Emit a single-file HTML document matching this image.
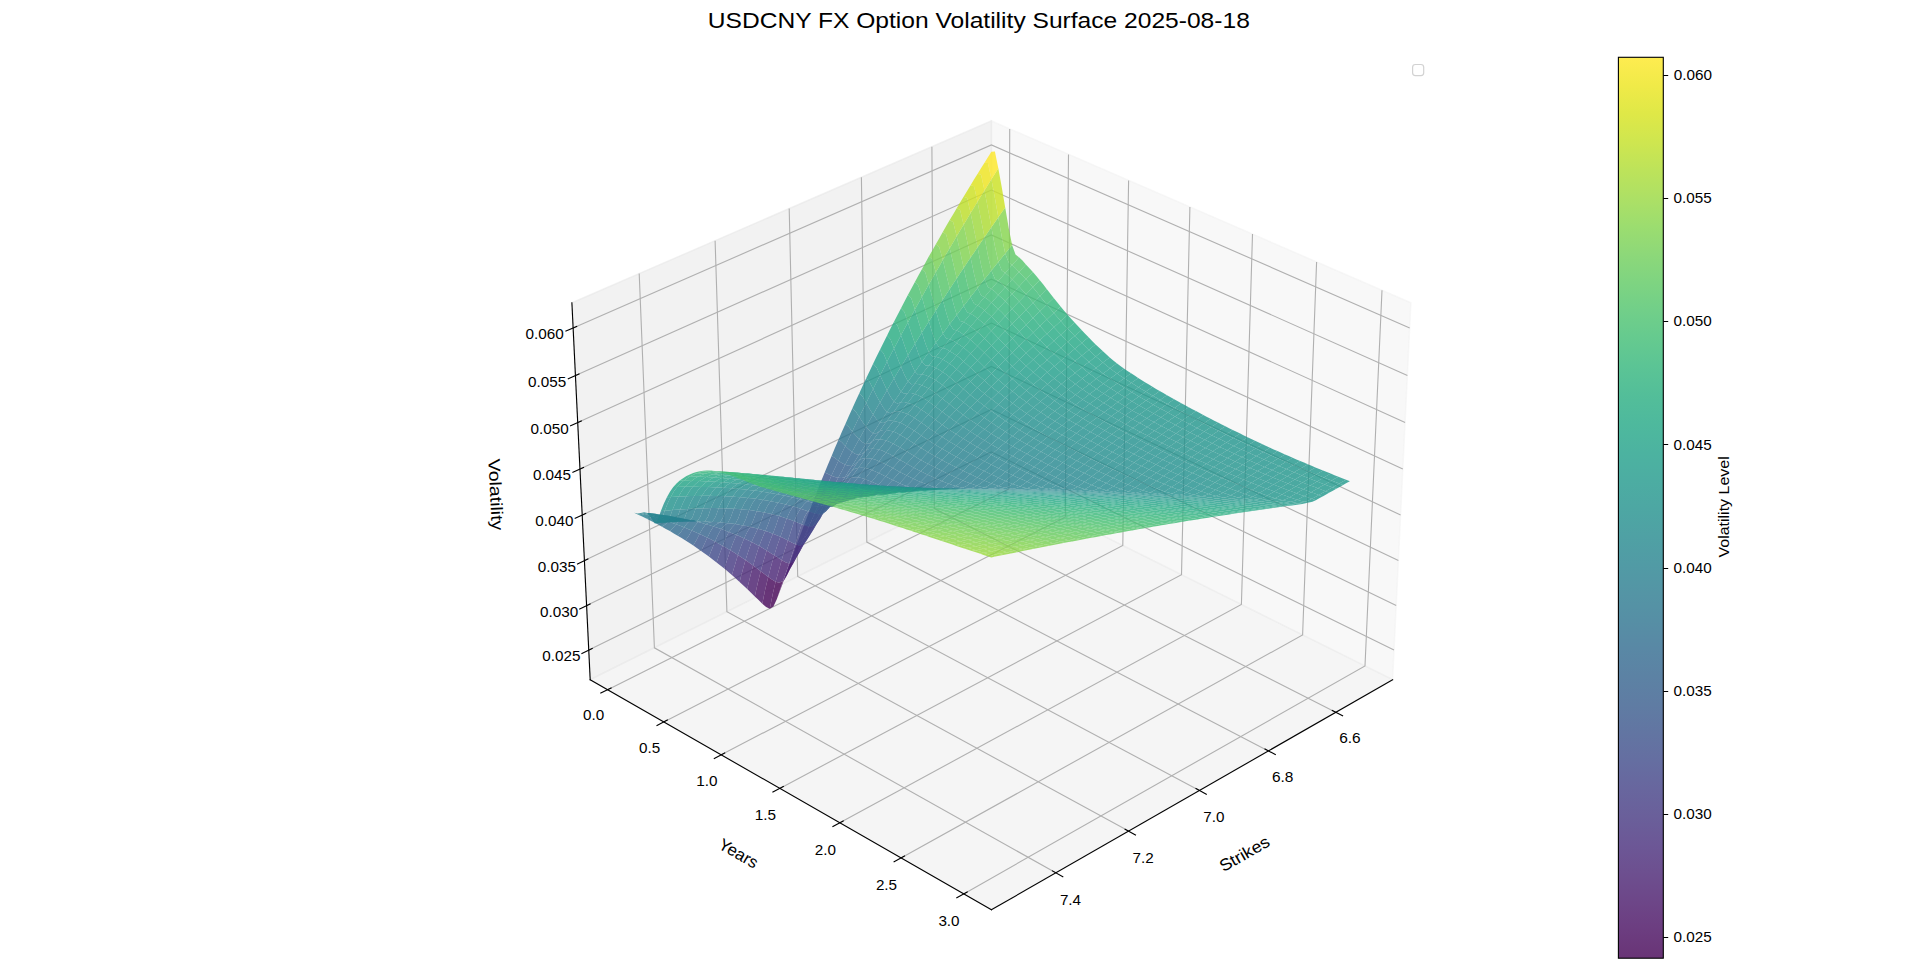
<!DOCTYPE html><html><head><meta charset="utf-8"><title>USDCNY FX Option Volatility Surface</title><style>html,body{margin:0;padding:0;background:#fff;overflow:hidden}svg{display:block}</style></head><body><svg width="1920" height="973" viewBox="0 0 1920 973" shape-rendering="auto"><polygon points="991.4,480.2 1392.6,679.7 1410.9,302.8 991.4,120.9" fill="#f2f2f2" fill-opacity="0.50" stroke="#f2f2f2" stroke-opacity="0.50" stroke-width="1.39"/><polygon points="991.4,480.2 590.2,679.7 571.9,302.8 991.4,120.9" fill="#e6e6e6" fill-opacity="0.50" stroke="#e6e6e6" stroke-opacity="0.50" stroke-width="1.39"/><polygon points="991.4,480.2 590.2,679.7 991.4,909.8 1392.6,679.7" fill="#ececec" fill-opacity="0.50" stroke="#ececec" stroke-opacity="0.50" stroke-width="1.39"/><path d="M1335.7,712.3 L934.3,508.6 L931.9,146.7 M1268.4,750.9 L866.8,542.1 L861.4,177.3 M1199.4,790.5 L797.7,576.5 L789.2,208.6 M1128.6,831.1 L726.9,611.7 L715.1,240.7 M1055.8,872.8 L654.4,647.8 L639.2,273.6" fill="none" stroke="#b0b0b0" stroke-width="1.11"/><path d="M1009.7,128.9 L1008.9,488.9 L607.7,689.7 M1068.5,154.4 L1065.3,516.9 L663.8,721.9 M1128.6,180.4 L1122.8,545.5 L721.2,754.8 M1189.9,207 L1181.5,574.7 L779.8,788.4 M1252.5,234.1 L1241.4,604.5 L839.8,822.8 M1316.6,261.9 L1302.6,634.9 L901,858 M1382,290.2 L1365,666 L963.7,893.9" fill="none" stroke="#b0b0b0" stroke-width="1.11"/><path d="M588.8,650.1 L991.4,451.9 L1394,650.1 M586.6,605.6 L991.4,409.4 L1396.2,605.6 M584.4,560.6 L991.4,366.4 L1398.4,560.6 M582.2,515 L991.4,323 L1400.6,515 M580,469 L991.4,279.2 L1402.8,469 M577.7,422.5 L991.4,234.9 L1405.1,422.5 M575.5,375.5 L991.4,190.1 L1407.4,375.5 M573.1,328 L991.4,144.9 L1409.7,328" fill="none" stroke="#b0b0b0" stroke-width="1.11"/><path d="M1392.6,679.7 L991.4,909.8" fill="none" stroke="#000" stroke-width="1.11" stroke-linecap="square"/><path d="M1332.3,710.5 L1342.6,715.8 M1265,749.1 L1275.3,754.5 M1196,788.6 L1206.3,794.2 M1125.1,829.2 L1135.5,834.9 M1052.4,870.9 L1062.8,876.7" fill="none" stroke="#000" stroke-width="1.11" stroke-linecap="square"/><path d="M590.2,679.7 L991.4,909.8" fill="none" stroke="#000" stroke-width="1.11" stroke-linecap="square"/><path d="M611.1,688 L600.8,693.1 M667.3,720.1 L657,725.4 M724.7,753 L714.3,758.4 M783.3,786.6 L772.9,792.1 M843.2,820.9 L832.9,826.6 M904.5,856.1 L894.1,861.8 M967.2,891.9 L956.8,897.8" fill="none" stroke="#000" stroke-width="1.11" stroke-linecap="square"/><path d="M590.2,679.7 L571.9,302.8" fill="none" stroke="#000" stroke-width="1.11" stroke-linecap="square"/><path d="M592.2,648.4 L581.9,653.5 M590.1,603.9 L579.7,608.9 M587.9,558.9 L577.5,563.9 M585.7,513.4 L575.2,518.3 M583.5,467.4 L572.9,472.3 M581.3,420.9 L570.6,425.8 M579,373.9 L568.3,378.7 M576.7,326.4 L565.9,331.1" fill="none" stroke="#000" stroke-width="1.11" stroke-linecap="square"/><g fill-opacity="0.80"><path d="M1012.1 245.1 1008.7 249.3 1005.2 253.5 1008.7 262.5 1012.1 265.1 1015.6 261.2 1019 257.3 1015.5 254.5 1012.1 245.1Z" fill="#5cc863"/><path d="M1019 257.3 1015.6 261.2 1012.1 265.1 1015.6 268.2 1019 272 1022.5 268.3 1025.9 264.5 1022.5 260.5 1019 257.3Z" fill="#54c568"/><path d="M1005.2 253.5 1001.8 257.8 998.3 262 1001.8 270.6 1005.2 273 1008.7 269 1012.1 265.1 1008.7 262.5 1005.2 253.5Z" fill="#54c568"/><path d="M1005.2 207.4 1001.8 212.3 998.3 217.3 1001.8 237 1005.2 253.5 1008.7 249.3 1012.1 245.1 1008.7 228 1005.2 207.4Z" fill="#84d44b"/><path d="M998.3 262 994.9 266.3 991.4 270.6 994.9 278.7 998.3 281 1001.8 277 1005.2 273 1001.8 270.6 998.3 262Z" fill="#4cc26c"/><path d="M1012.1 265.1 1008.7 269 1005.2 273 1008.7 275.9 1012.1 279.6 1015.6 275.8 1019 272 1015.6 268.2 1012.1 265.1Z" fill="#4cc26c"/><path d="M1025.9 264.5 1022.5 268.3 1019 272 1022.5 275.6 1026 279.2 1029.4 275.5 1032.9 271.9 1029.4 268.2 1025.9 264.5Z" fill="#4ec36b"/><path d="M998.3 217.3 994.9 222.2 991.4 227.2 994.9 246.2 998.3 262 1001.8 257.8 1005.2 253.5 1001.8 237 998.3 217.3Z" fill="#77d153"/><path d="M991.4 270.6 988 274.9 984.5 279.3 987.9 287 991.4 289 994.9 285 998.3 281 994.9 278.7 991.4 270.6Z" fill="#44bf70"/><path d="M1005.2 273 1001.8 277 998.3 281 1001.8 283.7 1005.2 287.2 1008.7 283.4 1012.1 279.6 1008.7 275.9 1005.2 273Z" fill="#46c06f"/><path d="M1032.9 271.9 1029.4 275.5 1026 279.2 1029.4 283 1032.9 287.2 1036.4 283.7 1039.8 280.2 1036.3 275.9 1032.9 271.9Z" fill="#46c06f"/><path d="M1019 272 1015.6 275.8 1012.1 279.6 1015.6 283 1019.1 286.5 1022.5 282.8 1026 279.2 1022.5 275.6 1019 272Z" fill="#46c06f"/><path d="M991.4 227.2 987.9 232.2 984.5 237.2 987.9 255.4 991.4 270.6 994.9 266.3 998.3 262 994.9 246.2 991.4 227.2Z" fill="#6ece58"/><path d="M984.5 279.3 981 283.6 977.6 288 981 295.3 984.5 297.2 987.9 293.1 991.4 289 987.9 287 984.5 279.3Z" fill="#3dbc74"/><path d="M1039.8 280.2 1036.4 283.7 1032.9 287.2 1036.4 291.5 1039.9 295.9 1043.3 292.5 1046.7 289.1 1043.3 284.6 1039.8 280.2Z" fill="#3fbc73"/><path d="M998.3 281 994.9 285 991.4 289 994.9 291.6 998.3 295 1001.8 291.1 1005.2 287.2 1001.8 283.7 998.3 281Z" fill="#3fbc73"/><path d="M1012.1 279.6 1008.7 283.4 1005.2 287.2 1008.7 290.5 1012.2 293.9 1015.6 290.2 1019.1 286.5 1015.6 283 1012.1 279.6Z" fill="#40bd72"/><path d="M1026 279.2 1022.5 282.8 1019.1 286.5 1022.5 290.2 1026 294.3 1029.5 290.8 1032.9 287.2 1029.4 283 1026 279.2Z" fill="#40bd72"/><path d="M984.5 237.2 981 242.2 977.6 247.3 981 264.8 984.5 279.3 988 274.9 991.4 270.6 987.9 255.4 984.5 237.2Z" fill="#63cb5f"/><path d="M977.6 288 974.1 292.5 970.6 296.9 974.1 303.8 977.6 305.4 981 301.3 984.5 297.2 981 295.3 977.6 288Z" fill="#37b878"/><path d="M1046.7 289.1 1043.3 292.5 1039.9 295.9 1043.3 300.2 1046.8 304.5 1050.2 301.2 1053.7 297.9 1050.2 293.5 1046.7 289.1Z" fill="#38b977"/><path d="M977.6 247.3 974.1 252.4 970.6 257.5 974.1 274.2 977.6 288 981 283.6 984.5 279.3 981 264.8 977.6 247.3Z" fill="#58c765"/><path d="M991.4 289 987.9 293.1 984.5 297.2 987.9 299.6 991.4 302.8 994.9 298.9 998.3 295 994.9 291.6 991.4 289Z" fill="#3aba76"/><path d="M1032.9 287.2 1029.5 290.8 1026 294.3 1029.5 298.5 1033 302.8 1036.4 299.3 1039.9 295.9 1036.4 291.5 1032.9 287.2Z" fill="#3aba76"/><path d="M1005.2 287.2 1001.8 291.1 998.3 295 1001.8 298.1 1005.3 301.3 1008.7 297.6 1012.2 293.9 1008.7 290.5 1005.2 287.2Z" fill="#3bbb75"/><path d="M1019.1 286.5 1015.6 290.2 1012.2 293.9 1015.6 297.5 1019.1 301.5 1022.6 297.9 1026 294.3 1022.5 290.2 1019.1 286.5Z" fill="#3bbb75"/><path d="M970.6 296.9 967.2 301.4 963.7 305.9 967.2 312.3 970.6 313.7 974.1 309.6 977.6 305.4 974.1 303.8 970.6 296.9Z" fill="#31b57b"/><path d="M970.6 257.5 967.1 262.7 963.7 267.9 967.2 283.8 970.6 296.9 974.1 292.5 977.6 288 974.1 274.2 970.6 257.5Z" fill="#4ec36b"/><path d="M1053.7 297.9 1050.2 301.2 1046.8 304.5 1050.3 308.8 1053.8 313 1057.2 309.8 1060.6 306.6 1057.2 302.3 1053.7 297.9Z" fill="#32b67a"/><path d="M984.5 297.2 981 301.3 977.6 305.4 981 307.6 984.5 310.6 987.9 306.7 991.4 302.8 987.9 299.6 984.5 297.2Z" fill="#34b679"/><path d="M998.3 168.3 994.9 173.8 991.4 179.3 994.9 197.9 998.3 217.3 1001.8 212.3 1005.2 207.4 1001.8 187.5 998.3 168.3Z" fill="#cae11f"/><path d="M1039.9 295.9 1036.4 299.3 1033 302.8 1036.4 307 1039.9 311.2 1043.4 307.9 1046.8 304.5 1043.3 300.2 1039.9 295.9Z" fill="#34b679"/><path d="M1026 294.3 1022.6 297.9 1019.1 301.5 1022.6 305.6 1026.1 309.7 1029.5 306.2 1033 302.8 1029.5 298.5 1026 294.3Z" fill="#35b779"/><path d="M998.3 295 994.9 298.9 991.4 302.8 994.9 305.8 998.3 308.9 1001.8 305.1 1005.3 301.3 1001.8 298.1 998.3 295Z" fill="#35b779"/><path d="M963.7 267.9 960.2 273.1 956.7 278.4 960.2 293.5 963.7 305.9 967.2 301.4 970.6 296.9 967.2 283.8 963.7 267.9Z" fill="#44bf70"/><path d="M1012.2 293.9 1008.7 297.6 1005.3 301.3 1008.7 304.9 1012.2 308.8 1015.7 305.1 1019.1 301.5 1015.6 297.5 1012.2 293.9Z" fill="#37b878"/><path d="M963.7 305.9 960.2 310.4 956.8 314.9 960.2 320.9 963.7 322.1 967.1 317.9 970.6 313.7 967.2 312.3 963.7 305.9Z" fill="#2cb17e"/><path d="M991.4 179.3 987.9 184.9 984.5 190.4 987.9 208.5 991.4 227.2 994.9 222.2 998.3 217.3 994.9 197.9 991.4 179.3Z" fill="#bade28"/><path d="M1060.6 306.6 1057.2 309.8 1053.8 313 1057.3 317.1 1060.8 321.1 1064.2 317.9 1067.6 314.8 1064.1 310.8 1060.6 306.6Z" fill="#2db27d"/><path d="M1046.8 304.5 1043.4 307.9 1039.9 311.2 1043.4 315.4 1046.9 319.5 1050.3 316.2 1053.8 313 1050.3 308.8 1046.8 304.5Z" fill="#2eb37c"/><path d="M977.6 305.4 974.1 309.6 970.6 313.7 974.1 315.7 977.5 318.6 981 314.6 984.5 310.6 981 307.6 977.6 305.4Z" fill="#2eb37c"/><path d="M956.7 278.4 953.3 283.6 949.8 289 953.3 303.2 956.8 314.9 960.2 310.4 963.7 305.9 960.2 293.5 956.7 278.4Z" fill="#3bbb75"/><path d="M984.5 190.4 981 196.1 977.5 201.7 981 219.2 984.5 237.2 987.9 232.2 991.4 227.2 987.9 208.5 984.5 190.4Z" fill="#addc30"/><path d="M1033 302.8 1029.5 306.2 1026.1 309.7 1029.5 313.8 1033 317.9 1036.5 314.6 1039.9 311.2 1036.4 307 1033 302.8Z" fill="#2fb47c"/><path d="M991.4 302.8 987.9 306.7 984.5 310.6 987.9 313.5 991.4 316.5 994.9 312.7 998.3 308.9 994.9 305.8 991.4 302.8Z" fill="#31b57b"/><path d="M956.8 314.9 953.3 319.5 949.8 324.1 953.3 329.6 956.7 330.6 960.2 326.4 963.7 322.1 960.2 320.9 956.8 314.9Z" fill="#27ad81"/><path d="M1019.1 301.5 1015.7 305.1 1012.2 308.8 1015.7 312.7 1019.2 316.7 1022.6 313.2 1026.1 309.7 1022.6 305.6 1019.1 301.5Z" fill="#31b57b"/><path d="M1005.3 301.3 1001.8 305.1 998.3 308.9 1001.8 312.3 1005.3 316.1 1008.7 312.4 1012.2 308.8 1008.7 304.9 1005.3 301.3Z" fill="#32b67a"/><path d="M977.5 201.7 974 207.4 970.6 213.1 974.1 230.1 977.6 247.3 981 242.2 984.5 237.2 981 219.2 977.5 201.7Z" fill="#9dd93b"/><path d="M1067.6 314.8 1064.2 317.9 1060.8 321.1 1064.2 324.9 1067.7 328.6 1071.2 325.5 1074.6 322.5 1071.1 318.8 1067.6 314.8Z" fill="#28ae80"/><path d="M949.8 289 946.3 294.3 942.8 299.7 946.3 313.1 949.8 324.1 953.3 319.5 956.8 314.9 953.3 303.2 949.8 289Z" fill="#34b679"/><path d="M1053.8 313 1050.3 316.2 1046.9 319.5 1050.4 323.5 1053.9 327.3 1057.3 324.2 1060.8 321.1 1057.3 317.1 1053.8 313Z" fill="#29af7f"/><path d="M970.6 313.7 967.1 317.9 963.7 322.1 967.1 323.9 970.6 326.6 974.1 322.6 977.5 318.6 974.1 315.7 970.6 313.7Z" fill="#29af7f"/><path d="M783.6 580.9 780.2 590.3 776.8 599.2 779.9 590.2 782.9 581.1 786.5 576.1 789.9 569.3 786.8 575.4 783.6 580.9Z" fill="#46085c"/><path d="M970.6 213.1 967.1 218.9 963.6 224.7 967.1 241 970.6 257.5 974.1 252.4 977.6 247.3 974.1 230.1 970.6 213.1Z" fill="#8ed645"/><path d="M1039.9 311.2 1036.5 314.6 1033 317.9 1036.5 322 1040 326 1043.4 322.7 1046.9 319.5 1043.4 315.4 1039.9 311.2Z" fill="#2ab07f"/><path d="M949.8 324.1 946.3 328.7 942.9 333.4 946.3 338.5 949.8 339.2 953.2 334.9 956.7 330.6 953.3 329.6 949.8 324.1Z" fill="#23a983"/><path d="M984.5 310.6 981 314.6 977.5 318.6 981 321.3 984.5 324.1 987.9 320.3 991.4 316.5 987.9 313.5 984.5 310.6Z" fill="#2cb17e"/><path d="M1026.1 309.7 1022.6 313.2 1019.2 316.7 1022.6 320.7 1026.1 324.7 1029.6 321.3 1033 317.9 1029.5 313.8 1026.1 309.7Z" fill="#2cb17e"/><path d="M942.8 299.7 939.3 305.1 935.9 310.5 939.4 323.1 942.9 333.4 946.3 328.7 949.8 324.1 946.3 313.1 942.8 299.7Z" fill="#2db27d"/><path d="M790.4 561.9 787 571.4 783.6 580.9 786.8 575.4 789.9 569.3 793.4 561.8 796.8 554 793.6 558.4 790.4 561.9Z" fill="#481769"/><path d="M1012.2 308.8 1008.7 312.4 1005.3 316.1 1008.8 319.9 1012.2 323.8 1015.7 320.3 1019.2 316.7 1015.7 312.7 1012.2 308.8Z" fill="#2db27d"/><path d="M998.3 308.9 994.9 312.7 991.4 316.5 994.9 319.8 998.3 323.4 1001.8 319.7 1005.3 316.1 1001.8 312.3 998.3 308.9Z" fill="#2db27d"/><path d="M991.4 151.8 987.9 157.3 984.5 162.8 987.9 163 991.4 179.3 994.9 173.8 998.3 168.3 994.9 151.6 991.4 151.8Z" fill="#fde725"/><path d="M963.6 224.7 960.1 230.5 956.7 236.3 960.2 252.1 963.7 267.9 967.1 262.7 970.6 257.5 967.1 241 963.6 224.7Z" fill="#7fd34e"/><path d="M776.8 599.2 773.4 606.4 769.8 608.8 772.7 594.3 775.6 581.8 779.3 582.8 782.9 581.1 779.9 590.2 776.8 599.2Z" fill="#440154"/><path d="M1074.6 322.5 1071.2 325.5 1067.7 328.6 1071.2 332.2 1074.7 335.9 1078.2 332.9 1081.6 330 1078.1 326.3 1074.6 322.5Z" fill="#25ac82"/><path d="M963.7 322.1 960.2 326.4 956.7 330.6 960.2 332.2 963.6 334.7 967.1 330.7 970.6 326.6 967.1 323.9 963.7 322.1Z" fill="#25ac82"/><path d="M1060.8 321.1 1057.3 324.2 1053.9 327.3 1057.4 331.1 1060.9 334.7 1064.3 331.6 1067.7 328.6 1064.2 324.9 1060.8 321.1Z" fill="#26ad81"/><path d="M942.9 333.4 939.4 338.1 935.9 342.8 939.3 347.4 942.8 347.9 946.3 343.5 949.8 339.2 946.3 338.5 942.9 333.4Z" fill="#21a585"/><path d="M984.5 162.8 981 168.3 977.5 173.9 981 174.6 984.5 190.4 987.9 184.9 991.4 179.3 987.9 163 984.5 162.8Z" fill="#efe51c"/><path d="M935.9 310.5 932.4 316 928.9 321.5 932.4 333.3 935.9 342.8 939.4 338.1 942.9 333.4 939.4 323.1 935.9 310.5Z" fill="#26ad81"/><path d="M797.2 543.2 793.8 552.5 790.4 561.9 793.6 558.4 796.8 554 800.3 546 803.8 538.1 800.5 541.1 797.2 543.2Z" fill="#482576"/><path d="M956.7 236.3 953.2 242.2 949.7 248.2 953.2 263.3 956.7 278.4 960.2 273.1 963.7 267.9 960.2 252.1 956.7 236.3Z" fill="#70cf57"/><path d="M1046.9 319.5 1043.4 322.7 1040 326 1043.5 329.9 1047 333.7 1050.4 330.5 1053.9 327.3 1050.4 323.5 1046.9 319.5Z" fill="#27ad81"/><path d="M1033 317.9 1029.6 321.3 1026.1 324.7 1029.6 328.7 1033.1 332.6 1036.5 329.3 1040 326 1036.5 322 1033 317.9Z" fill="#28ae80"/><path d="M977.5 318.6 974.1 322.6 970.6 326.6 974 329.2 977.5 331.9 981 328 984.5 324.1 981 321.3 977.5 318.6Z" fill="#28ae80"/><path d="M977.5 173.9 974 179.6 970.6 185.2 974 186.2 977.5 201.7 981 196.1 984.5 190.4 981 174.6 977.5 173.9Z" fill="#dfe318"/><path d="M949.7 248.2 946.2 254.1 942.8 260.1 946.3 274.6 949.8 289 953.3 283.6 956.7 278.4 953.2 263.3 949.7 248.2Z" fill="#60ca60"/><path d="M1019.2 316.7 1015.7 320.3 1012.2 323.8 1015.7 327.7 1019.2 331.6 1022.7 328.2 1026.1 324.7 1022.6 320.7 1019.2 316.7Z" fill="#29af7f"/><path d="M804.1 524.9 800.7 534 797.2 543.2 800.5 541.1 803.8 538.1 807.2 530.1 810.7 522.2 807.4 524 804.1 524.9Z" fill="#46337f"/><path d="M928.9 321.5 925.4 327 921.9 332.6 925.4 343.5 928.9 352.3 932.4 347.6 935.9 342.8 932.4 333.3 928.9 321.5Z" fill="#22a884"/><path d="M991.4 316.5 987.9 320.3 984.5 324.1 987.9 327.3 991.4 330.9 994.9 327.1 998.3 323.4 994.9 319.8 991.4 316.5Z" fill="#29af7f"/><path d="M1005.3 316.1 1001.8 319.7 998.3 323.4 1001.8 327.2 1005.3 330.9 1008.8 327.4 1012.2 323.8 1008.8 319.9 1005.3 316.1Z" fill="#29af7f"/><path d="M956.7 330.6 953.2 334.9 949.8 339.2 953.2 340.6 956.7 342.9 960.1 338.8 963.6 334.7 960.2 332.2 956.7 330.6Z" fill="#22a884"/><path d="M1081.6 330 1078.2 332.9 1074.7 335.9 1078.3 339.5 1081.8 343 1085.2 340.1 1088.6 337.3 1085.1 333.7 1081.6 330Z" fill="#23a983"/><path d="M935.9 342.8 932.4 347.6 928.9 352.3 932.4 356.5 935.8 356.7 939.3 352.3 942.8 347.9 939.3 347.4 935.9 342.8Z" fill="#1fa188"/><path d="M970.6 185.2 967.1 190.9 963.6 196.7 967.1 198.1 970.6 213.1 974 207.4 977.5 201.7 974 186.2 970.6 185.2Z" fill="#cde11d"/><path d="M942.8 260.1 939.3 266.2 935.8 272.3 939.3 286 942.8 299.7 946.3 294.3 949.8 289 946.3 274.6 942.8 260.1Z" fill="#54c568"/><path d="M1067.7 328.6 1064.3 331.6 1060.9 334.7 1064.4 338.2 1067.9 341.8 1071.3 338.8 1074.7 335.9 1071.2 332.2 1067.7 328.6Z" fill="#24aa83"/><path d="M810.9 507 807.5 515.9 804.1 524.9 807.4 524 810.7 522.2 814.1 514.3 817.6 506.5 814.3 507.1 810.9 507Z" fill="#424086"/><path d="M1053.9 327.3 1050.4 330.5 1047 333.7 1050.5 337.3 1054 340.8 1057.4 337.7 1060.9 334.7 1057.4 331.1 1053.9 327.3Z" fill="#24aa83"/><path d="M963.6 196.7 960.1 202.5 956.7 208.3 960.1 210 963.6 224.7 967.1 218.9 970.6 213.1 967.1 198.1 963.6 196.7Z" fill="#bddf26"/><path d="M921.9 332.6 918.4 338.2 915 343.8 918.5 353.9 921.9 362 925.4 357.1 928.9 352.3 925.4 343.5 921.9 332.6Z" fill="#1fa287"/><path d="M935.8 272.3 932.3 278.4 928.8 284.5 932.3 297.6 935.9 310.5 939.3 305.1 942.8 299.7 939.3 286 935.8 272.3Z" fill="#48c16e"/><path d="M970.6 326.6 967.1 330.7 963.6 334.7 967.1 337.2 970.5 339.7 974 335.8 977.5 331.9 974 329.2 970.6 326.6Z" fill="#25ab82"/><path d="M1040 326 1036.5 329.3 1033.1 332.6 1036.6 336.4 1040.1 340.1 1043.5 336.8 1047 333.7 1043.5 329.9 1040 326Z" fill="#25ab82"/><path d="M1026.1 324.7 1022.7 328.2 1019.2 331.6 1022.7 335.4 1026.2 339.2 1029.6 335.9 1033.1 332.6 1029.6 328.7 1026.1 324.7Z" fill="#25ac82"/><path d="M956.7 208.3 953.2 214.2 949.7 220.1 953.2 222.2 956.7 236.3 960.1 230.5 963.6 224.7 960.1 210 956.7 208.3Z" fill="#aadc32"/><path d="M928.9 352.3 925.4 357.1 921.9 362 925.4 365.6 928.8 365.6 932.3 361.1 935.8 356.7 932.4 356.5 928.9 352.3Z" fill="#1e9d89"/><path d="M817.8 489.6 814.4 498.2 810.9 507 814.3 507.1 817.6 506.5 821 498.7 824.5 491 821.1 490.5 817.8 489.6Z" fill="#3e4c8a"/><path d="M949.8 339.2 946.3 343.5 942.8 347.9 946.2 349.1 949.7 351.2 953.2 347.1 956.7 342.9 953.2 340.6 949.8 339.2Z" fill="#20a486"/><path d="M984.5 324.1 981 328 977.5 331.9 981 335 984.5 338.4 987.9 334.6 991.4 330.9 987.9 327.3 984.5 324.1Z" fill="#26ad81"/><path d="M1012.2 323.8 1008.8 327.4 1005.3 330.9 1008.8 334.7 1012.3 338.5 1015.7 335 1019.2 331.6 1015.7 327.7 1012.2 323.8Z" fill="#26ad81"/><path d="M928.8 284.5 925.3 290.7 921.9 297 925.4 309.4 928.9 321.5 932.4 316 935.9 310.5 932.3 297.6 928.8 284.5Z" fill="#3bbb75"/><path d="M998.3 323.4 994.9 327.1 991.4 330.9 994.9 334.5 998.4 338.2 1001.8 334.5 1005.3 330.9 1001.8 327.2 998.3 323.4Z" fill="#26ad81"/><path d="M915 343.8 911.5 349.5 908 355.2 911.5 364.5 915 371.7 918.5 366.8 921.9 362 918.5 353.9 915 343.8Z" fill="#1f9e89"/><path d="M949.7 220.1 946.2 226.1 942.8 232.1 946.2 234.5 949.7 248.2 953.2 242.2 956.7 236.3 953.2 222.2 949.7 220.1Z" fill="#98d83e"/><path d="M1088.6 337.3 1085.2 340.1 1081.8 343 1085.3 346.5 1088.8 349.9 1092.2 347.1 1095.6 344.4 1092.1 340.9 1088.6 337.3Z" fill="#21a685"/><path d="M824.7 472.6 821.2 481 817.8 489.6 821.1 490.5 824.5 491 828 483.3 831.4 475.7 828.1 474.1 824.7 472.6Z" fill="#39568c"/><path d="M921.9 297 918.4 303.3 914.9 309.6 918.4 321.3 921.9 332.6 925.4 327 928.9 321.5 925.4 309.4 921.9 297Z" fill="#32b67a"/><path d="M769.8 608.8 766.1 607 762.3 603.7 765.2 589.5 768.2 576.9 771.9 579.6 775.6 581.8 772.7 594.3 769.8 608.8Z" fill="#450559"/><path d="M1074.7 335.9 1071.3 338.8 1067.9 341.8 1071.4 345.3 1074.9 348.7 1078.3 345.9 1081.8 343 1078.3 339.5 1074.7 335.9Z" fill="#22a785"/><path d="M942.8 232.1 939.3 238.2 935.8 244.3 939.2 246.9 942.8 260.1 946.2 254.1 949.7 248.2 946.2 234.5 942.8 232.1Z" fill="#89d548"/><path d="M908 355.2 904.5 360.9 901 366.7 904.5 375.1 908 381.6 911.5 376.7 915 371.7 911.5 364.5 908 355.2Z" fill="#1f988b"/><path d="M1060.9 334.7 1057.4 337.7 1054 340.8 1057.5 344.3 1061 347.8 1064.4 344.8 1067.9 341.8 1064.4 338.2 1060.9 334.7Z" fill="#22a785"/><path d="M963.6 334.7 960.1 338.8 956.7 342.9 960.1 345.2 963.6 347.6 967.1 343.7 970.5 339.7 967.1 337.2 963.6 334.7Z" fill="#22a785"/><path d="M921.9 362 918.5 366.8 915 371.7 918.4 374.9 921.8 374.6 925.3 370.1 928.8 365.6 925.4 365.6 921.9 362Z" fill="#1f988b"/><path d="M831.6 455.9 828.1 464.2 824.7 472.6 828.1 474.1 831.4 475.7 834.9 468.2 838.4 460.7 835 458.1 831.6 455.9Z" fill="#34618d"/><path d="M914.9 309.6 911.4 315.9 907.9 322.4 911.4 333.3 915 343.8 918.4 338.2 921.9 332.6 918.4 321.3 914.9 309.6Z" fill="#29af7f"/><path d="M935.8 244.3 932.3 250.4 928.8 256.6 932.3 259.6 935.8 272.3 939.3 266.2 942.8 260.1 939.2 246.9 935.8 244.3Z" fill="#77d153"/><path d="M1047 333.7 1043.5 336.8 1040.1 340.1 1043.6 343.6 1047.1 347 1050.5 343.9 1054 340.8 1050.5 337.3 1047 333.7Z" fill="#22a884"/><path d="M942.8 347.9 939.3 352.3 935.8 356.7 939.2 357.7 942.7 359.6 946.2 355.4 949.7 351.2 946.2 349.1 942.8 347.9Z" fill="#1fa188"/><path d="M1033.1 332.6 1029.6 335.9 1026.2 339.2 1029.7 342.9 1033.2 346.5 1036.6 343.3 1040.1 340.1 1036.6 336.4 1033.1 332.6Z" fill="#23a983"/><path d="M907.9 322.4 904.5 328.8 901 335.3 904.5 345.5 908 355.2 911.5 349.5 915 343.8 911.4 333.3 907.9 322.4Z" fill="#23a983"/><path d="M838.5 439.7 835 447.8 831.6 455.9 835 458.1 838.4 460.7 841.8 453.3 845.3 445.9 841.9 442.3 838.5 439.7Z" fill="#2f6b8e"/><path d="M928.8 256.6 925.3 262.9 921.9 269.2 925.3 272.4 928.8 284.5 932.3 278.4 935.8 272.3 932.3 259.6 928.8 256.6Z" fill="#65cb5e"/><path d="M977.5 331.9 974 335.8 970.5 339.7 974 342.7 977.5 346 981 342.2 984.5 338.4 981 335 977.5 331.9Z" fill="#23a983"/><path d="M1019.2 331.6 1015.7 335 1012.3 338.5 1015.8 342.3 1019.2 345.9 1022.7 342.6 1026.2 339.2 1022.7 335.4 1019.2 331.6Z" fill="#23a983"/><path d="M1005.3 330.9 1001.8 334.5 998.4 338.2 1001.8 341.8 1005.3 345.5 1008.8 342 1012.3 338.5 1008.8 334.7 1005.3 330.9Z" fill="#24aa83"/><path d="M991.4 330.9 987.9 334.6 984.5 338.4 987.9 341.9 991.4 345.5 994.9 341.8 998.4 338.2 994.9 334.5 991.4 330.9Z" fill="#24aa83"/><path d="M901 366.7 897.5 372.6 894 378.4 897.5 385.9 901 391.7 904.5 386.6 908 381.6 904.5 375.1 901 366.7Z" fill="#20928c"/><path d="M921.9 269.2 918.4 275.6 914.9 282 918.3 285.4 921.9 297 925.3 290.7 928.8 284.5 925.3 272.4 921.9 269.2Z" fill="#56c667"/><path d="M845.4 423.9 841.9 431.7 838.5 439.7 841.9 442.3 845.3 445.9 848.8 438.6 852.2 431.4 848.8 426.9 845.4 423.9Z" fill="#2c738e"/><path d="M901 335.3 897.5 341.9 894 348.4 897.5 357.9 901 366.7 904.5 360.9 908 355.2 904.5 345.5 901 335.3Z" fill="#1fa287"/><path d="M914.9 282 911.4 288.5 907.9 295 911.4 298.5 914.9 309.6 918.4 303.3 921.9 297 918.3 285.4 914.9 282Z" fill="#48c16e"/><path d="M915 371.7 911.5 376.7 908 381.6 911.4 384.3 914.8 383.7 918.3 379.1 921.8 374.6 918.4 374.9 915 371.7Z" fill="#20938c"/><path d="M1095.6 344.4 1092.2 347.1 1088.8 349.9 1092.3 353.2 1095.8 356.5 1099.3 353.8 1102.7 351.1 1099.2 347.8 1095.6 344.4Z" fill="#20a386"/><path d="M852.3 408.4 848.9 416.1 845.4 423.9 848.8 426.9 852.2 431.4 855.7 424.2 859.2 417 855.7 411.6 852.3 408.4Z" fill="#287d8e"/><path d="M894 348.4 890.5 355.1 887 361.8 890.5 370.4 894 378.4 897.5 372.6 901 366.7 897.5 357.9 894 348.4Z" fill="#1e9c89"/><path d="M907.9 295 904.5 301.6 901 308.3 904.4 311.9 907.9 322.4 911.4 315.9 914.9 309.6 911.4 298.5 907.9 295Z" fill="#3aba76"/><path d="M859.3 393.2 855.8 400.7 852.3 408.4 855.7 411.6 859.2 417 862.7 409.9 866.2 402.9 862.7 396.7 859.3 393.2Z" fill="#25858e"/><path d="M956.7 342.9 953.2 347.1 949.7 351.2 953.1 353.3 956.6 355.6 960.1 351.6 963.6 347.6 960.1 345.2 956.7 342.9Z" fill="#20a486"/><path d="M1081.8 343 1078.3 345.9 1074.9 348.7 1078.4 352.1 1081.9 355.5 1085.4 352.7 1088.8 349.9 1085.3 346.5 1081.8 343Z" fill="#20a486"/><path d="M894 378.4 890.5 384.3 887 390.2 890.5 396.8 894 401.8 897.5 396.7 901 391.7 897.5 385.9 894 378.4Z" fill="#228d8d"/><path d="M901 308.3 897.5 315 894 321.8 897.5 325.5 901 335.3 904.5 328.8 907.9 322.4 904.4 311.9 901 308.3Z" fill="#2fb47c"/><path d="M866.2 378.3 862.7 385.7 859.3 393.2 862.7 396.7 866.2 402.9 869.6 395.9 873.1 389 869.6 382 866.2 378.3Z" fill="#228d8d"/><path d="M887 361.8 883.6 368.5 880.1 375.3 883.6 383.1 887 390.2 890.5 384.3 894 378.4 890.5 370.4 887 361.8Z" fill="#1f958b"/><path d="M894 321.8 890.5 328.6 887.1 335.5 890.5 339.3 894 348.4 897.5 341.9 901 335.3 897.5 325.5 894 321.8Z" fill="#26ad81"/><path d="M935.8 356.7 932.3 361.1 928.8 365.6 932.2 366.3 935.7 368 939.2 363.8 942.7 359.6 939.2 357.7 935.8 356.7Z" fill="#1e9d89"/><path d="M873.1 363.8 869.7 371 866.2 378.3 869.6 382 873.1 389 876.6 382.1 880.1 375.3 876.6 367.5 873.1 363.8Z" fill="#1f958b"/><path d="M1067.9 341.8 1064.4 344.8 1061 347.8 1064.5 351.2 1068 354.5 1071.5 351.6 1074.9 348.7 1071.4 345.3 1067.9 341.8Z" fill="#21a585"/><path d="M887.1 335.5 883.6 342.5 880.1 349.5 883.5 353.3 887 361.8 890.5 355.1 894 348.4 890.5 339.3 887.1 335.5Z" fill="#21a585"/><path d="M880.1 349.5 876.6 356.6 873.1 363.8 876.6 367.5 880.1 375.3 883.6 368.5 887 361.8 883.5 353.3 880.1 349.5Z" fill="#1e9d89"/><path d="M796.8 554 793.4 561.8 789.9 569.3 793.1 563.7 796.3 557.8 799.8 551.8 803.3 545.2 800.1 549.7 796.8 554Z" fill="#482576"/><path d="M880.1 375.3 876.6 382.1 873.1 389 876.6 396 880.1 402.2 883.6 396.2 887 390.2 883.6 383.1 880.1 375.3Z" fill="#218e8d"/><path d="M803.8 538.1 800.3 546 796.8 554 800.1 549.7 803.3 545.2 806.8 538.5 810.3 531.6 807 535 803.8 538.1Z" fill="#46307e"/><path d="M1054 340.8 1050.5 343.9 1047.1 347 1050.6 350.4 1054.1 353.8 1057.5 350.8 1061 347.8 1057.5 344.3 1054 340.8Z" fill="#21a585"/><path d="M1040.1 340.1 1036.6 343.3 1033.2 346.5 1036.7 350 1040.2 353.3 1043.6 350.1 1047.1 347 1043.6 343.6 1040.1 340.1Z" fill="#21a685"/><path d="M970.5 339.7 967.1 343.7 963.6 347.6 967 350.5 970.5 353.7 974 349.8 977.5 346 974 342.7 970.5 339.7Z" fill="#21a685"/><path d="M810.7 522.2 807.2 530.1 803.8 538.1 807 535 810.3 531.6 813.7 524.8 817.2 518 813.9 520.3 810.7 522.2Z" fill="#443b84"/><path d="M873.1 389 869.6 395.9 866.2 402.9 869.6 409 873.1 414.4 876.6 408.3 880.1 402.2 876.6 396 873.1 389Z" fill="#24878e"/><path d="M1026.2 339.2 1022.7 342.6 1019.2 345.9 1022.7 349.5 1026.2 353 1029.7 349.8 1033.2 346.5 1029.7 342.9 1026.2 339.2Z" fill="#21a685"/><path d="M887 390.2 883.6 396.2 880.1 402.2 883.5 407.9 887 412.1 890.5 407 894 401.8 890.5 396.8 887 390.2Z" fill="#24878e"/><path d="M908 381.6 904.5 386.6 901 391.7 904.4 393.8 907.8 392.9 911.3 388.3 914.8 383.7 911.4 384.3 908 381.6Z" fill="#218f8d"/><path d="M817.6 506.5 814.1 514.3 810.7 522.2 813.9 520.3 817.2 518 820.7 511.2 824.2 504.4 820.9 505.7 817.6 506.5Z" fill="#404588"/><path d="M866.2 402.9 862.7 409.9 859.2 417 862.7 422.2 866.1 426.7 869.6 420.5 873.1 414.4 869.6 409 866.2 402.9Z" fill="#27808e"/><path d="M1012.3 338.5 1008.8 342 1005.3 345.5 1008.8 349.1 1012.3 352.7 1015.8 349.3 1019.2 345.9 1015.8 342.3 1012.3 338.5Z" fill="#22a785"/><path d="M984.5 338.4 981 342.2 977.5 346 981 349.4 984.4 352.8 987.9 349.1 991.4 345.5 987.9 341.9 984.5 338.4Z" fill="#22a785"/><path d="M789.9 569.3 786.5 576.1 782.9 581.1 786 572.6 789.1 563.5 792.7 562.2 796.3 557.8 793.1 563.7 789.9 569.3Z" fill="#481d6f"/><path d="M998.4 338.2 994.9 341.8 991.4 345.5 994.9 349 998.4 352.6 1001.8 349 1005.3 345.5 1001.8 341.8 998.4 338.2Z" fill="#22a785"/><path d="M824.5 491 821 498.7 817.6 506.5 820.9 505.7 824.2 504.4 827.7 497.7 831.2 491 827.8 491.3 824.5 491Z" fill="#3c4f8a"/><path d="M859.2 417 855.7 424.2 852.2 431.4 855.7 435.6 859.1 439.2 862.6 432.9 866.1 426.7 862.7 422.2 859.2 417Z" fill="#2a788e"/><path d="M831.4 475.7 828 483.3 824.5 491 827.8 491.3 831.2 491 834.7 484.4 838.2 477.8 834.8 477.1 831.4 475.7Z" fill="#38598c"/><path d="M852.2 431.4 848.8 438.6 845.3 445.9 848.7 449.3 852.1 451.9 855.6 445.5 859.1 439.2 855.7 435.6 852.2 431.4Z" fill="#2c718e"/><path d="M838.4 460.7 834.9 468.2 831.4 475.7 834.8 477.1 838.2 477.8 841.7 471.2 845.1 464.7 841.8 463.1 838.4 460.7Z" fill="#34618d"/><path d="M845.3 445.9 841.8 453.3 838.4 460.7 841.8 463.1 845.1 464.7 848.6 458.3 852.1 451.9 848.7 449.3 845.3 445.9Z" fill="#30698e"/><path d="M949.7 351.2 946.2 355.4 942.7 359.6 946.1 361.5 949.6 363.7 953.1 359.7 956.6 355.6 953.1 353.3 949.7 351.2Z" fill="#1fa188"/><path d="M880.1 402.2 876.6 408.3 873.1 414.4 876.5 419.2 880 422.6 883.5 417.3 887 412.1 883.5 407.9 880.1 402.2Z" fill="#26828e"/><path d="M928.8 365.6 925.3 370.1 921.8 374.6 925.2 375.1 928.7 376.6 932.2 372.3 935.7 368 932.2 366.3 928.8 365.6Z" fill="#1f998a"/><path d="M1102.7 351.1 1099.3 353.8 1095.8 356.5 1099.4 359.6 1102.9 362.6 1106.3 360 1109.7 357.4 1106.2 354.3 1102.7 351.1Z" fill="#1fa188"/><path d="M1088.8 349.9 1085.4 352.7 1081.9 355.5 1085.4 358.7 1089 361.9 1092.4 359.2 1095.8 356.5 1092.3 353.2 1088.8 349.9Z" fill="#1fa187"/><path d="M901 391.7 897.5 396.7 894 401.8 897.4 403.4 900.8 402.2 904.3 397.5 907.8 392.9 904.4 393.8 901 391.7Z" fill="#228b8d"/><path d="M1074.9 348.7 1071.5 351.6 1068 354.5 1071.5 357.9 1075 361.1 1078.5 358.3 1081.9 355.5 1078.4 352.1 1074.9 348.7Z" fill="#1fa287"/><path d="M873.1 414.4 869.6 420.5 866.1 426.7 869.5 430.6 873 433.2 876.5 427.9 880 422.6 876.5 419.2 873.1 414.4Z" fill="#287c8e"/><path d="M963.6 347.6 960.1 351.6 956.6 355.6 960.1 358.3 963.5 361.4 967 357.5 970.5 353.7 967 350.5 963.6 347.6Z" fill="#1fa287"/><path d="M1061 347.8 1057.5 350.8 1054.1 353.8 1057.6 357.1 1061.1 360.4 1064.6 357.5 1068 354.5 1064.5 351.2 1061 347.8Z" fill="#20a386"/><path d="M1047.1 347 1043.6 350.1 1040.2 353.3 1043.7 356.6 1047.2 359.9 1050.6 356.8 1054.1 353.8 1050.6 350.4 1047.1 347Z" fill="#20a386"/><path d="M977.5 346 974 349.8 970.5 353.7 974 356.9 977.5 360.2 981 356.5 984.4 352.8 981 349.4 977.5 346Z" fill="#20a386"/><path d="M1033.2 346.5 1029.7 349.8 1026.2 353 1029.7 356.4 1033.2 359.6 1036.7 356.5 1040.2 353.3 1036.7 350 1033.2 346.5Z" fill="#20a386"/><path d="M1019.2 345.9 1015.8 349.3 1012.3 352.7 1015.8 356.2 1019.3 359.6 1022.8 356.3 1026.2 353 1022.7 349.5 1019.2 345.9Z" fill="#20a486"/><path d="M991.4 345.5 987.9 349.1 984.4 352.8 987.9 356.3 991.4 359.7 994.9 356.1 998.4 352.6 994.9 349 991.4 345.5Z" fill="#20a486"/><path d="M1005.3 345.5 1001.8 349 998.4 352.6 1001.9 356.1 1005.3 359.6 1008.8 356.1 1012.3 352.7 1008.8 349.1 1005.3 345.5Z" fill="#20a486"/><path d="M866.1 426.7 862.6 432.9 859.1 439.2 862.5 442.2 865.9 443.9 869.4 438.5 873 433.2 869.5 430.6 866.1 426.7Z" fill="#2b758e"/><path d="M921.8 374.6 918.3 379.1 914.8 383.7 918.2 383.9 921.7 385.3 925.2 380.9 928.7 376.6 925.2 375.1 921.8 374.6Z" fill="#1f958b"/><path d="M942.7 359.6 939.2 363.8 935.7 368 939.1 369.8 942.6 371.9 946.1 367.8 949.6 363.7 946.1 361.5 942.7 359.6Z" fill="#1e9d89"/><path d="M894 401.8 890.5 407 887 412.1 890.4 413.2 893.8 411.7 897.3 406.9 900.8 402.2 897.4 403.4 894 401.8Z" fill="#24868e"/><path d="M859.1 439.2 855.6 445.5 852.1 451.9 855.5 453.9 858.9 454.8 862.4 449.4 865.9 443.9 862.5 442.2 859.1 439.2Z" fill="#2d708e"/><path d="M762.3 603.7 758.6 600.1 754.8 596.4 757.7 583.2 760.7 571.2 764.4 574 768.2 576.9 765.2 589.5 762.3 603.7Z" fill="#471063"/><path d="M1109.7 357.4 1106.3 360 1102.9 362.6 1106.4 365.5 1110 368.3 1113.4 365.8 1116.8 363.2 1113.3 360.4 1109.7 357.4Z" fill="#1f9f88"/><path d="M782.9 581.1 779.3 582.8 775.6 581.8 778.7 570.7 781.7 560.1 785.4 562.2 789.1 563.5 786 572.6 782.9 581.1Z" fill="#481d6f"/><path d="M956.6 355.6 953.1 359.7 949.6 363.7 953.1 366.3 956.5 369.2 960 365.3 963.5 361.4 960.1 358.3 956.6 355.6Z" fill="#1fa088"/><path d="M1095.8 356.5 1092.4 359.2 1089 361.9 1092.5 365 1096 367.9 1099.5 365.3 1102.9 362.6 1099.4 359.6 1095.8 356.5Z" fill="#1fa088"/><path d="M852.1 451.9 848.6 458.3 845.1 464.7 848.5 465.8 851.9 465.9 855.4 460.4 858.9 454.8 855.5 453.9 852.1 451.9Z" fill="#30698e"/><path d="M1081.9 355.5 1078.5 358.3 1075 361.1 1078.6 364.3 1082.1 367.4 1085.5 364.6 1089 361.9 1085.4 358.7 1081.9 355.5Z" fill="#1fa088"/><path d="M887 412.1 883.5 417.3 880 422.6 883.4 423.1 886.7 421.2 890.3 416.4 893.8 411.7 890.4 413.2 887 412.1Z" fill="#26818e"/><path d="M914.8 383.7 911.3 388.3 907.8 392.9 911.2 392.9 914.7 394 918.2 389.6 921.7 385.3 918.2 383.9 914.8 383.7Z" fill="#21918c"/><path d="M970.5 353.7 967 357.5 963.5 361.4 967 364.6 970.5 367.8 974 364 977.5 360.2 974 356.9 970.5 353.7Z" fill="#1fa188"/><path d="M1068 354.5 1064.6 357.5 1061.1 360.4 1064.6 363.6 1068.1 366.8 1071.6 363.9 1075 361.1 1071.5 357.9 1068 354.5Z" fill="#1fa188"/><path d="M935.7 368 932.2 372.3 928.7 376.6 932.1 378.2 935.6 380.1 939.1 376 942.6 371.9 939.1 369.8 935.7 368Z" fill="#1f998a"/><path d="M1054.1 353.8 1050.6 356.8 1047.2 359.9 1050.7 363.1 1054.2 366.3 1057.7 363.4 1061.1 360.4 1057.6 357.1 1054.1 353.8Z" fill="#1fa188"/><path d="M845.1 464.7 841.7 471.2 838.2 477.8 841.5 477.9 844.9 477.2 848.4 471.5 851.9 465.9 848.5 465.8 845.1 464.7Z" fill="#33638d"/><path d="M984.4 352.8 981 356.5 977.5 360.2 980.9 363.6 984.4 366.9 987.9 363.3 991.4 359.7 987.9 356.3 984.4 352.8Z" fill="#1fa187"/><path d="M1040.2 353.3 1036.7 356.5 1033.2 359.6 1036.7 362.9 1040.2 366 1043.7 363 1047.2 359.9 1043.7 356.6 1040.2 353.3Z" fill="#1fa187"/><path d="M1026.2 353 1022.8 356.3 1019.3 359.6 1022.8 362.9 1026.3 366 1029.8 362.8 1033.2 359.6 1029.7 356.4 1026.2 353Z" fill="#1fa187"/><path d="M998.4 352.6 994.9 356.1 991.4 359.7 994.9 363.1 998.4 366.5 1001.9 363 1005.3 359.6 1001.9 356.1 998.4 352.6Z" fill="#1fa187"/><path d="M1012.3 352.7 1008.8 356.1 1005.3 359.6 1008.8 363 1012.3 366.3 1015.8 362.9 1019.3 359.6 1015.8 356.2 1012.3 352.7Z" fill="#1fa187"/><path d="M838.2 477.8 834.7 484.4 831.2 491 834.5 490.2 837.9 488.6 841.4 482.9 844.9 477.2 841.5 477.9 838.2 477.8Z" fill="#365c8d"/><path d="M880 422.6 876.5 427.9 873 433.2 876.3 433.2 879.7 430.9 883.2 426.1 886.7 421.2 883.4 423.1 880 422.6Z" fill="#287c8e"/><path d="M831.2 491 827.7 497.7 824.2 504.4 827.5 502.6 830.8 500.2 834.3 494.4 837.9 488.6 834.5 490.2 831.2 491Z" fill="#3a548c"/><path d="M949.6 363.7 946.1 367.8 942.6 371.9 946.1 374.3 949.5 377.1 953 373.2 956.5 369.2 953.1 366.3 949.6 363.7Z" fill="#1e9c89"/><path d="M907.8 392.9 904.3 397.5 900.8 402.2 904.2 402 907.6 402.9 911.1 398.4 914.7 394 911.2 392.9 907.8 392.9Z" fill="#228d8d"/><path d="M824.2 504.4 820.7 511.2 817.2 518 820.5 515.2 823.8 512 827.3 506.1 830.8 500.2 827.5 502.6 824.2 504.4Z" fill="#3e4c8a"/><path d="M928.7 376.6 925.2 380.9 921.7 385.3 925.1 386.7 928.6 388.5 932.1 384.3 935.6 380.1 932.1 378.2 928.7 376.6Z" fill="#1f958b"/><path d="M963.5 361.4 960 365.3 956.5 369.2 960 372.3 963.5 375.3 967 371.5 970.5 367.8 967 364.6 963.5 361.4Z" fill="#1f9e89"/><path d="M1116.8 363.2 1113.4 365.8 1110 368.3 1113.5 371 1117.1 373.5 1120.5 371 1123.9 368.5 1120.4 365.9 1116.8 363.2Z" fill="#1f9e89"/><path d="M1102.9 362.6 1099.5 365.3 1096 367.9 1099.6 370.8 1103.1 373.5 1106.6 370.9 1110 368.3 1106.4 365.5 1102.9 362.6Z" fill="#1f9e89"/><path d="M817.2 518 813.7 524.8 810.3 531.6 813.5 527.9 816.8 523.8 820.3 517.9 823.8 512 820.5 515.2 817.2 518Z" fill="#414487"/><path d="M873 433.2 869.4 438.5 865.9 443.9 869.3 443.4 872.7 440.7 876.2 435.8 879.7 430.9 876.3 433.2 873 433.2Z" fill="#2a778e"/><path d="M1089 361.9 1085.5 364.6 1082.1 367.4 1085.6 370.4 1089.2 373.3 1092.6 370.6 1096 367.9 1092.5 365 1089 361.9Z" fill="#1f9e89"/><path d="M977.5 360.2 974 364 970.5 367.8 974 371 977.4 374.2 980.9 370.5 984.4 366.9 980.9 363.6 977.5 360.2Z" fill="#1f9f88"/><path d="M1075 361.1 1071.6 363.9 1068.1 366.8 1071.7 369.9 1075.2 372.9 1078.6 370.1 1082.1 367.4 1078.6 364.3 1075 361.1Z" fill="#1f9f88"/><path d="M810.3 531.6 806.8 538.5 803.3 545.2 806.5 540.5 809.7 535.5 813.3 529.7 816.8 523.8 813.5 527.9 810.3 531.6Z" fill="#443b84"/><path d="M991.4 359.7 987.9 363.3 984.4 366.9 987.9 370.2 991.4 373.5 994.9 370 998.4 366.5 994.9 363.1 991.4 359.7Z" fill="#1f9f88"/><path d="M1061.1 360.4 1057.7 363.4 1054.2 366.3 1057.7 369.5 1061.2 372.5 1064.7 369.7 1068.1 366.8 1064.6 363.6 1061.1 360.4Z" fill="#1f9f88"/><path d="M1005.3 359.6 1001.9 363 998.4 366.5 1001.9 369.8 1005.4 373 1008.9 369.6 1012.3 366.3 1008.8 363 1005.3 359.6Z" fill="#1f9f88"/><path d="M1047.2 359.9 1043.7 363 1040.2 366 1043.8 369.2 1047.3 372.3 1050.7 369.3 1054.2 366.3 1050.7 363.1 1047.2 359.9Z" fill="#1f9f88"/><path d="M1019.3 359.6 1015.8 362.9 1012.3 366.3 1015.8 369.4 1019.3 372.5 1022.8 369.3 1026.3 366 1022.8 362.9 1019.3 359.6Z" fill="#1f9f88"/><path d="M1033.2 359.6 1029.8 362.8 1026.3 366 1029.8 369.2 1033.3 372.3 1036.8 369.1 1040.2 366 1036.7 362.9 1033.2 359.6Z" fill="#1fa088"/><path d="M900.8 402.2 897.3 406.9 893.8 411.7 897.2 411.2 900.6 411.8 904.1 407.3 907.6 402.9 904.2 402 900.8 402.2Z" fill="#23888e"/><path d="M803.3 545.2 799.8 551.8 796.3 557.8 799.5 551.7 802.7 544.9 806.2 540.9 809.7 535.5 806.5 540.5 803.3 545.2Z" fill="#46337f"/><path d="M942.6 371.9 939.1 376 935.6 380.1 939 382.4 942.5 385.1 946 381.1 949.5 377.1 946.1 374.3 942.6 371.9Z" fill="#1f988b"/><path d="M865.9 443.9 862.4 449.4 858.9 454.8 862.3 453.7 865.6 450.7 869.1 445.7 872.7 440.7 869.3 443.4 865.9 443.9Z" fill="#2c718e"/><path d="M921.7 385.3 918.2 389.6 914.7 394 918.1 395.3 921.5 396.9 925.1 392.7 928.6 388.5 925.1 386.7 921.7 385.3Z" fill="#20928c"/><path d="M956.5 369.2 953 373.2 949.5 377.1 953 380 956.5 383 960 379.2 963.5 375.3 960 372.3 956.5 369.2Z" fill="#1f9a8a"/><path d="M970.5 367.8 967 371.5 963.5 375.3 967 378.4 970.4 381.6 973.9 377.9 977.4 374.2 974 371 970.5 367.8Z" fill="#1e9b8a"/><path d="M858.9 454.8 855.4 460.4 851.9 465.9 855.2 464.2 858.6 460.8 862.1 455.7 865.6 450.7 862.3 453.7 858.9 454.8Z" fill="#2e6d8e"/><path d="M893.8 411.7 890.3 416.4 886.7 421.2 890.1 420.5 893.6 420.9 897.1 416.4 900.6 411.8 897.2 411.2 893.8 411.7Z" fill="#25848e"/><path d="M984.4 366.9 980.9 370.5 977.4 374.2 980.9 377.4 984.4 380.6 987.9 377 991.4 373.5 987.9 370.2 984.4 366.9Z" fill="#1e9c89"/><path d="M1110 368.3 1106.6 370.9 1103.1 373.5 1106.7 376.1 1110.2 378.6 1113.7 376 1117.1 373.5 1113.5 371 1110 368.3Z" fill="#1e9c89"/><path d="M1123.9 368.5 1120.5 371 1117.1 373.5 1120.6 375.9 1124.2 378.3 1127.6 375.8 1131.1 373.3 1127.5 370.9 1123.9 368.5Z" fill="#1e9c89"/><path d="M1096 367.9 1092.6 370.6 1089.2 373.3 1092.7 376 1096.2 378.7 1099.7 376.1 1103.1 373.5 1099.6 370.8 1096 367.9Z" fill="#1e9c89"/><path d="M998.4 366.5 994.9 370 991.4 373.5 994.9 376.7 998.4 379.8 1001.9 376.4 1005.4 373 1001.9 369.8 998.4 366.5Z" fill="#1e9c89"/><path d="M1082.1 367.4 1078.6 370.1 1075.2 372.9 1078.7 375.8 1082.3 378.6 1085.7 375.9 1089.2 373.3 1085.6 370.4 1082.1 367.4Z" fill="#1e9d89"/><path d="M775.6 581.8 771.9 579.6 768.2 576.9 771.2 565.7 774.2 555.3 778 557.7 781.7 560.1 778.7 570.7 775.6 581.8Z" fill="#482475"/><path d="M935.6 380.1 932.1 384.3 928.6 388.5 932 390.6 935.5 393.2 939 389.2 942.5 385.1 939 382.4 935.6 380.1Z" fill="#1f958b"/><path d="M1012.3 366.3 1008.9 369.6 1005.4 373 1008.9 376.1 1012.4 379 1015.9 375.8 1019.3 372.5 1015.8 369.4 1012.3 366.3Z" fill="#1e9d89"/><path d="M1068.1 366.8 1064.7 369.7 1061.2 372.5 1064.8 375.6 1068.3 378.5 1071.7 375.7 1075.2 372.9 1071.7 369.9 1068.1 366.8Z" fill="#1e9d89"/><path d="M1054.2 366.3 1050.7 369.3 1047.3 372.3 1050.8 375.4 1054.3 378.4 1057.8 375.4 1061.2 372.5 1057.7 369.5 1054.2 366.3Z" fill="#1e9d89"/><path d="M1026.3 366 1022.8 369.3 1019.3 372.5 1022.8 375.5 1026.4 378.6 1029.8 375.4 1033.3 372.3 1029.8 369.2 1026.3 366Z" fill="#1e9d89"/><path d="M1040.2 366 1036.8 369.1 1033.3 372.3 1036.8 375.3 1040.3 378.4 1043.8 375.3 1047.3 372.3 1043.8 369.2 1040.2 366Z" fill="#1e9d89"/><path d="M914.7 394 911.1 398.4 907.6 402.9 911.1 404 914.5 405.4 918 401.2 921.5 396.9 918.1 395.3 914.7 394Z" fill="#218e8d"/><path d="M796.3 557.8 792.7 562.2 789.1 563.5 792.2 553.9 795.3 544.3 799 545.7 802.7 544.9 799.5 551.7 796.3 557.8Z" fill="#46307e"/><path d="M851.9 465.9 848.4 471.5 844.9 477.2 848.2 474.9 851.5 471 855.1 465.9 858.6 460.8 855.2 464.2 851.9 465.9Z" fill="#31678e"/><path d="M754.8 596.4 751 592.7 747.2 589 750.1 576.9 753.1 565.5 756.9 568.3 760.7 571.2 757.7 583.2 754.8 596.4Z" fill="#481b6d"/><path d="M949.5 377.1 946 381.1 942.5 385.1 946 387.9 949.5 390.8 953 386.9 956.5 383 953 380 949.5 377.1Z" fill="#1f978b"/><path d="M886.7 421.2 883.2 426.1 879.7 430.9 883.1 429.9 886.5 430.1 890 425.5 893.6 420.9 890.1 420.5 886.7 421.2Z" fill="#27808e"/><path d="M963.5 375.3 960 379.2 956.5 383 960 386 963.4 389 966.9 385.3 970.4 381.6 967 378.4 963.5 375.3Z" fill="#1f988b"/><path d="M844.9 477.2 841.4 482.9 837.9 488.6 841.2 485.7 844.5 481.4 848 476.2 851.5 471 848.2 474.9 844.9 477.2Z" fill="#33628d"/><path d="M977.4 374.2 973.9 377.9 970.4 381.6 973.9 384.7 977.4 387.7 980.9 384.1 984.4 380.6 980.9 377.4 977.4 374.2Z" fill="#1f998a"/><path d="M928.6 388.5 925.1 392.7 921.5 396.9 925 398.9 928.5 401.4 932 397.3 935.5 393.2 932 390.6 928.6 388.5Z" fill="#20928c"/><path d="M907.6 402.9 904.1 407.3 900.6 411.8 904 412.8 907.5 414.1 911 409.7 914.5 405.4 911.1 404 907.6 402.9Z" fill="#238a8d"/><path d="M991.4 373.5 987.9 377 984.4 380.6 987.9 383.7 991.4 386.7 994.9 383.2 998.4 379.8 994.9 376.7 991.4 373.5Z" fill="#1f9a8a"/><path d="M1005.4 373 1001.9 376.4 998.4 379.8 1001.9 382.8 1005.4 385.7 1008.9 382.3 1012.4 379 1008.9 376.1 1005.4 373Z" fill="#1f9a8a"/><path d="M879.7 430.9 876.2 435.8 872.7 440.7 876 439.4 879.5 439.4 883 434.7 886.5 430.1 883.1 429.9 879.7 430.9Z" fill="#297b8e"/><path d="M837.9 488.6 834.3 494.4 830.8 500.2 834.1 496.6 837.4 491.8 840.9 486.6 844.5 481.4 841.2 485.7 837.9 488.6Z" fill="#365c8d"/><path d="M1019.3 372.5 1015.9 375.8 1012.4 379 1015.9 382 1019.4 384.9 1022.9 381.7 1026.4 378.6 1022.8 375.5 1019.3 372.5Z" fill="#1e9b8a"/><path d="M1089.2 373.3 1085.7 375.9 1082.3 378.6 1085.8 381.4 1089.4 384 1092.8 381.4 1096.2 378.7 1092.7 376 1089.2 373.3Z" fill="#1e9b8a"/><path d="M1103.1 373.5 1099.7 376.1 1096.2 378.7 1099.8 381.3 1103.4 383.7 1106.8 381.1 1110.2 378.6 1106.7 376.1 1103.1 373.5Z" fill="#1e9b8a"/><path d="M1075.2 372.9 1071.7 375.7 1068.3 378.5 1071.8 381.3 1075.4 384.1 1078.8 381.4 1082.3 378.6 1078.7 375.8 1075.2 372.9Z" fill="#1e9b8a"/><path d="M1033.3 372.3 1029.8 375.4 1026.4 378.6 1029.9 381.5 1033.4 384.5 1036.9 381.4 1040.3 378.4 1036.8 375.3 1033.3 372.3Z" fill="#1e9b8a"/><path d="M1117.1 373.5 1113.7 376 1110.2 378.6 1113.8 381 1117.4 383.3 1120.8 380.8 1124.2 378.3 1120.6 375.9 1117.1 373.5Z" fill="#1e9b8a"/><path d="M1061.2 372.5 1057.8 375.4 1054.3 378.4 1057.8 381.3 1061.4 384.1 1064.8 381.3 1068.3 378.5 1064.8 375.6 1061.2 372.5Z" fill="#1e9b8a"/><path d="M1047.3 372.3 1043.8 375.3 1040.3 378.4 1043.9 381.3 1047.4 384.2 1050.8 381.3 1054.3 378.4 1050.8 375.4 1047.3 372.3Z" fill="#1e9b8a"/><path d="M1131.1 373.3 1127.6 375.8 1124.2 378.3 1127.8 380.6 1131.4 382.8 1134.8 380.4 1138.2 377.9 1134.6 375.6 1131.1 373.3Z" fill="#1e9b8a"/><path d="M942.5 385.1 939 389.2 935.5 393.2 939 395.9 942.4 398.6 945.9 394.7 949.5 390.8 946 387.9 942.5 385.1Z" fill="#20938c"/><path d="M830.8 500.2 827.3 506.1 823.8 512 827.1 507.7 830.3 502.4 833.9 497.1 837.4 491.8 834.1 496.6 830.8 500.2Z" fill="#39558c"/><path d="M956.5 383 953 386.9 949.5 390.8 952.9 393.6 956.4 396.5 959.9 392.8 963.4 389 960 386 956.5 383Z" fill="#1f958b"/><path d="M900.6 411.8 897.1 416.4 893.6 420.9 897 421.7 900.4 422.8 903.9 418.4 907.5 414.1 904 412.8 900.6 411.8Z" fill="#24868e"/><path d="M921.5 396.9 918 401.2 914.5 405.4 918 407.3 921.4 409.7 924.9 405.5 928.5 401.4 925 398.9 921.5 396.9Z" fill="#218e8d"/><path d="M872.7 440.7 869.1 445.7 865.6 450.7 869 449 872.4 448.8 875.9 444.1 879.5 439.4 876 439.4 872.7 440.7Z" fill="#2a778e"/><path d="M970.4 381.6 966.9 385.3 963.4 389 966.9 392 970.4 394.9 973.9 391.3 977.4 387.7 973.9 384.7 970.4 381.6Z" fill="#1f968b"/><path d="M984.4 380.6 980.9 384.1 977.4 387.7 980.9 390.7 984.4 393.6 987.9 390.1 991.4 386.7 987.9 383.7 984.4 380.6Z" fill="#1f978b"/><path d="M823.8 512 820.3 517.9 816.8 523.8 820 518.9 823.3 513 826.8 507.7 830.3 502.4 827.1 507.7 823.8 512Z" fill="#3c4f8a"/><path d="M998.4 379.8 994.9 383.2 991.4 386.7 994.9 389.6 998.4 392.3 1001.9 389 1005.4 385.7 1001.9 382.8 998.4 379.8Z" fill="#1f988b"/><path d="M935.5 393.2 932 397.3 928.5 401.4 931.9 403.9 935.4 406.5 938.9 402.6 942.4 398.6 939 395.9 935.5 393.2Z" fill="#21918c"/><path d="M1012.4 379 1008.9 382.3 1005.4 385.7 1008.9 388.5 1012.4 391.3 1015.9 388.1 1019.4 384.9 1015.9 382 1012.4 379Z" fill="#1f988b"/><path d="M1026.4 378.6 1022.9 381.7 1019.4 384.9 1022.9 387.8 1026.4 390.6 1029.9 387.5 1033.4 384.5 1029.9 381.5 1026.4 378.6Z" fill="#1f998a"/><path d="M865.6 450.7 862.1 455.7 858.6 460.8 861.9 458.8 865.3 458.3 868.9 453.5 872.4 448.8 869 449 865.6 450.7Z" fill="#2c728e"/><path d="M893.6 420.9 890 425.5 886.5 430.1 889.9 430.7 893.4 431.6 896.9 427.2 900.4 422.8 897 421.7 893.6 420.9Z" fill="#26828e"/><path d="M1040.3 378.4 1036.9 381.4 1033.4 384.5 1036.9 387.3 1040.4 390.2 1043.9 387.2 1047.4 384.2 1043.9 381.3 1040.3 378.4Z" fill="#1f998a"/><path d="M789.1 563.5 785.4 562.2 781.7 560.1 784.8 550 787.9 540.4 791.6 542.4 795.3 544.3 792.2 553.9 789.1 563.5Z" fill="#463480"/><path d="M1054.3 378.4 1050.8 381.3 1047.4 384.2 1050.9 387.1 1054.4 389.9 1057.9 387 1061.4 384.1 1057.8 381.3 1054.3 378.4Z" fill="#1f998a"/><path d="M1068.3 378.5 1064.8 381.3 1061.4 384.1 1064.9 386.9 1068.4 389.6 1071.9 386.8 1075.4 384.1 1071.8 381.3 1068.3 378.5Z" fill="#1f998a"/><path d="M816.8 523.8 813.3 529.7 809.7 535.5 813 529.8 816.2 522.9 819.7 518.1 823.3 513 820 518.9 816.8 523.8Z" fill="#3f4889"/><path d="M1082.3 378.6 1078.8 381.4 1075.4 384.1 1078.9 386.8 1082.5 389.3 1085.9 386.7 1089.4 384 1085.8 381.4 1082.3 378.6Z" fill="#1f998a"/><path d="M1096.2 378.7 1092.8 381.4 1089.4 384 1092.9 386.5 1096.5 388.9 1099.9 386.3 1103.4 383.7 1099.8 381.3 1096.2 378.7Z" fill="#1f998a"/><path d="M914.5 405.4 911 409.7 907.5 414.1 910.9 415.8 914.4 418 917.9 413.8 921.4 409.7 918 407.3 914.5 405.4Z" fill="#238a8d"/><path d="M949.5 390.8 945.9 394.7 942.4 398.6 945.9 401.4 949.4 404.1 952.9 400.3 956.4 396.5 952.9 393.6 949.5 390.8Z" fill="#20928c"/><path d="M1110.2 378.6 1106.8 381.1 1103.4 383.7 1106.9 386.1 1110.5 388.3 1113.9 385.8 1117.4 383.3 1113.8 381 1110.2 378.6Z" fill="#1f9a8a"/><path d="M1124.2 378.3 1120.8 380.8 1117.4 383.3 1120.9 385.5 1124.5 387.8 1127.9 385.3 1131.4 382.8 1127.8 380.6 1124.2 378.3Z" fill="#1f9a8a"/><path d="M1138.2 377.9 1134.8 380.4 1131.4 382.8 1134.9 385.1 1138.5 387.3 1141.9 384.8 1145.4 382.4 1141.8 380.2 1138.2 377.9Z" fill="#1f9a8a"/><path d="M963.4 389 959.9 392.8 956.4 396.5 959.9 399.4 963.4 402.2 966.9 398.6 970.4 394.9 966.9 392 963.4 389Z" fill="#20938c"/><path d="M768.2 576.9 764.4 574 760.7 571.2 763.7 560.4 766.7 550.6 770.5 552.9 774.2 555.3 771.2 565.7 768.2 576.9Z" fill="#472d7b"/><path d="M858.6 460.8 855.1 465.9 851.5 471 854.9 468.7 858.3 468 861.8 463.1 865.3 458.3 861.9 458.8 858.6 460.8Z" fill="#2e6e8e"/><path d="M977.4 387.7 973.9 391.3 970.4 394.9 973.9 397.8 977.4 400.6 980.9 397.1 984.4 393.6 980.9 390.7 977.4 387.7Z" fill="#1f948c"/><path d="M928.5 401.4 924.9 405.5 921.4 409.7 924.9 412.1 928.4 414.5 931.9 410.5 935.4 406.5 931.9 403.9 928.5 401.4Z" fill="#228d8d"/><path d="M886.5 430.1 883 434.7 879.5 439.4 882.9 439.8 886.3 440.6 889.8 436.1 893.4 431.6 889.9 430.7 886.5 430.1Z" fill="#277e8e"/><path d="M991.4 386.7 987.9 390.1 984.4 393.6 987.9 396.4 991.4 399.1 994.9 395.7 998.4 392.3 994.9 389.6 991.4 386.7Z" fill="#1f958b"/><path d="M809.7 535.5 806.2 540.9 802.7 544.9 805.8 536.6 808.9 526.8 812.6 526.2 816.2 522.9 813 529.8 809.7 535.5Z" fill="#414287"/><path d="M907.5 414.1 903.9 418.4 900.4 422.8 903.9 424.4 907.3 426.5 910.8 422.2 914.4 418 910.9 415.8 907.5 414.1Z" fill="#24868e"/><path d="M747.2 589 743.4 585.4 739.6 581.9 742.5 570.8 745.5 560.1 749.3 562.8 753.1 565.5 750.1 576.9 747.2 589Z" fill="#482576"/><path d="M1005.4 385.7 1001.9 389 998.4 392.3 1001.9 395.1 1005.4 397.8 1008.9 394.6 1012.4 391.3 1008.9 388.5 1005.4 385.7Z" fill="#1f968b"/><path d="M942.4 398.6 938.9 402.6 935.4 406.5 938.9 409.2 942.3 411.8 945.9 408 949.4 404.1 945.9 401.4 942.4 398.6Z" fill="#218f8d"/><path d="M1019.4 384.9 1015.9 388.1 1012.4 391.3 1015.9 394.1 1019.4 396.9 1022.9 393.8 1026.4 390.6 1022.9 387.8 1019.4 384.9Z" fill="#1f978b"/><path d="M1033.4 384.5 1029.9 387.5 1026.4 390.6 1029.9 393.4 1033.5 396.2 1036.9 393.2 1040.4 390.2 1036.9 387.3 1033.4 384.5Z" fill="#1f978b"/><path d="M851.5 471 848 476.2 844.5 481.4 847.8 478.7 851.2 477.7 854.7 472.8 858.3 468 854.9 468.7 851.5 471Z" fill="#30698e"/><path d="M1047.4 384.2 1043.9 387.2 1040.4 390.2 1044 392.9 1047.5 395.6 1051 392.7 1054.4 389.9 1050.9 387.1 1047.4 384.2Z" fill="#1f978b"/><path d="M1061.4 384.1 1057.9 387 1054.4 389.9 1058 392.6 1061.5 395.2 1065 392.4 1068.4 389.6 1064.9 386.9 1061.4 384.1Z" fill="#1f978b"/><path d="M1075.4 384.1 1071.9 386.8 1068.4 389.6 1072 392.2 1075.5 394.7 1079 392 1082.5 389.3 1078.9 386.8 1075.4 384.1Z" fill="#1f988b"/><path d="M956.4 396.5 952.9 400.3 949.4 404.1 952.9 406.9 956.4 409.6 959.9 405.9 963.4 402.2 959.9 399.4 956.4 396.5Z" fill="#21918c"/><path d="M1089.4 384 1085.9 386.7 1082.5 389.3 1086 391.8 1089.6 394.1 1093 391.5 1096.5 388.9 1092.9 386.5 1089.4 384Z" fill="#1f988b"/><path d="M1103.4 383.7 1099.9 386.3 1096.5 388.9 1100 391.2 1103.6 393.5 1107 390.9 1110.5 388.3 1106.9 386.1 1103.4 383.7Z" fill="#1f988b"/><path d="M879.5 439.4 875.9 444.1 872.4 448.8 875.8 449 879.2 449.6 882.8 445.1 886.3 440.6 882.9 439.8 879.5 439.4Z" fill="#29798e"/><path d="M921.4 409.7 917.9 413.8 914.4 418 917.8 420.3 921.3 422.6 924.8 418.6 928.4 414.5 924.9 412.1 921.4 409.7Z" fill="#23898e"/><path d="M1117.4 383.3 1113.9 385.8 1110.5 388.3 1114.1 390.6 1117.6 392.8 1121.1 390.3 1124.5 387.8 1120.9 385.5 1117.4 383.3Z" fill="#1f998a"/><path d="M1131.4 382.8 1127.9 385.3 1124.5 387.8 1128.1 390 1131.7 392.2 1135.1 389.7 1138.5 387.3 1134.9 385.1 1131.4 382.8Z" fill="#1f998a"/><path d="M970.4 394.9 966.9 398.6 963.4 402.2 966.9 405 970.4 407.7 973.9 404.2 977.4 400.6 973.9 397.8 970.4 394.9Z" fill="#20928c"/><path d="M1145.4 382.4 1141.9 384.8 1138.5 387.3 1142.1 389.4 1145.7 391.6 1149.1 389.2 1152.5 386.8 1148.9 384.6 1145.4 382.4Z" fill="#1f9a8a"/><path d="M900.4 422.8 896.9 427.2 893.4 431.6 896.8 433.1 900.2 435 903.8 430.7 907.3 426.5 903.9 424.4 900.4 422.8Z" fill="#26828e"/><path d="M844.5 481.4 840.9 486.6 837.4 491.8 840.7 488.8 844.1 487.5 847.6 482.6 851.2 477.7 847.8 478.7 844.5 481.4Z" fill="#33638d"/><path d="M984.4 393.6 980.9 397.1 977.4 400.6 980.9 403.3 984.4 405.9 987.9 402.5 991.4 399.1 987.9 396.4 984.4 393.6Z" fill="#20928c"/><path d="M935.4 406.5 931.9 410.5 928.4 414.5 931.8 417.1 935.3 419.6 938.8 415.7 942.3 411.8 938.9 409.2 935.4 406.5Z" fill="#228c8d"/><path d="M998.4 392.3 994.9 395.7 991.4 399.1 994.9 401.8 998.4 404.4 1001.9 401.1 1005.4 397.8 1001.9 395.1 998.4 392.3Z" fill="#20938c"/><path d="M872.4 448.8 868.9 453.5 865.3 458.3 868.7 458.3 872.1 458.7 875.7 454.2 879.2 449.6 875.8 449 872.4 448.8Z" fill="#2b758e"/><path d="M1012.4 391.3 1008.9 394.6 1005.4 397.8 1008.9 400.5 1012.5 403.2 1015.9 400 1019.4 396.9 1015.9 394.1 1012.4 391.3Z" fill="#1f948c"/><path d="M949.4 404.1 945.9 408 942.3 411.8 945.8 414.5 949.3 417.1 952.8 413.4 956.4 409.6 952.9 406.9 949.4 404.1Z" fill="#228d8d"/><path d="M1026.4 390.6 1022.9 393.8 1019.4 396.9 1023 399.6 1026.5 402.2 1030 399.2 1033.5 396.2 1029.9 393.4 1026.4 390.6Z" fill="#1f958b"/><path d="M837.4 491.8 833.9 497.1 830.3 502.4 833.6 499 837 497.4 840.5 492.5 844.1 487.5 840.7 488.8 837.4 491.8Z" fill="#355e8d"/><path d="M914.4 418 910.8 422.2 907.3 426.5 910.8 428.6 914.2 430.8 917.8 426.7 921.3 422.6 917.8 420.3 914.4 418Z" fill="#25858e"/><path d="M1040.4 390.2 1036.9 393.2 1033.5 396.2 1037 398.9 1040.5 401.5 1044 398.5 1047.5 395.6 1044 392.9 1040.4 390.2Z" fill="#1f958b"/><path d="M893.4 431.6 889.8 436.1 886.3 440.6 889.7 441.9 893.2 443.7 896.7 439.3 900.2 435 896.8 433.1 893.4 431.6Z" fill="#277f8e"/><path d="M1054.4 389.9 1051 392.7 1047.5 395.6 1051 398.3 1054.6 400.8 1058 398 1061.5 395.2 1058 392.6 1054.4 389.9Z" fill="#1f968b"/><path d="M802.7 544.9 799 545.7 795.3 544.3 798.4 534.4 801.6 524.2 805.3 525.7 808.9 526.8 805.8 536.6 802.7 544.9Z" fill="#414487"/><path d="M1068.4 389.6 1065 392.4 1061.5 395.2 1065.1 397.7 1068.6 400.2 1072.1 397.4 1075.5 394.7 1072 392.2 1068.4 389.6Z" fill="#1f968b"/><path d="M963.4 402.2 959.9 405.9 956.4 409.6 959.8 412.3 963.3 414.9 966.9 411.3 970.4 407.7 966.9 405 963.4 402.2Z" fill="#218f8d"/><path d="M1082.5 389.3 1079 392 1075.5 394.7 1079.1 397.1 1082.6 399.4 1086.1 396.8 1089.6 394.1 1086 391.8 1082.5 389.3Z" fill="#1f968b"/><path d="M781.7 560.1 778 557.7 774.2 555.3 777.3 545.6 780.4 536.8 784.2 538.6 787.9 540.4 784.8 550 781.7 560.1Z" fill="#443b84"/><path d="M1096.5 388.9 1093 391.5 1089.6 394.1 1093.1 396.4 1096.7 398.6 1100.1 396 1103.6 393.5 1100 391.2 1096.5 388.9Z" fill="#1f978b"/><path d="M1110.5 388.3 1107 390.9 1103.6 393.5 1107.2 395.7 1110.7 397.8 1114.2 395.3 1117.6 392.8 1114.1 390.6 1110.5 388.3Z" fill="#1f978b"/><path d="M865.3 458.3 861.8 463.1 858.3 468 861.6 467.7 865 468 868.6 463.4 872.1 458.7 868.7 458.3 865.3 458.3Z" fill="#2d718e"/><path d="M928.4 414.5 924.8 418.6 921.3 422.6 924.8 425 928.2 427.5 931.8 423.5 935.3 419.6 931.8 417.1 928.4 414.5Z" fill="#23888e"/><path d="M977.4 400.6 973.9 404.2 970.4 407.7 973.9 410.4 977.4 412.9 980.9 409.4 984.4 405.9 980.9 403.3 977.4 400.6Z" fill="#21908d"/><path d="M830.3 502.4 826.8 507.7 823.3 513 826.6 509.1 829.9 506.9 833.4 502.2 837 497.4 833.6 499 830.3 502.4Z" fill="#38598c"/><path d="M1124.5 387.8 1121.1 390.3 1117.6 392.8 1121.2 395 1124.8 397.1 1128.2 394.6 1131.7 392.2 1128.1 390 1124.5 387.8Z" fill="#1f988b"/><path d="M1138.5 387.3 1135.1 389.7 1131.7 392.2 1135.3 394.3 1138.8 396.4 1142.3 394 1145.7 391.6 1142.1 389.4 1138.5 387.3Z" fill="#1f988b"/><path d="M1152.5 386.8 1149.1 389.2 1145.7 391.6 1149.3 393.7 1152.9 395.8 1156.3 393.4 1159.7 391 1156.1 388.9 1152.5 386.8Z" fill="#1f998a"/><path d="M991.4 399.1 987.9 402.5 984.4 405.9 987.9 408.5 991.4 411.1 994.9 407.7 998.4 404.4 994.9 401.8 991.4 399.1Z" fill="#20928c"/><path d="M907.3 426.5 903.8 430.7 900.2 435 903.7 437 907.2 439.1 910.7 435 914.2 430.8 910.8 428.6 907.3 426.5Z" fill="#26828e"/><path d="M886.3 440.6 882.8 445.1 879.2 449.6 882.6 450.8 886.1 452.4 889.6 448 893.2 443.7 889.7 441.9 886.3 440.6Z" fill="#297b8e"/><path d="M942.3 411.8 938.8 415.7 935.3 419.6 938.8 422.2 942.3 424.7 945.8 420.9 949.3 417.1 945.8 414.5 942.3 411.8Z" fill="#238a8d"/><path d="M760.7 571.2 756.9 568.3 753.1 565.5 756.1 555.4 759.2 546.1 763 548.3 766.7 550.6 763.7 560.4 760.7 571.2Z" fill="#453581"/><path d="M1005.4 397.8 1001.9 401.1 998.4 404.4 1001.9 407 1005.4 409.6 1009 406.4 1012.5 403.2 1008.9 400.5 1005.4 397.8Z" fill="#20928c"/><path d="M1019.4 396.9 1015.9 400 1012.5 403.2 1016 405.8 1019.5 408.4 1023 405.3 1026.5 402.2 1023 399.6 1019.4 396.9Z" fill="#20938c"/><path d="M858.3 468 854.7 472.8 851.2 477.7 854.6 477.2 858 477.3 861.5 472.6 865 468 861.6 467.7 858.3 468Z" fill="#2e6d8e"/><path d="M956.4 409.6 952.8 413.4 949.3 417.1 952.8 419.7 956.3 422.2 959.8 418.6 963.3 414.9 959.8 412.3 956.4 409.6Z" fill="#228c8d"/><path d="M823.3 513 819.7 518.1 816.2 522.9 819.4 517.7 822.7 514 826.3 511.1 829.9 506.9 826.6 509.1 823.3 513Z" fill="#3a538b"/><path d="M1033.5 396.2 1030 399.2 1026.5 402.2 1030 404.8 1033.5 407.4 1037 404.4 1040.5 401.5 1037 398.9 1033.5 396.2Z" fill="#20938c"/><path d="M1047.5 395.6 1044 398.5 1040.5 401.5 1044.1 404 1047.6 406.5 1051.1 403.7 1054.6 400.8 1051 398.3 1047.5 395.6Z" fill="#1f948c"/><path d="M921.3 422.6 917.8 426.7 914.2 430.8 917.7 433.1 921.2 435.4 924.7 431.4 928.2 427.5 924.8 425 921.3 422.6Z" fill="#25848e"/><path d="M1061.5 395.2 1058 398 1054.6 400.8 1058.1 403.3 1061.7 405.7 1065.1 402.9 1068.6 400.2 1065.1 397.7 1061.5 395.2Z" fill="#1f948c"/><path d="M970.4 407.7 966.9 411.3 963.3 414.9 966.8 417.5 970.3 419.9 973.9 416.4 977.4 412.9 973.9 410.4 970.4 407.7Z" fill="#218e8d"/><path d="M1075.5 394.7 1072.1 397.4 1068.6 400.2 1072.2 402.5 1075.7 404.8 1079.2 402.1 1082.6 399.4 1079.1 397.1 1075.5 394.7Z" fill="#1f958b"/><path d="M739.6 581.9 735.8 578.4 731.9 575.1 734.9 564.9 737.9 555.1 741.7 557.6 745.5 560.1 742.5 570.8 739.6 581.9Z" fill="#472f7d"/><path d="M879.2 449.6 875.7 454.2 872.1 458.7 875.6 459.8 879 461.2 882.5 456.8 886.1 452.4 882.6 450.8 879.2 449.6Z" fill="#2a768e"/><path d="M900.2 435 896.7 439.3 893.2 443.7 896.6 445.5 900.1 447.5 903.6 443.3 907.2 439.1 903.7 437 900.2 435Z" fill="#277f8e"/><path d="M1089.6 394.1 1086.1 396.8 1082.6 399.4 1086.2 401.7 1089.8 403.8 1093.2 401.2 1096.7 398.6 1093.1 396.4 1089.6 394.1Z" fill="#1f968b"/><path d="M1103.6 393.5 1100.1 396 1096.7 398.6 1100.3 400.8 1103.8 403 1107.3 400.4 1110.7 397.8 1107.2 395.7 1103.6 393.5Z" fill="#1f968b"/><path d="M851.2 477.7 847.6 482.6 844.1 487.5 847.5 486.8 850.9 486.6 854.4 482 858 477.3 854.6 477.2 851.2 477.7Z" fill="#31688e"/><path d="M935.3 419.6 931.8 423.5 928.2 427.5 931.7 429.9 935.2 432.3 938.7 428.5 942.3 424.7 938.8 422.2 935.3 419.6Z" fill="#24878e"/><path d="M984.4 405.9 980.9 409.4 977.4 412.9 980.9 415.4 984.4 417.8 987.9 414.4 991.4 411.1 987.9 408.5 984.4 405.9Z" fill="#218f8d"/><path d="M1117.6 392.8 1114.2 395.3 1110.7 397.8 1114.3 400 1117.9 402.1 1121.4 399.6 1124.8 397.1 1121.2 395 1117.6 392.8Z" fill="#1f978b"/><path d="M1131.7 392.2 1128.2 394.6 1124.8 397.1 1128.4 399.2 1132 401.3 1135.4 398.9 1138.8 396.4 1135.3 394.3 1131.7 392.2Z" fill="#1f978b"/><path d="M998.4 404.4 994.9 407.7 991.4 411.1 994.9 413.6 998.4 416.1 1001.9 412.8 1005.4 409.6 1001.9 407 998.4 404.4Z" fill="#21908d"/><path d="M1145.7 391.6 1142.3 394 1138.8 396.4 1142.4 398.5 1146 400.6 1149.5 398.2 1152.9 395.8 1149.3 393.7 1145.7 391.6Z" fill="#1f988b"/><path d="M1159.7 391 1156.3 393.4 1152.9 395.8 1156.5 397.8 1160.1 399.9 1163.5 397.5 1167 395.2 1163.3 393.1 1159.7 391Z" fill="#1f988b"/><path d="M949.3 417.1 945.8 420.9 942.3 424.7 945.7 427.2 949.2 429.6 952.8 425.9 956.3 422.2 952.8 419.7 949.3 417.1Z" fill="#23898e"/><path d="M914.2 430.8 910.7 435 907.2 439.1 910.6 441.3 914.1 443.5 917.6 439.5 921.2 435.4 917.7 433.1 914.2 430.8Z" fill="#26828e"/><path d="M1012.5 403.2 1009 406.4 1005.4 409.6 1009 412.1 1012.5 414.6 1016 411.5 1019.5 408.4 1016 405.8 1012.5 403.2Z" fill="#21918c"/><path d="M872.1 458.7 868.6 463.4 865 468 868.5 468.8 871.9 470.1 875.5 465.7 879 461.2 875.6 459.8 872.1 458.7Z" fill="#2c728e"/><path d="M1026.5 402.2 1023 405.3 1019.5 408.4 1023 410.9 1026.6 413.4 1030.1 410.4 1033.5 407.4 1030 404.8 1026.5 402.2Z" fill="#20928c"/><path d="M893.2 443.7 889.6 448 886.1 452.4 889.5 454.1 893 456 896.5 451.7 900.1 447.5 896.6 445.5 893.2 443.7Z" fill="#297b8e"/><path d="M844.1 487.5 840.5 492.5 837 497.4 840.4 496.3 843.7 495.8 847.3 491.3 850.9 486.6 847.5 486.8 844.1 487.5Z" fill="#33638d"/><path d="M816.2 522.9 812.6 526.2 808.9 526.8 812.1 519.2 815.4 513.8 819.1 514.5 822.7 514 819.4 517.7 816.2 522.9Z" fill="#3b528b"/><path d="M963.3 414.9 959.8 418.6 956.3 422.2 959.8 424.6 963.3 427 966.8 423.4 970.3 419.9 966.8 417.5 963.3 414.9Z" fill="#228b8d"/><path d="M1040.5 401.5 1037 404.4 1033.5 407.4 1037.1 409.9 1040.6 412.3 1044.1 409.4 1047.6 406.5 1044.1 404 1040.5 401.5Z" fill="#20928c"/><path d="M795.3 544.3 791.6 542.4 787.9 540.4 791 531 794.1 521.2 797.8 522.7 801.6 524.2 798.4 534.4 795.3 544.3Z" fill="#3e4989"/><path d="M1054.6 400.8 1051.1 403.7 1047.6 406.5 1051.1 408.9 1054.7 411.3 1058.2 408.5 1061.7 405.7 1058.1 403.3 1054.6 400.8Z" fill="#20938c"/><path d="M928.2 427.5 924.7 431.4 921.2 435.4 924.6 437.8 928.1 440.1 931.7 436.2 935.2 432.3 931.7 429.9 928.2 427.5Z" fill="#25838e"/><path d="M1068.6 400.2 1065.1 402.9 1061.7 405.7 1065.2 408 1068.8 410.2 1072.2 407.5 1075.7 404.8 1072.2 402.5 1068.6 400.2Z" fill="#20938c"/><path d="M977.4 412.9 973.9 416.4 970.3 419.9 973.8 422.3 977.3 424.6 980.9 421.2 984.4 417.8 980.9 415.4 977.4 412.9Z" fill="#228c8d"/><path d="M1082.6 399.4 1079.2 402.1 1075.7 404.8 1079.3 407 1082.8 409.1 1086.3 406.5 1089.8 403.8 1086.2 401.7 1082.6 399.4Z" fill="#1f948c"/><path d="M774.2 555.3 770.5 552.9 766.7 550.6 769.8 541.6 772.9 533.7 776.7 535.2 780.4 536.8 777.3 545.6 774.2 555.3Z" fill="#414287"/><path d="M1096.7 398.6 1093.2 401.2 1089.8 403.8 1093.3 406 1096.9 408.1 1100.4 405.5 1103.8 403 1100.3 400.8 1096.7 398.6Z" fill="#1f958b"/><path d="M865 468 861.5 472.6 858 477.3 861.4 478 864.8 479.1 868.3 474.6 871.9 470.1 868.5 468.8 865 468Z" fill="#2e6f8e"/><path d="M907.2 439.1 903.6 443.3 900.1 447.5 903.5 449.5 907 451.6 910.6 447.5 914.1 443.5 910.6 441.3 907.2 439.1Z" fill="#277e8e"/><path d="M991.4 411.1 987.9 414.4 984.4 417.8 987.9 420.2 991.4 422.6 994.9 419.3 998.4 416.1 994.9 413.6 991.4 411.1Z" fill="#218e8d"/><path d="M942.3 424.7 938.7 428.5 935.2 432.3 938.7 434.7 942.2 437 945.7 433.3 949.2 429.6 945.7 427.2 942.3 424.7Z" fill="#24868e"/><path d="M837 497.4 833.4 502.2 829.9 506.9 833.2 505.3 836.6 504 840.2 500.2 843.7 495.8 840.4 496.3 837 497.4Z" fill="#355f8d"/><path d="M1110.7 397.8 1107.3 400.4 1103.8 403 1107.4 405.1 1111 407.2 1114.5 404.6 1117.9 402.1 1114.3 400 1110.7 397.8Z" fill="#1f958b"/><path d="M886.1 452.4 882.5 456.8 879 461.2 882.4 462.8 885.9 464.5 889.4 460.3 893 456 889.5 454.1 886.1 452.4Z" fill="#2a778e"/><path d="M1124.8 397.1 1121.4 399.6 1117.9 402.1 1121.5 404.2 1125.1 406.3 1128.5 403.8 1132 401.3 1128.4 399.2 1124.8 397.1Z" fill="#1f968b"/><path d="M1005.4 409.6 1001.9 412.8 998.4 416.1 1002 418.5 1005.5 420.9 1009 417.8 1012.5 414.6 1009 412.1 1005.4 409.6Z" fill="#218f8d"/><path d="M1138.8 396.4 1135.4 398.9 1132 401.3 1135.6 403.4 1139.2 405.4 1142.6 403 1146 400.6 1142.4 398.5 1138.8 396.4Z" fill="#1f978b"/><path d="M1152.9 395.8 1149.5 398.2 1146 400.6 1149.7 402.6 1153.3 404.7 1156.7 402.3 1160.1 399.9 1156.5 397.8 1152.9 395.8Z" fill="#1f978b"/><path d="M956.3 422.2 952.8 425.9 949.2 429.6 952.7 431.9 956.2 434.1 959.8 430.5 963.3 427 959.8 424.6 956.3 422.2Z" fill="#23888e"/><path d="M1019.5 408.4 1016 411.5 1012.5 414.6 1016 417 1019.6 419.4 1023.1 416.4 1026.6 413.4 1023 410.9 1019.5 408.4Z" fill="#21908d"/><path d="M1167 395.2 1163.5 397.5 1160.1 399.9 1163.7 401.9 1167.4 403.9 1170.8 401.6 1174.2 399.2 1170.6 397.2 1167 395.2Z" fill="#1f988b"/><path d="M921.2 435.4 917.6 439.5 914.1 443.5 917.6 445.7 921 447.9 924.6 444 928.1 440.1 924.6 437.8 921.2 435.4Z" fill="#26818e"/><path d="M1033.5 407.4 1030.1 410.4 1026.6 413.4 1030.1 415.8 1033.6 418.1 1037.1 415.2 1040.6 412.3 1037.1 409.9 1033.5 407.4Z" fill="#21918c"/><path d="M753.1 565.5 749.3 562.8 745.5 560.1 748.6 550.6 751.6 542.1 755.4 544.1 759.2 546.1 756.1 555.4 753.1 565.5Z" fill="#433e85"/><path d="M858 477.3 854.4 482 850.9 486.6 854.3 487.1 857.7 488 861.2 483.6 864.8 479.1 861.4 478 858 477.3Z" fill="#306a8e"/><path d="M1047.6 406.5 1044.1 409.4 1040.6 412.3 1044.2 414.6 1047.7 416.9 1051.2 414.1 1054.7 411.3 1051.1 408.9 1047.6 406.5Z" fill="#20928c"/><path d="M970.3 419.9 966.8 423.4 963.3 427 966.8 429.3 970.3 431.5 973.8 428.1 977.3 424.6 973.8 422.3 970.3 419.9Z" fill="#238a8d"/><path d="M900.1 447.5 896.5 451.7 893 456 896.4 457.9 899.9 459.9 903.5 455.7 907 451.6 903.5 449.5 900.1 447.5Z" fill="#297a8e"/><path d="M879 461.2 875.5 465.7 871.9 470.1 875.3 471.6 878.8 473.1 882.3 468.8 885.9 464.5 882.4 462.8 879 461.2Z" fill="#2c728e"/><path d="M1061.7 405.7 1058.2 408.5 1054.7 411.3 1058.2 413.5 1061.8 415.7 1065.3 412.9 1068.8 410.2 1065.2 408 1061.7 405.7Z" fill="#20928c"/><path d="M935.2 432.3 931.7 436.2 928.1 440.1 931.6 442.4 935.1 444.6 938.6 440.8 942.2 437 938.7 434.7 935.2 432.3Z" fill="#26828e"/><path d="M1075.7 404.8 1072.2 407.5 1068.8 410.2 1072.3 412.4 1075.9 414.5 1079.4 411.8 1082.8 409.1 1079.3 407 1075.7 404.8Z" fill="#20938c"/><path d="M829.9 506.9 826.3 511.1 822.7 514 826 510.3 829.4 507 833 506.4 836.6 504 833.2 505.3 829.9 506.9Z" fill="#365c8d"/><path d="M984.4 417.8 980.9 421.2 977.3 424.6 980.9 427 984.4 429.3 987.9 425.9 991.4 422.6 987.9 420.2 984.4 417.8Z" fill="#228b8d"/><path d="M1089.8 403.8 1086.3 406.5 1082.8 409.1 1086.4 411.2 1090 413.3 1093.5 410.7 1096.9 408.1 1093.3 406 1089.8 403.8Z" fill="#20938c"/><path d="M998.4 416.1 994.9 419.3 991.4 422.6 994.9 425 998.4 427.3 1002 424.1 1005.5 420.9 1002 418.5 998.4 416.1Z" fill="#228d8d"/><path d="M1103.8 403 1100.4 405.5 1096.9 408.1 1100.5 410.2 1104.1 412.3 1107.5 409.7 1111 407.2 1107.4 405.1 1103.8 403Z" fill="#1f948c"/><path d="M914.1 443.5 910.6 447.5 907 451.6 910.5 453.7 913.9 455.8 917.5 451.9 921 447.9 917.6 445.7 914.1 443.5Z" fill="#287d8e"/><path d="M731.9 575.1 728.1 571.8 724.3 568.6 727.3 559.4 730.3 550.3 734.1 552.6 737.9 555.1 734.9 564.9 731.9 575.1Z" fill="#453882"/><path d="M949.2 429.6 945.7 433.3 942.2 437 945.7 439.3 949.2 441.4 952.7 437.8 956.2 434.1 952.7 431.9 949.2 429.6Z" fill="#25858e"/><path d="M850.9 486.6 847.3 491.3 843.7 495.8 847.1 495.9 850.5 496.4 854.1 492.3 857.7 488 854.3 487.1 850.9 486.6Z" fill="#31668e"/><path d="M1117.9 402.1 1114.5 404.6 1111 407.2 1114.6 409.2 1118.2 411.3 1121.6 408.8 1125.1 406.3 1121.5 404.2 1117.9 402.1Z" fill="#1f958b"/><path d="M808.9 526.8 805.3 525.7 801.6 524.2 804.7 516.6 808 511.3 811.7 512.6 815.4 513.8 812.1 519.2 808.9 526.8Z" fill="#39558c"/><path d="M1012.5 414.6 1009 417.8 1005.5 420.9 1009 423.3 1012.5 425.6 1016 422.5 1019.6 419.4 1016 417 1012.5 414.6Z" fill="#218e8d"/><path d="M1132 401.3 1128.5 403.8 1125.1 406.3 1128.7 408.3 1132.3 410.4 1135.7 407.9 1139.2 405.4 1135.6 403.4 1132 401.3Z" fill="#1f958b"/><path d="M893 456 889.4 460.3 885.9 464.5 889.3 466.3 892.8 468.1 896.4 464 899.9 459.9 896.4 457.9 893 456Z" fill="#2a768e"/><path d="M871.9 470.1 868.3 474.6 864.8 479.1 868.2 480.4 871.7 481.7 875.2 477.5 878.8 473.1 875.3 471.6 871.9 470.1Z" fill="#2e6f8e"/><path d="M1146 400.6 1142.6 403 1139.2 405.4 1142.8 407.5 1146.4 409.5 1149.8 407.1 1153.3 404.7 1149.7 402.6 1146 400.6Z" fill="#1f968b"/><path d="M1026.6 413.4 1023.1 416.4 1019.6 419.4 1023.1 421.8 1026.6 424 1030.1 421.1 1033.6 418.1 1030.1 415.8 1026.6 413.4Z" fill="#218f8d"/><path d="M963.3 427 959.8 430.5 956.2 434.1 959.7 436.4 963.2 438.5 966.8 435 970.3 431.5 966.8 429.3 963.3 427Z" fill="#24878e"/><path d="M1160.1 399.9 1156.7 402.3 1153.3 404.7 1156.9 406.7 1160.5 408.7 1163.9 406.3 1167.4 403.9 1163.7 401.9 1160.1 399.9Z" fill="#1f978b"/><path d="M928.1 440.1 924.6 444 921 447.9 924.5 450.1 928 452.2 931.5 448.4 935.1 444.6 931.6 442.4 928.1 440.1Z" fill="#27808e"/><path d="M1174.2 399.2 1170.8 401.6 1167.4 403.9 1171 405.9 1174.6 407.9 1178 405.6 1181.4 403.3 1177.8 401.3 1174.2 399.2Z" fill="#1f978b"/><path d="M1040.6 412.3 1037.1 415.2 1033.6 418.1 1037.2 420.4 1040.7 422.6 1044.2 419.7 1047.7 416.9 1044.2 414.6 1040.6 412.3Z" fill="#21908d"/><path d="M787.9 540.4 784.2 538.6 780.4 536.8 783.5 527.9 786.7 518.4 790.4 519.7 794.1 521.2 791 531 787.9 540.4Z" fill="#3c508b"/><path d="M977.3 424.6 973.8 428.1 970.3 431.5 973.8 433.8 977.3 436 980.8 432.6 984.4 429.3 980.9 427 977.3 424.6Z" fill="#23898e"/><path d="M1054.7 411.3 1051.2 414.1 1047.7 416.9 1051.3 419.1 1054.8 421.2 1058.3 418.5 1061.8 415.7 1058.2 413.5 1054.7 411.3Z" fill="#21918c"/><path d="M907 451.6 903.5 455.7 899.9 459.9 903.4 461.8 906.8 463.8 910.4 459.8 913.9 455.8 910.5 453.7 907 451.6Z" fill="#297a8e"/><path d="M843.7 495.8 840.2 500.2 836.6 504 840 503 843.4 502.1 847 499.9 850.5 496.4 847.1 495.9 843.7 495.8Z" fill="#33628d"/><path d="M1068.8 410.2 1065.3 412.9 1061.8 415.7 1065.4 417.8 1068.9 419.9 1072.4 417.2 1075.9 414.5 1072.3 412.4 1068.8 410.2Z" fill="#20928c"/><path d="M942.2 437 938.6 440.8 935.1 444.6 938.6 446.7 942.1 448.8 945.6 445.1 949.2 441.4 945.7 439.3 942.2 437Z" fill="#26828e"/><path d="M864.8 479.1 861.2 483.6 857.7 488 861.1 489 864.5 490.1 868.1 486 871.7 481.7 868.2 480.4 864.8 479.1Z" fill="#2f6b8e"/><path d="M885.9 464.5 882.3 468.8 878.8 473.1 882.2 474.8 885.7 476.5 889.2 472.3 892.8 468.1 889.3 466.3 885.9 464.5Z" fill="#2c738e"/><path d="M991.4 422.6 987.9 425.9 984.4 429.3 987.9 431.5 991.4 433.8 994.9 430.5 998.4 427.3 994.9 425 991.4 422.6Z" fill="#238a8d"/><path d="M1082.8 409.1 1079.4 411.8 1075.9 414.5 1079.5 416.6 1083 418.6 1086.5 416 1090 413.3 1086.4 411.2 1082.8 409.1Z" fill="#20928c"/><path d="M766.7 550.6 763 548.3 759.2 546.1 762.3 538.1 765.4 531 769.2 532.3 772.9 533.7 769.8 541.6 766.7 550.6Z" fill="#3e4989"/><path d="M1096.9 408.1 1093.5 410.7 1090 413.3 1093.6 415.4 1097.2 417.4 1100.6 414.9 1104.1 412.3 1100.5 410.2 1096.9 408.1Z" fill="#20938c"/><path d="M1005.5 420.9 1002 424.1 998.4 427.3 1002 429.6 1005.5 431.8 1009 428.7 1012.5 425.6 1009 423.3 1005.5 420.9Z" fill="#228c8d"/><path d="M1111 407.2 1107.5 409.7 1104.1 412.3 1107.7 414.3 1111.3 416.3 1114.7 413.8 1118.2 411.3 1114.6 409.2 1111 407.2Z" fill="#1f948c"/><path d="M956.2 434.1 952.7 437.8 949.2 441.4 952.7 443.5 956.2 445.6 959.7 442.1 963.2 438.5 959.7 436.4 956.2 434.1Z" fill="#25848e"/><path d="M921 447.9 917.5 451.9 913.9 455.8 917.4 457.9 920.9 459.9 924.5 456.1 928 452.2 924.5 450.1 921 447.9Z" fill="#287d8e"/><path d="M822.7 514 819.1 514.5 815.4 513.8 818.7 509.2 822 505.6 825.7 506.5 829.4 507 826 510.3 822.7 514Z" fill="#365d8d"/><path d="M1125.1 406.3 1121.6 408.8 1118.2 411.3 1121.8 413.3 1125.4 415.3 1128.8 412.8 1132.3 410.4 1128.7 408.3 1125.1 406.3Z" fill="#1f948c"/><path d="M1019.6 419.4 1016 422.5 1012.5 425.6 1016.1 427.8 1019.6 430 1023.1 427 1026.6 424 1023.1 421.8 1019.6 419.4Z" fill="#228d8d"/><path d="M1139.2 405.4 1135.7 407.9 1132.3 410.4 1135.9 412.4 1139.5 414.3 1143 411.9 1146.4 409.5 1142.8 407.5 1139.2 405.4Z" fill="#1f958b"/><path d="M899.9 459.9 896.4 464 892.8 468.1 896.3 470 899.7 471.9 903.3 467.8 906.8 463.8 903.4 461.8 899.9 459.9Z" fill="#2a768e"/><path d="M1033.6 418.1 1030.1 421.1 1026.6 424 1030.2 426.2 1033.7 428.4 1037.2 425.5 1040.7 422.6 1037.2 420.4 1033.6 418.1Z" fill="#218e8d"/><path d="M1153.3 404.7 1149.8 407.1 1146.4 409.5 1150 411.5 1153.6 413.4 1157.1 411.1 1160.5 408.7 1156.9 406.7 1153.3 404.7Z" fill="#1f968b"/><path d="M970.3 431.5 966.8 435 963.2 438.5 966.7 440.7 970.2 442.8 973.8 439.4 977.3 436 973.8 433.8 970.3 431.5Z" fill="#24868e"/><path d="M878.8 473.1 875.2 477.5 871.7 481.7 875.1 483.2 878.6 484.7 882.1 480.6 885.7 476.5 882.2 474.8 878.8 473.1Z" fill="#2d708e"/><path d="M857.7 488 854.1 492.3 850.5 496.4 854 496.9 857.4 497.2 861 494 864.5 490.1 861.1 489 857.7 488Z" fill="#31688e"/><path d="M1167.4 403.9 1163.9 406.3 1160.5 408.7 1164.1 410.6 1167.8 412.6 1171.2 410.3 1174.6 407.9 1171 405.9 1167.4 403.9Z" fill="#1f968b"/><path d="M935.1 444.6 931.5 448.4 928 452.2 931.5 454.2 935 456.2 938.5 452.5 942.1 448.8 938.6 446.7 935.1 444.6Z" fill="#27808e"/><path d="M745.5 560.1 741.7 557.6 737.9 555.1 741 546.2 744.1 538.4 747.9 540.2 751.6 542.1 748.6 550.6 745.5 560.1Z" fill="#404588"/><path d="M1047.7 416.9 1044.2 419.7 1040.7 422.6 1044.3 424.8 1047.8 426.9 1051.3 424 1054.8 421.2 1051.3 419.1 1047.7 416.9Z" fill="#218f8d"/><path d="M1181.4 403.3 1178 405.6 1174.6 407.9 1178.2 409.9 1181.9 411.8 1185.3 409.5 1188.7 407.2 1185.1 405.2 1181.4 403.3Z" fill="#1f978b"/><path d="M984.4 429.3 980.8 432.6 977.3 436 980.8 438.2 984.4 440.3 987.9 437 991.4 433.8 987.9 431.5 984.4 429.3Z" fill="#23888e"/><path d="M1061.8 415.7 1058.3 418.5 1054.8 421.2 1058.4 423.3 1062 425.4 1065.4 422.6 1068.9 419.9 1065.4 417.8 1061.8 415.7Z" fill="#21908d"/><path d="M913.9 455.8 910.4 459.8 906.8 463.8 910.3 465.8 913.8 467.7 917.4 463.8 920.9 459.9 917.4 457.9 913.9 455.8Z" fill="#29798e"/><path d="M836.6 504 833 506.4 829.4 507 832.7 504.4 836 502.3 839.7 502.6 843.4 502.1 840 503 836.6 504Z" fill="#33628d"/><path d="M1075.9 414.5 1072.4 417.2 1068.9 419.9 1072.5 421.9 1076.1 424 1079.6 421.3 1083 418.6 1079.5 416.6 1075.9 414.5Z" fill="#21918c"/><path d="M949.2 441.4 945.6 445.1 942.1 448.8 945.6 450.8 949.1 452.8 952.6 449.2 956.2 445.6 952.7 443.5 949.2 441.4Z" fill="#26828e"/><path d="M998.4 427.3 994.9 430.5 991.4 433.8 994.9 435.9 998.5 438.1 1002 434.9 1005.5 431.8 1002 429.6 998.4 427.3Z" fill="#238a8d"/><path d="M1090 413.3 1086.5 416 1083 418.6 1086.6 420.7 1090.2 422.7 1093.7 420 1097.2 417.4 1093.6 415.4 1090 413.3Z" fill="#20928c"/><path d="M892.8 468.1 889.2 472.3 885.7 476.5 889.1 478.2 892.6 479.9 896.2 475.9 899.7 471.9 896.3 470 892.8 468.1Z" fill="#2c738e"/><path d="M801.6 524.2 797.8 522.7 794.1 521.2 797.3 513.9 800.6 508.8 804.3 510 808 511.3 804.7 516.6 801.6 524.2Z" fill="#375b8d"/><path d="M1104.1 412.3 1100.6 414.9 1097.2 417.4 1100.7 419.5 1104.3 421.5 1107.8 418.9 1111.3 416.3 1107.7 414.3 1104.1 412.3Z" fill="#20928c"/><path d="M1012.5 425.6 1009 428.7 1005.5 431.8 1009 434 1012.6 436.1 1016.1 433 1019.6 430 1016.1 427.8 1012.5 425.6Z" fill="#228b8d"/><path d="M871.7 481.7 868.1 486 864.5 490.1 868 491.2 871.4 492.3 875 488.6 878.6 484.7 875.1 483.2 871.7 481.7Z" fill="#2f6c8e"/><path d="M963.2 438.5 959.7 442.1 956.2 445.6 959.7 447.7 963.2 449.7 966.7 446.2 970.2 442.8 966.7 440.7 963.2 438.5Z" fill="#25838e"/><path d="M1118.2 411.3 1114.7 413.8 1111.3 416.3 1114.9 418.3 1118.5 420.3 1121.9 417.8 1125.4 415.3 1121.8 413.3 1118.2 411.3Z" fill="#20938c"/><path d="M724.3 568.6 720.4 565.5 716.6 562.4 719.6 554.1 722.6 545.8 726.5 548 730.3 550.3 727.3 559.4 724.3 568.6Z" fill="#424186"/><path d="M928 452.2 924.5 456.1 920.9 459.9 924.4 461.9 927.9 463.7 931.4 459.9 935 456.2 931.5 454.2 928 452.2Z" fill="#287c8e"/><path d="M1026.6 424 1023.1 427 1019.6 430 1023.2 432.2 1026.7 434.3 1030.2 431.3 1033.7 428.4 1030.2 426.2 1026.6 424Z" fill="#228c8d"/><path d="M1132.3 410.4 1128.8 412.8 1125.4 415.3 1129 417.3 1132.6 419.3 1136.1 416.8 1139.5 414.3 1135.9 412.4 1132.3 410.4Z" fill="#1f948c"/><path d="M850.5 496.4 847 499.9 843.4 502.1 846.7 500.9 850.1 499.7 853.8 499.2 857.4 497.2 854 496.9 850.5 496.4Z" fill="#31668e"/><path d="M1146.4 409.5 1143 411.9 1139.5 414.3 1143.1 416.3 1146.7 418.3 1150.2 415.9 1153.6 413.4 1150 411.5 1146.4 409.5Z" fill="#1f958b"/><path d="M1040.7 422.6 1037.2 425.5 1033.7 428.4 1037.3 430.5 1040.8 432.5 1044.3 429.7 1047.8 426.9 1044.3 424.8 1040.7 422.6Z" fill="#218e8d"/><path d="M780.4 536.8 776.7 535.2 772.9 533.7 776.1 525.2 779.2 516.1 782.9 517.2 786.7 518.4 783.5 527.9 780.4 536.8Z" fill="#39558c"/><path d="M906.8 463.8 903.3 467.8 899.7 471.9 903.2 473.7 906.7 475.5 910.2 471.6 913.8 467.7 910.3 465.8 906.8 463.8Z" fill="#2a768e"/><path d="M977.3 436 973.8 439.4 970.2 442.8 973.8 444.9 977.3 446.9 980.8 443.6 984.4 440.3 980.8 438.2 977.3 436Z" fill="#25858e"/><path d="M1160.5 408.7 1157.1 411.1 1153.6 413.4 1157.3 415.4 1160.9 417.3 1164.3 415 1167.8 412.6 1164.1 410.6 1160.5 408.7Z" fill="#1f958b"/><path d="M1174.6 407.9 1171.2 410.3 1167.8 412.6 1171.4 414.6 1175 416.5 1178.5 414.2 1181.9 411.8 1178.2 409.9 1174.6 407.9Z" fill="#1f968b"/><path d="M942.1 448.8 938.5 452.5 935 456.2 938.5 458.1 942 460 945.5 456.4 949.1 452.8 945.6 450.8 942.1 448.8Z" fill="#277f8e"/><path d="M1054.8 421.2 1051.3 424 1047.8 426.9 1051.4 428.9 1055 430.9 1058.5 428.1 1062 425.4 1058.4 423.3 1054.8 421.2Z" fill="#218f8d"/><path d="M885.7 476.5 882.1 480.6 878.6 484.7 882 486.2 885.5 487.6 889 483.8 892.6 479.9 889.1 478.2 885.7 476.5Z" fill="#2d708e"/><path d="M1188.7 407.2 1185.3 409.5 1181.9 411.8 1185.5 413.8 1189.2 415.7 1192.6 413.4 1196 411.1 1192.4 409.2 1188.7 407.2Z" fill="#1f968b"/><path d="M991.4 433.8 987.9 437 984.4 440.3 987.9 442.4 991.4 444.5 994.9 441.3 998.5 438.1 994.9 435.9 991.4 433.8Z" fill="#24878e"/><path d="M1068.9 419.9 1065.4 422.6 1062 425.4 1065.5 427.4 1069.1 429.4 1072.6 426.7 1076.1 424 1072.5 421.9 1068.9 419.9Z" fill="#21908d"/><path d="M759.2 546.1 755.4 544.1 751.6 542.1 754.8 534.9 757.9 528.8 761.7 529.8 765.4 531 762.3 538.1 759.2 546.1Z" fill="#3c4f8a"/><path d="M864.5 490.1 861 494 857.4 497.2 860.8 497.3 864.2 497.1 867.8 495.3 871.4 492.3 868 491.2 864.5 490.1Z" fill="#30698e"/><path d="M815.4 513.8 811.7 512.6 808 511.3 811.3 506.9 814.6 503.4 818.3 504.5 822 505.6 818.7 509.2 815.4 513.8Z" fill="#34618d"/><path d="M920.9 459.9 917.4 463.8 913.8 467.7 917.3 469.5 920.8 471.3 924.3 467.5 927.9 463.7 924.4 461.9 920.9 459.9Z" fill="#29798e"/><path d="M1083 418.6 1079.6 421.3 1076.1 424 1079.7 426 1083.2 428 1086.7 425.3 1090.2 422.7 1086.6 420.7 1083 418.6Z" fill="#21918c"/><path d="M956.2 445.6 952.6 449.2 949.1 452.8 952.6 454.7 956.1 456.7 959.6 453.2 963.2 449.7 959.7 447.7 956.2 445.6Z" fill="#26828e"/><path d="M1005.5 431.8 1002 434.9 998.5 438.1 1002 440.2 1005.5 442.2 1009.1 439.1 1012.6 436.1 1009 434 1005.5 431.8Z" fill="#23898e"/><path d="M1097.2 417.4 1093.7 420 1090.2 422.7 1093.8 424.7 1097.4 426.6 1100.9 424 1104.3 421.5 1100.7 419.5 1097.2 417.4Z" fill="#20928c"/><path d="M899.7 471.9 896.2 475.9 892.6 479.9 896.1 481.6 899.6 483.2 903.1 479.4 906.7 475.5 903.2 473.7 899.7 471.9Z" fill="#2c738e"/><path d="M1019.6 430 1016.1 433 1012.6 436.1 1016.1 438.2 1019.7 440.2 1023.2 437.2 1026.7 434.3 1023.2 432.2 1019.6 430Z" fill="#238a8d"/><path d="M1111.3 416.3 1107.8 418.9 1104.3 421.5 1107.9 423.4 1111.5 425.4 1115 422.8 1118.5 420.3 1114.9 418.3 1111.3 416.3Z" fill="#20928c"/><path d="M970.2 442.8 966.7 446.2 963.2 449.7 966.7 451.7 970.2 453.6 973.7 450.3 977.3 446.9 973.8 444.9 970.2 442.8Z" fill="#25838e"/><path d="M1125.4 415.3 1121.9 417.8 1118.5 420.3 1122.1 422.3 1125.7 424.2 1129.2 421.7 1132.6 419.3 1129 417.3 1125.4 415.3Z" fill="#20938c"/><path d="M935 456.2 931.4 459.9 927.9 463.7 931.4 465.5 934.9 467.3 938.4 463.7 942 460 938.5 458.1 935 456.2Z" fill="#287c8e"/><path d="M1033.7 428.4 1030.2 431.3 1026.7 434.3 1030.3 436.3 1033.8 438.3 1037.3 435.4 1040.8 432.5 1037.3 430.5 1033.7 428.4Z" fill="#228c8d"/><path d="M878.6 484.7 875 488.6 871.4 492.3 874.9 493.2 878.3 493.9 881.9 491.1 885.5 487.6 882 486.2 878.6 484.7Z" fill="#2e6d8e"/><path d="M829.4 507 825.7 506.5 822 505.6 825.3 502.8 828.7 500.6 832.4 501.5 836 502.3 832.7 504.4 829.4 507Z" fill="#32658e"/><path d="M1139.5 414.3 1136.1 416.8 1132.6 419.3 1136.2 421.2 1139.8 423.1 1143.3 420.7 1146.7 418.3 1143.1 416.3 1139.5 414.3Z" fill="#20938c"/><path d="M1153.6 413.4 1150.2 415.9 1146.7 418.3 1150.4 420.2 1154 422.1 1157.4 419.7 1160.9 417.3 1157.3 415.4 1153.6 413.4Z" fill="#1f948c"/><path d="M1047.8 426.9 1044.3 429.7 1040.8 432.5 1044.4 434.5 1048 436.5 1051.5 433.7 1055 430.9 1051.4 428.9 1047.8 426.9Z" fill="#228d8d"/><path d="M737.9 555.1 734.1 552.6 730.3 550.3 733.4 542.1 736.5 535 740.3 536.6 744.1 538.4 741 546.2 737.9 555.1Z" fill="#3e4c8a"/><path d="M984.4 440.3 980.8 443.6 977.3 446.9 980.8 448.9 984.3 450.9 987.9 447.7 991.4 444.5 987.9 442.4 984.4 440.3Z" fill="#25858e"/><path d="M1167.8 412.6 1164.3 415 1160.9 417.3 1164.5 419.3 1168.2 421.2 1171.6 418.8 1175 416.5 1171.4 414.6 1167.8 412.6Z" fill="#1f958b"/><path d="M913.8 467.7 910.2 471.6 906.7 475.5 910.2 477.2 913.6 478.8 917.2 475 920.8 471.3 917.3 469.5 913.8 467.7Z" fill="#2a768e"/><path d="M1181.9 411.8 1178.5 414.2 1175 416.5 1178.7 418.4 1182.3 420.3 1185.8 418 1189.2 415.7 1185.5 413.8 1181.9 411.8Z" fill="#1f958b"/><path d="M843.4 502.1 839.7 502.6 836 502.3 839.4 500.4 842.8 498.7 846.5 499.4 850.1 499.7 846.7 500.9 843.4 502.1Z" fill="#31678e"/><path d="M1062 425.4 1058.5 428.1 1055 430.9 1058.5 432.9 1062.1 434.9 1065.6 432.1 1069.1 429.4 1065.5 427.4 1062 425.4Z" fill="#218e8d"/><path d="M949.1 452.8 945.5 456.4 942 460 945.5 461.9 949 463.7 952.5 460.2 956.1 456.7 952.6 454.7 949.1 452.8Z" fill="#277f8e"/><path d="M1196 411.1 1192.6 413.4 1189.2 415.7 1192.8 417.6 1196.5 419.5 1199.9 417.2 1203.3 415 1199.7 413 1196 411.1Z" fill="#1f968b"/><path d="M998.5 438.1 994.9 441.3 991.4 444.5 994.9 446.5 998.5 448.5 1002 445.3 1005.5 442.2 1002 440.2 998.5 438.1Z" fill="#24878e"/><path d="M892.6 479.9 889 483.8 885.5 487.6 888.9 489 892.4 490.2 896 486.8 899.6 483.2 896.1 481.6 892.6 479.9Z" fill="#2d708e"/><path d="M794.1 521.2 790.4 519.7 786.7 518.4 789.9 511.4 793.1 506.5 796.8 507.6 800.6 508.8 797.3 513.9 794.1 521.2Z" fill="#34608d"/><path d="M1076.1 424 1072.6 426.7 1069.1 429.4 1072.7 431.3 1076.3 433.3 1079.8 430.6 1083.2 428 1079.7 426 1076.1 424Z" fill="#218f8d"/><path d="M857.4 497.2 853.8 499.2 850.1 499.7 853.5 498.5 856.9 497.4 860.6 497.6 864.2 497.1 860.8 497.3 857.4 497.2Z" fill="#30698e"/><path d="M1090.2 422.7 1086.7 425.3 1083.2 428 1086.8 429.9 1090.4 431.9 1093.9 429.2 1097.4 426.6 1093.8 424.7 1090.2 422.7Z" fill="#21918c"/><path d="M1012.6 436.1 1009.1 439.1 1005.5 442.2 1009.1 444.2 1012.6 446.2 1016.1 443.2 1019.7 440.2 1016.1 438.2 1012.6 436.1Z" fill="#23888e"/><path d="M927.9 463.7 924.3 467.5 920.8 471.3 924.3 473 927.7 474.7 931.3 471 934.9 467.3 931.4 465.5 927.9 463.7Z" fill="#29798e"/><path d="M963.2 449.7 959.6 453.2 956.1 456.7 959.6 458.6 963.1 460.4 966.7 457 970.2 453.6 966.7 451.7 963.2 449.7Z" fill="#26818e"/><path d="M1104.3 421.5 1100.9 424 1097.4 426.6 1101 428.6 1104.6 430.5 1108.1 427.9 1111.5 425.4 1107.9 423.4 1104.3 421.5Z" fill="#20928c"/><path d="M1026.7 434.3 1023.2 437.2 1019.7 440.2 1023.2 442.2 1026.8 444.2 1030.3 441.2 1033.8 438.3 1030.3 436.3 1026.7 434.3Z" fill="#238a8d"/><path d="M772.9 533.7 769.2 532.3 765.4 531 768.6 523.1 771.7 514.1 775.4 515.1 779.2 516.1 776.1 525.2 772.9 533.7Z" fill="#375b8d"/><path d="M1118.5 420.3 1115 422.8 1111.5 425.4 1115.1 427.3 1118.8 429.3 1122.2 426.7 1125.7 424.2 1122.1 422.3 1118.5 420.3Z" fill="#20928c"/><path d="M716.6 562.4 712.7 559.5 708.9 556.6 711.9 549.2 715 541.6 718.8 543.7 722.6 545.8 719.6 554.1 716.6 562.4Z" fill="#3f4889"/><path d="M906.7 475.5 903.1 479.4 899.6 483.2 903 484.7 906.5 486 910.1 482.5 913.6 478.8 910.2 477.2 906.7 475.5Z" fill="#2c738e"/><path d="M871.4 492.3 867.8 495.3 864.2 497.1 867.6 496.7 871.1 496.1 874.7 495.6 878.3 493.9 874.9 493.2 871.4 492.3Z" fill="#2f6b8e"/><path d="M977.3 446.9 973.7 450.3 970.2 453.6 973.7 455.6 977.3 457.5 980.8 454.2 984.3 450.9 980.8 448.9 977.3 446.9Z" fill="#25838e"/><path d="M1132.6 419.3 1129.2 421.7 1125.7 424.2 1129.3 426.2 1132.9 428.1 1136.4 425.6 1139.8 423.1 1136.2 421.2 1132.6 419.3Z" fill="#20928c"/><path d="M1040.8 432.5 1037.3 435.4 1033.8 438.3 1037.4 440.3 1040.9 442.2 1044.5 439.4 1048 436.5 1044.4 434.5 1040.8 432.5Z" fill="#228b8d"/><path d="M942 460 938.4 463.7 934.9 467.3 938.4 469.1 941.9 470.8 945.4 467.3 949 463.7 945.5 461.9 942 460Z" fill="#287c8e"/><path d="M1146.7 418.3 1143.3 420.7 1139.8 423.1 1143.5 425.1 1147.1 427 1150.6 424.6 1154 422.1 1150.4 420.2 1146.7 418.3Z" fill="#20938c"/><path d="M1160.9 417.3 1157.4 419.7 1154 422.1 1157.6 424.1 1161.3 426 1164.7 423.6 1168.2 421.2 1164.5 419.3 1160.9 417.3Z" fill="#1f948c"/><path d="M1055 430.9 1051.5 433.7 1048 436.5 1051.5 438.5 1055.1 440.4 1058.6 437.6 1062.1 434.9 1058.5 432.9 1055 430.9Z" fill="#228d8d"/><path d="M991.4 444.5 987.9 447.7 984.3 450.9 987.9 452.9 991.4 454.8 994.9 451.6 998.5 448.5 994.9 446.5 991.4 444.5Z" fill="#25858e"/><path d="M808 511.3 804.3 510 800.6 508.8 803.9 504.6 807.2 501.3 810.9 502.3 814.6 503.4 811.3 506.9 808 511.3Z" fill="#31668e"/><path d="M885.5 487.6 881.9 491.1 878.3 493.9 881.8 494.3 885.2 494.4 888.8 492.8 892.4 490.2 888.9 489 885.5 487.6Z" fill="#2e6e8e"/><path d="M1175 416.5 1171.6 418.8 1168.2 421.2 1171.8 423.1 1175.5 425 1178.9 422.7 1182.3 420.3 1178.7 418.4 1175 416.5Z" fill="#1f958b"/><path d="M751.6 542.1 747.9 540.2 744.1 538.4 747.2 532.1 750.4 526.9 754.2 527.8 757.9 528.8 754.8 534.9 751.6 542.1Z" fill="#3a548c"/><path d="M920.8 471.3 917.2 475 913.6 478.8 917.1 480.4 920.6 481.9 924.2 478.3 927.7 474.7 924.3 473 920.8 471.3Z" fill="#2a768e"/><path d="M1069.1 429.4 1065.6 432.1 1062.1 434.9 1065.7 436.8 1069.3 438.7 1072.8 436 1076.3 433.3 1072.7 431.3 1069.1 429.4Z" fill="#218e8d"/><path d="M1189.2 415.7 1185.8 418 1182.3 420.3 1186 422.2 1189.6 424.1 1193.1 421.8 1196.5 419.5 1192.8 417.6 1189.2 415.7Z" fill="#1f958b"/><path d="M956.1 456.7 952.5 460.2 949 463.7 952.5 465.5 956 467.3 959.6 463.9 963.1 460.4 959.6 458.6 956.1 456.7Z" fill="#277f8e"/><path d="M1203.3 415 1199.9 417.2 1196.5 419.5 1200.1 421.4 1203.8 423.3 1207.2 421 1210.6 418.8 1207 416.9 1203.3 415Z" fill="#1f968b"/><path d="M1005.5 442.2 1002 445.3 998.5 448.5 1002 450.4 1005.6 452.3 1009.1 449.3 1012.6 446.2 1009.1 444.2 1005.5 442.2Z" fill="#24868e"/><path d="M1083.2 428 1079.8 430.6 1076.3 433.3 1079.9 435.2 1083.5 437.2 1086.9 434.5 1090.4 431.9 1086.8 429.9 1083.2 428Z" fill="#218f8d"/><path d="M899.6 483.2 896 486.8 892.4 490.2 895.9 491.1 899.3 491.7 902.9 489.2 906.5 486 903 484.7 899.6 483.2Z" fill="#2d718e"/><path d="M822 505.6 818.3 504.5 814.6 503.4 817.9 500.7 821.3 498.6 825 499.6 828.7 500.6 825.3 502.8 822 505.6Z" fill="#30698e"/><path d="M1097.4 426.6 1093.9 429.2 1090.4 431.9 1094 433.8 1097.6 435.7 1101.1 433.1 1104.6 430.5 1101 428.6 1097.4 426.6Z" fill="#21908d"/><path d="M1019.7 440.2 1016.1 443.2 1012.6 446.2 1016.2 448.2 1019.7 450.1 1023.3 447.1 1026.8 444.2 1023.2 442.2 1019.7 440.2Z" fill="#23888e"/><path d="M970.2 453.6 966.7 457 963.1 460.4 966.6 462.3 970.2 464.1 973.7 460.8 977.3 457.5 973.7 455.6 970.2 453.6Z" fill="#26818e"/><path d="M934.9 467.3 931.3 471 927.7 474.7 931.2 476.3 934.7 477.9 938.3 474.4 941.9 470.8 938.4 469.1 934.9 467.3Z" fill="#29798e"/><path d="M1111.5 425.4 1108.1 427.9 1104.6 430.5 1108.2 432.4 1111.8 434.3 1115.3 431.8 1118.8 429.3 1115.1 427.3 1111.5 425.4Z" fill="#21918c"/><path d="M1033.8 438.3 1030.3 441.2 1026.8 444.2 1030.3 446.1 1033.9 448 1037.4 445.1 1040.9 442.2 1037.4 440.3 1033.8 438.3Z" fill="#238a8d"/><path d="M836 502.3 832.4 501.5 828.7 500.6 832.1 498.7 835.4 497 839.1 497.9 842.8 498.7 839.4 500.4 836 502.3Z" fill="#2f6b8e"/><path d="M1125.7 424.2 1122.2 426.7 1118.8 429.3 1122.4 431.2 1126 433.1 1129.5 430.6 1132.9 428.1 1129.3 426.2 1125.7 424.2Z" fill="#20928c"/><path d="M984.3 450.9 980.8 454.2 977.3 457.5 980.8 459.3 984.3 461.2 987.9 458 991.4 454.8 987.9 452.9 984.3 450.9Z" fill="#26828e"/><path d="M1139.8 423.1 1136.4 425.6 1132.9 428.1 1136.6 430 1140.2 431.9 1143.6 429.4 1147.1 427 1143.5 425.1 1139.8 423.1Z" fill="#20928c"/><path d="M730.3 550.3 726.5 548 722.6 545.8 725.7 538.3 728.8 531.9 732.7 533.4 736.5 535 733.4 542.1 730.3 550.3Z" fill="#3b528b"/><path d="M850.1 499.7 846.5 499.4 842.8 498.7 846.2 497.3 849.6 496 853.3 496.8 856.9 497.4 853.5 498.5 850.1 499.7Z" fill="#2f6c8e"/><path d="M913.6 478.8 910.1 482.5 906.5 486 910 487.3 913.5 488.3 917 485.3 920.6 481.9 917.1 480.4 913.6 478.8Z" fill="#2c738e"/><path d="M1048 436.5 1044.5 439.4 1040.9 442.2 1044.5 444.1 1048.1 446 1051.6 443.2 1055.1 440.4 1051.5 438.5 1048 436.5Z" fill="#228b8d"/><path d="M949 463.7 945.4 467.3 941.9 470.8 945.4 472.5 948.9 474.2 952.5 470.7 956 467.3 952.5 465.5 949 463.7Z" fill="#287c8e"/><path d="M1154 422.1 1150.6 424.6 1147.1 427 1150.7 428.9 1154.4 430.8 1157.8 428.4 1161.3 426 1157.6 424.1 1154 422.1Z" fill="#20938c"/><path d="M786.7 518.4 782.9 517.2 779.2 516.1 782.4 509.3 785.6 504.5 789.4 505.4 793.1 506.5 789.9 511.4 786.7 518.4Z" fill="#32648e"/><path d="M864.2 497.1 860.6 497.6 856.9 497.4 860.3 496.3 863.8 495.3 867.4 495.9 871.1 496.1 867.6 496.7 864.2 497.1Z" fill="#2e6d8e"/><path d="M1168.2 421.2 1164.7 423.6 1161.3 426 1164.9 427.8 1168.6 429.7 1172 427.4 1175.5 425 1171.8 423.1 1168.2 421.2Z" fill="#1f948c"/><path d="M1062.1 434.9 1058.6 437.6 1055.1 440.4 1058.7 442.3 1062.3 444.2 1065.8 441.5 1069.3 438.7 1065.7 436.8 1062.1 434.9Z" fill="#228c8d"/><path d="M998.5 448.5 994.9 451.6 991.4 454.8 994.9 456.7 998.5 458.5 1002 455.4 1005.6 452.3 1002 450.4 998.5 448.5Z" fill="#25848e"/><path d="M1182.3 420.3 1178.9 422.7 1175.5 425 1179.1 426.9 1182.8 428.8 1186.2 426.4 1189.6 424.1 1186 422.2 1182.3 420.3Z" fill="#1f948c"/><path d="M878.3 493.9 874.7 495.6 871.1 496.1 874.5 495.4 877.9 494.6 881.6 494.8 885.2 494.4 881.8 494.3 878.3 493.9Z" fill="#2e6e8e"/><path d="M1076.3 433.3 1072.8 436 1069.3 438.7 1072.9 440.6 1076.5 442.5 1080 439.8 1083.5 437.2 1079.9 435.2 1076.3 433.3Z" fill="#218e8d"/><path d="M1196.5 419.5 1193.1 421.8 1189.6 424.1 1193.3 426 1197 427.9 1200.4 425.6 1203.8 423.3 1200.1 421.4 1196.5 419.5Z" fill="#1f958b"/><path d="M963.1 460.4 959.6 463.9 956 467.3 959.5 469 963.1 470.8 966.6 467.4 970.2 464.1 966.6 462.3 963.1 460.4Z" fill="#277f8e"/><path d="M927.7 474.7 924.2 478.3 920.6 481.9 924.1 483.3 927.6 484.6 931.2 481.3 934.7 477.9 931.2 476.3 927.7 474.7Z" fill="#2a768e"/><path d="M1210.6 418.8 1207.2 421 1203.8 423.3 1207.5 425.2 1211.2 427 1214.6 424.8 1218 422.6 1214.3 420.7 1210.6 418.8Z" fill="#1f968b"/><path d="M1012.6 446.2 1009.1 449.3 1005.6 452.3 1009.1 454.2 1012.7 456.1 1016.2 453.1 1019.7 450.1 1016.2 448.2 1012.6 446.2Z" fill="#24868e"/><path d="M765.4 531 761.7 529.8 757.9 528.8 761.1 521.3 764.2 512.5 767.9 513.3 771.7 514.1 768.6 523.1 765.4 531Z" fill="#355f8d"/><path d="M1090.4 431.9 1086.9 434.5 1083.5 437.2 1087.1 439.1 1090.7 440.9 1094.1 438.3 1097.6 435.7 1094 433.8 1090.4 431.9Z" fill="#218f8d"/><path d="M892.4 490.2 888.8 492.8 885.2 494.4 888.7 494.1 892.1 493.6 895.7 493.2 899.3 491.7 895.9 491.1 892.4 490.2Z" fill="#2d708e"/><path d="M1104.6 430.5 1101.1 433.1 1097.6 435.7 1101.2 437.6 1104.9 439.5 1108.3 436.9 1111.8 434.3 1108.2 432.4 1104.6 430.5Z" fill="#21908d"/><path d="M1026.8 444.2 1023.3 447.1 1019.7 450.1 1023.3 452 1026.9 453.8 1030.4 450.9 1033.9 448 1030.3 446.1 1026.8 444.2Z" fill="#23888e"/><path d="M977.3 457.5 973.7 460.8 970.2 464.1 973.7 465.9 977.2 467.6 980.8 464.4 984.3 461.2 980.8 459.3 977.3 457.5Z" fill="#26818e"/><path d="M1118.8 429.3 1115.3 431.8 1111.8 434.3 1115.4 436.2 1119.1 438.1 1122.5 435.6 1126 433.1 1122.4 431.2 1118.8 429.3Z" fill="#21918c"/><path d="M941.9 470.8 938.3 474.4 934.7 477.9 938.3 479.4 941.8 480.9 945.3 477.6 948.9 474.2 945.4 472.5 941.9 470.8Z" fill="#29798e"/><path d="M708.9 556.6 705 553.7 701.1 551 704.2 544.5 707.3 537.7 711.1 539.6 715 541.6 711.9 549.2 708.9 556.6Z" fill="#3c508b"/><path d="M906.5 486 902.9 489.2 899.3 491.7 902.8 492 906.3 492.1 909.9 490.7 913.5 488.3 910 487.3 906.5 486Z" fill="#2c718e"/><path d="M800.6 508.8 796.8 507.6 793.1 506.5 796.4 502.4 799.7 499.2 803.4 500.2 807.2 501.3 803.9 504.6 800.6 508.8Z" fill="#306a8e"/><path d="M1040.9 442.2 1037.4 445.1 1033.9 448 1037.5 449.9 1041 451.7 1044.6 448.9 1048.1 446 1044.5 444.1 1040.9 442.2Z" fill="#23898e"/><path d="M1132.9 428.1 1129.5 430.6 1126 433.1 1129.6 434.9 1133.3 436.8 1136.7 434.3 1140.2 431.9 1136.6 430 1132.9 428.1Z" fill="#20928c"/><path d="M744.1 538.4 740.3 536.6 736.5 535 739.6 529.6 742.8 525.4 746.6 526.1 750.4 526.9 747.2 532.1 744.1 538.4Z" fill="#375a8c"/><path d="M991.4 454.8 987.9 458 984.3 461.2 987.9 463 991.4 464.8 995 461.6 998.5 458.5 994.9 456.7 991.4 454.8Z" fill="#26828e"/><path d="M1147.1 427 1143.6 429.4 1140.2 431.9 1143.8 433.7 1147.5 435.6 1150.9 433.2 1154.4 430.8 1150.7 428.9 1147.1 427Z" fill="#20928c"/><path d="M1055.1 440.4 1051.6 443.2 1048.1 446 1051.7 447.9 1055.2 449.8 1058.8 447 1062.3 444.2 1058.7 442.3 1055.1 440.4Z" fill="#228b8d"/><path d="M1161.3 426 1157.8 428.4 1154.4 430.8 1158 432.6 1161.7 434.5 1165.1 432.1 1168.6 429.7 1164.9 427.8 1161.3 426Z" fill="#20938c"/><path d="M956 467.3 952.5 470.7 948.9 474.2 952.4 475.8 955.9 477.4 959.5 474.1 963.1 470.8 959.5 469 956 467.3Z" fill="#287c8e"/><path d="M920.6 481.9 917 485.3 913.5 488.3 917 489.2 920.4 489.9 924 487.6 927.6 484.6 924.1 483.3 920.6 481.9Z" fill="#2b748e"/><path d="M1175.5 425 1172 427.4 1168.6 429.7 1172.2 431.6 1175.9 433.4 1179.3 431.1 1182.8 428.8 1179.1 426.9 1175.5 425Z" fill="#20938c"/><path d="M1069.3 438.7 1065.8 441.5 1062.3 444.2 1065.9 446.1 1069.5 448 1073 445.2 1076.5 442.5 1072.9 440.6 1069.3 438.7Z" fill="#228c8d"/><path d="M814.6 503.4 810.9 502.3 807.2 501.3 810.5 498.7 813.9 496.6 817.6 497.6 821.3 498.6 817.9 500.7 814.6 503.4Z" fill="#2e6d8e"/><path d="M1005.6 452.3 1002 455.4 998.5 458.5 1002 460.4 1005.6 462.2 1009.1 459.1 1012.7 456.1 1009.1 454.2 1005.6 452.3Z" fill="#25848e"/><path d="M1189.6 424.1 1186.2 426.4 1182.8 428.8 1186.4 430.6 1190.1 432.5 1193.5 430.2 1197 427.9 1193.3 426 1189.6 424.1Z" fill="#1f948c"/><path d="M1083.5 437.2 1080 439.8 1076.5 442.5 1080.1 444.4 1083.7 446.3 1087.2 443.6 1090.7 440.9 1087.1 439.1 1083.5 437.2Z" fill="#228d8d"/><path d="M1203.8 423.3 1200.4 425.6 1197 427.9 1200.6 429.7 1204.3 431.6 1207.7 429.3 1211.2 427 1207.5 425.2 1203.8 423.3Z" fill="#1f958b"/><path d="M828.7 500.6 825 499.6 821.3 498.6 824.7 496.8 828 495.2 831.7 496.1 835.4 497 832.1 498.7 828.7 500.6Z" fill="#2e6f8e"/><path d="M1218 422.6 1214.6 424.8 1211.2 427 1214.8 428.9 1218.5 430.8 1221.9 428.5 1225.4 426.3 1221.7 424.4 1218 422.6Z" fill="#1f958b"/><path d="M970.2 464.1 966.6 467.4 963.1 470.8 966.6 472.5 970.1 474.1 973.7 470.9 977.2 467.6 973.7 465.9 970.2 464.1Z" fill="#277f8e"/><path d="M1019.7 450.1 1016.2 453.1 1012.7 456.1 1016.2 457.9 1019.8 459.7 1023.3 456.8 1026.9 453.8 1023.3 452 1019.7 450.1Z" fill="#24868e"/><path d="M1097.6 435.7 1094.1 438.3 1090.7 440.9 1094.3 442.8 1097.9 444.7 1101.4 442.1 1104.9 439.5 1101.2 437.6 1097.6 435.7Z" fill="#218f8d"/><path d="M934.7 477.9 931.2 481.3 927.6 484.6 931.1 485.9 934.6 487 938.2 484.1 941.8 480.9 938.3 479.4 934.7 477.9Z" fill="#2a778e"/><path d="M842.8 498.7 839.1 497.9 835.4 497 838.8 495.6 842.2 494.3 845.9 495.2 849.6 496 846.2 497.3 842.8 498.7Z" fill="#2d708e"/><path d="M856.9 497.4 853.3 496.8 849.6 496 853 494.9 856.4 493.9 860.1 494.6 863.8 495.3 860.3 496.3 856.9 497.4Z" fill="#2d718e"/><path d="M1111.8 434.3 1108.3 436.9 1104.9 439.5 1108.5 441.3 1112.1 443.2 1115.6 440.6 1119.1 438.1 1115.4 436.2 1111.8 434.3Z" fill="#21908d"/><path d="M1033.9 448 1030.4 450.9 1026.9 453.8 1030.4 455.7 1034 457.5 1037.5 454.6 1041 451.7 1037.5 449.9 1033.9 448Z" fill="#23888e"/><path d="M871.1 496.1 867.4 495.9 863.8 495.3 867.2 494.4 870.6 493.5 874.3 494.1 877.9 494.6 874.5 495.4 871.1 496.1Z" fill="#2d718e"/><path d="M779.2 516.1 775.4 515.1 771.7 514.1 774.9 507.5 778.1 502.7 781.9 503.5 785.6 504.5 782.4 509.3 779.2 516.1Z" fill="#30698e"/><path d="M984.3 461.2 980.8 464.4 977.2 467.6 980.8 469.4 984.3 471.1 987.9 467.9 991.4 464.8 987.9 463 984.3 461.2Z" fill="#26818e"/><path d="M722.6 545.8 718.8 543.7 715 541.6 718.1 534.8 721.2 529.1 725 530.5 728.8 531.9 725.7 538.3 722.6 545.8Z" fill="#38598c"/><path d="M1126 433.1 1122.5 435.6 1119.1 438.1 1122.7 440 1126.3 441.8 1129.8 439.3 1133.3 436.8 1129.6 434.9 1126 433.1Z" fill="#21918c"/><path d="M885.2 494.4 881.6 494.8 877.9 494.6 881.4 493.8 884.8 493 888.5 493.4 892.1 493.6 888.7 494.1 885.2 494.4Z" fill="#2c718e"/><path d="M1048.1 446 1044.6 448.9 1041 451.7 1044.6 453.6 1048.2 455.4 1051.7 452.6 1055.2 449.8 1051.7 447.9 1048.1 446Z" fill="#23898e"/><path d="M948.9 474.2 945.3 477.6 941.8 480.9 945.3 482.4 948.8 483.7 952.4 480.7 955.9 477.4 952.4 475.8 948.9 474.2Z" fill="#297a8e"/><path d="M1140.2 431.9 1136.7 434.3 1133.3 436.8 1136.9 438.7 1140.5 440.5 1144 438.1 1147.5 435.6 1143.8 433.7 1140.2 431.9Z" fill="#20928c"/><path d="M899.3 491.7 895.7 493.2 892.1 493.6 895.6 493 899 492.3 902.7 492.4 906.3 492.1 902.8 492 899.3 491.7Z" fill="#2c728e"/><path d="M998.5 458.5 995 461.6 991.4 464.8 995 466.6 998.5 468.3 1002.1 465.2 1005.6 462.2 1002 460.4 998.5 458.5Z" fill="#26828e"/><path d="M1154.4 430.8 1150.9 433.2 1147.5 435.6 1151.1 437.5 1154.8 439.3 1158.2 436.9 1161.7 434.5 1158 432.6 1154.4 430.8Z" fill="#20928c"/><path d="M757.9 528.8 754.2 527.8 750.4 526.9 753.5 519.8 756.7 511.2 760.4 511.8 764.2 512.5 761.1 521.3 757.9 528.8Z" fill="#33638d"/><path d="M1062.3 444.2 1058.8 447 1055.2 449.8 1058.8 451.6 1062.4 453.5 1065.9 450.7 1069.5 448 1065.9 446.1 1062.3 444.2Z" fill="#228b8d"/><path d="M1168.6 429.7 1165.1 432.1 1161.7 434.5 1165.3 436.3 1169 438.2 1172.4 435.8 1175.9 433.4 1172.2 431.6 1168.6 429.7Z" fill="#20928c"/><path d="M913.5 488.3 909.9 490.7 906.3 492.1 909.8 491.8 913.2 491.5 916.8 491.1 920.4 489.9 917 489.2 913.5 488.3Z" fill="#2c738e"/><path d="M963.1 470.8 959.5 474.1 955.9 477.4 959.5 479 963 480.5 966.6 477.3 970.1 474.1 966.6 472.5 963.1 470.8Z" fill="#287c8e"/><path d="M1182.8 428.8 1179.3 431.1 1175.9 433.4 1179.6 435.3 1183.2 437.1 1186.7 434.8 1190.1 432.5 1186.4 430.6 1182.8 428.8Z" fill="#20938c"/><path d="M1076.5 442.5 1073 445.2 1069.5 448 1073.1 449.8 1076.7 451.6 1080.2 448.9 1083.7 446.3 1080.1 444.4 1076.5 442.5Z" fill="#228c8d"/><path d="M1012.7 456.1 1009.1 459.1 1005.6 462.2 1009.2 464 1012.7 465.7 1016.3 462.7 1019.8 459.7 1016.2 457.9 1012.7 456.1Z" fill="#25848e"/><path d="M1197 427.9 1193.5 430.2 1190.1 432.5 1193.8 434.3 1197.5 436.1 1200.9 433.9 1204.3 431.6 1200.6 429.7 1197 427.9Z" fill="#1f948c"/><path d="M927.6 484.6 924 487.6 920.4 489.9 923.9 490.2 927.4 490.3 931 489.1 934.6 487 931.1 485.9 927.6 484.6Z" fill="#2b758e"/><path d="M1090.7 440.9 1087.2 443.6 1083.7 446.3 1087.3 448.1 1090.9 450 1094.4 447.3 1097.9 444.7 1094.3 442.8 1090.7 440.9Z" fill="#228d8d"/><path d="M1211.2 427 1207.7 429.3 1204.3 431.6 1208 433.4 1211.7 435.2 1215.1 433 1218.5 430.8 1214.8 428.9 1211.2 427Z" fill="#1f958b"/><path d="M793.1 506.5 789.4 505.4 785.6 504.5 788.9 500.5 792.2 497.4 796 498.3 799.7 499.2 796.4 502.4 793.1 506.5Z" fill="#2e6f8e"/><path d="M1225.4 426.3 1221.9 428.5 1218.5 430.8 1222.2 432.6 1225.9 434.4 1229.3 432.2 1232.7 430 1229.1 428.2 1225.4 426.3Z" fill="#1f958b"/><path d="M1026.9 453.8 1023.3 456.8 1019.8 459.7 1023.4 461.5 1026.9 463.3 1030.5 460.4 1034 457.5 1030.4 455.7 1026.9 453.8Z" fill="#24868e"/><path d="M977.2 467.6 973.7 470.9 970.1 474.1 973.7 475.8 977.2 477.4 980.8 474.2 984.3 471.1 980.8 469.4 977.2 467.6Z" fill="#277f8e"/><path d="M1104.9 439.5 1101.4 442.1 1097.9 444.7 1101.5 446.5 1105.1 448.4 1108.6 445.8 1112.1 443.2 1108.5 441.3 1104.9 439.5Z" fill="#218e8d"/><path d="M736.5 535 732.7 533.4 728.8 531.9 732 527.4 735.3 524.1 739.1 524.7 742.8 525.4 739.6 529.6 736.5 535Z" fill="#355f8d"/><path d="M701.1 551 697.2 548.3 693.3 545.6 696.5 540.1 699.5 534 703.4 535.8 707.3 537.7 704.2 544.5 701.1 551Z" fill="#39568c"/><path d="M941.8 480.9 938.2 484.1 934.6 487 938.1 487.9 941.6 488.5 945.2 486.5 948.8 483.7 945.3 482.4 941.8 480.9Z" fill="#2a788e"/><path d="M1119.1 438.1 1115.6 440.6 1112.1 443.2 1115.7 445 1119.3 446.9 1122.8 444.3 1126.3 441.8 1122.7 440 1119.1 438.1Z" fill="#218f8d"/><path d="M1041 451.7 1037.5 454.6 1034 457.5 1037.6 459.3 1041.2 461.1 1044.7 458.3 1048.2 455.4 1044.6 453.6 1041 451.7Z" fill="#24878e"/><path d="M991.4 464.8 987.9 467.9 984.3 471.1 987.9 472.8 991.4 474.5 995 471.4 998.5 468.3 995 466.6 991.4 464.8Z" fill="#26818e"/><path d="M1133.3 436.8 1129.8 439.3 1126.3 441.8 1129.9 443.7 1133.6 445.5 1137.1 443 1140.5 440.5 1136.9 438.7 1133.3 436.8Z" fill="#21908d"/><path d="M807.2 501.3 803.4 500.2 799.7 499.2 803 496.8 806.4 494.8 810.1 495.7 813.9 496.6 810.5 498.7 807.2 501.3Z" fill="#2d718e"/><path d="M1055.2 449.8 1051.7 452.6 1048.2 455.4 1051.8 457.2 1055.4 459 1058.9 456.2 1062.4 453.5 1058.8 451.6 1055.2 449.8Z" fill="#23898e"/><path d="M1147.5 435.6 1144 438.1 1140.5 440.5 1144.2 442.4 1147.8 444.2 1151.3 441.7 1154.8 439.3 1151.1 437.5 1147.5 435.6Z" fill="#21918c"/><path d="M955.9 477.4 952.4 480.7 948.8 483.7 952.3 485 955.9 486.1 959.4 483.5 963 480.5 959.5 479 955.9 477.4Z" fill="#297a8e"/><path d="M821.3 498.6 817.6 497.6 813.9 496.6 817.2 494.9 820.6 493.4 824.3 494.3 828 495.2 824.7 496.8 821.3 498.6Z" fill="#2c728e"/><path d="M1161.7 434.5 1158.2 436.9 1154.8 439.3 1158.4 441.1 1162.1 443 1165.5 440.6 1169 438.2 1165.3 436.3 1161.7 434.5Z" fill="#20928c"/><path d="M1005.6 462.2 1002.1 465.2 998.5 468.3 1002.1 470.1 1005.6 471.8 1009.2 468.8 1012.7 465.7 1009.2 464 1005.6 462.2Z" fill="#26828e"/><path d="M1069.5 448 1065.9 450.7 1062.4 453.5 1066 455.3 1069.6 457.1 1073.1 454.4 1076.7 451.6 1073.1 449.8 1069.5 448Z" fill="#238a8d"/><path d="M835.4 497 831.7 496.1 828 495.2 831.4 493.8 834.8 492.6 838.5 493.5 842.2 494.3 838.8 495.6 835.4 497Z" fill="#2c738e"/><path d="M1175.9 433.4 1172.4 435.8 1169 438.2 1172.7 440 1176.3 441.8 1179.8 439.5 1183.2 437.1 1179.6 435.3 1175.9 433.4Z" fill="#20928c"/><path d="M849.6 496 845.9 495.2 842.2 494.3 845.6 493.3 849.1 492.3 852.7 493.1 856.4 493.9 853 494.9 849.6 496Z" fill="#2c738e"/><path d="M863.8 495.3 860.1 494.6 856.4 493.9 859.9 493 863.3 492.1 867 492.8 870.6 493.5 867.2 494.4 863.8 495.3Z" fill="#2b748e"/><path d="M1190.1 432.5 1186.7 434.8 1183.2 437.1 1186.9 438.9 1190.6 440.8 1194 438.4 1197.5 436.1 1193.8 434.3 1190.1 432.5Z" fill="#20938c"/><path d="M1083.7 446.3 1080.2 448.9 1076.7 451.6 1080.3 453.5 1083.9 455.3 1087.4 452.6 1090.9 450 1087.3 448.1 1083.7 446.3Z" fill="#228c8d"/><path d="M877.9 494.6 874.3 494.1 870.6 493.5 874.1 492.7 877.5 491.8 881.2 492.4 884.8 493 881.4 493.8 877.9 494.6Z" fill="#2b748e"/><path d="M771.7 514.1 767.9 513.3 764.2 512.5 767.4 505.9 770.6 501.2 774.4 501.9 778.1 502.7 774.9 507.5 771.7 514.1Z" fill="#2e6d8e"/><path d="M970.1 474.1 966.6 477.3 963 480.5 966.5 482 970.1 483.3 973.6 480.4 977.2 477.4 973.7 475.8 970.1 474.1Z" fill="#287d8e"/><path d="M1019.8 459.7 1016.3 462.7 1012.7 465.7 1016.3 467.5 1019.9 469.3 1023.4 466.3 1026.9 463.3 1023.4 461.5 1019.8 459.7Z" fill="#25848e"/><path d="M892.1 493.6 888.5 493.4 884.8 493 888.3 492.2 891.7 491.5 895.4 492 899 492.3 895.6 493 892.1 493.6Z" fill="#2b758e"/><path d="M1204.3 431.6 1200.9 433.9 1197.5 436.1 1201.1 438 1204.8 439.8 1208.3 437.5 1211.7 435.2 1208 433.4 1204.3 431.6Z" fill="#1f948c"/><path d="M906.3 492.1 902.7 492.4 899 492.3 902.5 491.7 906 491.1 909.6 491.4 913.2 491.5 909.8 491.8 906.3 492.1Z" fill="#2b758e"/><path d="M1097.9 444.7 1094.4 447.3 1090.9 450 1094.5 451.8 1098.1 453.6 1101.6 451 1105.1 448.4 1101.5 446.5 1097.9 444.7Z" fill="#228d8d"/><path d="M1218.5 430.8 1215.1 433 1211.7 435.2 1215.4 437 1219.1 438.8 1222.5 436.6 1225.9 434.4 1222.2 432.6 1218.5 430.8Z" fill="#1f948c"/><path d="M715 541.6 711.1 539.6 707.3 537.7 710.4 531.6 713.5 526.5 717.4 527.8 721.2 529.1 718.1 534.8 715 541.6Z" fill="#355e8d"/><path d="M1232.7 430 1229.3 432.2 1225.9 434.4 1229.6 436.2 1233.3 438 1236.7 435.8 1240.2 433.6 1236.5 431.8 1232.7 430Z" fill="#1f958b"/><path d="M920.4 489.9 916.8 491.1 913.2 491.5 916.7 491.1 920.2 490.6 923.8 490.7 927.4 490.3 923.9 490.2 920.4 489.9Z" fill="#2a768e"/><path d="M1034 457.5 1030.5 460.4 1026.9 463.3 1030.5 465.1 1034.1 466.9 1037.6 464 1041.2 461.1 1037.6 459.3 1034 457.5Z" fill="#24868e"/><path d="M1112.1 443.2 1108.6 445.8 1105.1 448.4 1108.7 450.2 1112.4 452 1115.9 449.4 1119.3 446.9 1115.7 445 1112.1 443.2Z" fill="#218e8d"/><path d="M750.4 526.9 746.6 526.1 742.8 525.4 746 518.7 749.1 510.1 752.9 510.6 756.7 511.2 753.5 519.8 750.4 526.9Z" fill="#31678e"/><path d="M984.3 471.1 980.8 474.2 977.2 477.4 980.7 479 984.3 480.5 987.8 477.5 991.4 474.5 987.9 472.8 984.3 471.1Z" fill="#277f8e"/><path d="M934.6 487 931 489.1 927.4 490.3 930.9 490.2 934.4 490 938.1 489.6 941.6 488.5 938.1 487.9 934.6 487Z" fill="#2a778e"/><path d="M1126.3 441.8 1122.8 444.3 1119.3 446.9 1123 448.7 1126.6 450.5 1130.1 448 1133.6 445.5 1129.9 443.7 1126.3 441.8Z" fill="#218f8d"/><path d="M1048.2 455.4 1044.7 458.3 1041.2 461.1 1044.7 462.9 1048.3 464.7 1051.9 461.9 1055.4 459 1051.8 457.2 1048.2 455.4Z" fill="#24878e"/><path d="M1140.5 440.5 1137.1 443 1133.6 445.5 1137.2 447.3 1140.9 449.1 1144.4 446.6 1147.8 444.2 1144.2 442.4 1140.5 440.5Z" fill="#21908d"/><path d="M998.5 468.3 995 471.4 991.4 474.5 995 476.1 998.5 477.8 1002.1 474.8 1005.6 471.8 1002.1 470.1 998.5 468.3Z" fill="#26818e"/><path d="M948.8 483.7 945.2 486.5 941.6 488.5 945.2 488.9 948.7 489.1 952.3 488.1 955.9 486.1 952.3 485 948.8 483.7Z" fill="#29798e"/><path d="M1062.4 453.5 1058.9 456.2 1055.4 459 1059 460.8 1062.6 462.6 1066.1 459.9 1069.6 457.1 1066 455.3 1062.4 453.5Z" fill="#23898e"/><path d="M1154.8 439.3 1151.3 441.7 1147.8 444.2 1151.5 446 1155.1 447.8 1158.6 445.4 1162.1 443 1158.4 441.1 1154.8 439.3Z" fill="#21918c"/><path d="M785.6 504.5 781.9 503.5 778.1 502.7 781.4 498.8 784.7 495.7 788.5 496.5 792.2 497.4 788.9 500.5 785.6 504.5Z" fill="#2c728e"/><path d="M1169 438.2 1165.5 440.6 1162.1 443 1165.7 444.8 1169.4 446.6 1172.9 444.2 1176.3 441.8 1172.7 440 1169 438.2Z" fill="#20928c"/><path d="M1012.7 465.7 1009.2 468.8 1005.6 471.8 1009.2 473.5 1012.8 475.2 1016.3 472.2 1019.9 469.3 1016.3 467.5 1012.7 465.7Z" fill="#26828e"/><path d="M1076.7 451.6 1073.1 454.4 1069.6 457.1 1073.2 458.9 1076.8 460.7 1080.4 458 1083.9 455.3 1080.3 453.5 1076.7 451.6Z" fill="#238a8d"/><path d="M963 480.5 959.4 483.5 955.9 486.1 959.4 487 962.9 487.8 966.5 485.9 970.1 483.3 966.5 482 963 480.5Z" fill="#297b8e"/><path d="M728.8 531.9 725 530.5 721.2 529.1 724.4 525.5 727.7 523.2 731.5 523.6 735.3 524.1 732 527.4 728.8 531.9Z" fill="#33638d"/><path d="M1183.2 437.1 1179.8 439.5 1176.3 441.8 1180 443.6 1183.7 445.4 1187.1 443.1 1190.6 440.8 1186.9 438.9 1183.2 437.1Z" fill="#20928c"/><path d="M1197.5 436.1 1194 438.4 1190.6 440.8 1194.3 442.5 1197.9 444.3 1201.4 442 1204.8 439.8 1201.1 438 1197.5 436.1Z" fill="#20938c"/><path d="M1090.9 450 1087.4 452.6 1083.9 455.3 1087.5 457.1 1091.1 458.9 1094.6 456.2 1098.1 453.6 1094.5 451.8 1090.9 450Z" fill="#228c8d"/><path d="M1026.9 463.3 1023.4 466.3 1019.9 469.3 1023.4 471 1027 472.7 1030.6 469.8 1034.1 466.9 1030.5 465.1 1026.9 463.3Z" fill="#25848e"/><path d="M1211.7 435.2 1208.3 437.5 1204.8 439.8 1208.5 441.6 1212.2 443.3 1215.6 441.1 1219.1 438.8 1215.4 437 1211.7 435.2Z" fill="#1f948c"/><path d="M799.7 499.2 796 498.3 792.2 497.4 795.6 495 798.9 493.1 802.7 493.9 806.4 494.8 803 496.8 799.7 499.2Z" fill="#2b758e"/><path d="M977.2 477.4 973.6 480.4 970.1 483.3 973.6 484.6 977.2 485.8 980.7 483.3 984.3 480.5 980.7 479 977.2 477.4Z" fill="#287d8e"/><path d="M1105.1 448.4 1101.6 451 1098.1 453.6 1101.7 455.4 1105.4 457.2 1108.9 454.6 1112.4 452 1108.7 450.2 1105.1 448.4Z" fill="#228d8d"/><path d="M1225.9 434.4 1222.5 436.6 1219.1 438.8 1222.8 440.6 1226.5 442.4 1229.9 440.2 1233.3 438 1229.6 436.2 1225.9 434.4Z" fill="#1f948c"/><path d="M693.3 545.6 689.5 543.1 685.5 540.6 688.7 535.9 691.8 530.6 695.7 532.3 699.5 534 696.5 540.1 693.3 545.6Z" fill="#355e8d"/><path d="M1240.2 433.6 1236.7 435.8 1233.3 438 1237 439.8 1240.8 441.6 1244.2 439.4 1247.6 437.2 1243.9 435.4 1240.2 433.6Z" fill="#1f958b"/><path d="M1041.2 461.1 1037.6 464 1034.1 466.9 1037.7 468.6 1041.3 470.4 1044.8 467.5 1048.3 464.7 1044.7 462.9 1041.2 461.1Z" fill="#24868e"/><path d="M813.9 496.6 810.1 495.7 806.4 494.8 809.8 493.1 813.1 491.6 816.9 492.5 820.6 493.4 817.2 494.9 813.9 496.6Z" fill="#2a768e"/><path d="M1119.3 446.9 1115.9 449.4 1112.4 452 1116 453.8 1119.6 455.6 1123.1 453 1126.6 450.5 1123 448.7 1119.3 446.9Z" fill="#218e8d"/><path d="M991.4 474.5 987.8 477.5 984.3 480.5 987.8 482 991.4 483.5 995 480.7 998.5 477.8 995 476.1 991.4 474.5Z" fill="#277f8e"/><path d="M828 495.2 824.3 494.3 820.6 493.4 824 492.1 827.4 490.9 831.1 491.8 834.8 492.6 831.4 493.8 828 495.2Z" fill="#2a778e"/><path d="M1133.6 445.5 1130.1 448 1126.6 450.5 1130.3 452.3 1133.9 454.1 1137.4 451.6 1140.9 449.1 1137.2 447.3 1133.6 445.5Z" fill="#218f8d"/><path d="M842.2 494.3 838.5 493.5 834.8 492.6 838.2 491.6 841.7 490.7 845.4 491.5 849.1 492.3 845.6 493.3 842.2 494.3Z" fill="#2a778e"/><path d="M856.4 493.9 852.7 493.1 849.1 492.3 852.5 491.4 855.9 490.6 859.6 491.4 863.3 492.1 859.9 493 856.4 493.9Z" fill="#2a788e"/><path d="M1055.4 459 1051.9 461.9 1048.3 464.7 1051.9 466.5 1055.5 468.2 1059.1 465.4 1062.6 462.6 1059 460.8 1055.4 459Z" fill="#24878e"/><path d="M870.6 493.5 867 492.8 863.3 492.1 866.7 491.3 870.2 490.5 873.8 491.2 877.5 491.8 874.1 492.7 870.6 493.5Z" fill="#2a788e"/><path d="M764.2 512.5 760.4 511.8 756.7 511.2 759.8 504.6 763.1 499.9 766.8 500.5 770.6 501.2 767.4 505.9 764.2 512.5Z" fill="#2d718e"/><path d="M884.8 493 881.2 492.4 877.5 491.8 881 491 884.4 490.4 888.1 490.9 891.7 491.5 888.3 492.2 884.8 493Z" fill="#2a788e"/><path d="M899 492.3 895.4 492 891.7 491.5 895.2 490.8 898.7 490.2 902.3 490.7 906 491.1 902.5 491.7 899 492.3Z" fill="#2a788e"/><path d="M1147.8 444.2 1144.4 446.6 1140.9 449.1 1144.5 450.9 1148.2 452.7 1151.7 450.2 1155.1 447.8 1151.5 446 1147.8 444.2Z" fill="#21908d"/><path d="M913.2 491.5 909.6 491.4 906 491.1 909.5 490.6 913 490.1 916.6 490.4 920.2 490.6 916.7 491.1 913.2 491.5Z" fill="#29798e"/><path d="M1005.6 471.8 1002.1 474.8 998.5 477.8 1002.1 479.4 1005.7 481 1009.2 478.1 1012.8 475.2 1009.2 473.5 1005.6 471.8Z" fill="#26818e"/><path d="M927.4 490.3 923.8 490.7 920.2 490.6 923.7 490.2 927.2 489.9 930.8 490 934.4 490 930.9 490.2 927.4 490.3Z" fill="#29798e"/><path d="M1069.6 457.1 1066.1 459.9 1062.6 462.6 1066.2 464.4 1069.8 466.2 1073.3 463.4 1076.8 460.7 1073.2 458.9 1069.6 457.1Z" fill="#23898e"/><path d="M1162.1 443 1158.6 445.4 1155.1 447.8 1158.8 449.6 1162.5 451.4 1165.9 449 1169.4 446.6 1165.7 444.8 1162.1 443Z" fill="#21918c"/><path d="M941.6 488.5 938.1 489.6 934.4 490 938 489.8 941.5 489.6 945.1 489.5 948.7 489.1 945.2 488.9 941.6 488.5Z" fill="#297a8e"/><path d="M742.8 525.4 739.1 524.7 735.3 524.1 738.4 517.9 741.5 509.3 745.3 509.7 749.1 510.1 746 518.7 742.8 525.4Z" fill="#2f6b8e"/><path d="M1176.3 441.8 1172.9 444.2 1169.4 446.6 1173.1 448.3 1176.8 450.1 1180.2 447.8 1183.7 445.4 1180 443.6 1176.3 441.8Z" fill="#20928c"/><path d="M1083.9 455.3 1080.4 458 1076.8 460.7 1080.5 462.5 1084.1 464.3 1087.6 461.6 1091.1 458.9 1087.5 457.1 1083.9 455.3Z" fill="#238a8d"/><path d="M1019.9 469.3 1016.3 472.2 1012.8 475.2 1016.3 476.9 1019.9 478.5 1023.5 475.6 1027 472.7 1023.4 471 1019.9 469.3Z" fill="#26828e"/><path d="M955.9 486.1 952.3 488.1 948.7 489.1 952.2 489.2 955.7 489.2 959.3 488.8 962.9 487.8 959.4 487 955.9 486.1Z" fill="#297b8e"/><path d="M707.3 537.7 703.4 535.8 699.5 534 702.7 528.5 705.8 524.2 709.7 525.3 713.5 526.5 710.4 531.6 707.3 537.7Z" fill="#33638d"/><path d="M1190.6 440.8 1187.1 443.1 1183.7 445.4 1187.4 447.2 1191 448.9 1194.5 446.6 1197.9 444.3 1194.3 442.5 1190.6 440.8Z" fill="#20928c"/><path d="M1204.8 439.8 1201.4 442 1197.9 444.3 1201.6 446.1 1205.3 447.9 1208.8 445.6 1212.2 443.3 1208.5 441.6 1204.8 439.8Z" fill="#20938c"/><path d="M1098.1 453.6 1094.6 456.2 1091.1 458.9 1094.7 460.7 1098.4 462.4 1101.9 459.8 1105.4 457.2 1101.7 455.4 1098.1 453.6Z" fill="#228c8d"/><path d="M970.1 483.3 966.5 485.9 962.9 487.8 966.5 488.3 970 488.6 973.6 487.6 977.2 485.8 973.6 484.6 970.1 483.3Z" fill="#287c8e"/><path d="M1034.1 466.9 1030.6 469.8 1027 472.7 1030.6 474.4 1034.2 476.1 1037.7 473.3 1041.3 470.4 1037.7 468.6 1034.1 466.9Z" fill="#25848e"/><path d="M1219.1 438.8 1215.6 441.1 1212.2 443.3 1215.9 445.1 1219.6 446.9 1223.1 444.6 1226.5 442.4 1222.8 440.6 1219.1 438.8Z" fill="#1f948c"/><path d="M1112.4 452 1108.9 454.6 1105.4 457.2 1109 459 1112.7 460.7 1116.2 458.2 1119.6 455.6 1116 453.8 1112.4 452Z" fill="#228d8d"/><path d="M1233.3 438 1229.9 440.2 1226.5 442.4 1230.2 444.2 1233.9 445.9 1237.3 443.7 1240.8 441.6 1237 439.8 1233.3 438Z" fill="#1f948c"/><path d="M984.3 480.5 980.7 483.3 977.2 485.8 980.7 486.8 984.3 487.6 987.8 485.9 991.4 483.5 987.8 482 984.3 480.5Z" fill="#277e8e"/><path d="M778.1 502.7 774.4 501.9 770.6 501.2 773.9 497.3 777.2 494.2 781 494.9 784.7 495.7 781.4 498.8 778.1 502.7Z" fill="#2a768e"/><path d="M1247.6 437.2 1244.2 439.4 1240.8 441.6 1244.5 443.3 1248.2 445 1251.6 442.9 1255 440.8 1251.3 439 1247.6 437.2Z" fill="#1f958b"/><path d="M1048.3 464.7 1044.8 467.5 1041.3 470.4 1044.9 472.1 1048.5 473.8 1052 471 1055.5 468.2 1051.9 466.5 1048.3 464.7Z" fill="#24868e"/><path d="M1126.6 450.5 1123.1 453 1119.6 455.6 1123.3 457.4 1126.9 459.1 1130.4 456.6 1133.9 454.1 1130.3 452.3 1126.6 450.5Z" fill="#218e8d"/><path d="M721.2 529.1 717.4 527.8 713.5 526.5 716.8 523.9 720.1 522.4 723.9 522.8 727.7 523.2 724.4 525.5 721.2 529.1Z" fill="#31678e"/><path d="M998.5 477.8 995 480.7 991.4 483.5 995 484.8 998.5 486 1002.1 483.7 1005.7 481 1002.1 479.4 998.5 477.8Z" fill="#277f8e"/><path d="M1140.9 449.1 1137.4 451.6 1133.9 454.1 1137.6 455.9 1141.2 457.6 1144.7 455.2 1148.2 452.7 1144.5 450.9 1140.9 449.1Z" fill="#218f8d"/><path d="M1062.6 462.6 1059.1 465.4 1055.5 468.2 1059.1 470 1062.8 471.7 1066.3 468.9 1069.8 466.2 1066.2 464.4 1062.6 462.6Z" fill="#24878e"/><path d="M1155.1 447.8 1151.7 450.2 1148.2 452.7 1151.9 454.5 1155.5 456.2 1159 453.8 1162.5 451.4 1158.8 449.6 1155.1 447.8Z" fill="#21908d"/><path d="M792.2 497.4 788.5 496.5 784.7 495.7 788.1 493.3 791.4 491.5 795.2 492.3 798.9 493.1 795.6 495 792.2 497.4Z" fill="#29798e"/><path d="M1012.8 475.2 1009.2 478.1 1005.7 481 1009.2 482.5 1012.8 483.9 1016.4 481.3 1019.9 478.5 1016.3 476.9 1012.8 475.2Z" fill="#26818e"/><path d="M1076.8 460.7 1073.3 463.4 1069.8 466.2 1073.4 467.9 1077 469.7 1080.6 467 1084.1 464.3 1080.5 462.5 1076.8 460.7Z" fill="#23898e"/><path d="M1169.4 446.6 1165.9 449 1162.5 451.4 1166.2 453.1 1169.8 454.9 1173.3 452.5 1176.8 450.1 1173.1 448.3 1169.4 446.6Z" fill="#21918c"/><path d="M806.4 494.8 802.7 493.9 798.9 493.1 802.3 491.4 805.7 490 809.4 490.8 813.1 491.6 809.8 493.1 806.4 494.8Z" fill="#297a8e"/><path d="M1183.7 445.4 1180.2 447.8 1176.8 450.1 1180.4 451.9 1184.1 453.6 1187.6 451.3 1191 448.9 1187.4 447.2 1183.7 445.4Z" fill="#20928c"/><path d="M1091.1 458.9 1087.6 461.6 1084.1 464.3 1087.7 466 1091.3 467.8 1094.9 465.1 1098.4 462.4 1094.7 460.7 1091.1 458.9Z" fill="#238a8d"/><path d="M1027 472.7 1023.5 475.6 1019.9 478.5 1023.5 480.1 1027.1 481.7 1030.6 479 1034.2 476.1 1030.6 474.4 1027 472.7Z" fill="#26828e"/><path d="M820.6 493.4 816.9 492.5 813.1 491.6 816.5 490.4 819.9 489.3 823.7 490.1 827.4 490.9 824 492.1 820.6 493.4Z" fill="#297b8e"/><path d="M1197.9 444.3 1194.5 446.6 1191 448.9 1194.7 450.7 1198.4 452.4 1201.9 450.1 1205.3 447.9 1201.6 446.1 1197.9 444.3Z" fill="#20928c"/><path d="M685.5 540.6 681.6 538.1 677.7 535.7 680.9 531.9 684 527.3 687.9 528.9 691.8 530.6 688.7 535.9 685.5 540.6Z" fill="#32648e"/><path d="M834.8 492.6 831.1 491.8 827.4 490.9 830.8 490 834.2 489.1 837.9 489.9 841.7 490.7 838.2 491.6 834.8 492.6Z" fill="#297b8e"/><path d="M849.1 492.3 845.4 491.5 841.7 490.7 845.1 489.9 848.5 489.1 852.2 489.9 855.9 490.6 852.5 491.4 849.1 492.3Z" fill="#287c8e"/><path d="M863.3 492.1 859.6 491.4 855.9 490.6 859.4 489.8 862.8 489.1 866.5 489.8 870.2 490.5 866.7 491.3 863.3 492.1Z" fill="#287c8e"/><path d="M756.7 511.2 752.9 510.6 749.1 510.1 752.3 503.6 755.5 498.8 759.3 499.3 763.1 499.9 759.8 504.6 756.7 511.2Z" fill="#2c738e"/><path d="M877.5 491.8 873.8 491.2 870.2 490.5 873.6 489.8 877.1 489.2 880.8 489.8 884.4 490.4 881 491 877.5 491.8Z" fill="#287c8e"/><path d="M891.7 491.5 888.1 490.9 884.4 490.4 887.9 489.8 891.4 489.2 895 489.7 898.7 490.2 895.2 490.8 891.7 491.5Z" fill="#287c8e"/><path d="M906 491.1 902.3 490.7 898.7 490.2 902.2 489.7 905.7 489.3 909.3 489.7 913 490.1 909.5 490.6 906 491.1Z" fill="#287c8e"/><path d="M1212.2 443.3 1208.8 445.6 1205.3 447.9 1209 449.6 1212.7 451.3 1216.2 449.1 1219.6 446.9 1215.9 445.1 1212.2 443.3Z" fill="#20938c"/><path d="M1105.4 457.2 1101.9 459.8 1098.4 462.4 1102 464.2 1105.6 466 1109.2 463.3 1112.7 460.7 1109 459 1105.4 457.2Z" fill="#228c8d"/><path d="M920.2 490.6 916.6 490.4 913 490.1 916.5 489.7 920 489.3 923.6 489.6 927.2 489.9 923.7 490.2 920.2 490.6Z" fill="#287c8e"/><path d="M934.4 490 930.8 490 927.2 489.9 930.7 489.6 934.3 489.3 937.9 489.5 941.5 489.6 938 489.8 934.4 490Z" fill="#287c8e"/><path d="M948.7 489.1 945.1 489.5 941.5 489.6 945 489.4 948.5 489.2 952.1 489.3 955.7 489.2 952.2 489.2 948.7 489.1Z" fill="#287d8e"/><path d="M1041.3 470.4 1037.7 473.3 1034.2 476.1 1037.8 477.8 1041.4 479.4 1044.9 476.7 1048.5 473.8 1044.9 472.1 1041.3 470.4Z" fill="#25848e"/><path d="M1226.5 442.4 1223.1 444.6 1219.6 446.9 1223.3 448.6 1227.1 450.3 1230.5 448.1 1233.9 445.9 1230.2 444.2 1226.5 442.4Z" fill="#1f948c"/><path d="M962.9 487.8 959.3 488.8 955.7 489.2 959.3 489.1 962.8 489.1 966.4 489 970 488.6 966.5 488.3 962.9 487.8Z" fill="#287d8e"/><path d="M1119.6 455.6 1116.2 458.2 1112.7 460.7 1116.3 462.5 1119.9 464.3 1123.4 461.7 1126.9 459.1 1123.3 457.4 1119.6 455.6Z" fill="#228d8d"/><path d="M1240.8 441.6 1237.3 443.7 1233.9 445.9 1237.6 447.7 1241.4 449.4 1244.8 447.2 1248.2 445 1244.5 443.3 1240.8 441.6Z" fill="#1f948c"/><path d="M735.3 524.1 731.5 523.6 727.7 523.2 730.8 517.3 733.9 508.7 737.7 509 741.5 509.3 738.4 517.9 735.3 524.1Z" fill="#2e6e8e"/><path d="M977.2 485.8 973.6 487.6 970 488.6 973.6 488.8 977.1 488.9 980.7 488.5 984.3 487.6 980.7 486.8 977.2 485.8Z" fill="#277e8e"/><path d="M1255 440.8 1251.6 442.9 1248.2 445 1251.9 446.8 1255.7 448.5 1259.1 446.4 1262.5 444.3 1258.8 442.5 1255 440.8Z" fill="#1f958b"/><path d="M1055.5 468.2 1052 471 1048.5 473.8 1052.1 475.6 1055.7 477.2 1059.2 474.5 1062.8 471.7 1059.1 470 1055.5 468.2Z" fill="#24868e"/><path d="M1133.9 454.1 1130.4 456.6 1126.9 459.1 1130.6 460.9 1134.3 462.6 1137.7 460.1 1141.2 457.6 1137.6 455.9 1133.9 454.1Z" fill="#218e8d"/><path d="M991.4 483.5 987.8 485.9 984.3 487.6 987.8 488.1 991.4 488.5 995 487.7 998.5 486 995 484.8 991.4 483.5Z" fill="#277f8e"/><path d="M1148.2 452.7 1144.7 455.2 1141.2 457.6 1144.9 459.4 1148.6 461.1 1152.1 458.7 1155.5 456.2 1151.9 454.5 1148.2 452.7Z" fill="#218f8d"/><path d="M1069.8 466.2 1066.3 468.9 1062.8 471.7 1066.4 473.4 1070 475.1 1073.5 472.4 1077 469.7 1073.4 467.9 1069.8 466.2Z" fill="#24878e"/><path d="M1005.7 481 1002.1 483.7 998.5 486 1002.1 487 1005.7 487.8 1009.3 486.2 1012.8 483.9 1009.2 482.5 1005.7 481Z" fill="#27808e"/><path d="M699.5 534 695.7 532.3 691.8 530.6 694.9 525.7 698.1 522.1 702 523.1 705.8 524.2 702.7 528.5 699.5 534Z" fill="#31688e"/><path d="M1162.5 451.4 1159 453.8 1155.5 456.2 1159.2 458 1162.9 459.7 1166.4 457.3 1169.8 454.9 1166.2 453.1 1162.5 451.4Z" fill="#21908d"/><path d="M1084.1 464.3 1080.6 467 1077 469.7 1080.7 471.4 1084.3 473.1 1087.8 470.4 1091.3 467.8 1087.7 466 1084.1 464.3Z" fill="#23898e"/><path d="M1176.8 450.1 1173.3 452.5 1169.8 454.9 1173.5 456.6 1177.2 458.3 1180.7 456 1184.1 453.6 1180.4 451.9 1176.8 450.1Z" fill="#21918c"/><path d="M1019.9 478.5 1016.4 481.3 1012.8 483.9 1016.4 485.3 1020 486.5 1023.5 484.3 1027.1 481.7 1023.5 480.1 1019.9 478.5Z" fill="#26828e"/><path d="M770.6 501.2 766.8 500.5 763.1 499.9 766.3 495.9 769.7 492.9 773.4 493.5 777.2 494.2 773.9 497.3 770.6 501.2Z" fill="#297a8e"/><path d="M1191 448.9 1187.6 451.3 1184.1 453.6 1187.8 455.3 1191.5 457.1 1195 454.7 1198.4 452.4 1194.7 450.7 1191 448.9Z" fill="#20928c"/><path d="M1098.4 462.4 1094.9 465.1 1091.3 467.8 1095 469.5 1098.6 471.2 1102.1 468.6 1105.6 466 1102 464.2 1098.4 462.4Z" fill="#238a8d"/><path d="M713.5 526.5 709.7 525.3 705.8 524.2 709.1 522.5 712.4 521.9 716.3 522.1 720.1 522.4 716.8 523.9 713.5 526.5Z" fill="#2f6b8e"/><path d="M1034.2 476.1 1030.6 479 1027.1 481.7 1030.7 483.2 1034.3 484.7 1037.8 482.2 1041.4 479.4 1037.8 477.8 1034.2 476.1Z" fill="#26828e"/><path d="M1205.3 447.9 1201.9 450.1 1198.4 452.4 1202.1 454.2 1205.9 455.9 1209.3 453.6 1212.7 451.3 1209 449.6 1205.3 447.9Z" fill="#20928c"/><path d="M1219.6 446.9 1216.2 449.1 1212.7 451.3 1216.5 453.1 1220.2 454.8 1223.6 452.5 1227.1 450.3 1223.3 448.6 1219.6 446.9Z" fill="#20938c"/><path d="M1112.7 460.7 1109.2 463.3 1105.6 466 1109.3 467.7 1112.9 469.4 1116.4 466.8 1119.9 464.3 1116.3 462.5 1112.7 460.7Z" fill="#228c8d"/><path d="M784.7 495.7 781 494.9 777.2 494.2 780.5 491.9 783.9 490 787.7 490.7 791.4 491.5 788.1 493.3 784.7 495.7Z" fill="#287d8e"/><path d="M1233.9 445.9 1230.5 448.1 1227.1 450.3 1230.8 452 1234.5 453.7 1237.9 451.5 1241.4 449.4 1237.6 447.7 1233.9 445.9Z" fill="#1f948c"/><path d="M1048.5 473.8 1044.9 476.7 1041.4 479.4 1045 481.1 1048.6 482.7 1052.1 480 1055.7 477.2 1052.1 475.6 1048.5 473.8Z" fill="#25848e"/><path d="M1126.9 459.1 1123.4 461.7 1119.9 464.3 1123.6 466 1127.3 467.7 1130.8 465.2 1134.3 462.6 1130.6 460.9 1126.9 459.1Z" fill="#228d8d"/><path d="M1248.2 445 1244.8 447.2 1241.4 449.4 1245.1 451.1 1248.8 452.8 1252.3 450.6 1255.7 448.5 1251.9 446.8 1248.2 445Z" fill="#1f948c"/><path d="M1262.5 444.3 1259.1 446.4 1255.7 448.5 1259.4 450.2 1263.2 451.9 1266.6 449.8 1270 447.7 1266.2 446 1262.5 444.3Z" fill="#1f958b"/><path d="M798.9 493.1 795.2 492.3 791.4 491.5 794.8 489.9 798.2 488.5 801.9 489.2 805.7 490 802.3 491.4 798.9 493.1Z" fill="#277e8e"/><path d="M1062.8 471.7 1059.2 474.5 1055.7 477.2 1059.3 478.9 1062.9 480.6 1066.5 477.9 1070 475.1 1066.4 473.4 1062.8 471.7Z" fill="#24868e"/><path d="M1141.2 457.6 1137.7 460.1 1134.3 462.6 1137.9 464.4 1141.6 466.1 1145.1 463.6 1148.6 461.1 1144.9 459.4 1141.2 457.6Z" fill="#218e8d"/><path d="M813.1 491.6 809.4 490.8 805.7 490 809.1 488.8 812.5 487.8 816.2 488.5 819.9 489.3 816.5 490.4 813.1 491.6Z" fill="#277f8e"/><path d="M749.1 510.1 745.3 509.7 741.5 509.3 744.7 502.8 747.9 497.9 751.7 498.3 755.5 498.8 752.3 503.6 749.1 510.1Z" fill="#2a778e"/><path d="M913 490.1 909.3 489.7 905.7 489.3 909.2 488.9 912.7 488.7 916.3 489 920 489.3 916.5 489.7 913 490.1Z" fill="#277f8e"/><path d="M927.2 489.9 923.6 489.6 920 489.3 923.5 489 927 488.8 930.6 489.1 934.3 489.3 930.7 489.6 927.2 489.9Z" fill="#277f8e"/><path d="M898.7 490.2 895 489.7 891.4 489.2 894.9 488.8 898.4 488.4 902 488.9 905.7 489.3 902.2 489.7 898.7 490.2Z" fill="#277f8e"/><path d="M941.5 489.6 937.9 489.5 934.3 489.3 937.8 489.1 941.3 488.9 944.9 489.1 948.5 489.2 945 489.4 941.5 489.6Z" fill="#277f8e"/><path d="M884.4 490.4 880.8 489.8 877.1 489.2 880.6 488.6 884 488.2 887.7 488.7 891.4 489.2 887.9 489.8 884.4 490.4Z" fill="#277f8e"/><path d="M827.4 490.9 823.7 490.1 819.9 489.3 823.4 488.4 826.8 487.6 830.5 488.3 834.2 489.1 830.8 490 827.4 490.9Z" fill="#277f8e"/><path d="M870.2 490.5 866.5 489.8 862.8 489.1 866.3 488.5 869.7 488 873.4 488.6 877.1 489.2 873.6 489.8 870.2 490.5Z" fill="#27808e"/><path d="M855.9 490.6 852.2 489.9 848.5 489.1 852 488.4 855.4 487.8 859.1 488.4 862.8 489.1 859.4 489.8 855.9 490.6Z" fill="#27808e"/><path d="M955.7 489.2 952.1 489.3 948.5 489.2 952.1 489.1 955.6 489 959.2 489.1 962.8 489.1 959.3 489.1 955.7 489.2Z" fill="#27808e"/><path d="M841.7 490.7 837.9 489.9 834.2 489.1 837.7 488.3 841.1 487.6 844.8 488.4 848.5 489.1 845.1 489.9 841.7 490.7Z" fill="#27808e"/><path d="M1155.5 456.2 1152.1 458.7 1148.6 461.1 1152.2 462.8 1155.9 464.6 1159.4 462.1 1162.9 459.7 1159.2 458 1155.5 456.2Z" fill="#218f8d"/><path d="M970 488.6 966.4 489 962.8 489.1 966.4 489.1 969.9 489.1 973.5 489.1 977.1 488.9 973.6 488.8 970 488.6Z" fill="#27808e"/><path d="M984.3 487.6 980.7 488.5 977.1 488.9 980.7 489 984.2 489.1 987.8 488.9 991.4 488.5 987.8 488.1 984.3 487.6Z" fill="#27808e"/><path d="M1077 469.7 1073.5 472.4 1070 475.1 1073.6 476.8 1077.2 478.5 1080.8 475.8 1084.3 473.1 1080.7 471.4 1077 469.7Z" fill="#24878e"/><path d="M998.5 486 995 487.7 991.4 488.5 995 488.8 998.6 489 1002.1 488.6 1005.7 487.8 1002.1 487 998.5 486Z" fill="#27808e"/><path d="M1169.8 454.9 1166.4 457.3 1162.9 459.7 1166.6 461.4 1170.3 463.1 1173.7 460.7 1177.2 458.3 1173.5 456.6 1169.8 454.9Z" fill="#21908d"/><path d="M727.7 523.2 723.9 522.8 720.1 522.4 723.2 516.9 726.3 508.4 730.1 508.5 733.9 508.7 730.8 517.3 727.7 523.2Z" fill="#2d718e"/><path d="M1012.8 483.9 1009.3 486.2 1005.7 487.8 1009.3 488.4 1012.9 488.8 1016.4 488 1020 486.5 1016.4 485.3 1012.8 483.9Z" fill="#26818e"/><path d="M677.7 535.7 673.8 533.4 669.9 531.1 673.1 528.1 676.2 524.3 680.1 525.8 684 527.3 680.9 531.9 677.7 535.7Z" fill="#306a8e"/><path d="M1091.3 467.8 1087.8 470.4 1084.3 473.1 1087.9 474.8 1091.6 476.5 1095.1 473.9 1098.6 471.2 1095 469.5 1091.3 467.8Z" fill="#23898e"/><path d="M1184.1 453.6 1180.7 456 1177.2 458.3 1180.9 460 1184.6 461.7 1188.1 459.4 1191.5 457.1 1187.8 455.3 1184.1 453.6Z" fill="#21918c"/><path d="M1027.1 481.7 1023.5 484.3 1020 486.5 1023.6 487.5 1027.2 488.3 1030.7 486.8 1034.3 484.7 1030.7 483.2 1027.1 481.7Z" fill="#26828e"/><path d="M1198.4 452.4 1195 454.7 1191.5 457.1 1195.2 458.8 1198.9 460.5 1202.4 458.2 1205.9 455.9 1202.1 454.2 1198.4 452.4Z" fill="#20928c"/><path d="M1105.6 466 1102.1 468.6 1098.6 471.2 1102.3 472.9 1105.9 474.6 1109.4 472 1112.9 469.4 1109.3 467.7 1105.6 466Z" fill="#238a8d"/><path d="M1212.7 451.3 1209.3 453.6 1205.9 455.9 1209.6 457.6 1213.3 459.3 1216.7 457 1220.2 454.8 1216.5 453.1 1212.7 451.3Z" fill="#20928c"/><path d="M1041.4 479.4 1037.8 482.2 1034.3 484.7 1037.9 486 1041.5 487.2 1045.1 485.1 1048.6 482.7 1045 481.1 1041.4 479.4Z" fill="#25838e"/><path d="M1119.9 464.3 1116.4 466.8 1112.9 469.4 1116.6 471.1 1120.3 472.8 1123.8 470.3 1127.3 467.7 1123.6 466 1119.9 464.3Z" fill="#228c8d"/><path d="M1227.1 450.3 1223.6 452.5 1220.2 454.8 1223.9 456.5 1227.6 458.1 1231.1 455.9 1234.5 453.7 1230.8 452 1227.1 450.3Z" fill="#20938c"/><path d="M691.8 530.6 687.9 528.9 684 527.3 687.2 523.2 690.4 520.2 694.3 521.1 698.1 522.1 694.9 525.7 691.8 530.6Z" fill="#2e6d8e"/><path d="M1241.4 449.4 1237.9 451.5 1234.5 453.7 1238.2 455.4 1242 457.1 1245.4 454.9 1248.8 452.8 1245.1 451.1 1241.4 449.4Z" fill="#1f948c"/><path d="M1055.7 477.2 1052.1 480 1048.6 482.7 1052.2 484.2 1055.8 485.6 1059.4 483.2 1062.9 480.6 1059.3 478.9 1055.7 477.2Z" fill="#25848e"/><path d="M763.1 499.9 759.3 499.3 755.5 498.8 758.8 494.8 762.1 491.7 765.9 492.2 769.7 492.9 766.3 495.9 763.1 499.9Z" fill="#287d8e"/><path d="M1134.3 462.6 1130.8 465.2 1127.3 467.7 1130.9 469.4 1134.6 471.1 1138.1 468.6 1141.6 466.1 1137.9 464.4 1134.3 462.6Z" fill="#228d8d"/><path d="M1255.7 448.5 1252.3 450.6 1248.8 452.8 1252.6 454.5 1256.3 456.1 1259.8 454 1263.2 451.9 1259.4 450.2 1255.7 448.5Z" fill="#1f948c"/><path d="M1270 447.7 1266.6 449.8 1263.2 451.9 1266.9 453.6 1270.7 455.3 1274.1 453.2 1277.5 451.1 1273.7 449.4 1270 447.7Z" fill="#1f958b"/><path d="M1148.6 461.1 1145.1 463.6 1141.6 466.1 1145.3 467.8 1148.9 469.5 1152.4 467 1155.9 464.6 1152.2 462.8 1148.6 461.1Z" fill="#218e8d"/><path d="M1070 475.1 1066.5 477.9 1062.9 480.6 1066.5 482.2 1070.2 483.8 1073.7 481.2 1077.2 478.5 1073.6 476.8 1070 475.1Z" fill="#24868e"/><path d="M705.8 524.2 702 523.1 698.1 522.1 701.4 521.3 704.8 521.6 708.6 521.7 712.4 521.9 709.1 522.5 705.8 524.2Z" fill="#2e6f8e"/><path d="M1162.9 459.7 1159.4 462.1 1155.9 464.6 1159.6 466.2 1163.3 467.9 1166.8 465.5 1170.3 463.1 1166.6 461.4 1162.9 459.7Z" fill="#218f8d"/><path d="M1084.3 473.1 1080.8 475.8 1077.2 478.5 1080.9 480.2 1084.5 481.8 1088.1 479.2 1091.6 476.5 1087.9 474.8 1084.3 473.1Z" fill="#24878e"/><path d="M777.2 494.2 773.4 493.5 769.7 492.9 773 490.5 776.3 488.7 780.1 489.3 783.9 490 780.5 491.9 777.2 494.2Z" fill="#26818e"/><path d="M1177.2 458.3 1173.7 460.7 1170.3 463.1 1174 464.8 1177.7 466.5 1181.1 464.1 1184.6 461.7 1180.9 460 1177.2 458.3Z" fill="#21908d"/><path d="M1098.6 471.2 1095.1 473.9 1091.6 476.5 1095.2 478.2 1098.9 479.9 1102.4 477.3 1105.9 474.6 1102.3 472.9 1098.6 471.2Z" fill="#23898e"/><path d="M1191.5 457.1 1188.1 459.4 1184.6 461.7 1188.3 463.4 1192 465.1 1195.5 462.8 1198.9 460.5 1195.2 458.8 1191.5 457.1Z" fill="#21918c"/><path d="M791.4 491.5 787.7 490.7 783.9 490 787.3 488.4 790.6 487 794.4 487.7 798.2 488.5 794.8 489.9 791.4 491.5Z" fill="#26828e"/><path d="M977.1 488.9 973.5 489.1 969.9 489.1 973.5 489.1 977.1 489.1 980.7 489.1 984.2 489.1 980.7 489 977.1 488.9Z" fill="#26828e"/><path d="M962.8 489.1 959.2 489.1 955.6 489 959.2 489 962.7 488.9 966.3 489 969.9 489.1 966.4 489.1 962.8 489.1Z" fill="#26828e"/><path d="M991.4 488.5 987.8 488.9 984.2 489.1 987.8 489.2 991.4 489.3 995 489.2 998.6 489 995 488.8 991.4 488.5Z" fill="#26828e"/><path d="M948.5 489.2 944.9 489.1 941.3 488.9 944.8 488.8 948.4 488.8 952 488.9 955.6 489 952.1 489.1 948.5 489.2Z" fill="#26828e"/><path d="M934.3 489.3 930.6 489.1 927 488.8 930.5 488.7 934.1 488.5 937.7 488.7 941.3 488.9 937.8 489.1 934.3 489.3Z" fill="#26828e"/><path d="M1005.7 487.8 1002.1 488.6 998.6 489 1002.1 489.2 1005.7 489.4 1009.3 489.2 1012.9 488.8 1009.3 488.4 1005.7 487.8Z" fill="#26828e"/><path d="M920 489.3 916.3 489 912.7 488.7 916.2 488.4 919.7 488.3 923.4 488.6 927 488.8 923.5 489 920 489.3Z" fill="#26828e"/><path d="M741.5 509.3 737.7 509 733.9 508.7 737.1 502.1 740.3 497.2 744.1 497.5 747.9 497.9 744.7 502.8 741.5 509.3Z" fill="#297a8e"/><path d="M905.7 489.3 902 488.9 898.4 488.4 901.9 488.2 905.4 488 909 488.3 912.7 488.7 909.2 488.9 905.7 489.3Z" fill="#26828e"/><path d="M1205.9 455.9 1202.4 458.2 1198.9 460.5 1202.7 462.1 1206.4 463.8 1209.8 461.5 1213.3 459.3 1209.6 457.6 1205.9 455.9Z" fill="#20928c"/><path d="M891.4 489.2 887.7 488.7 884 488.2 887.5 487.9 891 487.6 894.7 488 898.4 488.4 894.9 488.8 891.4 489.2Z" fill="#26828e"/><path d="M1020 486.5 1016.4 488 1012.9 488.8 1016.5 489.2 1020.1 489.5 1023.6 489.1 1027.2 488.3 1023.6 487.5 1020 486.5Z" fill="#26828e"/><path d="M877.1 489.2 873.4 488.6 869.7 488 873.2 487.5 876.7 487.2 880.4 487.7 884 488.2 880.6 488.6 877.1 489.2Z" fill="#26828e"/><path d="M805.7 490 801.9 489.2 798.2 488.5 801.6 487.3 805 486.3 808.7 487 812.5 487.8 809.1 488.8 805.7 490Z" fill="#26828e"/><path d="M1112.9 469.4 1109.4 472 1105.9 474.6 1109.6 476.3 1113.2 478 1116.7 475.4 1120.3 472.8 1116.6 471.1 1112.9 469.4Z" fill="#238a8d"/><path d="M862.8 489.1 859.1 488.4 855.4 487.8 858.9 487.2 862.3 486.8 866 487.4 869.7 488 866.3 488.5 862.8 489.1Z" fill="#26828e"/><path d="M848.5 489.1 844.8 488.4 841.1 487.6 844.5 487 848 486.5 851.7 487.1 855.4 487.8 852 488.4 848.5 489.1Z" fill="#26828e"/><path d="M819.9 489.3 816.2 488.5 812.5 487.8 815.9 486.9 819.3 486.1 823 486.8 826.8 487.6 823.4 488.4 819.9 489.3Z" fill="#26828e"/><path d="M834.2 489.1 830.5 488.3 826.8 487.6 830.2 486.9 833.6 486.2 837.4 486.9 841.1 487.6 837.7 488.3 834.2 489.1Z" fill="#26828e"/><path d="M1034.3 484.7 1030.7 486.8 1027.2 488.3 1030.8 488.9 1034.4 489.4 1038 488.6 1041.5 487.2 1037.9 486 1034.3 484.7Z" fill="#25838e"/><path d="M1220.2 454.8 1216.7 457 1213.3 459.3 1217 460.9 1220.7 462.6 1224.2 460.4 1227.6 458.1 1223.9 456.5 1220.2 454.8Z" fill="#20928c"/><path d="M720.1 522.4 716.3 522.1 712.4 521.9 715.6 516.7 718.7 508.2 722.5 508.2 726.3 508.4 723.2 516.9 720.1 522.4Z" fill="#2c738e"/><path d="M1127.3 467.7 1123.8 470.3 1120.3 472.8 1123.9 474.5 1127.6 476.2 1131.1 473.6 1134.6 471.1 1130.9 469.4 1127.3 467.7Z" fill="#228c8d"/><path d="M1234.5 453.7 1231.1 455.9 1227.6 458.1 1231.4 459.8 1235.1 461.5 1238.6 459.3 1242 457.1 1238.2 455.4 1234.5 453.7Z" fill="#20938c"/><path d="M1048.6 482.7 1045.1 485.1 1041.5 487.2 1045.1 488.2 1048.8 489 1052.3 487.7 1055.8 485.6 1052.2 484.2 1048.6 482.7Z" fill="#25848e"/><path d="M1248.8 452.8 1245.4 454.9 1242 457.1 1245.7 458.8 1249.5 460.4 1252.9 458.3 1256.3 456.1 1252.6 454.5 1248.8 452.8Z" fill="#1f948c"/><path d="M1141.6 466.1 1138.1 468.6 1134.6 471.1 1138.3 472.8 1142 474.5 1145.5 472 1148.9 469.5 1145.3 467.8 1141.6 466.1Z" fill="#228d8d"/><path d="M1062.9 480.6 1059.4 483.2 1055.8 485.6 1059.5 487 1063.1 488.2 1066.6 486.2 1070.2 483.8 1066.5 482.2 1062.9 480.6Z" fill="#25858e"/><path d="M1263.2 451.9 1259.8 454 1256.3 456.1 1260.1 457.8 1263.8 459.5 1267.3 457.4 1270.7 455.3 1266.9 453.6 1263.2 451.9Z" fill="#1f948c"/><path d="M1277.5 451.1 1274.1 453.2 1270.7 455.3 1274.4 456.9 1278.2 458.6 1281.6 456.5 1285 454.4 1281.3 452.8 1277.5 451.1Z" fill="#1f958b"/><path d="M669.9 531.1 665.9 528.9 662 526.7 665.2 524.6 668.4 521.5 672.3 522.9 676.2 524.3 673.1 528.1 669.9 531.1Z" fill="#2e6f8e"/><path d="M1155.9 464.6 1152.4 467 1148.9 469.5 1152.6 471.1 1156.3 472.8 1159.8 470.4 1163.3 467.9 1159.6 466.2 1155.9 464.6Z" fill="#218e8d"/><path d="M1077.2 478.5 1073.7 481.2 1070.2 483.8 1073.8 485.3 1077.5 486.7 1081 484.4 1084.5 481.8 1080.9 480.2 1077.2 478.5Z" fill="#24868e"/><path d="M1170.3 463.1 1166.8 465.5 1163.3 467.9 1167 469.6 1170.7 471.2 1174.2 468.8 1177.7 466.5 1174 464.8 1170.3 463.1Z" fill="#218f8d"/><path d="M1091.6 476.5 1088.1 479.2 1084.5 481.8 1088.2 483.4 1091.8 485 1095.3 482.5 1098.9 479.9 1095.2 478.2 1091.6 476.5Z" fill="#23888e"/><path d="M755.5 498.8 751.7 498.3 747.9 497.9 751.2 493.8 754.5 490.6 758.3 491.1 762.1 491.7 758.8 494.8 755.5 498.8Z" fill="#26818e"/><path d="M1184.6 461.7 1181.1 464.1 1177.7 466.5 1181.4 468.1 1185.1 469.8 1188.5 467.4 1192 465.1 1188.3 463.4 1184.6 461.7Z" fill="#21908d"/><path d="M684 527.3 680.1 525.8 676.2 524.3 679.4 520.8 682.7 518.5 686.5 519.3 690.4 520.2 687.2 523.2 684 527.3Z" fill="#2c718e"/><path d="M1105.9 474.6 1102.4 477.3 1098.9 479.9 1102.5 481.5 1106.2 483.1 1109.7 480.6 1113.2 478 1109.6 476.3 1105.9 474.6Z" fill="#23898e"/><path d="M1198.9 460.5 1195.5 462.8 1192 465.1 1195.7 466.7 1199.5 468.4 1202.9 466.1 1206.4 463.8 1202.7 462.1 1198.9 460.5Z" fill="#20928c"/><path d="M698.1 522.1 694.3 521.1 690.4 520.2 693.7 520.3 697.1 521.5 701 521.5 704.8 521.6 701.4 521.3 698.1 522.1Z" fill="#2c728e"/><path d="M1213.3 459.3 1209.8 461.5 1206.4 463.8 1210.1 465.4 1213.8 467.1 1217.3 464.8 1220.7 462.6 1217 460.9 1213.3 459.3Z" fill="#20928c"/><path d="M1120.3 472.8 1116.7 475.4 1113.2 478 1116.9 479.6 1120.6 481.3 1124.1 478.7 1127.6 476.2 1123.9 474.5 1120.3 472.8Z" fill="#228b8d"/><path d="M1227.6 458.1 1224.2 460.4 1220.7 462.6 1224.5 464.2 1228.2 465.9 1231.7 463.7 1235.1 461.5 1231.4 459.8 1227.6 458.1Z" fill="#20928c"/><path d="M769.7 492.9 765.9 492.2 762.1 491.7 765.4 489.3 768.8 487.4 772.5 488 776.3 488.7 773 490.5 769.7 492.9Z" fill="#25838e"/><path d="M1134.6 471.1 1131.1 473.6 1127.6 476.2 1131.3 477.8 1134.9 479.5 1138.5 477 1142 474.5 1138.3 472.8 1134.6 471.1Z" fill="#228c8d"/><path d="M1242 457.1 1238.6 459.3 1235.1 461.5 1238.9 463.1 1242.6 464.7 1246 462.6 1249.5 460.4 1245.7 458.8 1242 457.1Z" fill="#20938c"/><path d="M1012.9 488.8 1009.3 489.2 1005.7 489.4 1009.3 489.6 1012.9 489.8 1016.5 489.7 1020.1 489.5 1016.5 489.2 1012.9 488.8Z" fill="#25848e"/><path d="M1027.2 488.3 1023.6 489.1 1020.1 489.5 1023.7 489.7 1027.3 490 1030.9 489.8 1034.4 489.4 1030.8 488.9 1027.2 488.3Z" fill="#25848e"/><path d="M998.6 489 995 489.2 991.4 489.3 995 489.4 998.6 489.5 1002.2 489.5 1005.7 489.4 1002.1 489.2 998.6 489Z" fill="#25848e"/><path d="M984.2 489.1 980.7 489.1 977.1 489.1 980.6 489.2 984.2 489.3 987.8 489.3 991.4 489.3 987.8 489.2 984.2 489.1Z" fill="#25848e"/><path d="M969.9 489.1 966.3 489 962.7 488.9 966.3 489 969.9 489 973.5 489.1 977.1 489.1 973.5 489.1 969.9 489.1Z" fill="#25848e"/><path d="M1041.5 487.2 1038 488.6 1034.4 489.4 1038 489.8 1041.7 490.1 1045.2 489.7 1048.8 489 1045.1 488.2 1041.5 487.2Z" fill="#25848e"/><path d="M955.6 489 952 488.9 948.4 488.8 951.9 488.7 955.5 488.7 959.1 488.9 962.7 488.9 959.2 489 955.6 489Z" fill="#25848e"/><path d="M941.3 488.9 937.7 488.7 934.1 488.5 937.6 488.5 941.1 488.5 944.8 488.6 948.4 488.8 944.8 488.8 941.3 488.9Z" fill="#25848e"/><path d="M1256.3 456.1 1252.9 458.3 1249.5 460.4 1253.2 462.1 1257 463.7 1260.4 461.6 1263.8 459.5 1260.1 457.8 1256.3 456.1Z" fill="#1f948c"/><path d="M927 488.8 923.4 488.6 919.7 488.3 923.2 488.2 926.8 488.1 930.4 488.3 934.1 488.5 930.5 488.7 927 488.8Z" fill="#25858e"/><path d="M1055.8 485.6 1052.3 487.7 1048.8 489 1052.4 489.6 1056 490.1 1059.6 489.5 1063.1 488.2 1059.5 487 1055.8 485.6Z" fill="#25858e"/><path d="M733.9 508.7 730.1 508.5 726.3 508.4 729.5 501.7 732.7 496.6 736.5 496.9 740.3 497.2 737.1 502.1 733.9 508.7Z" fill="#277e8e"/><path d="M912.7 488.7 909 488.3 905.4 488 908.9 487.8 912.4 487.7 916.1 488 919.7 488.3 916.2 488.4 912.7 488.7Z" fill="#25858e"/><path d="M1148.9 469.5 1145.5 472 1142 474.5 1145.6 476.1 1149.3 477.7 1152.8 475.3 1156.3 472.8 1152.6 471.1 1148.9 469.5Z" fill="#228d8d"/><path d="M783.9 490 780.1 489.3 776.3 488.7 779.7 487 783.1 485.7 786.9 486.3 790.6 487 787.3 488.4 783.9 490Z" fill="#25858e"/><path d="M898.4 488.4 894.7 488 891 487.6 894.5 487.4 898 487.3 901.7 487.6 905.4 488 901.9 488.2 898.4 488.4Z" fill="#25858e"/><path d="M1270.7 455.3 1267.3 457.4 1263.8 459.5 1267.6 461.1 1271.4 462.7 1274.8 460.6 1278.2 458.6 1274.4 456.9 1270.7 455.3Z" fill="#1f958b"/><path d="M884 488.2 880.4 487.7 876.7 487.2 880.2 486.9 883.7 486.7 887.3 487.2 891 487.6 887.5 487.9 884 488.2Z" fill="#25858e"/><path d="M1070.2 483.8 1066.6 486.2 1063.1 488.2 1066.7 489.1 1070.4 489.9 1073.9 488.7 1077.5 486.7 1073.8 485.3 1070.2 483.8Z" fill="#25858e"/><path d="M869.7 488 866 487.4 862.3 486.8 865.8 486.4 869.3 486.2 873 486.7 876.7 487.2 873.2 487.5 869.7 488Z" fill="#24868e"/><path d="M1285 454.4 1281.6 456.5 1278.2 458.6 1282 460.2 1285.8 461.8 1289.2 459.8 1292.6 457.7 1288.8 456.1 1285 454.4Z" fill="#1f958b"/><path d="M712.4 521.9 708.6 521.7 704.8 521.6 708 516.7 711 508.1 714.9 508.1 718.7 508.2 715.6 516.7 712.4 521.9Z" fill="#2a768e"/><path d="M855.4 487.8 851.7 487.1 848 486.5 851.4 486 854.9 485.6 858.6 486.2 862.3 486.8 858.9 487.2 855.4 487.8Z" fill="#24868e"/><path d="M798.2 488.5 794.4 487.7 790.6 487 794 485.9 797.4 484.9 801.2 485.6 805 486.3 801.6 487.3 798.2 488.5Z" fill="#24868e"/><path d="M841.1 487.6 837.4 486.9 833.6 486.2 837.1 485.7 840.5 485.2 844.3 485.8 848 486.5 844.5 487 841.1 487.6Z" fill="#24868e"/><path d="M1163.3 467.9 1159.8 470.4 1156.3 472.8 1160 474.4 1163.7 476.1 1167.2 473.6 1170.7 471.2 1167 469.6 1163.3 467.9Z" fill="#218e8d"/><path d="M812.5 487.8 808.7 487 805 486.3 808.4 485.4 811.8 484.7 815.5 485.4 819.3 486.1 815.9 486.9 812.5 487.8Z" fill="#24868e"/><path d="M826.8 487.6 823 486.8 819.3 486.1 822.7 485.4 826.2 484.9 829.9 485.5 833.6 486.2 830.2 486.9 826.8 487.6Z" fill="#24868e"/><path d="M1084.5 481.8 1081 484.4 1077.5 486.7 1081.1 488 1084.8 489.2 1088.3 487.3 1091.8 485 1088.2 483.4 1084.5 481.8Z" fill="#24878e"/><path d="M1177.7 466.5 1174.2 468.8 1170.7 471.2 1174.4 472.9 1178.1 474.5 1181.6 472.1 1185.1 469.8 1181.4 468.1 1177.7 466.5Z" fill="#21908d"/><path d="M1098.9 479.9 1095.3 482.5 1091.8 485 1095.5 486.5 1099.1 487.9 1102.7 485.6 1106.2 483.1 1102.5 481.5 1098.9 479.9Z" fill="#23888e"/><path d="M1192 465.1 1188.5 467.4 1185.1 469.8 1188.8 471.4 1192.5 473 1196 470.7 1199.5 468.4 1195.7 466.7 1192 465.1Z" fill="#21918c"/><path d="M1113.2 478 1109.7 480.6 1106.2 483.1 1109.9 484.7 1113.5 486.2 1117 483.8 1120.6 481.3 1116.9 479.6 1113.2 478Z" fill="#23898e"/><path d="M1206.4 463.8 1202.9 466.1 1199.5 468.4 1203.2 470 1206.9 471.6 1210.4 469.3 1213.8 467.1 1210.1 465.4 1206.4 463.8Z" fill="#20928c"/><path d="M1220.7 462.6 1217.3 464.8 1213.8 467.1 1217.6 468.7 1221.3 470.3 1224.8 468.1 1228.2 465.9 1224.5 464.2 1220.7 462.6Z" fill="#20928c"/><path d="M1127.6 476.2 1124.1 478.7 1120.6 481.3 1124.2 482.9 1127.9 484.4 1131.4 482 1134.9 479.5 1131.3 477.8 1127.6 476.2Z" fill="#228b8d"/><path d="M1235.1 461.5 1231.7 463.7 1228.2 465.9 1232 467.5 1235.7 469.1 1239.2 466.9 1242.6 464.7 1238.9 463.1 1235.1 461.5Z" fill="#20938c"/><path d="M662 526.7 658 524.6 654.1 522.5 657.3 521.2 660.6 518.8 664.5 520.1 668.4 521.5 665.2 524.6 662 526.7Z" fill="#2b748e"/><path d="M747.9 497.9 744.1 497.5 740.3 497.2 743.6 493 746.9 489.7 750.7 490.2 754.5 490.6 751.2 493.8 747.9 497.9Z" fill="#25838e"/><path d="M1142 474.5 1138.5 477 1134.9 479.5 1138.6 481.1 1142.3 482.6 1145.8 480.2 1149.3 477.7 1145.6 476.1 1142 474.5Z" fill="#228c8d"/><path d="M1249.5 460.4 1246 462.6 1242.6 464.7 1246.4 466.4 1250.1 468 1253.6 465.8 1257 463.7 1253.2 462.1 1249.5 460.4Z" fill="#20938c"/><path d="M1263.8 459.5 1260.4 461.6 1257 463.7 1260.8 465.3 1264.5 466.9 1268 464.8 1271.4 462.7 1267.6 461.1 1263.8 459.5Z" fill="#1f948c"/><path d="M690.4 520.2 686.5 519.3 682.7 518.5 686 519.4 689.4 521.5 693.3 521.5 697.1 521.5 693.7 520.3 690.4 520.2Z" fill="#2b758e"/><path d="M676.2 524.3 672.3 522.9 668.4 521.5 671.6 518.6 674.9 517 678.8 517.7 682.7 518.5 679.4 520.8 676.2 524.3Z" fill="#2b758e"/><path d="M1156.3 472.8 1152.8 475.3 1149.3 477.7 1153 479.3 1156.7 480.9 1160.2 478.5 1163.7 476.1 1160 474.4 1156.3 472.8Z" fill="#228d8d"/><path d="M1278.2 458.6 1274.8 460.6 1271.4 462.7 1275.2 464.3 1278.9 465.9 1282.4 463.9 1285.8 461.8 1282 460.2 1278.2 458.6Z" fill="#1f958b"/><path d="M1292.6 457.7 1289.2 459.8 1285.8 461.8 1289.6 463.4 1293.3 465 1296.8 463 1300.2 461 1296.4 459.4 1292.6 457.7Z" fill="#1f968b"/><path d="M1048.8 489 1045.2 489.7 1041.7 490.1 1045.3 490.4 1048.9 490.7 1052.5 490.5 1056 490.1 1052.4 489.6 1048.8 489Z" fill="#24868e"/><path d="M1034.4 489.4 1030.9 489.8 1027.3 490 1030.9 490.2 1034.6 490.5 1038.1 490.3 1041.7 490.1 1038 489.8 1034.4 489.4Z" fill="#24868e"/><path d="M1063.1 488.2 1059.6 489.5 1056 490.1 1059.7 490.6 1063.3 490.9 1066.9 490.6 1070.4 489.9 1066.7 489.1 1063.1 488.2Z" fill="#24868e"/><path d="M1020.1 489.5 1016.5 489.7 1012.9 489.8 1016.6 490 1020.2 490.2 1023.7 490.1 1027.3 490 1023.7 489.7 1020.1 489.5Z" fill="#24868e"/><path d="M1005.7 489.4 1002.2 489.5 998.6 489.5 1002.2 489.7 1005.8 489.9 1009.4 489.8 1012.9 489.8 1009.3 489.6 1005.7 489.4Z" fill="#24868e"/><path d="M1170.7 471.2 1167.2 473.6 1163.7 476.1 1167.4 477.7 1171.1 479.2 1174.6 476.9 1178.1 474.5 1174.4 472.9 1170.7 471.2Z" fill="#218f8d"/><path d="M991.4 489.3 987.8 489.3 984.2 489.3 987.8 489.4 991.4 489.5 995 489.5 998.6 489.5 995 489.4 991.4 489.3Z" fill="#24878e"/><path d="M1077.5 486.7 1073.9 488.7 1070.4 489.9 1074 490.5 1077.7 491 1081.2 490.4 1084.8 489.2 1081.1 488 1077.5 486.7Z" fill="#24878e"/><path d="M977.1 489.1 973.5 489.1 969.9 489 973.4 489.1 977 489.2 980.6 489.2 984.2 489.3 980.6 489.2 977.1 489.1Z" fill="#24878e"/><path d="M762.1 491.7 758.3 491.1 754.5 490.6 757.8 488.2 761.1 486.3 765 486.9 768.8 487.4 765.4 489.3 762.1 491.7Z" fill="#24878e"/><path d="M962.7 488.9 959.1 488.9 955.5 488.7 959.1 488.8 962.6 488.9 966.3 488.9 969.9 489 966.3 489 962.7 488.9Z" fill="#24878e"/><path d="M948.4 488.8 944.8 488.6 941.1 488.5 944.7 488.5 948.2 488.5 951.9 488.6 955.5 488.7 951.9 488.7 948.4 488.8Z" fill="#24878e"/><path d="M1091.8 485 1088.3 487.3 1084.8 489.2 1088.4 490.1 1092.1 490.9 1095.6 489.7 1099.1 487.9 1095.5 486.5 1091.8 485Z" fill="#24878e"/><path d="M934.1 488.5 930.4 488.3 926.8 488.1 930.3 488.1 933.9 488.2 937.5 488.3 941.1 488.5 937.6 488.5 934.1 488.5Z" fill="#24878e"/><path d="M1185.1 469.8 1181.6 472.1 1178.1 474.5 1181.8 476.1 1185.6 477.7 1189 475.3 1192.5 473 1188.8 471.4 1185.1 469.8Z" fill="#21908d"/><path d="M919.7 488.3 916.1 488 912.4 487.7 915.9 487.7 919.5 487.7 923.1 487.9 926.8 488.1 923.2 488.2 919.7 488.3Z" fill="#23888e"/><path d="M726.3 508.4 722.5 508.2 718.7 508.2 721.8 501.4 725 496.2 728.9 496.4 732.7 496.6 729.5 501.7 726.3 508.4Z" fill="#26818e"/><path d="M905.4 488 901.7 487.6 898 487.3 901.5 487.2 905.1 487.2 908.7 487.5 912.4 487.7 908.9 487.8 905.4 488Z" fill="#23888e"/><path d="M891 487.6 887.3 487.2 883.7 486.7 887.2 486.6 890.7 486.6 894.4 486.9 898 487.3 894.5 487.4 891 487.6Z" fill="#23888e"/><path d="M1106.2 483.1 1102.7 485.6 1099.1 487.9 1102.8 489.2 1106.5 490.3 1110 488.5 1113.5 486.2 1109.9 484.7 1106.2 483.1Z" fill="#23888e"/><path d="M1199.5 468.4 1196 470.7 1192.5 473 1196.2 474.6 1200 476.2 1203.4 473.9 1206.9 471.6 1203.2 470 1199.5 468.4Z" fill="#21918c"/><path d="M704.8 521.6 701 521.5 697.1 521.5 700.3 516.8 703.4 508.2 707.2 508.2 711 508.1 708 516.7 704.8 521.6Z" fill="#29798e"/><path d="M776.3 488.7 772.5 488 768.8 487.4 772.1 485.8 775.5 484.4 779.3 485 783.1 485.7 779.7 487 776.3 488.7Z" fill="#23898e"/><path d="M876.7 487.2 873 486.7 869.3 486.2 872.8 486 876.3 485.9 880 486.3 883.7 486.7 880.2 486.9 876.7 487.2Z" fill="#23898e"/><path d="M862.3 486.8 858.6 486.2 854.9 485.6 858.4 485.4 861.9 485.2 865.6 485.7 869.3 486.2 865.8 486.4 862.3 486.8Z" fill="#23898e"/><path d="M848 486.5 844.3 485.8 840.5 485.2 844 484.8 847.5 484.5 851.2 485.1 854.9 485.6 851.4 486 848 486.5Z" fill="#238a8d"/><path d="M1213.8 467.1 1210.4 469.3 1206.9 471.6 1210.6 473.2 1214.4 474.8 1217.9 472.5 1221.3 470.3 1217.6 468.7 1213.8 467.1Z" fill="#20928c"/><path d="M1120.6 481.3 1117 483.8 1113.5 486.2 1117.2 487.7 1120.9 489 1124.4 486.8 1127.9 484.4 1124.2 482.9 1120.6 481.3Z" fill="#238a8d"/><path d="M790.6 487 786.9 486.3 783.1 485.7 786.5 484.5 789.9 483.5 793.6 484.2 797.4 484.9 794 485.9 790.6 487Z" fill="#238a8d"/><path d="M833.6 486.2 829.9 485.5 826.2 484.9 829.6 484.4 833.1 484 836.8 484.6 840.5 485.2 837.1 485.7 833.6 486.2Z" fill="#238a8d"/><path d="M819.3 486.1 815.5 485.4 811.8 484.7 815.2 484.1 818.7 483.5 822.4 484.2 826.2 484.9 822.7 485.4 819.3 486.1Z" fill="#238a8d"/><path d="M805 486.3 801.2 485.6 797.4 484.9 800.8 484 804.3 483.3 808 484 811.8 484.7 808.4 485.4 805 486.3Z" fill="#238a8d"/><path d="M1228.2 465.9 1224.8 468.1 1221.3 470.3 1225.1 471.9 1228.8 473.5 1232.3 471.3 1235.7 469.1 1232 467.5 1228.2 465.9Z" fill="#20928c"/><path d="M1134.9 479.5 1131.4 482 1127.9 484.4 1131.6 486 1135.3 487.4 1138.8 485.1 1142.3 482.6 1138.6 481.1 1134.9 479.5Z" fill="#228b8d"/><path d="M1242.6 464.7 1239.2 466.9 1235.7 469.1 1239.5 470.7 1243.2 472.3 1246.7 470.1 1250.1 468 1246.4 466.4 1242.6 464.7Z" fill="#20938c"/><path d="M1257 463.7 1253.6 465.8 1250.1 468 1253.9 469.6 1257.7 471.1 1261.1 469 1264.5 466.9 1260.8 465.3 1257 463.7Z" fill="#1f948c"/><path d="M1149.3 477.7 1145.8 480.2 1142.3 482.6 1146 484.2 1149.7 485.7 1153.2 483.3 1156.7 480.9 1153 479.3 1149.3 477.7Z" fill="#228c8d"/><path d="M1271.4 462.7 1268 464.8 1264.5 466.9 1268.3 468.5 1272.1 470.1 1275.5 468 1278.9 465.9 1275.2 464.3 1271.4 462.7Z" fill="#1f948c"/><path d="M1163.7 476.1 1160.2 478.5 1156.7 480.9 1160.4 482.5 1164.1 484 1167.6 481.6 1171.1 479.2 1167.4 477.7 1163.7 476.1Z" fill="#218e8d"/><path d="M1285.8 461.8 1282.4 463.9 1278.9 465.9 1282.7 467.5 1286.5 469.1 1289.9 467.1 1293.3 465 1289.6 463.4 1285.8 461.8Z" fill="#1f958b"/><path d="M1300.2 461 1296.8 463 1293.3 465 1297.1 466.6 1300.9 468.2 1304.4 466.2 1307.8 464.2 1304 462.6 1300.2 461Z" fill="#1f968b"/><path d="M740.3 497.2 736.5 496.9 732.7 496.6 735.9 492.3 739.2 489 743 489.3 746.9 489.7 743.6 493 740.3 497.2Z" fill="#24878e"/><path d="M1178.1 474.5 1174.6 476.9 1171.1 479.2 1174.9 480.8 1178.6 482.4 1182.1 480 1185.6 477.7 1181.8 476.1 1178.1 474.5Z" fill="#218f8d"/><path d="M1192.5 473 1189 475.3 1185.6 477.7 1189.3 479.3 1193 480.8 1196.5 478.5 1200 476.2 1196.2 474.6 1192.5 473Z" fill="#21908d"/><path d="M1070.4 489.9 1066.9 490.6 1063.3 490.9 1067 491.3 1070.6 491.6 1074.2 491.4 1077.7 491 1074 490.5 1070.4 489.9Z" fill="#23888e"/><path d="M1084.8 489.2 1081.2 490.4 1077.7 491 1081.4 491.5 1085 491.9 1088.6 491.5 1092.1 490.9 1088.4 490.1 1084.8 489.2Z" fill="#23888e"/><path d="M1056 490.1 1052.5 490.5 1048.9 490.7 1052.6 491 1056.2 491.3 1059.8 491.2 1063.3 490.9 1059.7 490.6 1056 490.1Z" fill="#23888e"/><path d="M682.7 518.5 678.8 517.7 674.9 517 678.3 518.8 681.7 521.7 685.6 521.6 689.4 521.5 686 519.4 682.7 518.5Z" fill="#29798e"/><path d="M1041.7 490.1 1038.1 490.3 1034.6 490.5 1038.2 490.7 1041.8 491 1045.4 490.9 1048.9 490.7 1045.3 490.4 1041.7 490.1Z" fill="#23888e"/><path d="M654.1 522.5 650.1 520.5 646.2 518.5 649.4 518 652.7 516.3 656.6 517.5 660.6 518.8 657.3 521.2 654.1 522.5Z" fill="#29798e"/><path d="M1099.1 487.9 1095.6 489.7 1092.1 490.9 1095.8 491.5 1099.4 492 1103 491.4 1106.5 490.3 1102.8 489.2 1099.1 487.9Z" fill="#23898e"/><path d="M1027.3 490 1023.7 490.1 1020.2 490.2 1023.8 490.4 1027.4 490.7 1031 490.6 1034.6 490.5 1030.9 490.2 1027.3 490Z" fill="#23898e"/><path d="M1012.9 489.8 1009.4 489.8 1005.8 489.9 1009.4 490.1 1013 490.3 1016.6 490.2 1020.2 490.2 1016.6 490 1012.9 489.8Z" fill="#23898e"/><path d="M1206.9 471.6 1203.4 473.9 1200 476.2 1203.7 477.8 1207.4 479.3 1210.9 477.1 1214.4 474.8 1210.6 473.2 1206.9 471.6Z" fill="#21918c"/><path d="M998.6 489.5 995 489.5 991.4 489.5 995 489.7 998.6 489.9 1002.2 489.9 1005.8 489.9 1002.2 489.7 998.6 489.5Z" fill="#23898e"/><path d="M1113.5 486.2 1110 488.5 1106.5 490.3 1110.2 491.2 1113.9 491.9 1117.4 490.8 1120.9 489 1117.2 487.7 1113.5 486.2Z" fill="#23898e"/><path d="M984.2 489.3 980.6 489.2 977 489.2 980.6 489.3 984.2 489.5 987.8 489.5 991.4 489.5 987.8 489.4 984.2 489.3Z" fill="#23898e"/><path d="M668.4 521.5 664.5 520.1 660.6 518.8 663.8 516.6 667.1 515.6 671 516.3 674.9 517 671.6 518.6 668.4 521.5Z" fill="#297a8e"/><path d="M969.9 489 966.3 488.9 962.6 488.9 966.2 489 969.8 489.1 973.4 489.2 977 489.2 973.4 489.1 969.9 489Z" fill="#238a8d"/><path d="M955.5 488.7 951.9 488.6 948.2 488.5 951.8 488.6 955.4 488.7 959 488.8 962.6 488.9 959.1 488.8 955.5 488.7Z" fill="#238a8d"/><path d="M1221.3 470.3 1217.9 472.5 1214.4 474.8 1218.1 476.4 1221.9 477.9 1225.4 475.7 1228.8 473.5 1225.1 471.9 1221.3 470.3Z" fill="#20928c"/><path d="M941.1 488.5 937.5 488.3 933.9 488.2 937.4 488.2 941 488.3 944.6 488.4 948.2 488.5 944.7 488.5 941.1 488.5Z" fill="#238a8d"/><path d="M1127.9 484.4 1124.4 486.8 1120.9 489 1124.6 490.3 1128.3 491.4 1131.8 489.6 1135.3 487.4 1131.6 486 1127.9 484.4Z" fill="#238a8d"/><path d="M926.8 488.1 923.1 487.9 919.5 487.7 923 487.8 926.5 487.9 930.2 488 933.9 488.2 930.3 488.1 926.8 488.1Z" fill="#238a8d"/><path d="M754.5 490.6 750.7 490.2 746.9 489.7 750.2 487.3 753.5 485.3 757.3 485.8 761.1 486.3 757.8 488.2 754.5 490.6Z" fill="#238a8d"/><path d="M718.7 508.2 714.9 508.1 711 508.1 714.2 501.3 717.4 495.9 721.2 496.1 725 496.2 721.8 501.4 718.7 508.2Z" fill="#26828e"/><path d="M912.4 487.7 908.7 487.5 905.1 487.2 908.6 487.2 912.1 487.3 915.8 487.5 919.5 487.7 915.9 487.7 912.4 487.7Z" fill="#228b8d"/><path d="M1235.7 469.1 1232.3 471.3 1228.8 473.5 1232.6 475.1 1236.3 476.6 1239.8 474.5 1243.2 472.3 1239.5 470.7 1235.7 469.1Z" fill="#20928c"/><path d="M898 487.3 894.4 486.9 890.7 486.6 894.2 486.6 897.7 486.7 901.4 486.9 905.1 487.2 901.5 487.2 898 487.3Z" fill="#228b8d"/><path d="M697.1 521.5 693.3 521.5 689.4 521.5 692.6 517.1 695.7 508.5 699.5 508.4 703.4 508.2 700.3 516.8 697.1 521.5Z" fill="#287c8e"/><path d="M1142.3 482.6 1138.8 485.1 1135.3 487.4 1139 488.9 1142.7 490.2 1146.2 488.1 1149.7 485.7 1146 484.2 1142.3 482.6Z" fill="#228c8d"/><path d="M883.7 486.7 880 486.3 876.3 485.9 879.8 485.9 883.3 485.9 887 486.3 890.7 486.6 887.2 486.6 883.7 486.7Z" fill="#228c8d"/><path d="M1250.1 468 1246.7 470.1 1243.2 472.3 1247 473.9 1250.8 475.4 1254.2 473.3 1257.7 471.1 1253.9 469.6 1250.1 468Z" fill="#20938c"/><path d="M869.3 486.2 865.6 485.7 861.9 485.2 865.4 485.1 868.9 485.1 872.6 485.5 876.3 485.9 872.8 486 869.3 486.2Z" fill="#228c8d"/><path d="M768.8 487.4 765 486.9 761.1 486.3 764.5 484.7 767.9 483.3 771.7 483.8 775.5 484.4 772.1 485.8 768.8 487.4Z" fill="#228c8d"/><path d="M1264.5 466.9 1261.1 469 1257.7 471.1 1261.4 472.7 1265.2 474.3 1268.7 472.2 1272.1 470.1 1268.3 468.5 1264.5 466.9Z" fill="#1f948c"/><path d="M854.9 485.6 851.2 485.1 847.5 484.5 850.9 484.4 854.4 484.3 858.2 484.7 861.9 485.2 858.4 485.4 854.9 485.6Z" fill="#228d8d"/><path d="M1156.7 480.9 1153.2 483.3 1149.7 485.7 1153.4 487.2 1157.1 488.7 1160.6 486.4 1164.1 484 1160.4 482.5 1156.7 480.9Z" fill="#228d8d"/><path d="M840.5 485.2 836.8 484.6 833.1 484 836.5 483.7 840 483.5 843.7 484 847.5 484.5 844 484.8 840.5 485.2Z" fill="#228d8d"/><path d="M1278.9 465.9 1275.5 468 1272.1 470.1 1275.9 471.7 1279.7 473.2 1283.1 471.2 1286.5 469.1 1282.7 467.5 1278.9 465.9Z" fill="#1f958b"/><path d="M783.1 485.7 779.3 485 775.5 484.4 778.9 483.3 782.3 482.3 786.1 482.9 789.9 483.5 786.5 484.5 783.1 485.7Z" fill="#228d8d"/><path d="M826.2 484.9 822.4 484.2 818.7 483.5 822.1 483.1 825.6 482.8 829.3 483.4 833.1 484 829.6 484.4 826.2 484.9Z" fill="#218e8d"/><path d="M811.8 484.7 808 484 804.3 483.3 807.7 482.8 811.1 482.3 814.9 482.9 818.7 483.5 815.2 484.1 811.8 484.7Z" fill="#218e8d"/><path d="M797.4 484.9 793.6 484.2 789.9 483.5 793.3 482.7 796.7 482.1 800.5 482.7 804.3 483.3 800.8 484 797.4 484.9Z" fill="#218e8d"/><path d="M1171.1 479.2 1167.6 481.6 1164.1 484 1167.9 485.6 1171.6 487.1 1175.1 484.7 1178.6 482.4 1174.9 480.8 1171.1 479.2Z" fill="#218e8d"/><path d="M1293.3 465 1289.9 467.1 1286.5 469.1 1290.3 470.7 1294.1 472.3 1297.5 470.2 1300.9 468.2 1297.1 466.6 1293.3 465Z" fill="#1f958b"/><path d="M1307.8 464.2 1304.4 466.2 1300.9 468.2 1304.8 469.8 1308.6 471.4 1312 469.4 1315.4 467.4 1311.6 465.8 1307.8 464.2Z" fill="#1f968b"/><path d="M1185.6 477.7 1182.1 480 1178.6 482.4 1182.3 483.9 1186 485.4 1189.5 483.1 1193 480.8 1189.3 479.3 1185.6 477.7Z" fill="#218f8d"/><path d="M1200 476.2 1196.5 478.5 1193 480.8 1196.7 482.4 1200.5 483.9 1204 481.6 1207.4 479.3 1203.7 477.8 1200 476.2Z" fill="#21908d"/><path d="M1214.4 474.8 1210.9 477.1 1207.4 479.3 1211.2 480.9 1214.9 482.4 1218.4 480.2 1221.9 477.9 1218.1 476.4 1214.4 474.8Z" fill="#20928c"/><path d="M732.7 496.6 728.9 496.4 725 496.2 728.3 491.8 731.5 488.3 735.4 488.6 739.2 489 735.9 492.3 732.7 496.6Z" fill="#238a8d"/><path d="M1092.1 490.9 1088.6 491.5 1085 491.9 1088.7 492.2 1092.4 492.6 1095.9 492.4 1099.4 492 1095.8 491.5 1092.1 490.9Z" fill="#238a8d"/><path d="M1106.5 490.3 1103 491.4 1099.4 492 1103.1 492.4 1106.8 492.8 1110.3 492.5 1113.9 491.9 1110.2 491.2 1106.5 490.3Z" fill="#238a8d"/><path d="M1077.7 491 1074.2 491.4 1070.6 491.6 1074.3 492 1078 492.3 1081.5 492.1 1085 491.9 1081.4 491.5 1077.7 491Z" fill="#238a8d"/><path d="M1228.8 473.5 1225.4 475.7 1221.9 477.9 1225.6 479.5 1229.4 481 1232.9 478.8 1236.3 476.6 1232.6 475.1 1228.8 473.5Z" fill="#20928c"/><path d="M1063.3 490.9 1059.8 491.2 1056.2 491.3 1059.9 491.7 1063.6 492 1067.1 491.8 1070.6 491.6 1067 491.3 1063.3 490.9Z" fill="#238a8d"/><path d="M1120.9 489 1117.4 490.8 1113.9 491.9 1117.6 492.5 1121.3 493 1124.8 492.4 1128.3 491.4 1124.6 490.3 1120.9 489Z" fill="#228b8d"/><path d="M1048.9 490.7 1045.4 490.9 1041.8 491 1045.5 491.3 1049.1 491.6 1052.7 491.5 1056.2 491.3 1052.6 491 1048.9 490.7Z" fill="#228b8d"/><path d="M1034.6 490.5 1031 490.6 1027.4 490.7 1031.1 490.9 1034.7 491.2 1038.3 491.1 1041.8 491 1038.2 490.7 1034.6 490.5Z" fill="#228b8d"/><path d="M1135.3 487.4 1131.8 489.6 1128.3 491.4 1132 492.2 1135.7 492.9 1139.2 491.9 1142.7 490.2 1139 488.9 1135.3 487.4Z" fill="#228b8d"/><path d="M1020.2 490.2 1016.6 490.2 1013 490.3 1016.6 490.5 1020.3 490.8 1023.9 490.7 1027.4 490.7 1023.8 490.4 1020.2 490.2Z" fill="#228b8d"/><path d="M1243.2 472.3 1239.8 474.5 1236.3 476.6 1240.1 478.2 1243.9 479.7 1247.3 477.6 1250.8 475.4 1247 473.9 1243.2 472.3Z" fill="#20938c"/><path d="M674.9 517 671 516.3 667.1 515.6 670.5 518.3 674 522 677.8 521.8 681.7 521.7 678.3 518.8 674.9 517Z" fill="#287c8e"/><path d="M1005.8 489.9 1002.2 489.9 998.6 489.9 1002.2 490.1 1005.8 490.4 1009.4 490.3 1013 490.3 1009.4 490.1 1005.8 489.9Z" fill="#228c8d"/><path d="M991.4 489.5 987.8 489.5 984.2 489.5 987.8 489.7 991.4 489.9 995 489.9 998.6 489.9 995 489.7 991.4 489.5Z" fill="#228c8d"/><path d="M1149.7 485.7 1146.2 488.1 1142.7 490.2 1146.4 491.4 1150.1 492.4 1153.6 490.8 1157.1 488.7 1153.4 487.2 1149.7 485.7Z" fill="#228c8d"/><path d="M977 489.2 973.4 489.2 969.8 489.1 973.4 489.3 977 489.5 980.6 489.5 984.2 489.5 980.6 489.3 977 489.2Z" fill="#228c8d"/><path d="M1257.7 471.1 1254.2 473.3 1250.8 475.4 1254.6 477 1258.3 478.5 1261.8 476.4 1265.2 474.3 1261.4 472.7 1257.7 471.1Z" fill="#20938c"/><path d="M962.6 488.9 959 488.8 955.4 488.7 959 488.8 962.5 489 966.2 489.1 969.8 489.1 966.2 489 962.6 488.9Z" fill="#228c8d"/><path d="M948.2 488.5 944.6 488.4 941 488.3 944.5 488.4 948.1 488.6 951.7 488.6 955.4 488.7 951.8 488.6 948.2 488.5Z" fill="#228d8d"/><path d="M1272.1 470.1 1268.7 472.2 1265.2 474.3 1269 475.8 1272.8 477.4 1276.2 475.3 1279.7 473.2 1275.9 471.7 1272.1 470.1Z" fill="#1f948c"/><path d="M933.9 488.2 930.2 488 926.5 487.9 930.1 487.9 933.7 488.1 937.3 488.2 941 488.3 937.4 488.2 933.9 488.2Z" fill="#228d8d"/><path d="M1164.1 484 1160.6 486.4 1157.1 488.7 1160.9 490.1 1164.6 491.4 1168.1 489.3 1171.6 487.1 1167.9 485.6 1164.1 484Z" fill="#228d8d"/><path d="M919.5 487.7 915.8 487.5 912.1 487.3 915.7 487.4 919.2 487.6 922.9 487.7 926.5 487.9 923 487.8 919.5 487.7Z" fill="#228d8d"/><path d="M711 508.1 707.2 508.2 703.4 508.2 706.5 501.3 709.7 495.8 713.5 495.9 717.4 495.9 714.2 501.3 711 508.1Z" fill="#25858e"/><path d="M660.6 518.8 656.6 517.5 652.7 516.3 655.9 514.7 659.2 514.4 663.2 515 667.1 515.6 663.8 516.6 660.6 518.8Z" fill="#277e8e"/><path d="M646.2 518.5 642.2 516.5 638.2 514.7 641.5 515 644.8 514 648.7 515.2 652.7 516.3 649.4 518 646.2 518.5Z" fill="#277e8e"/><path d="M1286.5 469.1 1283.1 471.2 1279.7 473.2 1283.5 474.8 1287.3 476.3 1290.7 474.3 1294.1 472.3 1290.3 470.7 1286.5 469.1Z" fill="#1f958b"/><path d="M905.1 487.2 901.4 486.9 897.7 486.7 901.2 486.8 904.8 487 908.5 487.1 912.1 487.3 908.6 487.2 905.1 487.2Z" fill="#218e8d"/><path d="M746.9 489.7 743 489.3 739.2 489 742.5 486.4 745.9 484.4 749.7 484.9 753.5 485.3 750.2 487.3 746.9 489.7Z" fill="#218e8d"/><path d="M689.4 521.5 685.6 521.6 681.7 521.7 684.9 517.6 687.9 508.9 691.8 508.7 695.7 508.5 692.6 517.1 689.4 521.5Z" fill="#277e8e"/><path d="M890.7 486.6 887 486.3 883.3 485.9 886.8 486 890.3 486.2 894 486.4 897.7 486.7 894.2 486.6 890.7 486.6Z" fill="#218e8d"/><path d="M1178.6 482.4 1175.1 484.7 1171.6 487.1 1175.3 488.5 1179 490 1182.5 487.7 1186 485.4 1182.3 483.9 1178.6 482.4Z" fill="#218e8d"/><path d="M1300.9 468.2 1297.5 470.2 1294.1 472.3 1297.9 473.8 1301.7 475.4 1305.2 473.4 1308.6 471.4 1304.8 469.8 1300.9 468.2Z" fill="#1f968b"/><path d="M876.3 485.9 872.6 485.5 868.9 485.1 872.4 485.2 875.9 485.3 879.6 485.6 883.3 485.9 879.8 485.9 876.3 485.9Z" fill="#218f8d"/><path d="M1315.4 467.4 1312 469.4 1308.6 471.4 1312.4 472.9 1316.2 474.5 1319.6 472.5 1323 470.5 1319.2 469 1315.4 467.4Z" fill="#1f968b"/><path d="M861.9 485.2 858.2 484.7 854.4 484.3 857.9 484.3 861.4 484.4 865.1 484.7 868.9 485.1 865.4 485.1 861.9 485.2Z" fill="#21908d"/><path d="M1193 480.8 1189.5 483.1 1186 485.4 1189.8 486.9 1193.5 488.4 1197 486.2 1200.5 483.9 1196.7 482.4 1193 480.8Z" fill="#21908d"/><path d="M761.1 486.3 757.3 485.8 753.5 485.3 756.9 483.6 760.3 482.2 764.1 482.7 767.9 483.3 764.5 484.7 761.1 486.3Z" fill="#21908d"/><path d="M847.5 484.5 843.7 484 840 483.5 843.5 483.4 847 483.4 850.7 483.8 854.4 484.3 850.9 484.4 847.5 484.5Z" fill="#21908d"/><path d="M833.1 484 829.3 483.4 825.6 482.8 829 482.6 832.5 482.4 836.2 483 840 483.5 836.5 483.7 833.1 484Z" fill="#21918c"/><path d="M1207.4 479.3 1204 481.6 1200.5 483.9 1204.2 485.4 1208 486.9 1211.5 484.7 1214.9 482.4 1211.2 480.9 1207.4 479.3Z" fill="#21918c"/><path d="M775.5 484.4 771.7 483.8 767.9 483.3 771.3 482.1 774.7 481.1 778.5 481.7 782.3 482.3 778.9 483.3 775.5 484.4Z" fill="#21918c"/><path d="M818.7 483.5 814.9 482.9 811.1 482.3 814.6 481.9 818 481.7 821.8 482.2 825.6 482.8 822.1 483.1 818.7 483.5Z" fill="#21918c"/><path d="M804.3 483.3 800.5 482.7 796.7 482.1 800.1 481.5 803.6 481.1 807.3 481.7 811.1 482.3 807.7 482.8 804.3 483.3Z" fill="#20928c"/><path d="M789.9 483.5 786.1 482.9 782.3 482.3 785.7 481.5 789.1 480.8 792.9 481.4 796.7 482.1 793.3 482.7 789.9 483.5Z" fill="#20928c"/><path d="M1221.9 477.9 1218.4 480.2 1214.9 482.4 1218.7 483.9 1222.5 485.4 1225.9 483.2 1229.4 481 1225.6 479.5 1221.9 477.9Z" fill="#20928c"/><path d="M1236.3 476.6 1232.9 478.8 1229.4 481 1233.2 482.5 1237 484.1 1240.4 481.9 1243.9 479.7 1240.1 478.2 1236.3 476.6Z" fill="#20928c"/><path d="M1250.8 475.4 1247.3 477.6 1243.9 479.7 1247.7 481.2 1251.4 482.8 1254.9 480.6 1258.3 478.5 1254.6 477 1250.8 475.4Z" fill="#20938c"/><path d="M1113.9 491.9 1110.3 492.5 1106.8 492.8 1110.5 493.2 1114.3 493.6 1117.8 493.3 1121.3 493 1117.6 492.5 1113.9 491.9Z" fill="#228c8d"/><path d="M1128.3 491.4 1124.8 492.4 1121.3 493 1125 493.4 1128.7 493.8 1132.2 493.4 1135.7 492.9 1132 492.2 1128.3 491.4Z" fill="#228c8d"/><path d="M1099.4 492 1095.9 492.4 1092.4 492.6 1096.1 493 1099.8 493.4 1103.3 493.1 1106.8 492.8 1103.1 492.4 1099.4 492Z" fill="#228c8d"/><path d="M1085 491.9 1081.5 492.1 1078 492.3 1081.7 492.7 1085.4 493 1088.9 492.8 1092.4 492.6 1088.7 492.2 1085 491.9Z" fill="#228c8d"/><path d="M1142.7 490.2 1139.2 491.9 1135.7 492.9 1139.4 493.4 1143.1 494 1146.6 493.4 1150.1 492.4 1146.4 491.4 1142.7 490.2Z" fill="#228c8d"/><path d="M1265.2 474.3 1261.8 476.4 1258.3 478.5 1262.1 480 1265.9 481.5 1269.4 479.5 1272.8 477.4 1269 475.8 1265.2 474.3Z" fill="#1f948c"/><path d="M1070.6 491.6 1067.1 491.8 1063.6 492 1067.2 492.3 1070.9 492.7 1074.4 492.5 1078 492.3 1074.3 492 1070.6 491.6Z" fill="#228d8d"/><path d="M725 496.2 721.2 496.1 717.4 495.9 720.6 491.4 723.9 487.8 727.7 488 731.5 488.3 728.3 491.8 725 496.2Z" fill="#228d8d"/><path d="M1056.2 491.3 1052.7 491.5 1049.1 491.6 1052.8 491.9 1056.5 492.3 1060 492.1 1063.6 492 1059.9 491.7 1056.2 491.3Z" fill="#228d8d"/><path d="M1157.1 488.7 1153.6 490.8 1150.1 492.4 1153.9 493.3 1157.6 493.9 1161.1 493 1164.6 491.4 1160.9 490.1 1157.1 488.7Z" fill="#228d8d"/><path d="M1041.8 491 1038.3 491.1 1034.7 491.2 1038.3 491.5 1042 491.8 1045.6 491.7 1049.1 491.6 1045.5 491.3 1041.8 491Z" fill="#228d8d"/><path d="M1279.7 473.2 1276.2 475.3 1272.8 477.4 1276.6 478.9 1280.4 480.4 1283.8 478.4 1287.3 476.3 1283.5 474.8 1279.7 473.2Z" fill="#1f958b"/><path d="M1027.4 490.7 1023.9 490.7 1020.3 490.8 1023.9 491.1 1027.5 491.4 1031.1 491.3 1034.7 491.2 1031.1 490.9 1027.4 490.7Z" fill="#218e8d"/><path d="M1013 490.3 1009.4 490.3 1005.8 490.4 1009.5 490.6 1013.1 490.9 1016.7 490.9 1020.3 490.8 1016.6 490.5 1013 490.3Z" fill="#218e8d"/><path d="M1171.6 487.1 1168.1 489.3 1164.6 491.4 1168.3 492.6 1172.1 493.6 1175.6 492 1179 490 1175.3 488.5 1171.6 487.1Z" fill="#218e8d"/><path d="M1294.1 472.3 1290.7 474.3 1287.3 476.3 1291.1 477.9 1294.9 479.4 1298.3 477.4 1301.7 475.4 1297.9 473.8 1294.1 472.3Z" fill="#1f958b"/><path d="M998.6 489.9 995 489.9 991.4 489.9 995 490.2 998.6 490.4 1002.2 490.4 1005.8 490.4 1002.2 490.1 998.6 489.9Z" fill="#218e8d"/><path d="M984.2 489.5 980.6 489.5 977 489.5 980.6 489.7 984.2 490 987.8 489.9 991.4 489.9 987.8 489.7 984.2 489.5Z" fill="#218f8d"/><path d="M667.1 515.6 663.2 515 659.2 514.4 662.7 517.9 666.2 522.4 670.1 522.2 674 522 670.5 518.3 667.1 515.6Z" fill="#277f8e"/><path d="M1308.6 471.4 1305.2 473.4 1301.7 475.4 1305.6 476.9 1309.4 478.4 1312.8 476.4 1316.2 474.5 1312.4 472.9 1308.6 471.4Z" fill="#1f968b"/><path d="M969.8 489.1 966.2 489.1 962.5 489 966.1 489.2 969.7 489.5 973.3 489.5 977 489.5 973.4 489.3 969.8 489.1Z" fill="#218f8d"/><path d="M1186 485.4 1182.5 487.7 1179 490 1182.8 491.3 1186.5 492.6 1190 490.6 1193.5 488.4 1189.8 486.9 1186 485.4Z" fill="#218f8d"/><path d="M955.4 488.7 951.7 488.6 948.1 488.6 951.7 488.7 955.3 488.9 958.9 489 962.5 489 959 488.8 955.4 488.7Z" fill="#218f8d"/><path d="M638.2 514.7 634.2 512.8 637.6 513.6 640.8 512.9 644.8 514 641.5 515 638.2 514.7Z" fill="#26828e"/><path d="M1323 470.5 1319.6 472.5 1316.2 474.5 1320 476 1323.9 477.5 1327.3 475.6 1330.7 473.6 1326.8 472.1 1323 470.5Z" fill="#1f978b"/><path d="M941 488.3 937.3 488.2 933.7 488.1 937.2 488.2 940.8 488.4 944.4 488.5 948.1 488.6 944.5 488.4 941 488.3Z" fill="#21908d"/><path d="M926.5 487.9 922.9 487.7 919.2 487.6 922.8 487.7 926.3 487.9 930 488 933.7 488.1 930.1 487.9 926.5 487.9Z" fill="#21908d"/><path d="M1200.5 483.9 1197 486.2 1193.5 488.4 1197.3 489.9 1201 491.3 1204.5 489.1 1208 486.9 1204.2 485.4 1200.5 483.9Z" fill="#21908d"/><path d="M703.4 508.2 699.5 508.4 695.7 508.5 698.8 501.5 701.9 495.8 705.8 495.8 709.7 495.8 706.5 501.3 703.4 508.2Z" fill="#23888e"/><path d="M912.1 487.3 908.5 487.1 904.8 487 908.3 487.1 911.9 487.3 915.5 487.4 919.2 487.6 915.7 487.4 912.1 487.3Z" fill="#21908d"/><path d="M681.7 521.7 677.8 521.8 674 522 677.2 518.1 680.2 509.4 684.1 509.2 687.9 508.9 684.9 517.6 681.7 521.7Z" fill="#26818e"/><path d="M897.7 486.7 894 486.4 890.3 486.2 893.9 486.4 897.4 486.6 901.1 486.8 904.8 487 901.2 486.8 897.7 486.7Z" fill="#21918c"/><path d="M739.2 489 735.4 488.6 731.5 488.3 734.9 485.7 738.2 483.6 742 484 745.9 484.4 742.5 486.4 739.2 489Z" fill="#21918c"/><path d="M1214.9 482.4 1211.5 484.7 1208 486.9 1211.8 488.4 1215.5 489.8 1219 487.6 1222.5 485.4 1218.7 483.9 1214.9 482.4Z" fill="#21918c"/><path d="M883.3 485.9 879.6 485.6 875.9 485.3 879.4 485.5 882.9 485.7 886.6 486 890.3 486.2 886.8 486 883.3 485.9Z" fill="#20928c"/><path d="M652.7 516.3 648.7 515.2 644.8 514 648.1 513 651.4 513.3 655.3 513.8 659.2 514.4 655.9 514.7 652.7 516.3Z" fill="#26828e"/><path d="M868.9 485.1 865.1 484.7 861.4 484.4 864.9 484.5 868.4 484.7 872.2 485 875.9 485.3 872.4 485.2 868.9 485.1Z" fill="#20928c"/><path d="M1229.4 481 1225.9 483.2 1222.5 485.4 1226.2 486.9 1230 488.4 1233.5 486.2 1237 484.1 1233.2 482.5 1229.4 481Z" fill="#20928c"/><path d="M854.4 484.3 850.7 483.8 847 483.4 850.4 483.5 853.9 483.6 857.7 484 861.4 484.4 857.9 484.3 854.4 484.3Z" fill="#20928c"/><path d="M1243.9 479.7 1240.4 481.9 1237 484.1 1240.7 485.6 1244.5 487 1248 484.9 1251.4 482.8 1247.7 481.2 1243.9 479.7Z" fill="#20928c"/><path d="M753.5 485.3 749.7 484.9 745.9 484.4 749.2 482.7 752.6 481.2 756.4 481.7 760.3 482.2 756.9 483.6 753.5 485.3Z" fill="#20928c"/><path d="M840 483.5 836.2 483 832.5 482.4 836 482.4 839.5 482.5 843.2 482.9 847 483.4 843.5 483.4 840 483.5Z" fill="#20938c"/><path d="M1258.3 478.5 1254.9 480.6 1251.4 482.8 1255.2 484.3 1259 485.7 1262.5 483.6 1265.9 481.5 1262.1 480 1258.3 478.5Z" fill="#20938c"/><path d="M825.6 482.8 821.8 482.2 818 481.7 821.5 481.5 825 481.5 828.7 481.9 832.5 482.4 829 482.6 825.6 482.8Z" fill="#20938c"/><path d="M767.9 483.3 764.1 482.7 760.3 482.2 763.6 481 767 480 770.9 480.6 774.7 481.1 771.3 482.1 767.9 483.3Z" fill="#1f948c"/><path d="M811.1 482.3 807.3 481.7 803.6 481.1 807 480.8 810.5 480.6 814.3 481.1 818 481.7 814.6 481.9 811.1 482.3Z" fill="#1f948c"/><path d="M1272.8 477.4 1269.4 479.5 1265.9 481.5 1269.7 483.1 1273.5 484.5 1277 482.5 1280.4 480.4 1276.6 478.9 1272.8 477.4Z" fill="#1f948c"/><path d="M782.3 482.3 778.5 481.7 774.7 481.1 778.1 480.3 781.5 479.7 785.3 480.3 789.1 480.8 785.7 481.5 782.3 482.3Z" fill="#1f948c"/><path d="M796.7 482.1 792.9 481.4 789.1 480.8 792.5 480.3 796 479.9 799.8 480.5 803.6 481.1 800.1 481.5 796.7 482.1Z" fill="#1f948c"/><path d="M1287.3 476.3 1283.8 478.4 1280.4 480.4 1284.2 481.9 1288 483.4 1291.5 481.4 1294.9 479.4 1291.1 477.9 1287.3 476.3Z" fill="#1f958b"/><path d="M1135.7 492.9 1132.2 493.4 1128.7 493.8 1132.4 494.3 1136.2 494.7 1139.7 494.4 1143.1 494 1139.4 493.4 1135.7 492.9Z" fill="#218e8d"/><path d="M1150.1 492.4 1146.6 493.4 1143.1 494 1146.9 494.4 1150.6 494.9 1154.1 494.5 1157.6 493.9 1153.9 493.3 1150.1 492.4Z" fill="#218e8d"/><path d="M1121.3 493 1117.8 493.3 1114.3 493.6 1118 494 1121.7 494.4 1125.2 494.1 1128.7 493.8 1125 493.4 1121.3 493Z" fill="#218e8d"/><path d="M1164.6 491.4 1161.1 493 1157.6 493.9 1161.3 494.5 1165.1 495 1168.6 494.5 1172.1 493.6 1168.3 492.6 1164.6 491.4Z" fill="#218e8d"/><path d="M1106.8 492.8 1103.3 493.1 1099.8 493.4 1103.5 493.7 1107.2 494.1 1110.7 493.9 1114.3 493.6 1110.5 493.2 1106.8 492.8Z" fill="#218e8d"/><path d="M1301.7 475.4 1298.3 477.4 1294.9 479.4 1298.7 480.9 1302.5 482.4 1306 480.4 1309.4 478.4 1305.6 476.9 1301.7 475.4Z" fill="#1f968b"/><path d="M1092.4 492.6 1088.9 492.8 1085.4 493 1089 493.4 1092.7 493.8 1096.3 493.6 1099.8 493.4 1096.1 493 1092.4 492.6Z" fill="#218f8d"/><path d="M1179 490 1175.6 492 1172.1 493.6 1175.8 494.4 1179.6 495 1183.1 494.2 1186.5 492.6 1182.8 491.3 1179 490Z" fill="#218f8d"/><path d="M1078 492.3 1074.4 492.5 1070.9 492.7 1074.6 493 1078.3 493.4 1081.8 493.2 1085.4 493 1081.7 492.7 1078 492.3Z" fill="#218f8d"/><path d="M1063.6 492 1060 492.1 1056.5 492.3 1060.1 492.6 1063.8 493 1067.4 492.8 1070.9 492.7 1067.2 492.3 1063.6 492Z" fill="#218f8d"/><path d="M1316.2 474.5 1312.8 476.4 1309.4 478.4 1313.2 479.9 1317.1 481.4 1320.5 479.5 1323.9 477.5 1320 476 1316.2 474.5Z" fill="#1f978b"/><path d="M1049.1 491.6 1045.6 491.7 1042 491.8 1045.7 492.2 1049.3 492.5 1052.9 492.4 1056.5 492.3 1052.8 491.9 1049.1 491.6Z" fill="#21908d"/><path d="M1193.5 488.4 1190 490.6 1186.5 492.6 1190.3 493.8 1194.1 494.8 1197.5 493.3 1201 491.3 1197.3 489.9 1193.5 488.4Z" fill="#21908d"/><path d="M1034.7 491.2 1031.1 491.3 1027.5 491.4 1031.2 491.7 1034.8 492 1038.4 491.9 1042 491.8 1038.3 491.5 1034.7 491.2Z" fill="#21908d"/><path d="M717.4 495.9 713.5 495.9 709.7 495.8 712.9 491.1 716.1 487.4 720 487.6 723.9 487.8 720.6 491.4 717.4 495.9Z" fill="#21908d"/><path d="M1330.7 473.6 1327.3 475.6 1323.9 477.5 1327.7 479 1331.6 480.5 1335 478.6 1338.4 476.7 1334.5 475.2 1330.7 473.6Z" fill="#1f978b"/><path d="M1020.3 490.8 1016.7 490.9 1013.1 490.9 1016.7 491.2 1020.4 491.5 1024 491.5 1027.5 491.4 1023.9 491.1 1020.3 490.8Z" fill="#21908d"/><path d="M1005.8 490.4 1002.2 490.4 998.6 490.4 1002.3 490.7 1005.9 491 1009.5 491 1013.1 490.9 1009.5 490.6 1005.8 490.4Z" fill="#21918c"/><path d="M1208 486.9 1204.5 489.1 1201 491.3 1204.8 492.6 1208.6 493.9 1212 492 1215.5 489.8 1211.8 488.4 1208 486.9Z" fill="#21918c"/><path d="M991.4 489.9 987.8 489.9 984.2 490 987.8 490.2 991.4 490.5 995 490.5 998.6 490.4 995 490.2 991.4 489.9Z" fill="#21918c"/><path d="M977 489.5 973.3 489.5 969.7 489.5 973.3 489.7 976.9 490 980.6 490 984.2 490 980.6 489.7 977 489.5Z" fill="#21918c"/><path d="M659.2 514.4 655.3 513.8 651.4 513.3 654.9 517.7 658.4 523 662.3 522.7 666.2 522.4 662.7 517.9 659.2 514.4Z" fill="#26828e"/><path d="M962.5 489 958.9 489 955.3 488.9 958.8 489.2 962.4 489.4 966.1 489.4 969.7 489.5 966.1 489.2 962.5 489Z" fill="#20928c"/><path d="M1222.5 485.4 1219 487.6 1215.5 489.8 1219.3 491.3 1223.1 492.7 1226.5 490.6 1230 488.4 1226.2 486.9 1222.5 485.4Z" fill="#20928c"/><path d="M948.1 488.6 944.4 488.5 940.8 488.4 944.4 488.6 947.9 488.9 951.6 488.9 955.3 488.9 951.7 488.7 948.1 488.6Z" fill="#20928c"/><path d="M933.7 488.1 930 488 926.3 487.9 929.9 488.1 933.5 488.3 937.1 488.4 940.8 488.4 937.2 488.2 933.7 488.1Z" fill="#20928c"/><path d="M644.8 514 640.8 512.9 644.1 512.2 647.5 512.9 651.4 513.3 648.1 513 644.8 514Z" fill="#25848e"/><path d="M1237 484.1 1233.5 486.2 1230 488.4 1233.8 489.9 1237.6 491.3 1241.1 489.2 1244.5 487 1240.7 485.6 1237 484.1Z" fill="#20928c"/><path d="M674 522 670.1 522.2 666.2 522.4 669.4 518.8 672.4 510.1 676.3 509.7 680.2 509.4 677.2 518.1 674 522Z" fill="#26828e"/><path d="M695.7 508.5 691.8 508.7 687.9 508.9 691 501.8 694.2 496 698.1 495.9 701.9 495.8 698.8 501.5 695.7 508.5Z" fill="#228b8d"/><path d="M919.2 487.6 915.5 487.4 911.9 487.3 915.4 487.5 919 487.7 922.7 487.8 926.3 487.9 922.8 487.7 919.2 487.6Z" fill="#20928c"/><path d="M904.8 487 901.1 486.8 897.4 486.6 900.9 486.8 904.5 487.1 908.2 487.2 911.9 487.3 908.3 487.1 904.8 487Z" fill="#20928c"/><path d="M1251.4 482.8 1248 484.9 1244.5 487 1248.3 488.5 1252.1 490 1255.6 487.9 1259 485.7 1255.2 484.3 1251.4 482.8Z" fill="#20938c"/><path d="M890.3 486.2 886.6 486 882.9 485.7 886.4 486 890 486.3 893.7 486.4 897.4 486.6 893.9 486.4 890.3 486.2Z" fill="#20938c"/><path d="M731.5 488.3 727.7 488 723.9 487.8 727.2 485.1 730.5 482.9 734.3 483.3 738.2 483.6 734.9 485.7 731.5 488.3Z" fill="#20938c"/><path d="M875.9 485.3 872.2 485 868.4 484.7 871.9 485 875.5 485.3 879.2 485.5 882.9 485.7 879.4 485.5 875.9 485.3Z" fill="#1f948c"/><path d="M1265.9 481.5 1262.5 483.6 1259 485.7 1262.8 487.2 1266.6 488.7 1270.1 486.6 1273.5 484.5 1269.7 483.1 1265.9 481.5Z" fill="#1f948c"/><path d="M861.4 484.4 857.7 484 853.9 483.6 857.5 483.9 861 484.2 864.7 484.4 868.4 484.7 864.9 484.5 861.4 484.4Z" fill="#1f948c"/><path d="M1280.4 480.4 1277 482.5 1273.5 484.5 1277.3 486 1281.2 487.5 1284.6 485.5 1288 483.4 1284.2 481.9 1280.4 480.4Z" fill="#1f958b"/><path d="M847 483.4 843.2 482.9 839.5 482.5 842.9 482.7 846.5 482.9 850.2 483.3 853.9 483.6 850.4 483.5 847 483.4Z" fill="#1f958b"/><path d="M1294.9 479.4 1291.5 481.4 1288 483.4 1291.9 484.9 1295.7 486.4 1299.1 484.4 1302.5 482.4 1298.7 480.9 1294.9 479.4Z" fill="#1f958b"/><path d="M745.9 484.4 742 484 738.2 483.6 741.5 481.8 744.9 480.3 748.8 480.8 752.6 481.2 749.2 482.7 745.9 484.4Z" fill="#1f968b"/><path d="M832.5 482.4 828.7 481.9 825 481.5 828.4 481.5 831.9 481.7 835.7 482.1 839.5 482.5 836 482.4 832.5 482.4Z" fill="#1f968b"/><path d="M1309.4 478.4 1306 480.4 1302.5 482.4 1306.4 483.9 1310.2 485.4 1313.6 483.4 1317.1 481.4 1313.2 479.9 1309.4 478.4Z" fill="#1f968b"/><path d="M818 481.7 814.3 481.1 810.5 480.6 813.9 480.5 817.4 480.5 821.2 481 825 481.5 821.5 481.5 818 481.7Z" fill="#1f978b"/><path d="M1323.9 477.5 1320.5 479.5 1317.1 481.4 1320.9 482.9 1324.7 484.4 1328.2 482.5 1331.6 480.5 1327.7 479 1323.9 477.5Z" fill="#1f978b"/><path d="M760.3 482.2 756.4 481.7 752.6 481.2 756 480 759.4 479 763.2 479.5 767 480 763.6 481 760.3 482.2Z" fill="#1f978b"/><path d="M1172.1 493.6 1168.6 494.5 1165.1 495 1168.9 495.5 1172.6 496 1176.1 495.6 1179.6 495 1175.8 494.4 1172.1 493.6Z" fill="#21908d"/><path d="M1157.6 493.9 1154.1 494.5 1150.6 494.9 1154.4 495.3 1158.1 495.8 1161.6 495.5 1165.1 495 1161.3 494.5 1157.6 493.9Z" fill="#21908d"/><path d="M1143.1 494 1139.7 494.4 1136.2 494.7 1139.9 495.1 1143.6 495.5 1147.1 495.2 1150.6 494.9 1146.9 494.4 1143.1 494Z" fill="#21908d"/><path d="M803.6 481.1 799.8 480.5 796 479.9 799.4 479.7 802.9 479.5 806.7 480 810.5 480.6 807 480.8 803.6 481.1Z" fill="#1f978b"/><path d="M1186.5 492.6 1183.1 494.2 1179.6 495 1183.3 495.6 1187.1 496.2 1190.6 495.6 1194.1 494.8 1190.3 493.8 1186.5 492.6Z" fill="#21908d"/><path d="M1338.4 476.7 1335 478.6 1331.6 480.5 1335.4 482 1339.3 483.5 1342.7 481.6 1346.1 479.7 1342.2 478.2 1338.4 476.7Z" fill="#1f988b"/><path d="M1128.7 493.8 1125.2 494.1 1121.7 494.4 1125.4 494.8 1129.1 495.2 1132.7 495 1136.2 494.7 1132.4 494.3 1128.7 493.8Z" fill="#21908d"/><path d="M774.7 481.1 770.9 480.6 767 480 770.4 479.2 773.9 478.6 777.7 479.1 781.5 479.7 778.1 480.3 774.7 481.1Z" fill="#1f988b"/><path d="M789.1 480.8 785.3 480.3 781.5 479.7 784.9 479.2 788.4 478.8 792.2 479.4 796 479.9 792.5 480.3 789.1 480.8Z" fill="#1f988b"/><path d="M1114.3 493.6 1110.7 493.9 1107.2 494.1 1110.9 494.5 1114.7 494.9 1118.2 494.7 1121.7 494.4 1118 494 1114.3 493.6Z" fill="#21918c"/><path d="M1201 491.3 1197.5 493.3 1194.1 494.8 1197.8 495.6 1201.6 496.2 1205.1 495.4 1208.6 493.9 1204.8 492.6 1201 491.3Z" fill="#21918c"/><path d="M1099.8 493.4 1096.3 493.6 1092.7 493.8 1096.4 494.1 1100.2 494.5 1103.7 494.3 1107.2 494.1 1103.5 493.7 1099.8 493.4Z" fill="#21918c"/><path d="M1085.4 493 1081.8 493.2 1078.3 493.4 1082 493.7 1085.7 494.1 1089.2 493.9 1092.7 493.8 1089 493.4 1085.4 493Z" fill="#21918c"/><path d="M1215.5 489.8 1212 492 1208.6 493.9 1212.3 495.1 1216.1 496 1219.6 494.6 1223.1 492.7 1219.3 491.3 1215.5 489.8Z" fill="#21918c"/><path d="M1070.9 492.7 1067.4 492.8 1063.8 493 1067.5 493.3 1071.2 493.7 1074.7 493.5 1078.3 493.4 1074.6 493 1070.9 492.7Z" fill="#21918c"/><path d="M1056.5 492.3 1052.9 492.4 1049.3 492.5 1053 492.9 1056.7 493.2 1060.2 493.1 1063.8 493 1060.1 492.6 1056.5 492.3Z" fill="#20928c"/><path d="M651.4 513.3 647.5 512.9 651 517.7 654.6 523.3 658.4 523 654.9 517.7 651.4 513.3Z" fill="#25838e"/><path d="M1042 491.8 1038.4 491.9 1034.8 492 1038.5 492.4 1042.2 492.8 1045.7 492.6 1049.3 492.5 1045.7 492.2 1042 491.8Z" fill="#20928c"/><path d="M1230 488.4 1226.5 490.6 1223.1 492.7 1226.9 494 1230.6 495.3 1234.1 493.4 1237.6 491.3 1233.8 489.9 1230 488.4Z" fill="#20928c"/><path d="M1027.5 491.4 1024 491.5 1020.4 491.5 1024 491.9 1027.7 492.3 1031.3 492.1 1034.8 492 1031.2 491.7 1027.5 491.4Z" fill="#20928c"/><path d="M709.7 495.8 705.8 495.8 701.9 495.8 705.1 490.9 708.4 487.1 712.3 487.2 716.1 487.4 712.9 491.1 709.7 495.8Z" fill="#20928c"/><path d="M1013.1 490.9 1009.5 491 1005.9 491 1009.5 491.4 1013.2 491.7 1016.8 491.6 1020.4 491.5 1016.7 491.2 1013.1 490.9Z" fill="#20928c"/><path d="M998.6 490.4 995 490.5 991.4 490.5 995 490.8 998.7 491.2 1002.3 491.1 1005.9 491 1002.3 490.7 998.6 490.4Z" fill="#20928c"/><path d="M1244.5 487 1241.1 489.2 1237.6 491.3 1241.4 492.7 1245.2 494.1 1248.6 492.1 1252.1 490 1248.3 488.5 1244.5 487Z" fill="#20928c"/><path d="M984.2 490 980.6 490 976.9 490 980.5 490.3 984.2 490.6 987.8 490.6 991.4 490.5 987.8 490.2 984.2 490Z" fill="#20938c"/><path d="M969.7 489.5 966.1 489.4 962.4 489.4 966 489.7 969.6 490 973.3 490 976.9 490 973.3 489.7 969.7 489.5Z" fill="#20938c"/><path d="M1259 485.7 1255.6 487.9 1252.1 490 1255.9 491.4 1259.7 492.8 1263.2 490.8 1266.6 488.7 1262.8 487.2 1259 485.7Z" fill="#20938c"/><path d="M955.3 488.9 951.6 488.9 947.9 488.9 951.5 489.2 955.1 489.5 958.8 489.4 962.4 489.4 958.8 489.2 955.3 488.9Z" fill="#20938c"/><path d="M940.8 488.4 937.1 488.4 933.5 488.3 937 488.6 940.6 488.8 944.3 488.9 947.9 488.9 944.4 488.6 940.8 488.4Z" fill="#1f948c"/><path d="M666.2 522.4 662.3 522.7 658.4 523 661.7 519.7 664.7 510.8 668.5 510.4 672.4 510.1 669.4 518.8 666.2 522.4Z" fill="#25858e"/><path d="M1273.5 484.5 1270.1 486.6 1266.6 488.7 1270.4 490.1 1274.3 491.6 1277.7 489.5 1281.2 487.5 1277.3 486 1273.5 484.5Z" fill="#1f948c"/><path d="M926.3 487.9 922.7 487.8 919 487.7 922.5 487.9 926.1 488.2 929.8 488.3 933.5 488.3 929.9 488.1 926.3 487.9Z" fill="#1f948c"/><path d="M687.9 508.9 684.1 509.2 680.2 509.4 683.3 502.2 686.4 496.2 690.3 496.1 694.2 496 691 501.8 687.9 508.9Z" fill="#228d8d"/><path d="M911.9 487.3 908.2 487.2 904.5 487.1 908 487.3 911.6 487.5 915.3 487.6 919 487.7 915.4 487.5 911.9 487.3Z" fill="#1f958b"/><path d="M1288 483.4 1284.6 485.5 1281.2 487.5 1285 489 1288.8 490.4 1292.3 488.4 1295.7 486.4 1291.9 484.9 1288 483.4Z" fill="#1f958b"/><path d="M897.4 486.6 893.7 486.4 890 486.3 893.5 486.6 897.1 486.9 900.8 487 904.5 487.1 900.9 486.8 897.4 486.6Z" fill="#1f958b"/><path d="M1346.1 479.7 1342.7 481.6 1339.3 483.5 1343.1 485 1346.5 483.1 1349.9 481.2 1346.1 479.7Z" fill="#1f988b"/><path d="M1302.5 482.4 1299.1 484.4 1295.7 486.4 1299.5 487.8 1303.4 489.3 1306.8 487.3 1310.2 485.4 1306.4 483.9 1302.5 482.4Z" fill="#1f968b"/><path d="M882.9 485.7 879.2 485.5 875.5 485.3 879 485.6 882.5 486 886.3 486.1 890 486.3 886.4 486 882.9 485.7Z" fill="#1f968b"/><path d="M723.9 487.8 720 487.6 716.1 487.4 719.4 484.6 722.8 482.4 726.6 482.6 730.5 482.9 727.2 485.1 723.9 487.8Z" fill="#1f978b"/><path d="M1317.1 481.4 1313.6 483.4 1310.2 485.4 1314.1 486.8 1317.9 488.3 1321.3 486.3 1324.7 484.4 1320.9 482.9 1317.1 481.4Z" fill="#1f978b"/><path d="M868.4 484.7 864.7 484.4 861 484.2 864.5 484.5 868 484.9 871.7 485.1 875.5 485.3 871.9 485 868.4 484.7Z" fill="#1f978b"/><path d="M1331.6 480.5 1328.2 482.5 1324.7 484.4 1328.6 485.9 1332.5 487.3 1335.9 485.4 1339.3 483.5 1335.4 482 1331.6 480.5Z" fill="#1f978b"/><path d="M853.9 483.6 850.2 483.3 846.5 482.9 850 483.3 853.5 483.6 857.2 483.9 861 484.2 857.5 483.9 853.9 483.6Z" fill="#1f988b"/><path d="M839.5 482.5 835.7 482.1 831.9 481.7 835.4 481.9 838.9 482.3 842.7 482.6 846.5 482.9 842.9 482.7 839.5 482.5Z" fill="#1f998a"/><path d="M1194.1 494.8 1190.6 495.6 1187.1 496.2 1190.9 496.7 1194.7 497.2 1198.2 496.8 1201.6 496.2 1197.8 495.6 1194.1 494.8Z" fill="#20928c"/><path d="M1179.6 495 1176.1 495.6 1172.6 496 1176.4 496.5 1180.2 497 1183.7 496.6 1187.1 496.2 1183.3 495.6 1179.6 495Z" fill="#20928c"/><path d="M738.2 483.6 734.3 483.3 730.5 482.9 733.8 481.1 737.2 479.5 741.1 479.9 744.9 480.3 741.5 481.8 738.2 483.6Z" fill="#1f998a"/><path d="M1208.6 493.9 1205.1 495.4 1201.6 496.2 1205.4 496.8 1209.2 497.4 1212.7 496.9 1216.1 496 1212.3 495.1 1208.6 493.9Z" fill="#20928c"/><path d="M1165.1 495 1161.6 495.5 1158.1 495.8 1161.9 496.3 1165.7 496.7 1169.2 496.4 1172.6 496 1168.9 495.5 1165.1 495Z" fill="#20928c"/><path d="M1150.6 494.9 1147.1 495.2 1143.6 495.5 1147.4 496 1151.2 496.4 1154.6 496.1 1158.1 495.8 1154.4 495.3 1150.6 494.9Z" fill="#20928c"/><path d="M825 481.5 821.2 481 817.4 480.5 820.9 480.7 824.4 480.9 828.2 481.3 831.9 481.7 828.4 481.5 825 481.5Z" fill="#1f9a8a"/><path d="M1223.1 492.7 1219.6 494.6 1216.1 496 1219.9 496.8 1223.7 497.5 1227.2 496.7 1230.6 495.3 1226.9 494 1223.1 492.7Z" fill="#20928c"/><path d="M1136.2 494.7 1132.7 495 1129.1 495.2 1132.9 495.6 1136.6 496.1 1140.1 495.8 1143.6 495.5 1139.9 495.1 1136.2 494.7Z" fill="#20928c"/><path d="M1121.7 494.4 1118.2 494.7 1114.7 494.9 1118.4 495.3 1122.1 495.7 1125.6 495.5 1129.1 495.2 1125.4 494.8 1121.7 494.4Z" fill="#20928c"/><path d="M1107.2 494.1 1103.7 494.3 1100.2 494.5 1103.9 494.9 1107.6 495.3 1111.1 495.1 1114.7 494.9 1110.9 494.5 1107.2 494.1Z" fill="#20928c"/><path d="M1237.6 491.3 1234.1 493.4 1230.6 495.3 1234.4 496.4 1238.3 497.4 1241.7 496 1245.2 494.1 1241.4 492.7 1237.6 491.3Z" fill="#20928c"/><path d="M810.5 480.6 806.7 480 802.9 479.5 806.4 479.5 809.8 479.6 813.6 480.1 817.4 480.5 813.9 480.5 810.5 480.6Z" fill="#1f9a8a"/><path d="M1092.7 493.8 1089.2 493.9 1085.7 494.1 1089.4 494.5 1093.1 494.9 1096.6 494.7 1100.2 494.5 1096.4 494.1 1092.7 493.8Z" fill="#20928c"/><path d="M752.6 481.2 748.8 480.8 744.9 480.3 748.3 479.1 751.7 478.1 755.5 478.5 759.4 479 756 480 752.6 481.2Z" fill="#1e9b8a"/><path d="M1078.3 493.4 1074.7 493.5 1071.2 493.7 1074.9 494.1 1078.6 494.5 1082.1 494.3 1085.7 494.1 1082 493.7 1078.3 493.4Z" fill="#20938c"/><path d="M796 479.9 792.2 479.4 788.4 478.8 791.8 478.6 795.3 478.5 799.1 479 802.9 479.5 799.4 479.7 796 479.9Z" fill="#1e9b8a"/><path d="M1063.8 493 1060.2 493.1 1056.7 493.2 1060.3 493.6 1064 494 1067.6 493.9 1071.2 493.7 1067.5 493.3 1063.8 493Z" fill="#20938c"/><path d="M1252.1 490 1248.6 492.1 1245.2 494.1 1249 495.4 1252.8 496.7 1256.3 494.8 1259.7 492.8 1255.9 491.4 1252.1 490Z" fill="#20938c"/><path d="M767 480 763.2 479.5 759.4 479 762.8 478.2 766.2 477.6 770 478.1 773.9 478.6 770.4 479.2 767 480Z" fill="#1e9b8a"/><path d="M781.5 479.7 777.7 479.1 773.9 478.6 777.3 478.1 780.7 477.8 784.6 478.3 788.4 478.8 784.9 479.2 781.5 479.7Z" fill="#1e9b8a"/><path d="M1049.3 492.5 1045.7 492.6 1042.2 492.8 1045.8 493.1 1049.5 493.5 1053.1 493.4 1056.7 493.2 1053 492.9 1049.3 492.5Z" fill="#20938c"/><path d="M658.4 523 654.6 523.3 657.8 520.1 660.8 511.2 664.7 510.8 661.7 519.7 658.4 523Z" fill="#24868e"/><path d="M1034.8 492 1031.3 492.1 1027.7 492.3 1031.3 492.6 1035 493 1038.6 492.9 1042.2 492.8 1038.5 492.4 1034.8 492Z" fill="#1f948c"/><path d="M1266.6 488.7 1263.2 490.8 1259.7 492.8 1263.5 494.2 1267.4 495.6 1270.8 493.6 1274.3 491.6 1270.4 490.1 1266.6 488.7Z" fill="#1f948c"/><path d="M1020.4 491.5 1016.8 491.6 1013.2 491.7 1016.8 492.1 1020.5 492.5 1024.1 492.4 1027.7 492.3 1024 491.9 1020.4 491.5Z" fill="#1f948c"/><path d="M1005.9 491 1002.3 491.1 998.7 491.2 1002.3 491.5 1005.9 491.9 1009.6 491.8 1013.2 491.7 1009.5 491.4 1005.9 491Z" fill="#1f948c"/><path d="M701.9 495.8 698.1 495.9 694.2 496 697.4 490.9 700.6 486.9 704.5 487 708.4 487.1 705.1 490.9 701.9 495.8Z" fill="#1f958b"/><path d="M1281.2 487.5 1277.7 489.5 1274.3 491.6 1278.1 493 1281.9 494.4 1285.4 492.4 1288.8 490.4 1285 489 1281.2 487.5Z" fill="#1f958b"/><path d="M991.4 490.5 987.8 490.6 984.2 490.6 987.8 491 991.4 491.3 995 491.3 998.7 491.2 995 490.8 991.4 490.5Z" fill="#1f958b"/><path d="M976.9 490 973.3 490 969.6 490 973.3 490.4 976.9 490.7 980.5 490.7 984.2 490.6 980.5 490.3 976.9 490Z" fill="#1f958b"/><path d="M1295.7 486.4 1292.3 488.4 1288.8 490.4 1292.6 491.8 1296.5 493.3 1299.9 491.3 1303.4 489.3 1299.5 487.8 1295.7 486.4Z" fill="#1f968b"/><path d="M1339.3 483.5 1335.9 485.4 1332.5 487.3 1336.3 488.8 1339.7 486.9 1343.1 485 1339.3 483.5Z" fill="#1f988b"/><path d="M962.4 489.4 958.8 489.4 955.1 489.5 958.7 489.8 962.3 490.1 966 490.1 969.6 490 966 489.7 962.4 489.4Z" fill="#1f968b"/><path d="M947.9 488.9 944.3 488.9 940.6 488.8 944.2 489.2 947.8 489.5 951.5 489.5 955.1 489.5 951.5 489.2 947.9 488.9Z" fill="#1f968b"/><path d="M1310.2 485.4 1306.8 487.3 1303.4 489.3 1307.2 490.7 1311.1 492.2 1314.5 490.2 1317.9 488.3 1314.1 486.8 1310.2 485.4Z" fill="#1f978b"/><path d="M933.5 488.3 929.8 488.3 926.1 488.2 929.7 488.5 933.3 488.8 936.9 488.8 940.6 488.8 937 488.6 933.5 488.3Z" fill="#1f978b"/><path d="M680.2 509.4 676.3 509.7 672.4 510.1 675.5 502.7 678.6 496.6 682.5 496.4 686.4 496.2 683.3 502.2 680.2 509.4Z" fill="#21908d"/><path d="M919 487.7 915.3 487.6 911.6 487.5 915.2 487.8 918.7 488.1 922.4 488.2 926.1 488.2 922.5 487.9 919 487.7Z" fill="#1f978b"/><path d="M1324.7 484.4 1321.3 486.3 1317.9 488.3 1321.8 489.7 1325.6 491.2 1329 489.3 1332.5 487.3 1328.6 485.9 1324.7 484.4Z" fill="#1f978b"/><path d="M904.5 487.1 900.8 487 897.1 486.9 900.6 487.1 904.2 487.4 907.9 487.5 911.6 487.5 908 487.3 904.5 487.1Z" fill="#1f988b"/><path d="M890 486.3 886.3 486.1 882.5 486 886.1 486.3 889.6 486.7 893.4 486.8 897.1 486.9 893.5 486.6 890 486.3Z" fill="#1f988b"/><path d="M875.5 485.3 871.7 485.1 868 484.9 871.5 485.3 875.1 485.7 878.8 485.8 882.5 486 879 485.6 875.5 485.3Z" fill="#1f998a"/><path d="M716.1 487.4 712.3 487.2 708.4 487.1 711.7 484.2 715 481.8 718.9 482.1 722.8 482.4 719.4 484.6 716.1 487.4Z" fill="#1f9a8a"/><path d="M861 484.2 857.2 483.9 853.5 483.6 857 484.1 860.5 484.5 864.3 484.7 868 484.9 864.5 484.5 861 484.2Z" fill="#1f9a8a"/><path d="M846.5 482.9 842.7 482.6 838.9 482.3 842.4 482.7 846 483.1 849.7 483.4 853.5 483.6 850 483.3 846.5 482.9Z" fill="#1e9b8a"/><path d="M1216.1 496 1212.7 496.9 1209.2 497.4 1213 498 1216.8 498.5 1220.3 498.1 1223.7 497.5 1219.9 496.8 1216.1 496Z" fill="#20938c"/><path d="M1201.6 496.2 1198.2 496.8 1194.7 497.2 1198.5 497.8 1202.3 498.3 1205.8 497.9 1209.2 497.4 1205.4 496.8 1201.6 496.2Z" fill="#20938c"/><path d="M1230.6 495.3 1227.2 496.7 1223.7 497.5 1227.5 498.1 1231.4 498.7 1234.8 498.2 1238.3 497.4 1234.4 496.4 1230.6 495.3Z" fill="#20938c"/><path d="M1187.1 496.2 1183.7 496.6 1180.2 497 1184 497.5 1187.8 498 1191.2 497.6 1194.7 497.2 1190.9 496.7 1187.1 496.2Z" fill="#20938c"/><path d="M1172.6 496 1169.2 496.4 1165.7 496.7 1169.4 497.2 1173.2 497.7 1176.7 497.3 1180.2 497 1176.4 496.5 1172.6 496Z" fill="#20938c"/><path d="M1245.2 494.1 1241.7 496 1238.3 497.4 1242.1 498.1 1245.9 498.8 1249.3 498.1 1252.8 496.7 1249 495.4 1245.2 494.1Z" fill="#20938c"/><path d="M1158.1 495.8 1154.6 496.1 1151.2 496.4 1154.9 496.9 1158.7 497.3 1162.2 497 1165.7 496.7 1161.9 496.3 1158.1 495.8Z" fill="#20938c"/><path d="M1143.6 495.5 1140.1 495.8 1136.6 496.1 1140.4 496.5 1144.1 497 1147.6 496.7 1151.2 496.4 1147.4 496 1143.6 495.5Z" fill="#1f948c"/><path d="M831.9 481.7 828.2 481.3 824.4 480.9 827.9 481.2 831.4 481.7 835.2 482 838.9 482.3 835.4 481.9 831.9 481.7Z" fill="#1e9c89"/><path d="M1259.7 492.8 1256.3 494.8 1252.8 496.7 1256.6 497.8 1260.5 498.8 1263.9 497.5 1267.4 495.6 1263.5 494.2 1259.7 492.8Z" fill="#1f948c"/><path d="M1129.1 495.2 1125.6 495.5 1122.1 495.7 1125.9 496.2 1129.6 496.6 1133.1 496.3 1136.6 496.1 1132.9 495.6 1129.1 495.2Z" fill="#1f948c"/><path d="M1114.7 494.9 1111.1 495.1 1107.6 495.3 1111.3 495.8 1115.1 496.2 1118.6 496 1122.1 495.7 1118.4 495.3 1114.7 494.9Z" fill="#1f948c"/><path d="M730.5 482.9 726.6 482.6 722.8 482.4 726.1 480.4 729.5 478.8 733.3 479.2 737.2 479.5 733.8 481.1 730.5 482.9Z" fill="#1e9c89"/><path d="M1100.2 494.5 1096.6 494.7 1093.1 494.9 1096.8 495.4 1100.5 495.8 1104.1 495.6 1107.6 495.3 1103.9 494.9 1100.2 494.5Z" fill="#1f948c"/><path d="M1274.3 491.6 1270.8 493.6 1267.4 495.6 1271.2 496.9 1275 498.2 1278.5 496.4 1281.9 494.4 1278.1 493 1274.3 491.6Z" fill="#1f958b"/><path d="M817.4 480.5 813.6 480.1 809.8 479.6 813.3 479.8 816.8 480.2 820.6 480.5 824.4 480.9 820.9 480.7 817.4 480.5Z" fill="#1e9d89"/><path d="M1085.7 494.1 1082.1 494.3 1078.6 494.5 1082.3 494.9 1086 495.3 1089.5 495.1 1093.1 494.9 1089.4 494.5 1085.7 494.1Z" fill="#1f958b"/><path d="M1071.2 493.7 1067.6 493.9 1064 494 1067.7 494.5 1071.4 494.9 1075 494.7 1078.6 494.5 1074.9 494.1 1071.2 493.7Z" fill="#1f958b"/><path d="M1288.8 490.4 1285.4 492.4 1281.9 494.4 1285.8 495.8 1289.6 497.2 1293 495.2 1296.5 493.3 1292.6 491.8 1288.8 490.4Z" fill="#1f958b"/><path d="M1056.7 493.2 1053.1 493.4 1049.5 493.5 1053.2 494 1056.9 494.4 1060.5 494.2 1064 494 1060.3 493.6 1056.7 493.2Z" fill="#1f958b"/><path d="M802.9 479.5 799.1 479 795.3 478.5 798.7 478.6 802.2 478.8 806 479.2 809.8 479.6 806.4 479.5 802.9 479.5Z" fill="#1f9e89"/><path d="M1332.5 487.3 1329 489.3 1325.6 491.2 1329.5 492.6 1332.9 490.7 1336.3 488.8 1332.5 487.3Z" fill="#1f988b"/><path d="M1042.2 492.8 1038.6 492.9 1035 493 1038.7 493.4 1042.3 493.9 1045.9 493.7 1049.5 493.5 1045.8 493.1 1042.2 492.8Z" fill="#1f968b"/><path d="M744.9 480.3 741.1 479.9 737.2 479.5 740.6 478.2 744 477.2 747.8 477.6 751.7 478.1 748.3 479.1 744.9 480.3Z" fill="#1f9e89"/><path d="M1027.7 492.3 1024.1 492.4 1020.5 492.5 1024.1 492.9 1027.8 493.3 1031.4 493.2 1035 493 1031.3 492.6 1027.7 492.3Z" fill="#1f968b"/><path d="M1303.4 489.3 1299.9 491.3 1296.5 493.3 1300.3 494.7 1304.2 496.1 1307.6 494.1 1311.1 492.2 1307.2 490.7 1303.4 489.3Z" fill="#1f968b"/><path d="M788.4 478.8 784.6 478.3 780.7 477.8 784.2 477.6 787.6 477.6 791.5 478.1 795.3 478.5 791.8 478.6 788.4 478.8Z" fill="#1f9f88"/><path d="M759.4 479 755.5 478.5 751.7 478.1 755.1 477.2 758.5 476.6 762.4 477.1 766.2 477.6 762.8 478.2 759.4 479Z" fill="#1f9f88"/><path d="M773.9 478.6 770 478.1 766.2 477.6 769.6 477.1 773.1 476.8 776.9 477.3 780.7 477.8 777.3 478.1 773.9 478.6Z" fill="#1f9f88"/><path d="M1013.2 491.7 1009.6 491.8 1005.9 491.9 1009.6 492.3 1013.2 492.7 1016.9 492.6 1020.5 492.5 1016.8 492.1 1013.2 491.7Z" fill="#1f978b"/><path d="M1317.9 488.3 1314.5 490.2 1311.1 492.2 1314.9 493.6 1318.8 495 1322.2 493.1 1325.6 491.2 1321.8 489.7 1317.9 488.3Z" fill="#1f978b"/><path d="M998.7 491.2 995 491.3 991.4 491.3 995 491.7 998.7 492.1 1002.3 492 1005.9 491.9 1002.3 491.5 998.7 491.2Z" fill="#1f978b"/><path d="M694.2 496 690.3 496.1 686.4 496.2 689.6 490.9 692.8 486.8 696.7 486.8 700.6 486.9 697.4 490.9 694.2 496Z" fill="#1f978b"/><path d="M984.2 490.6 980.5 490.7 976.9 490.7 980.5 491.1 984.1 491.5 987.8 491.4 991.4 491.3 987.8 491 984.2 490.6Z" fill="#1f988b"/><path d="M969.6 490 966 490.1 962.3 490.1 966 490.5 969.6 490.9 973.2 490.8 976.9 490.7 973.3 490.4 969.6 490Z" fill="#1f988b"/><path d="M955.1 489.5 951.5 489.5 947.8 489.5 951.4 489.8 955 490.2 958.7 490.2 962.3 490.1 958.7 489.8 955.1 489.5Z" fill="#1f988b"/><path d="M940.6 488.8 936.9 488.8 933.3 488.8 936.9 489.2 940.4 489.5 944.1 489.5 947.8 489.5 944.2 489.2 940.6 488.8Z" fill="#1f998a"/><path d="M672.4 510.1 668.5 510.4 664.7 510.8 667.7 503.3 670.8 497 674.7 496.8 678.6 496.6 675.5 502.7 672.4 510.1Z" fill="#20928c"/><path d="M926.1 488.2 922.4 488.2 918.7 488.1 922.3 488.5 925.9 488.8 929.6 488.8 933.3 488.8 929.7 488.5 926.1 488.2Z" fill="#1f998a"/><path d="M911.6 487.5 907.9 487.5 904.2 487.4 907.7 487.7 911.3 488.1 915 488.1 918.7 488.1 915.2 487.8 911.6 487.5Z" fill="#1f9a8a"/><path d="M897.1 486.9 893.4 486.8 889.6 486.7 893.2 487 896.7 487.3 900.5 487.4 904.2 487.4 900.6 487.1 897.1 486.9Z" fill="#1e9b8a"/><path d="M882.5 486 878.8 485.8 875.1 485.7 878.6 486.1 882.2 486.5 885.9 486.6 889.6 486.7 886.1 486.3 882.5 486Z" fill="#1e9b8a"/><path d="M868 484.9 864.3 484.7 860.5 484.5 864.1 485 867.6 485.5 871.3 485.6 875.1 485.7 871.5 485.3 868 484.9Z" fill="#1e9c89"/><path d="M708.4 487.1 704.5 487 700.6 486.9 703.9 483.9 707.2 481.4 711.1 481.6 715 481.8 711.7 484.2 708.4 487.1Z" fill="#1e9d89"/><path d="M1238.3 497.4 1234.8 498.2 1231.4 498.7 1235.2 499.3 1239 499.9 1242.5 499.4 1245.9 498.8 1242.1 498.1 1238.3 497.4Z" fill="#1f948c"/><path d="M1252.8 496.7 1249.3 498.1 1245.9 498.8 1249.7 499.5 1253.6 500.1 1257 499.5 1260.5 498.8 1256.6 497.8 1252.8 496.7Z" fill="#1f958b"/><path d="M1223.7 497.5 1220.3 498.1 1216.8 498.5 1220.7 499.1 1224.5 499.6 1227.9 499.2 1231.4 498.7 1227.5 498.1 1223.7 497.5Z" fill="#1f958b"/><path d="M853.5 483.6 849.7 483.4 846 483.1 849.5 483.6 853 484.2 856.8 484.3 860.5 484.5 857 484.1 853.5 483.6Z" fill="#1e9d89"/><path d="M1209.2 497.4 1205.8 497.9 1202.3 498.3 1206.1 498.8 1209.9 499.3 1213.4 498.9 1216.8 498.5 1213 498 1209.2 497.4Z" fill="#1f958b"/><path d="M1267.4 495.6 1263.9 497.5 1260.5 498.8 1264.3 499.6 1268.2 500.3 1271.6 499.5 1275 498.2 1271.2 496.9 1267.4 495.6Z" fill="#1f958b"/><path d="M1194.7 497.2 1191.2 497.6 1187.8 498 1191.6 498.5 1195.4 499 1198.8 498.7 1202.3 498.3 1198.5 497.8 1194.7 497.2Z" fill="#1f958b"/><path d="M1180.2 497 1176.7 497.3 1173.2 497.7 1177 498.2 1180.8 498.7 1184.3 498.3 1187.8 498 1184 497.5 1180.2 497Z" fill="#1f958b"/><path d="M1281.9 494.4 1278.5 496.4 1275 498.2 1278.9 499.3 1282.7 500.3 1286.2 499 1289.6 497.2 1285.8 495.8 1281.9 494.4Z" fill="#1f958b"/><path d="M1165.7 496.7 1162.2 497 1158.7 497.3 1162.5 497.8 1166.2 498.3 1169.7 498 1173.2 497.7 1169.4 497.2 1165.7 496.7Z" fill="#1f958b"/><path d="M1325.6 491.2 1322.2 493.1 1318.8 495 1322.6 496.4 1326.1 494.5 1329.5 492.6 1325.6 491.2Z" fill="#1f978b"/><path d="M1151.2 496.4 1147.6 496.7 1144.1 497 1147.9 497.5 1151.7 497.9 1155.2 497.6 1158.7 497.3 1154.9 496.9 1151.2 496.4Z" fill="#1f968b"/><path d="M838.9 482.3 835.2 482 831.4 481.7 834.9 482.1 838.4 482.7 842.2 482.9 846 483.1 842.4 482.7 838.9 482.3Z" fill="#1f9e89"/><path d="M1136.6 496.1 1133.1 496.3 1129.6 496.6 1133.4 497.1 1137.1 497.6 1140.6 497.3 1144.1 497 1140.4 496.5 1136.6 496.1Z" fill="#1f968b"/><path d="M1296.5 493.3 1293 495.2 1289.6 497.2 1293.4 498.5 1297.3 499.8 1300.7 498 1304.2 496.1 1300.3 494.7 1296.5 493.3Z" fill="#1f968b"/><path d="M1122.1 495.7 1118.6 496 1115.1 496.2 1118.8 496.7 1122.5 497.1 1126.1 496.9 1129.6 496.6 1125.9 496.2 1122.1 495.7Z" fill="#1f968b"/><path d="M1107.6 495.3 1104.1 495.6 1100.5 495.8 1104.2 496.2 1108 496.7 1111.5 496.5 1115.1 496.2 1111.3 495.8 1107.6 495.3Z" fill="#1f978b"/><path d="M1093.1 494.9 1089.5 495.1 1086 495.3 1089.7 495.8 1093.4 496.3 1097 496 1100.5 495.8 1096.8 495.4 1093.1 494.9Z" fill="#1f978b"/><path d="M1311.1 492.2 1307.6 494.1 1304.2 496.1 1308 497.5 1311.9 498.8 1315.3 496.9 1318.8 495 1314.9 493.6 1311.1 492.2Z" fill="#1f978b"/><path d="M824.4 480.9 820.6 480.5 816.8 480.2 820.3 480.6 823.8 481.1 827.6 481.4 831.4 481.7 827.9 481.2 824.4 480.9Z" fill="#1f9f88"/><path d="M1078.6 494.5 1075 494.7 1071.4 494.9 1075.1 495.3 1078.8 495.8 1082.4 495.6 1086 495.3 1082.3 494.9 1078.6 494.5Z" fill="#1f978b"/><path d="M722.8 482.4 718.9 482.1 715 481.8 718.3 479.8 721.7 478.1 725.6 478.5 729.5 478.8 726.1 480.4 722.8 482.4Z" fill="#1fa088"/><path d="M1064 494 1060.5 494.2 1056.9 494.4 1060.6 494.8 1064.3 495.3 1067.9 495.1 1071.4 494.9 1067.7 494.5 1064 494Z" fill="#1f988b"/><path d="M1049.5 493.5 1045.9 493.7 1042.3 493.9 1046 494.3 1049.7 494.7 1053.3 494.6 1056.9 494.4 1053.2 494 1049.5 493.5Z" fill="#1f988b"/><path d="M809.8 479.6 806 479.2 802.2 478.8 805.7 479.1 809.2 479.5 813 479.8 816.8 480.2 813.3 479.8 809.8 479.6Z" fill="#1fa088"/><path d="M1035 493 1031.4 493.2 1027.8 493.3 1031.5 493.7 1035.1 494.2 1038.7 494 1042.3 493.9 1038.7 493.4 1035 493Z" fill="#1f988b"/><path d="M1020.5 492.5 1016.9 492.6 1013.2 492.7 1016.9 493.2 1020.6 493.6 1024.2 493.5 1027.8 493.3 1024.1 492.9 1020.5 492.5Z" fill="#1f998a"/><path d="M664.7 510.8 660.8 511.2 663.8 503.7 666.9 497.3 670.8 497 667.7 503.3 664.7 510.8Z" fill="#20938c"/><path d="M795.3 478.5 791.5 478.1 787.6 477.6 791.1 477.7 794.6 478 798.4 478.4 802.2 478.8 798.7 478.6 795.3 478.5Z" fill="#1fa188"/><path d="M737.2 479.5 733.3 479.2 729.5 478.8 732.8 477.5 736.2 476.4 740.1 476.8 744 477.2 740.6 478.2 737.2 479.5Z" fill="#1fa188"/><path d="M1005.9 491.9 1002.3 492 998.7 492.1 1002.3 492.6 1006 493 1009.6 492.9 1013.2 492.7 1009.6 492.3 1005.9 491.9Z" fill="#1f998a"/><path d="M991.4 491.3 987.8 491.4 984.1 491.5 987.8 491.9 991.4 492.4 995 492.2 998.7 492.1 995 491.7 991.4 491.3Z" fill="#1f9a8a"/><path d="M780.7 477.8 776.9 477.3 773.1 476.8 776.5 476.7 780 476.7 783.8 477.2 787.6 477.6 784.2 477.6 780.7 477.8Z" fill="#1fa187"/><path d="M686.4 496.2 682.5 496.4 678.6 496.6 681.8 491.1 685 486.8 688.9 486.8 692.8 486.8 689.6 490.9 686.4 496.2Z" fill="#1f9a8a"/><path d="M751.7 478.1 747.8 477.6 744 477.2 747.4 476.3 750.8 475.7 754.6 476.2 758.5 476.6 755.1 477.2 751.7 478.1Z" fill="#1fa187"/><path d="M766.2 477.6 762.4 477.1 758.5 476.6 761.9 476.2 765.4 475.9 769.2 476.4 773.1 476.8 769.6 477.1 766.2 477.6Z" fill="#1fa187"/><path d="M976.9 490.7 973.2 490.8 969.6 490.9 973.2 491.3 976.8 491.7 980.5 491.6 984.1 491.5 980.5 491.1 976.9 490.7Z" fill="#1f9a8a"/><path d="M962.3 490.1 958.7 490.2 955 490.2 958.6 490.6 962.2 491 965.9 491 969.6 490.9 966 490.5 962.3 490.1Z" fill="#1e9b8a"/><path d="M947.8 489.5 944.1 489.5 940.4 489.5 944 489.9 947.7 490.3 951.3 490.3 955 490.2 951.4 489.8 947.8 489.5Z" fill="#1e9b8a"/><path d="M933.3 488.8 929.6 488.8 925.9 488.8 929.5 489.2 933.1 489.6 936.8 489.6 940.4 489.5 936.9 489.2 933.3 488.8Z" fill="#1e9c89"/><path d="M918.7 488.1 915 488.1 911.3 488.1 914.9 488.5 918.5 488.9 922.2 488.8 925.9 488.8 922.3 488.5 918.7 488.1Z" fill="#1e9c89"/><path d="M904.2 487.4 900.5 487.4 896.7 487.3 900.3 487.7 903.9 488.1 907.6 488.1 911.3 488.1 907.7 487.7 904.2 487.4Z" fill="#1e9d89"/><path d="M889.6 486.7 885.9 486.6 882.2 486.5 885.7 486.9 889.3 487.3 893 487.3 896.7 487.3 893.2 487 889.6 486.7Z" fill="#1e9d89"/><path d="M1318.8 495 1315.3 496.9 1311.9 498.8 1315.8 500.2 1319.2 498.3 1322.6 496.4 1318.8 495Z" fill="#1f978b"/><path d="M875.1 485.7 871.3 485.6 867.6 485.5 871.1 485.9 874.7 486.4 878.4 486.4 882.2 486.5 878.6 486.1 875.1 485.7Z" fill="#1f9e89"/><path d="M1260.5 498.8 1257 499.5 1253.6 500.1 1257.4 500.7 1261.3 501.4 1264.7 500.9 1268.2 500.3 1264.3 499.6 1260.5 498.8Z" fill="#1f968b"/><path d="M1275 498.2 1271.6 499.5 1268.2 500.3 1272 501 1275.9 501.6 1279.3 501 1282.7 500.3 1278.9 499.3 1275 498.2Z" fill="#1f968b"/><path d="M1245.9 498.8 1242.5 499.4 1239 499.9 1242.9 500.5 1246.7 501.1 1250.2 500.6 1253.6 500.1 1249.7 499.5 1245.9 498.8Z" fill="#1f968b"/><path d="M1289.6 497.2 1286.2 499 1282.7 500.3 1286.6 501.1 1290.5 501.8 1293.9 501 1297.3 499.8 1293.4 498.5 1289.6 497.2Z" fill="#1f968b"/><path d="M1231.4 498.7 1227.9 499.2 1224.5 499.6 1228.3 500.2 1232.1 500.8 1235.6 500.3 1239 499.9 1235.2 499.3 1231.4 498.7Z" fill="#1f968b"/><path d="M1216.8 498.5 1213.4 498.9 1209.9 499.3 1213.7 499.9 1217.6 500.4 1221 500 1224.5 499.6 1220.7 499.1 1216.8 498.5Z" fill="#1f978b"/><path d="M860.5 484.5 856.8 484.3 853 484.2 856.5 484.7 860.1 485.3 863.8 485.4 867.6 485.5 864.1 485 860.5 484.5Z" fill="#1f9f88"/><path d="M1304.2 496.1 1300.7 498 1297.3 499.8 1301.2 500.9 1305.1 501.8 1308.5 500.6 1311.9 498.8 1308 497.5 1304.2 496.1Z" fill="#1f978b"/><path d="M1202.3 498.3 1198.8 498.7 1195.4 499 1199.2 499.6 1203 500.1 1206.4 499.7 1209.9 499.3 1206.1 498.8 1202.3 498.3Z" fill="#1f978b"/><path d="M1187.8 498 1184.3 498.3 1180.8 498.7 1184.6 499.2 1188.4 499.7 1191.9 499.4 1195.4 499 1191.6 498.5 1187.8 498Z" fill="#1f978b"/><path d="M700.6 486.9 696.7 486.8 692.8 486.8 696.1 483.6 699.4 481.1 703.3 481.3 707.2 481.4 703.9 483.9 700.6 486.9Z" fill="#1fa088"/><path d="M1173.2 497.7 1169.7 498 1166.2 498.3 1170 498.8 1173.8 499.4 1177.3 499 1180.8 498.7 1177 498.2 1173.2 497.7Z" fill="#1f978b"/><path d="M1158.7 497.3 1155.2 497.6 1151.7 497.9 1155.4 498.5 1159.2 499 1162.7 498.6 1166.2 498.3 1162.5 497.8 1158.7 497.3Z" fill="#1f988b"/><path d="M846 483.1 842.2 482.9 838.4 482.7 841.9 483.3 845.5 483.9 849.2 484 853 484.2 849.5 483.6 846 483.1Z" fill="#1fa088"/><path d="M1144.1 497 1140.6 497.3 1137.1 497.6 1140.9 498 1144.6 498.6 1148.2 498.3 1151.7 497.9 1147.9 497.5 1144.1 497Z" fill="#1f988b"/><path d="M1129.6 496.6 1126.1 496.9 1122.5 497.1 1126.3 497.6 1130.1 498.1 1133.6 497.8 1137.1 497.6 1133.4 497.1 1129.6 496.6Z" fill="#1f988b"/><path d="M1115.1 496.2 1111.5 496.5 1108 496.7 1111.7 497.2 1115.5 497.7 1119 497.4 1122.5 497.1 1118.8 496.7 1115.1 496.2Z" fill="#1f998a"/><path d="M1100.5 495.8 1097 496 1093.4 496.3 1097.1 496.7 1100.9 497.2 1104.4 497 1108 496.7 1104.2 496.2 1100.5 495.8Z" fill="#1f998a"/><path d="M831.4 481.7 827.6 481.4 823.8 481.1 827.3 481.6 830.8 482.2 834.6 482.5 838.4 482.7 834.9 482.1 831.4 481.7Z" fill="#1fa188"/><path d="M1086 495.3 1082.4 495.6 1078.8 495.8 1082.6 496.2 1086.3 496.7 1089.9 496.5 1093.4 496.3 1089.7 495.8 1086 495.3Z" fill="#1f998a"/><path d="M1071.4 494.9 1067.9 495.1 1064.3 495.3 1068 495.7 1071.7 496.2 1075.3 496 1078.8 495.8 1075.1 495.3 1071.4 494.9Z" fill="#1f9a8a"/><path d="M1056.9 494.4 1053.3 494.6 1049.7 494.7 1053.4 495.2 1057.1 495.7 1060.7 495.5 1064.3 495.3 1060.6 494.8 1056.9 494.4Z" fill="#1f9a8a"/><path d="M816.8 480.2 813 479.8 809.2 479.5 812.7 480 816.2 480.5 820 480.8 823.8 481.1 820.3 480.6 816.8 480.2Z" fill="#1fa187"/><path d="M1042.3 493.9 1038.7 494 1035.1 494.2 1038.8 494.6 1042.5 495.1 1046.1 494.9 1049.7 494.7 1046 494.3 1042.3 493.9Z" fill="#1f9a8a"/><path d="M715 481.8 711.1 481.6 707.2 481.4 710.6 479.3 713.9 477.6 717.8 477.8 721.7 478.1 718.3 479.8 715 481.8Z" fill="#1fa287"/><path d="M1027.8 493.3 1024.2 493.5 1020.6 493.6 1024.2 494.1 1027.9 494.5 1031.5 494.4 1035.1 494.2 1031.5 493.7 1027.8 493.3Z" fill="#1e9b8a"/><path d="M802.2 478.8 798.4 478.4 794.6 478 798.1 478.3 801.6 478.8 805.4 479.1 809.2 479.5 805.7 479.1 802.2 478.8Z" fill="#20a386"/><path d="M1013.2 492.7 1009.6 492.9 1006 493 1009.6 493.5 1013.3 493.9 1016.9 493.8 1020.6 493.6 1016.9 493.2 1013.2 492.7Z" fill="#1e9b8a"/><path d="M998.7 492.1 995 492.2 991.4 492.4 995.1 492.8 998.7 493.3 1002.3 493.1 1006 493 1002.3 492.6 998.7 492.1Z" fill="#1e9c89"/><path d="M984.1 491.5 980.5 491.6 976.8 491.7 980.5 492.2 984.1 492.6 987.8 492.5 991.4 492.4 987.8 491.9 984.1 491.5Z" fill="#1e9c89"/><path d="M787.6 477.6 783.8 477.2 780 476.7 783.4 476.9 786.9 477.2 790.8 477.6 794.6 478 791.1 477.7 787.6 477.6Z" fill="#20a486"/><path d="M729.5 478.8 725.6 478.5 721.7 478.1 725.1 476.7 728.5 475.6 732.3 476 736.2 476.4 732.8 477.5 729.5 478.8Z" fill="#20a486"/><path d="M678.6 496.6 674.7 496.8 670.8 497 674 491.3 677.2 486.9 681.1 486.8 685 486.8 681.8 491.1 678.6 496.6Z" fill="#1e9d89"/><path d="M969.6 490.9 965.9 491 962.2 491 965.9 491.5 969.5 491.9 973.2 491.8 976.8 491.7 973.2 491.3 969.6 490.9Z" fill="#1e9d89"/><path d="M773.1 476.8 769.2 476.4 765.4 475.9 768.8 475.8 772.3 475.9 776.1 476.3 780 476.7 776.5 476.7 773.1 476.8Z" fill="#20a486"/><path d="M955 490.2 951.3 490.3 947.7 490.3 951.3 490.8 954.9 491.2 958.6 491.1 962.2 491 958.6 490.6 955 490.2Z" fill="#1e9d89"/><path d="M744 477.2 740.1 476.8 736.2 476.4 739.6 475.5 743 474.9 746.9 475.3 750.8 475.7 747.4 476.3 744 477.2Z" fill="#21a585"/><path d="M758.5 476.6 754.6 476.2 750.8 475.7 754.2 475.3 757.7 475 761.5 475.4 765.4 475.9 761.9 476.2 758.5 476.6Z" fill="#21a585"/><path d="M1311.9 498.8 1308.5 500.6 1305.1 501.8 1308.9 502.6 1312.4 501.7 1315.8 500.2 1311.9 498.8Z" fill="#1f988b"/><path d="M940.4 489.5 936.8 489.6 933.1 489.6 936.7 490 940.3 490.5 944 490.4 947.7 490.3 944 489.9 940.4 489.5Z" fill="#1f9e89"/><path d="M925.9 488.8 922.2 488.8 918.5 488.9 922.1 489.3 925.7 489.7 929.4 489.7 933.1 489.6 929.5 489.2 925.9 488.8Z" fill="#1f9e89"/><path d="M911.3 488.1 907.6 488.1 903.9 488.1 907.5 488.5 911 488.9 914.8 488.9 918.5 488.9 914.9 488.5 911.3 488.1Z" fill="#1f9f88"/><path d="M896.7 487.3 893 487.3 889.3 487.3 892.9 487.7 896.4 488.1 900.2 488.1 903.9 488.1 900.3 487.7 896.7 487.3Z" fill="#1fa088"/><path d="M1297.3 499.8 1293.9 501 1290.5 501.8 1294.3 502.5 1298.2 503.2 1301.6 502.6 1305.1 501.8 1301.2 500.9 1297.3 499.8Z" fill="#1f988b"/><path d="M1282.7 500.3 1279.3 501 1275.9 501.6 1279.8 502.3 1283.6 502.9 1287.1 502.4 1290.5 501.8 1286.6 501.1 1282.7 500.3Z" fill="#1f988b"/><path d="M1268.2 500.3 1264.7 500.9 1261.3 501.4 1265.2 502 1269 502.6 1272.5 502.1 1275.9 501.6 1272 501 1268.2 500.3Z" fill="#1f988b"/><path d="M882.2 486.5 878.4 486.4 874.7 486.4 878.2 486.8 881.8 487.2 885.5 487.2 889.3 487.3 885.7 486.9 882.2 486.5Z" fill="#1fa088"/><path d="M1253.6 500.1 1250.2 500.6 1246.7 501.1 1250.6 501.7 1254.4 502.3 1257.9 501.8 1261.3 501.4 1257.4 500.7 1253.6 500.1Z" fill="#1f988b"/><path d="M1239 499.9 1235.6 500.3 1232.1 500.8 1236 501.3 1239.8 501.9 1243.3 501.5 1246.7 501.1 1242.9 500.5 1239 499.9Z" fill="#1f988b"/><path d="M1224.5 499.6 1221 500 1217.6 500.4 1221.4 501 1225.2 501.6 1228.7 501.2 1232.1 500.8 1228.3 500.2 1224.5 499.6Z" fill="#1f998a"/><path d="M867.6 485.5 863.8 485.4 860.1 485.3 863.6 485.8 867.2 486.3 870.9 486.3 874.7 486.4 871.1 485.9 867.6 485.5Z" fill="#1fa188"/><path d="M1209.9 499.3 1206.4 499.7 1203 500.1 1206.8 500.7 1210.6 501.2 1214.1 500.8 1217.6 500.4 1213.7 499.9 1209.9 499.3Z" fill="#1f998a"/><path d="M1195.4 499 1191.9 499.4 1188.4 499.7 1192.2 500.3 1196 500.8 1199.5 500.5 1203 500.1 1199.2 499.6 1195.4 499Z" fill="#1f998a"/><path d="M1180.8 498.7 1177.3 499 1173.8 499.4 1177.6 499.9 1181.4 500.4 1184.9 500.1 1188.4 499.7 1184.6 499.2 1180.8 498.7Z" fill="#1f998a"/><path d="M853 484.2 849.2 484 845.5 483.9 849 484.5 852.5 485.1 856.3 485.2 860.1 485.3 856.5 484.7 853 484.2Z" fill="#1fa187"/><path d="M1166.2 498.3 1162.7 498.6 1159.2 499 1163 499.5 1166.8 500 1170.3 499.7 1173.8 499.4 1170 498.8 1166.2 498.3Z" fill="#1f9a8a"/><path d="M1151.7 497.9 1148.2 498.3 1144.6 498.6 1148.4 499.1 1152.2 499.6 1155.7 499.3 1159.2 499 1155.4 498.5 1151.7 497.9Z" fill="#1f9a8a"/><path d="M692.8 486.8 688.9 486.8 685 486.8 688.3 483.5 691.6 480.9 695.5 481 699.4 481.1 696.1 483.6 692.8 486.8Z" fill="#1fa187"/><path d="M1137.1 497.6 1133.6 497.8 1130.1 498.1 1133.8 498.6 1137.6 499.2 1141.1 498.9 1144.6 498.6 1140.9 498 1137.1 497.6Z" fill="#1f9a8a"/><path d="M1122.5 497.1 1119 497.4 1115.5 497.7 1119.2 498.2 1123 498.7 1126.5 498.4 1130.1 498.1 1126.3 497.6 1122.5 497.1Z" fill="#1e9b8a"/><path d="M838.4 482.7 834.6 482.5 830.8 482.2 834.4 482.9 837.9 483.6 841.7 483.7 845.5 483.9 841.9 483.3 838.4 482.7Z" fill="#1fa287"/><path d="M1108 496.7 1104.4 497 1100.9 497.2 1104.6 497.7 1108.4 498.2 1111.9 498 1115.5 497.7 1111.7 497.2 1108 496.7Z" fill="#1e9b8a"/><path d="M1093.4 496.3 1089.9 496.5 1086.3 496.7 1090 497.2 1093.7 497.7 1097.3 497.5 1100.9 497.2 1097.1 496.7 1093.4 496.3Z" fill="#1e9b8a"/><path d="M1078.8 495.8 1075.3 496 1071.7 496.2 1075.4 496.7 1079.1 497.2 1082.7 497 1086.3 496.7 1082.6 496.2 1078.8 495.8Z" fill="#1e9c89"/><path d="M823.8 481.1 820 480.8 816.2 480.5 819.7 481.2 823.2 481.9 827 482 830.8 482.2 827.3 481.6 823.8 481.1Z" fill="#20a386"/><path d="M1064.3 495.3 1060.7 495.5 1057.1 495.7 1060.8 496.2 1064.5 496.7 1068.1 496.4 1071.7 496.2 1068 495.7 1064.3 495.3Z" fill="#1e9c89"/><path d="M670.8 497 666.9 497.3 670.1 491.5 673.3 486.9 677.2 486.9 674 491.3 670.8 497Z" fill="#1f9f88"/><path d="M1049.7 494.7 1046.1 494.9 1042.5 495.1 1046.2 495.6 1049.9 496.1 1053.5 495.9 1057.1 495.7 1053.4 495.2 1049.7 494.7Z" fill="#1e9c89"/><path d="M1035.1 494.2 1031.5 494.4 1027.9 494.5 1031.6 495 1035.3 495.5 1038.9 495.3 1042.5 495.1 1038.8 494.6 1035.1 494.2Z" fill="#1e9d89"/><path d="M809.2 479.5 805.4 479.1 801.6 478.8 805.1 479.4 808.6 480 812.4 480.3 816.2 480.5 812.7 480 809.2 479.5Z" fill="#21a585"/><path d="M1020.6 493.6 1016.9 493.8 1013.3 493.9 1017 494.4 1020.7 494.9 1024.3 494.7 1027.9 494.5 1024.2 494.1 1020.6 493.6Z" fill="#1e9d89"/><path d="M707.2 481.4 703.3 481.3 699.4 481.1 702.8 478.9 706.1 477.1 710 477.3 713.9 477.6 710.6 479.3 707.2 481.4Z" fill="#21a585"/><path d="M1006 493 1002.3 493.1 998.7 493.3 1002.4 493.8 1006 494.3 1009.7 494.1 1013.3 493.9 1009.6 493.5 1006 493Z" fill="#1f9e89"/><path d="M991.4 492.4 987.8 492.5 984.1 492.6 987.8 493.1 991.4 493.6 995.1 493.4 998.7 493.3 995.1 492.8 991.4 492.4Z" fill="#1f9e89"/><path d="M794.6 478 790.8 477.6 786.9 477.2 790.4 477.6 793.9 478.2 797.7 478.5 801.6 478.8 798.1 478.3 794.6 478Z" fill="#21a685"/><path d="M976.8 491.7 973.2 491.8 969.5 491.9 973.1 492.4 976.8 492.9 980.4 492.8 984.1 492.6 980.5 492.2 976.8 491.7Z" fill="#1f9f88"/><path d="M1305.1 501.8 1301.6 502.6 1298.2 503.2 1302.1 503.9 1305.5 503.3 1308.9 502.6 1305.1 501.8Z" fill="#1f998a"/><path d="M962.2 491 958.6 491.1 954.9 491.2 958.5 491.7 962.1 492.2 965.8 492.1 969.5 491.9 965.9 491.5 962.2 491Z" fill="#1f9f88"/><path d="M780 476.7 776.1 476.3 772.3 475.9 775.8 476.1 779.2 476.5 783.1 476.8 786.9 477.2 783.4 476.9 780 476.7Z" fill="#22a785"/><path d="M721.7 478.1 717.8 477.8 713.9 477.6 717.3 476.1 720.7 474.9 724.6 475.3 728.5 475.6 725.1 476.7 721.7 478.1Z" fill="#22a785"/><path d="M947.7 490.3 944 490.4 940.3 490.5 943.9 491 947.5 491.4 951.2 491.3 954.9 491.2 951.3 490.8 947.7 490.3Z" fill="#1fa088"/><path d="M933.1 489.6 929.4 489.7 925.7 489.7 929.3 490.2 932.9 490.7 936.6 490.6 940.3 490.5 936.7 490 933.1 489.6Z" fill="#1fa088"/><path d="M765.4 475.9 761.5 475.4 757.7 475 761.1 475 764.6 475.1 768.4 475.5 772.3 475.9 768.8 475.8 765.4 475.9Z" fill="#22a884"/><path d="M736.2 476.4 732.3 476 728.5 475.6 731.9 474.7 735.3 474.1 739.2 474.5 743 474.9 739.6 475.5 736.2 476.4Z" fill="#22a884"/><path d="M750.8 475.7 746.9 475.3 743 474.9 746.5 474.4 749.9 474.2 753.8 474.6 757.7 475 754.2 475.3 750.8 475.7Z" fill="#22a884"/><path d="M918.5 488.9 914.8 488.9 911 488.9 914.6 489.4 918.2 489.9 922 489.8 925.7 489.7 922.1 489.3 918.5 488.9Z" fill="#1fa188"/><path d="M903.9 488.1 900.2 488.1 896.4 488.1 900 488.5 903.6 489 907.3 489 911 488.9 907.5 488.5 903.9 488.1Z" fill="#1fa187"/><path d="M1290.5 501.8 1287.1 502.4 1283.6 502.9 1287.5 503.6 1291.4 504.2 1294.8 503.7 1298.2 503.2 1294.3 502.5 1290.5 501.8Z" fill="#1f998a"/><path d="M1275.9 501.6 1272.5 502.1 1269 502.6 1272.9 503.2 1276.8 503.9 1280.2 503.4 1283.6 502.9 1279.8 502.3 1275.9 501.6Z" fill="#1f9a8a"/><path d="M1261.3 501.4 1257.9 501.8 1254.4 502.3 1258.3 502.9 1262.2 503.5 1265.6 503.1 1269 502.6 1265.2 502 1261.3 501.4Z" fill="#1f9a8a"/><path d="M889.3 487.3 885.5 487.2 881.8 487.2 885.4 487.7 888.9 488.1 892.7 488.1 896.4 488.1 892.9 487.7 889.3 487.3Z" fill="#1fa187"/><path d="M1246.7 501.1 1243.3 501.5 1239.8 501.9 1243.7 502.5 1247.5 503.2 1251 502.7 1254.4 502.3 1250.6 501.7 1246.7 501.1Z" fill="#1f9a8a"/><path d="M1232.1 500.8 1228.7 501.2 1225.2 501.6 1229.1 502.2 1232.9 502.8 1236.4 502.4 1239.8 501.9 1236 501.3 1232.1 500.8Z" fill="#1f9a8a"/><path d="M1217.6 500.4 1214.1 500.8 1210.6 501.2 1214.5 501.8 1218.3 502.4 1221.8 502 1225.2 501.6 1221.4 501 1217.6 500.4Z" fill="#1e9b8a"/><path d="M874.7 486.4 870.9 486.3 867.2 486.3 870.7 486.7 874.3 487.2 878.1 487.2 881.8 487.2 878.2 486.8 874.7 486.4Z" fill="#1fa287"/><path d="M1203 500.1 1199.5 500.5 1196 500.8 1199.8 501.4 1203.7 502 1207.1 501.6 1210.6 501.2 1206.8 500.7 1203 500.1Z" fill="#1e9b8a"/><path d="M1188.4 499.7 1184.9 500.1 1181.4 500.4 1185.2 501 1189 501.6 1192.5 501.2 1196 500.8 1192.2 500.3 1188.4 499.7Z" fill="#1e9b8a"/><path d="M860.1 485.3 856.3 485.2 852.5 485.1 856.1 485.7 859.6 486.2 863.4 486.2 867.2 486.3 863.6 485.8 860.1 485.3Z" fill="#20a386"/><path d="M1173.8 499.4 1170.3 499.7 1166.8 500 1170.6 500.6 1174.4 501.2 1177.9 500.8 1181.4 500.4 1177.6 499.9 1173.8 499.4Z" fill="#1e9c89"/><path d="M1159.2 499 1155.7 499.3 1152.2 499.6 1156 500.2 1159.8 500.7 1163.3 500.4 1166.8 500 1163 499.5 1159.2 499Z" fill="#1e9c89"/><path d="M1144.6 498.6 1141.1 498.9 1137.6 499.2 1141.4 499.7 1145.1 500.3 1148.7 499.9 1152.2 499.6 1148.4 499.1 1144.6 498.6Z" fill="#1e9c89"/><path d="M845.5 483.9 841.7 483.7 837.9 483.6 841.4 484.3 845 484.9 848.8 485 852.5 485.1 849 484.5 845.5 483.9Z" fill="#20a486"/><path d="M1130.1 498.1 1126.5 498.4 1123 498.7 1126.7 499.3 1130.5 499.8 1134.1 499.5 1137.6 499.2 1133.8 498.6 1130.1 498.1Z" fill="#1e9d89"/><path d="M1115.5 497.7 1111.9 498 1108.4 498.2 1112.1 498.8 1115.9 499.3 1119.4 499 1123 498.7 1119.2 498.2 1115.5 497.7Z" fill="#1e9d89"/><path d="M685 486.8 681.1 486.8 677.2 486.9 680.5 483.4 683.8 480.7 687.7 480.8 691.6 480.9 688.3 483.5 685 486.8Z" fill="#20a486"/><path d="M1100.9 497.2 1097.3 497.5 1093.7 497.7 1097.5 498.3 1101.2 498.8 1104.8 498.5 1108.4 498.2 1104.6 497.7 1100.9 497.2Z" fill="#1e9d89"/><path d="M1086.3 496.7 1082.7 497 1079.1 497.2 1082.9 497.7 1086.6 498.3 1090.2 498 1093.7 497.7 1090 497.2 1086.3 496.7Z" fill="#1f9e89"/><path d="M830.8 482.2 827 482 823.2 481.9 826.8 482.6 830.3 483.3 834.1 483.4 837.9 483.6 834.4 482.9 830.8 482.2Z" fill="#21a585"/><path d="M1071.7 496.2 1068.1 496.4 1064.5 496.7 1068.2 497.2 1072 497.7 1075.5 497.5 1079.1 497.2 1075.4 496.7 1071.7 496.2Z" fill="#1f9e89"/><path d="M1057.1 495.7 1053.5 495.9 1049.9 496.1 1053.6 496.6 1057.3 497.2 1060.9 496.9 1064.5 496.7 1060.8 496.2 1057.1 495.7Z" fill="#1f9e89"/><path d="M1042.5 495.1 1038.9 495.3 1035.3 495.5 1039 496 1042.7 496.6 1046.3 496.3 1049.9 496.1 1046.2 495.6 1042.5 495.1Z" fill="#1f9f88"/><path d="M816.2 480.5 812.4 480.3 808.6 480 812.1 480.7 815.6 481.5 819.4 481.7 823.2 481.9 819.7 481.2 816.2 480.5Z" fill="#21a685"/><path d="M1027.9 494.5 1024.3 494.7 1020.7 494.9 1024.3 495.4 1028 495.9 1031.7 495.7 1035.3 495.5 1031.6 495 1027.9 494.5Z" fill="#1f9f88"/><path d="M1013.3 493.9 1009.7 494.1 1006 494.3 1009.7 494.8 1013.4 495.3 1017 495.1 1020.7 494.9 1017 494.4 1013.3 493.9Z" fill="#1fa088"/><path d="M998.7 493.3 995.1 493.4 991.4 493.6 995.1 494.1 998.7 494.6 1002.4 494.4 1006 494.3 1002.4 493.8 998.7 493.3Z" fill="#1fa088"/><path d="M801.6 478.8 797.7 478.5 793.9 478.2 797.4 478.8 800.9 479.5 804.8 479.8 808.6 480 805.1 479.4 801.6 478.8Z" fill="#22a884"/><path d="M699.4 481.1 695.5 481 691.6 480.9 694.9 478.6 698.3 476.6 702.2 476.8 706.1 477.1 702.8 478.9 699.4 481.1Z" fill="#22a884"/><path d="M984.1 492.6 980.4 492.8 976.8 492.9 980.4 493.4 984.1 493.9 987.7 493.8 991.4 493.6 987.8 493.1 984.1 492.6Z" fill="#1fa188"/><path d="M1298.2 503.2 1294.8 503.7 1291.4 504.2 1295.3 504.9 1298.7 504.4 1302.1 503.9 1298.2 503.2Z" fill="#1e9b8a"/><path d="M969.5 491.9 965.8 492.1 962.1 492.2 965.8 492.7 969.4 493.2 973.1 493 976.8 492.9 973.1 492.4 969.5 491.9Z" fill="#1fa188"/><path d="M786.9 477.2 783.1 476.8 779.2 476.5 782.7 477 786.2 477.6 790.1 477.9 793.9 478.2 790.4 477.6 786.9 477.2Z" fill="#23a983"/><path d="M954.9 491.2 951.2 491.3 947.5 491.4 951.1 491.9 954.8 492.4 958.5 492.3 962.1 492.2 958.5 491.7 954.9 491.2Z" fill="#1fa187"/><path d="M940.3 490.5 936.6 490.6 932.9 490.7 936.5 491.2 940.1 491.7 943.8 491.6 947.5 491.4 943.9 491 940.3 490.5Z" fill="#1fa287"/><path d="M713.9 477.6 710 477.3 706.1 477.1 709.5 475.5 712.8 474.3 716.8 474.6 720.7 474.9 717.3 476.1 713.9 477.6Z" fill="#24aa83"/><path d="M772.3 475.9 768.4 475.5 764.6 475.1 768 475.4 771.5 475.8 775.4 476.1 779.2 476.5 775.8 476.1 772.3 475.9Z" fill="#24aa83"/><path d="M925.7 489.7 922 489.8 918.2 489.9 921.8 490.3 925.4 490.9 929.2 490.8 932.9 490.7 929.3 490.2 925.7 489.7Z" fill="#1fa287"/><path d="M911 488.9 907.3 489 903.6 489 907.2 489.5 910.8 490 914.5 489.9 918.2 489.9 914.6 489.4 911 488.9Z" fill="#20a386"/><path d="M1283.6 502.9 1280.2 503.4 1276.8 503.9 1280.7 504.5 1284.6 505.2 1288 504.7 1291.4 504.2 1287.5 503.6 1283.6 502.9Z" fill="#1e9b8a"/><path d="M757.7 475 753.8 474.6 749.9 474.2 753.4 474.2 756.8 474.3 760.7 474.7 764.6 475.1 761.1 475 757.7 475Z" fill="#25ab82"/><path d="M728.5 475.6 724.6 475.3 720.7 474.9 724.1 474 727.5 473.3 731.4 473.7 735.3 474.1 731.9 474.7 728.5 475.6Z" fill="#25ab82"/><path d="M1269 502.6 1265.6 503.1 1262.2 503.5 1266 504.2 1269.9 504.8 1273.4 504.3 1276.8 503.9 1272.9 503.2 1269 502.6Z" fill="#1e9c89"/><path d="M743 474.9 739.2 474.5 735.3 474.1 738.7 473.6 742.1 473.4 746 473.8 749.9 474.2 746.5 474.4 743 474.9Z" fill="#25ac82"/><path d="M1254.4 502.3 1251 502.7 1247.5 503.2 1251.4 503.8 1255.3 504.4 1258.7 504 1262.2 503.5 1258.3 502.9 1254.4 502.3Z" fill="#1e9c89"/><path d="M896.4 488.1 892.7 488.1 888.9 488.1 892.5 488.6 896.1 489.1 899.9 489.1 903.6 489 900 488.5 896.4 488.1Z" fill="#20a386"/><path d="M1239.8 501.9 1236.4 502.4 1232.9 502.8 1236.8 503.4 1240.6 504 1244.1 503.6 1247.5 503.2 1243.7 502.5 1239.8 501.9Z" fill="#1e9c89"/><path d="M1225.2 501.6 1221.8 502 1218.3 502.4 1222.1 503 1226 503.6 1229.5 503.2 1232.9 502.8 1229.1 502.2 1225.2 501.6Z" fill="#1e9d89"/><path d="M881.8 487.2 878.1 487.2 874.3 487.2 877.9 487.7 881.4 488.2 885.2 488.1 888.9 488.1 885.4 487.7 881.8 487.2Z" fill="#20a486"/><path d="M1210.6 501.2 1207.1 501.6 1203.7 502 1207.5 502.6 1211.3 503.2 1214.8 502.8 1218.3 502.4 1214.5 501.8 1210.6 501.2Z" fill="#1e9d89"/><path d="M677.2 486.9 673.3 486.9 676.5 483.5 679.8 480.6 683.8 480.7 680.5 483.4 677.2 486.9Z" fill="#21a685"/><path d="M1196 500.8 1192.5 501.2 1189 501.6 1192.9 502.2 1196.7 502.8 1200.2 502.4 1203.7 502 1199.8 501.4 1196 500.8Z" fill="#1e9d89"/><path d="M1181.4 500.4 1177.9 500.8 1174.4 501.2 1178.2 501.8 1182 502.4 1185.5 502 1189 501.6 1185.2 501 1181.4 500.4Z" fill="#1e9d89"/><path d="M867.2 486.3 863.4 486.2 859.6 486.2 863.2 486.7 866.8 487.2 870.5 487.2 874.3 487.2 870.7 486.7 867.2 486.3Z" fill="#21a585"/><path d="M1166.8 500 1163.3 500.4 1159.8 500.7 1163.6 501.3 1167.4 501.9 1170.9 501.5 1174.4 501.2 1170.6 500.6 1166.8 500Z" fill="#1f9e89"/><path d="M1152.2 499.6 1148.7 499.9 1145.1 500.3 1148.9 500.8 1152.7 501.4 1156.3 501.1 1159.8 500.7 1156 500.2 1152.2 499.6Z" fill="#1f9e89"/><path d="M852.5 485.1 848.8 485 845 484.9 848.5 485.6 852.1 486.1 855.9 486.2 859.6 486.2 856.1 485.7 852.5 485.1Z" fill="#21a685"/><path d="M1137.6 499.2 1134.1 499.5 1130.5 499.8 1134.3 500.4 1138.1 501 1141.6 500.6 1145.1 500.3 1141.4 499.7 1137.6 499.2Z" fill="#1f9e89"/><path d="M1123 498.7 1119.4 499 1115.9 499.3 1119.6 499.9 1123.4 500.5 1127 500.1 1130.5 499.8 1126.7 499.3 1123 498.7Z" fill="#1f9f88"/><path d="M1108.4 498.2 1104.8 498.5 1101.2 498.8 1105 499.4 1108.7 499.9 1112.3 499.6 1115.9 499.3 1112.1 498.8 1108.4 498.2Z" fill="#1f9f88"/><path d="M837.9 483.6 834.1 483.4 830.3 483.3 833.8 484.1 837.4 484.8 841.2 484.9 845 484.9 841.4 484.3 837.9 483.6Z" fill="#22a785"/><path d="M1093.7 497.7 1090.2 498 1086.6 498.3 1090.3 498.8 1094.1 499.4 1097.7 499.1 1101.2 498.8 1097.5 498.3 1093.7 497.7Z" fill="#1fa088"/><path d="M1079.1 497.2 1075.5 497.5 1072 497.7 1075.7 498.3 1079.4 498.8 1083 498.6 1086.6 498.3 1082.9 497.7 1079.1 497.2Z" fill="#1fa088"/><path d="M1064.5 496.7 1060.9 496.9 1057.3 497.2 1061 497.7 1064.8 498.3 1068.4 498 1072 497.7 1068.2 497.2 1064.5 496.7Z" fill="#1fa088"/><path d="M823.2 481.9 819.4 481.7 815.6 481.5 819.1 482.3 822.7 483.1 826.5 483.2 830.3 483.3 826.8 482.6 823.2 481.9Z" fill="#22a884"/><path d="M1049.9 496.1 1046.3 496.3 1042.7 496.6 1046.4 497.1 1050.1 497.7 1053.7 497.4 1057.3 497.2 1053.6 496.6 1049.9 496.1Z" fill="#1fa188"/><path d="M1035.3 495.5 1031.7 495.7 1028 495.9 1031.7 496.5 1035.4 497 1039.1 496.8 1042.7 496.6 1039 496 1035.3 495.5Z" fill="#1fa188"/><path d="M1020.7 494.9 1017 495.1 1013.4 495.3 1017.1 495.8 1020.8 496.4 1024.4 496.2 1028 495.9 1024.3 495.4 1020.7 494.9Z" fill="#1fa187"/><path d="M808.6 480 804.8 479.8 800.9 479.5 804.4 480.3 808 481.2 811.8 481.3 815.6 481.5 812.1 480.7 808.6 480Z" fill="#23a983"/><path d="M1006 494.3 1002.4 494.4 998.7 494.6 1002.4 495.2 1006.1 495.7 1009.7 495.5 1013.4 495.3 1009.7 494.8 1006 494.3Z" fill="#1fa187"/><path d="M991.4 493.6 987.7 493.8 984.1 493.9 987.7 494.5 991.4 495 995.1 494.8 998.7 494.6 995.1 494.1 991.4 493.6Z" fill="#1fa287"/><path d="M1291.4 504.2 1288 504.7 1284.6 505.2 1288.5 505.8 1291.9 505.4 1295.3 504.9 1291.4 504.2Z" fill="#1e9d89"/><path d="M976.8 492.9 973.1 493 969.4 493.2 973.1 493.7 976.7 494.3 980.4 494.1 984.1 493.9 980.4 493.4 976.8 492.9Z" fill="#1fa287"/><path d="M793.9 478.2 790.1 477.9 786.2 477.6 789.7 478.3 793.2 479.1 797.1 479.3 800.9 479.5 797.4 478.8 793.9 478.2Z" fill="#25ab82"/><path d="M691.6 480.9 687.7 480.8 683.8 480.7 687.1 478.3 690.4 476.3 694.3 476.4 698.3 476.6 694.9 478.6 691.6 480.9Z" fill="#25ab82"/><path d="M962.1 492.2 958.5 492.3 954.8 492.4 958.4 493 962 493.5 965.7 493.4 969.4 493.2 965.8 492.7 962.1 492.2Z" fill="#20a386"/><path d="M947.5 491.4 943.8 491.6 940.1 491.7 943.7 492.2 947.4 492.7 951.1 492.6 954.8 492.4 951.1 491.9 947.5 491.4Z" fill="#20a386"/><path d="M779.2 476.5 775.4 476.1 771.5 475.8 775 476.4 778.5 477 782.4 477.3 786.2 477.6 782.7 477 779.2 476.5Z" fill="#25ac82"/><path d="M932.9 490.7 929.2 490.8 925.4 490.9 929.1 491.4 932.7 491.9 936.4 491.8 940.1 491.7 936.5 491.2 932.9 490.7Z" fill="#20a486"/><path d="M918.2 489.9 914.5 489.9 910.8 490 914.4 490.5 918 491.1 921.7 491 925.4 490.9 921.8 490.3 918.2 489.9Z" fill="#21a585"/><path d="M1276.8 503.9 1273.4 504.3 1269.9 504.8 1273.8 505.5 1277.7 506.1 1281.1 505.7 1284.6 505.2 1280.7 504.5 1276.8 503.9Z" fill="#1f9e89"/><path d="M706.1 477.1 702.2 476.8 698.3 476.6 701.6 475 705 473.7 708.9 474 712.8 474.3 709.5 475.5 706.1 477.1Z" fill="#26ad81"/><path d="M1262.2 503.5 1258.7 504 1255.3 504.4 1259.2 505.1 1263 505.7 1266.5 505.3 1269.9 504.8 1266 504.2 1262.2 503.5Z" fill="#1f9e89"/><path d="M764.6 475.1 760.7 474.7 756.8 474.3 760.3 474.7 763.8 475.2 767.7 475.5 771.5 475.8 768 475.4 764.6 475.1Z" fill="#27ad81"/><path d="M903.6 489 899.9 489.1 896.1 489.1 899.7 489.6 903.3 490.2 907 490.1 910.8 490 907.2 489.5 903.6 489Z" fill="#21a585"/><path d="M1247.5 503.2 1244.1 503.6 1240.6 504 1244.5 504.7 1248.4 505.3 1251.8 504.9 1255.3 504.4 1251.4 503.8 1247.5 503.2Z" fill="#1f9e89"/><path d="M1232.9 502.8 1229.5 503.2 1226 503.6 1229.8 504.3 1233.7 504.9 1237.2 504.5 1240.6 504 1236.8 503.4 1232.9 502.8Z" fill="#1f9e89"/><path d="M1218.3 502.4 1214.8 502.8 1211.3 503.2 1215.2 503.8 1219 504.5 1222.5 504 1226 503.6 1222.1 503 1218.3 502.4Z" fill="#1f9f88"/><path d="M888.9 488.1 885.2 488.1 881.4 488.2 885 488.7 888.6 489.2 892.4 489.2 896.1 489.1 892.5 488.6 888.9 488.1Z" fill="#21a685"/><path d="M749.9 474.2 746 473.8 742.1 473.4 745.6 473.4 749.1 473.6 752.9 474 756.8 474.3 753.4 474.2 749.9 474.2Z" fill="#27ad81"/><path d="M720.7 474.9 716.8 474.6 712.8 474.3 716.2 473.4 719.6 472.6 723.6 473 727.5 473.3 724.1 474 720.7 474.9Z" fill="#27ad81"/><path d="M1203.7 502 1200.2 502.4 1196.7 502.8 1200.5 503.4 1204.4 504 1207.8 503.6 1211.3 503.2 1207.5 502.6 1203.7 502Z" fill="#1f9f88"/><path d="M735.3 474.1 731.4 473.7 727.5 473.3 730.9 472.9 734.3 472.7 738.2 473 742.1 473.4 738.7 473.6 735.3 474.1Z" fill="#28ae80"/><path d="M1189 501.6 1185.5 502 1182 502.4 1185.9 503 1189.7 503.6 1193.2 503.2 1196.7 502.8 1192.9 502.2 1189 501.6Z" fill="#1f9f88"/><path d="M874.3 487.2 870.5 487.2 866.8 487.2 870.3 487.7 873.9 488.3 877.7 488.2 881.4 488.2 877.9 487.7 874.3 487.2Z" fill="#22a785"/><path d="M1174.4 501.2 1170.9 501.5 1167.4 501.9 1171.2 502.5 1175 503.1 1178.5 502.7 1182 502.4 1178.2 501.8 1174.4 501.2Z" fill="#1fa088"/><path d="M1159.8 500.7 1156.3 501.1 1152.7 501.4 1156.5 502 1160.3 502.7 1163.9 502.3 1167.4 501.9 1163.6 501.3 1159.8 500.7Z" fill="#1fa088"/><path d="M859.6 486.2 855.9 486.2 852.1 486.1 855.6 486.7 859.2 487.2 863 487.2 866.8 487.2 863.2 486.7 859.6 486.2Z" fill="#22a884"/><path d="M1145.1 500.3 1141.6 500.6 1138.1 501 1141.9 501.5 1145.6 502.2 1149.2 501.8 1152.7 501.4 1148.9 500.8 1145.1 500.3Z" fill="#1fa088"/><path d="M1130.5 499.8 1127 500.1 1123.4 500.5 1127.2 501 1131 501.6 1134.5 501.3 1138.1 501 1134.3 500.4 1130.5 499.8Z" fill="#1fa188"/><path d="M1115.9 499.3 1112.3 499.6 1108.7 499.9 1112.5 500.5 1116.3 501.1 1119.8 500.8 1123.4 500.5 1119.6 499.9 1115.9 499.3Z" fill="#1fa188"/><path d="M845 484.9 841.2 484.9 837.4 484.8 840.9 485.5 844.5 486.1 848.3 486.1 852.1 486.1 848.5 485.6 845 484.9Z" fill="#22a884"/><path d="M1101.2 498.8 1097.7 499.1 1094.1 499.4 1097.8 500 1101.6 500.6 1105.2 500.3 1108.7 499.9 1105 499.4 1101.2 498.8Z" fill="#1fa187"/><path d="M1086.6 498.3 1083 498.6 1079.4 498.8 1083.2 499.4 1086.9 500 1090.5 499.7 1094.1 499.4 1090.3 498.8 1086.6 498.3Z" fill="#1fa187"/><path d="M830.3 483.3 826.5 483.2 822.7 483.1 826.2 483.9 829.8 484.7 833.6 484.7 837.4 484.8 833.8 484.1 830.3 483.3Z" fill="#24aa83"/><path d="M1072 497.7 1068.4 498 1064.8 498.3 1068.5 498.8 1072.2 499.4 1075.8 499.1 1079.4 498.8 1075.7 498.3 1072 497.7Z" fill="#1fa187"/><path d="M1057.3 497.2 1053.7 497.4 1050.1 497.7 1053.8 498.2 1057.5 498.8 1061.1 498.5 1064.8 498.3 1061 497.7 1057.3 497.2Z" fill="#1fa287"/><path d="M1042.7 496.6 1039.1 496.8 1035.4 497 1039.1 497.6 1042.8 498.2 1046.5 497.9 1050.1 497.7 1046.4 497.1 1042.7 496.6Z" fill="#1fa287"/><path d="M815.6 481.5 811.8 481.3 808 481.2 811.5 482 815 482.9 818.9 483 822.7 483.1 819.1 482.3 815.6 481.5Z" fill="#25ab82"/><path d="M1028 495.9 1024.4 496.2 1020.8 496.4 1024.4 496.9 1028.1 497.5 1031.8 497.3 1035.4 497 1031.7 496.5 1028 495.9Z" fill="#20a386"/><path d="M683.8 480.7 679.8 480.6 683.1 478.2 686.5 476.1 690.4 476.3 687.1 478.3 683.8 480.7Z" fill="#26ad81"/><path d="M1013.4 495.3 1009.7 495.5 1006.1 495.7 1009.8 496.3 1013.5 496.8 1017.1 496.6 1020.8 496.4 1017.1 495.8 1013.4 495.3Z" fill="#20a386"/><path d="M998.7 494.6 995.1 494.8 991.4 495 995.1 495.6 998.8 496.1 1002.4 495.9 1006.1 495.7 1002.4 495.2 998.7 494.6Z" fill="#20a486"/><path d="M1284.6 505.2 1281.1 505.7 1277.7 506.1 1281.6 506.8 1285 506.3 1288.5 505.8 1284.6 505.2Z" fill="#1f9f88"/><path d="M800.9 479.5 797.1 479.3 793.2 479.1 796.8 479.9 800.3 480.9 804.1 481 808 481.2 804.4 480.3 800.9 479.5Z" fill="#25ac82"/><path d="M984.1 493.9 980.4 494.1 976.7 494.3 980.4 494.8 984.1 495.4 987.7 495.2 991.4 495 987.7 494.5 984.1 493.9Z" fill="#20a486"/><path d="M969.4 493.2 965.7 493.4 962 493.5 965.7 494.1 969.4 494.7 973 494.5 976.7 494.3 973.1 493.7 969.4 493.2Z" fill="#21a585"/><path d="M954.8 492.4 951.1 492.6 947.4 492.7 951 493.3 954.6 493.9 958.4 493.7 962 493.5 958.4 493 954.8 492.4Z" fill="#21a585"/><path d="M786.2 477.6 782.4 477.3 778.5 477 782 477.8 785.5 478.7 789.4 478.9 793.2 479.1 789.7 478.3 786.2 477.6Z" fill="#27ad81"/><path d="M940.1 491.7 936.4 491.8 932.7 491.9 936.3 492.5 939.9 493.1 943.7 492.9 947.4 492.7 943.7 492.2 940.1 491.7Z" fill="#21a685"/><path d="M925.4 490.9 921.7 491 918 491.1 921.6 491.6 925.2 492.2 929 492.1 932.7 491.9 929.1 491.4 925.4 490.9Z" fill="#22a785"/><path d="M1269.9 504.8 1266.5 505.3 1263 505.7 1266.9 506.4 1270.8 507.1 1274.3 506.6 1277.7 506.1 1273.8 505.5 1269.9 504.8Z" fill="#1fa088"/><path d="M1255.3 504.4 1251.8 504.9 1248.4 505.3 1252.3 506 1256.1 506.7 1259.6 506.2 1263 505.7 1259.2 505.1 1255.3 504.4Z" fill="#1fa088"/><path d="M771.5 475.8 767.7 475.5 763.8 475.2 767.3 475.8 770.8 476.5 774.7 476.8 778.5 477 775 476.4 771.5 475.8Z" fill="#28ae80"/><path d="M910.8 490 907 490.1 903.3 490.2 906.9 490.7 910.5 491.3 914.3 491.2 918 491.1 914.4 490.5 910.8 490Z" fill="#22a785"/><path d="M1240.6 504 1237.2 504.5 1233.7 504.9 1237.6 505.6 1241.4 506.2 1244.9 505.8 1248.4 505.3 1244.5 504.7 1240.6 504Z" fill="#1fa088"/><path d="M1226 503.6 1222.5 504 1219 504.5 1222.9 505.1 1226.7 505.8 1230.2 505.3 1233.7 504.9 1229.8 504.3 1226 503.6Z" fill="#1fa188"/><path d="M896.1 489.1 892.4 489.2 888.6 489.2 892.2 489.8 895.8 490.4 899.5 490.3 903.3 490.2 899.7 489.6 896.1 489.1Z" fill="#22a884"/><path d="M698.3 476.6 694.3 476.4 690.4 476.3 693.8 474.6 697.1 473.2 701.1 473.5 705 473.7 701.6 475 698.3 476.6Z" fill="#29af7f"/><path d="M1211.3 503.2 1207.8 503.6 1204.4 504 1208.2 504.7 1212 505.3 1215.5 504.9 1219 504.5 1215.2 503.8 1211.3 503.2Z" fill="#1fa188"/><path d="M1196.7 502.8 1193.2 503.2 1189.7 503.6 1193.5 504.2 1197.3 504.9 1200.9 504.5 1204.4 504 1200.5 503.4 1196.7 502.8Z" fill="#1fa188"/><path d="M756.8 474.3 752.9 474 749.1 473.6 752.5 474 756 474.6 759.9 474.8 763.8 475.2 760.3 474.7 756.8 474.3Z" fill="#2ab07f"/><path d="M881.4 488.2 877.7 488.2 873.9 488.3 877.5 488.8 881.1 489.4 884.8 489.3 888.6 489.2 885 488.7 881.4 488.2Z" fill="#23a983"/><path d="M1182 502.4 1178.5 502.7 1175 503.1 1178.8 503.8 1182.6 504.4 1186.2 504 1189.7 503.6 1185.9 503 1182 502.4Z" fill="#1fa187"/><path d="M1167.4 501.9 1163.9 502.3 1160.3 502.7 1164.1 503.3 1167.9 503.9 1171.5 503.5 1175 503.1 1171.2 502.5 1167.4 501.9Z" fill="#1fa187"/><path d="M712.8 474.3 708.9 474 705 473.7 708.4 472.7 711.8 472 715.7 472.3 719.6 472.6 716.2 473.4 712.8 474.3Z" fill="#2cb17e"/><path d="M742.1 473.4 738.2 473 734.3 472.7 737.8 472.7 741.3 473 745.2 473.3 749.1 473.6 745.6 473.4 742.1 473.4Z" fill="#2cb17e"/><path d="M866.8 487.2 863 487.2 859.2 487.2 862.8 487.8 866.3 488.4 870.1 488.3 873.9 488.3 870.3 487.7 866.8 487.2Z" fill="#23a983"/><path d="M1152.7 501.4 1149.2 501.8 1145.6 502.2 1149.4 502.8 1153.2 503.4 1156.8 503 1160.3 502.7 1156.5 502 1152.7 501.4Z" fill="#1fa187"/><path d="M727.5 473.3 723.6 473 719.6 472.6 723.1 472.2 726.5 472 730.4 472.3 734.3 472.7 730.9 472.9 727.5 473.3Z" fill="#2cb17e"/><path d="M1138.1 501 1134.5 501.3 1131 501.6 1134.7 502.3 1138.5 502.9 1142.1 502.5 1145.6 502.2 1141.9 501.5 1138.1 501Z" fill="#1fa287"/><path d="M1123.4 500.5 1119.8 500.8 1116.3 501.1 1120.1 501.7 1123.8 502.4 1127.4 502 1131 501.6 1127.2 501 1123.4 500.5Z" fill="#1fa287"/><path d="M852.1 486.1 848.3 486.1 844.5 486.1 848 486.7 851.6 487.3 855.4 487.3 859.2 487.2 855.6 486.7 852.1 486.1Z" fill="#24aa83"/><path d="M1108.7 499.9 1105.2 500.3 1101.6 500.6 1105.4 501.2 1109.1 501.8 1112.7 501.5 1116.3 501.1 1112.5 500.5 1108.7 499.9Z" fill="#1fa287"/><path d="M1094.1 499.4 1090.5 499.7 1086.9 500 1090.7 500.6 1094.4 501.2 1098 500.9 1101.6 500.6 1097.8 500 1094.1 499.4Z" fill="#20a386"/><path d="M837.4 484.8 833.6 484.7 829.8 484.7 833.3 485.4 836.9 486.1 840.7 486.1 844.5 486.1 840.9 485.5 837.4 484.8Z" fill="#25ab82"/><path d="M1079.4 498.8 1075.8 499.1 1072.2 499.4 1076 500 1079.7 500.6 1083.3 500.3 1086.9 500 1083.2 499.4 1079.4 498.8Z" fill="#20a386"/><path d="M1064.8 498.3 1061.1 498.5 1057.5 498.8 1061.3 499.4 1065 500 1068.6 499.7 1072.2 499.4 1068.5 498.8 1064.8 498.3Z" fill="#20a486"/><path d="M822.7 483.1 818.9 483 815 482.9 818.6 483.8 822.1 484.6 826 484.7 829.8 484.7 826.2 483.9 822.7 483.1Z" fill="#25ac82"/><path d="M1050.1 497.7 1046.5 497.9 1042.8 498.2 1046.6 498.8 1050.3 499.4 1053.9 499.1 1057.5 498.8 1053.8 498.2 1050.1 497.7Z" fill="#20a486"/><path d="M1035.4 497 1031.8 497.3 1028.1 497.5 1031.9 498.1 1035.6 498.7 1039.2 498.4 1042.8 498.2 1039.1 497.6 1035.4 497Z" fill="#21a585"/><path d="M1020.8 496.4 1017.1 496.6 1013.5 496.8 1017.1 497.4 1020.8 498 1024.5 497.8 1028.1 497.5 1024.4 496.9 1020.8 496.4Z" fill="#21a585"/><path d="M808 481.2 804.1 481 800.3 480.9 803.8 481.8 807.4 482.7 811.2 482.8 815 482.9 811.5 482 808 481.2Z" fill="#27ad81"/><path d="M1006.1 495.7 1002.4 495.9 998.8 496.1 1002.4 496.7 1006.1 497.3 1009.8 497.1 1013.5 496.8 1009.8 496.3 1006.1 495.7Z" fill="#21a685"/><path d="M1277.7 506.1 1274.3 506.6 1270.8 507.1 1274.7 507.8 1278.2 507.3 1281.6 506.8 1277.7 506.1Z" fill="#1fa188"/><path d="M991.4 495 987.7 495.2 984.1 495.4 987.7 496 991.4 496.6 995.1 496.4 998.8 496.1 995.1 495.6 991.4 495Z" fill="#21a685"/><path d="M976.7 494.3 973 494.5 969.4 494.7 973 495.2 976.7 495.8 980.4 495.6 984.1 495.4 980.4 494.8 976.7 494.3Z" fill="#22a785"/><path d="M793.2 479.1 789.4 478.9 785.5 478.7 789.1 479.6 792.6 480.6 796.4 480.7 800.3 480.9 796.8 479.9 793.2 479.1Z" fill="#28ae80"/><path d="M962 493.5 958.4 493.7 954.6 493.9 958.3 494.5 962 495.1 965.7 494.8 969.4 494.7 965.7 494.1 962 493.5Z" fill="#22a785"/><path d="M947.4 492.7 943.7 492.9 939.9 493.1 943.6 493.6 947.2 494.2 950.9 494 954.6 493.9 951 493.3 947.4 492.7Z" fill="#22a884"/><path d="M690.4 476.3 686.5 476.1 689.8 474.4 693.2 473 697.1 473.2 693.8 474.6 690.4 476.3Z" fill="#2db27d"/><path d="M932.7 491.9 929 492.1 925.2 492.2 928.9 492.8 932.5 493.4 936.2 493.2 939.9 493.1 936.3 492.5 932.7 491.9Z" fill="#23a983"/><path d="M778.5 477 774.7 476.8 770.8 476.5 774.3 477.4 777.8 478.3 781.7 478.5 785.5 478.7 782 477.8 778.5 477Z" fill="#2ab07f"/><path d="M1263 505.7 1259.6 506.2 1256.1 506.7 1260 507.3 1263.9 508 1267.4 507.6 1270.8 507.1 1266.9 506.4 1263 505.7Z" fill="#1fa187"/><path d="M918 491.1 914.3 491.2 910.5 491.3 914.1 491.9 917.7 492.5 921.5 492.3 925.2 492.2 921.6 491.6 918 491.1Z" fill="#23a983"/><path d="M1248.4 505.3 1244.9 505.8 1241.4 506.2 1245.3 506.9 1249.2 507.6 1252.7 507.1 1256.1 506.7 1252.3 506 1248.4 505.3Z" fill="#1fa187"/><path d="M1233.7 504.9 1230.2 505.3 1226.7 505.8 1230.6 506.5 1234.5 507.1 1238 506.7 1241.4 506.2 1237.6 505.6 1233.7 504.9Z" fill="#1fa187"/><path d="M903.3 490.2 899.5 490.3 895.8 490.4 899.4 491 903 491.6 906.8 491.4 910.5 491.3 906.9 490.7 903.3 490.2Z" fill="#24aa83"/><path d="M1219 504.5 1215.5 504.9 1212 505.3 1215.9 506 1219.8 506.7 1223.3 506.2 1226.7 505.8 1222.9 505.1 1219 504.5Z" fill="#1fa287"/><path d="M1204.4 504 1200.9 504.5 1197.3 504.9 1201.2 505.5 1205 506.2 1208.5 505.8 1212 505.3 1208.2 504.7 1204.4 504Z" fill="#1fa287"/><path d="M763.8 475.2 759.9 474.8 756 474.6 759.5 475.2 763 476 766.9 476.3 770.8 476.5 767.3 475.8 763.8 475.2Z" fill="#2db27d"/><path d="M1189.7 503.6 1186.2 504 1182.6 504.4 1186.5 505.1 1190.3 505.7 1193.8 505.3 1197.3 504.9 1193.5 504.2 1189.7 503.6Z" fill="#1fa287"/><path d="M888.6 489.2 884.8 489.3 881.1 489.4 884.7 490 888.3 490.6 892 490.5 895.8 490.4 892.2 489.8 888.6 489.2Z" fill="#25ab82"/><path d="M1175 503.1 1171.5 503.5 1167.9 503.9 1171.8 504.6 1175.6 505.2 1179.1 504.8 1182.6 504.4 1178.8 503.8 1175 503.1Z" fill="#20a386"/><path d="M1160.3 502.7 1156.8 503 1153.2 503.4 1157.1 504.1 1160.9 504.7 1164.4 504.3 1167.9 503.9 1164.1 503.3 1160.3 502.7Z" fill="#20a386"/><path d="M873.9 488.3 870.1 488.3 866.3 488.4 869.9 489 873.5 489.6 877.3 489.5 881.1 489.4 877.5 488.8 873.9 488.3Z" fill="#25ab82"/><path d="M749.1 473.6 745.2 473.3 741.3 473 744.7 473.4 748.2 474 752.1 474.3 756 474.6 752.5 474 749.1 473.6Z" fill="#2eb37c"/><path d="M1145.6 502.2 1142.1 502.5 1138.5 502.9 1142.3 503.5 1146.1 504.2 1149.7 503.8 1153.2 503.4 1149.4 502.8 1145.6 502.2Z" fill="#20a386"/><path d="M1131 501.6 1127.4 502 1123.8 502.4 1127.6 503 1131.4 503.7 1135 503.3 1138.5 502.9 1134.7 502.3 1131 501.6Z" fill="#20a486"/><path d="M859.2 487.2 855.4 487.3 851.6 487.3 855.2 487.9 858.8 488.5 862.6 488.4 866.3 488.4 862.8 487.8 859.2 487.2Z" fill="#25ac82"/><path d="M1116.3 501.1 1112.7 501.5 1109.1 501.8 1112.9 502.4 1116.7 503.1 1120.3 502.7 1123.8 502.4 1120.1 501.7 1116.3 501.1Z" fill="#20a486"/><path d="M705 473.7 701.1 473.5 697.1 473.2 700.5 472.2 703.9 471.4 707.9 471.7 711.8 472 708.4 472.7 705 473.7Z" fill="#2fb47c"/><path d="M734.3 472.7 730.4 472.3 726.5 472 730 472 733.4 472.3 737.3 472.6 741.3 473 737.8 472.7 734.3 472.7Z" fill="#2fb47c"/><path d="M1101.6 500.6 1098 500.9 1094.4 501.2 1098.2 501.9 1102 502.5 1105.5 502.2 1109.1 501.8 1105.4 501.2 1101.6 500.6Z" fill="#21a585"/><path d="M844.5 486.1 840.7 486.1 836.9 486.1 840.4 486.7 844 487.4 847.8 487.3 851.6 487.3 848 486.7 844.5 486.1Z" fill="#26ad81"/><path d="M719.6 472.6 715.7 472.3 711.8 472 715.2 471.6 718.7 471.4 722.6 471.7 726.5 472 723.1 472.2 719.6 472.6Z" fill="#2fb47c"/><path d="M1086.9 500 1083.3 500.3 1079.7 500.6 1083.5 501.3 1087.2 501.9 1090.8 501.6 1094.4 501.2 1090.7 500.6 1086.9 500Z" fill="#21a585"/><path d="M1072.2 499.4 1068.6 499.7 1065 500 1068.7 500.6 1072.5 501.3 1076.1 501 1079.7 500.6 1076 500 1072.2 499.4Z" fill="#21a685"/><path d="M829.8 484.7 826 484.7 822.1 484.6 825.7 485.4 829.2 486.2 833.1 486.1 836.9 486.1 833.3 485.4 829.8 484.7Z" fill="#27ad81"/><path d="M1057.5 498.8 1053.9 499.1 1050.3 499.4 1054 500 1057.8 500.6 1061.4 500.3 1065 500 1061.3 499.4 1057.5 498.8Z" fill="#21a685"/><path d="M1042.8 498.2 1039.2 498.4 1035.6 498.7 1039.3 499.3 1043 500 1046.7 499.7 1050.3 499.4 1046.6 498.8 1042.8 498.2Z" fill="#22a785"/><path d="M815 482.9 811.2 482.8 807.4 482.7 810.9 483.7 814.5 484.6 818.3 484.6 822.1 484.6 818.6 483.8 815 482.9Z" fill="#28ae80"/><path d="M1028.1 497.5 1024.5 497.8 1020.8 498 1024.6 498.7 1028.3 499.3 1031.9 499 1035.6 498.7 1031.9 498.1 1028.1 497.5Z" fill="#22a785"/><path d="M1013.5 496.8 1009.8 497.1 1006.1 497.3 1009.8 497.9 1013.5 498.6 1017.2 498.3 1020.8 498 1017.1 497.4 1013.5 496.8Z" fill="#22a884"/><path d="M998.8 496.1 995.1 496.4 991.4 496.6 995.1 497.2 998.8 497.8 1002.5 497.6 1006.1 497.3 1002.4 496.7 998.8 496.1Z" fill="#22a884"/><path d="M1270.8 507.1 1267.4 507.6 1263.9 508 1267.8 508.7 1271.3 508.3 1274.7 507.8 1270.8 507.1Z" fill="#1fa287"/><path d="M800.3 480.9 796.4 480.7 792.6 480.6 796.1 481.6 799.7 482.6 803.5 482.7 807.4 482.7 803.8 481.8 800.3 480.9Z" fill="#2ab07f"/><path d="M984.1 495.4 980.4 495.6 976.7 495.8 980.4 496.4 984 497.1 987.7 496.8 991.4 496.6 987.7 496 984.1 495.4Z" fill="#23a983"/><path d="M969.4 494.7 965.7 494.8 962 495.1 965.6 495.7 969.3 496.3 973 496.1 976.7 495.8 973 495.2 969.4 494.7Z" fill="#23a983"/><path d="M954.6 493.9 950.9 494 947.2 494.2 950.9 494.8 954.5 495.5 958.2 495.3 962 495.1 958.3 494.5 954.6 493.9Z" fill="#24aa83"/><path d="M785.5 478.7 781.7 478.5 777.8 478.3 781.3 479.3 784.9 480.3 788.7 480.5 792.6 480.6 789.1 479.6 785.5 478.7Z" fill="#2cb17e"/><path d="M939.9 493.1 936.2 493.2 932.5 493.4 936.1 494 939.8 494.6 943.5 494.4 947.2 494.2 943.6 493.6 939.9 493.1Z" fill="#24aa83"/><path d="M1256.1 506.7 1252.7 507.1 1249.2 507.6 1253.1 508.3 1257 509 1260.5 508.5 1263.9 508 1260 507.3 1256.1 506.7Z" fill="#20a386"/><path d="M925.2 492.2 921.5 492.3 917.7 492.5 921.4 493.1 925 493.7 928.7 493.6 932.5 493.4 928.9 492.8 925.2 492.2Z" fill="#25ab82"/><path d="M1241.4 506.2 1238 506.7 1234.5 507.1 1238.4 507.8 1242.2 508.5 1245.7 508.1 1249.2 507.6 1245.3 506.9 1241.4 506.2Z" fill="#20a386"/><path d="M1226.7 505.8 1223.3 506.2 1219.8 506.7 1223.6 507.4 1227.5 508.1 1231 507.6 1234.5 507.1 1230.6 506.5 1226.7 505.8Z" fill="#20a386"/><path d="M910.5 491.3 906.8 491.4 903 491.6 906.6 492.2 910.2 492.8 914 492.7 917.7 492.5 914.1 491.9 910.5 491.3Z" fill="#25ac82"/><path d="M770.8 476.5 766.9 476.3 763 476 766.5 477 770 478 773.9 478.1 777.8 478.3 774.3 477.4 770.8 476.5Z" fill="#2eb37c"/><path d="M1212 505.3 1208.5 505.8 1205 506.2 1208.9 506.9 1212.8 507.6 1216.3 507.1 1219.8 506.7 1215.9 506 1212 505.3Z" fill="#20a486"/><path d="M1197.3 504.9 1193.8 505.3 1190.3 505.7 1194.2 506.4 1198 507.1 1201.5 506.7 1205 506.2 1201.2 505.5 1197.3 504.9Z" fill="#20a486"/><path d="M895.8 490.4 892 490.5 888.3 490.6 891.9 491.2 895.5 491.9 899.2 491.7 903 491.6 899.4 491 895.8 490.4Z" fill="#25ac82"/><path d="M1182.6 504.4 1179.1 504.8 1175.6 505.2 1179.4 505.9 1183.3 506.6 1186.8 506.2 1190.3 505.7 1186.5 505.1 1182.6 504.4Z" fill="#20a486"/><path d="M697.1 473.2 693.2 473 696.6 472 700 471.2 703.9 471.4 700.5 472.2 697.1 473.2Z" fill="#32b67a"/><path d="M1167.9 503.9 1164.4 504.3 1160.9 504.7 1164.7 505.4 1168.5 506.1 1172.1 505.7 1175.6 505.2 1171.8 504.6 1167.9 503.9Z" fill="#21a585"/><path d="M881.1 489.4 877.3 489.5 873.5 489.6 877.1 490.2 880.7 490.9 884.5 490.7 888.3 490.6 884.7 490 881.1 489.4Z" fill="#26ad81"/><path d="M756 474.6 752.1 474.3 748.2 474 751.7 474.7 755.2 475.6 759.1 475.8 763 476 759.5 475.2 756 474.6Z" fill="#31b57b"/><path d="M1153.2 503.4 1149.7 503.8 1146.1 504.2 1150 504.9 1153.8 505.6 1157.3 505.1 1160.9 504.7 1157.1 504.1 1153.2 503.4Z" fill="#21a585"/><path d="M1138.5 502.9 1135 503.3 1131.4 503.7 1135.2 504.3 1139 505 1142.6 504.6 1146.1 504.2 1142.3 503.5 1138.5 502.9Z" fill="#21a685"/><path d="M866.3 488.4 862.6 488.4 858.8 488.5 862.3 489.1 865.9 489.8 869.7 489.7 873.5 489.6 869.9 489 866.3 488.4Z" fill="#27ad81"/><path d="M1123.8 502.4 1120.3 502.7 1116.7 503.1 1120.5 503.8 1124.3 504.4 1127.8 504 1131.4 503.7 1127.6 503 1123.8 502.4Z" fill="#21a685"/><path d="M1109.1 501.8 1105.5 502.2 1102 502.5 1105.7 503.2 1109.5 503.8 1113.1 503.5 1116.7 503.1 1112.9 502.4 1109.1 501.8Z" fill="#21a685"/><path d="M851.6 487.3 847.8 487.3 844 487.4 847.6 488 851.1 488.7 855 488.6 858.8 488.5 855.2 487.9 851.6 487.3Z" fill="#28ae80"/><path d="M741.3 473 737.3 472.6 733.4 472.3 736.9 472.8 740.4 473.5 744.3 473.7 748.2 474 744.7 473.4 741.3 473Z" fill="#32b67a"/><path d="M1094.4 501.2 1090.8 501.6 1087.2 501.9 1091 502.6 1094.8 503.2 1098.4 502.9 1102 502.5 1098.2 501.9 1094.4 501.2Z" fill="#22a785"/><path d="M1079.7 500.6 1076.1 501 1072.5 501.3 1076.2 501.9 1080 502.6 1083.6 502.2 1087.2 501.9 1083.5 501.3 1079.7 500.6Z" fill="#22a785"/><path d="M836.9 486.1 833.1 486.1 829.2 486.2 832.8 486.8 836.4 487.5 840.2 487.4 844 487.4 840.4 486.7 836.9 486.1Z" fill="#29af7f"/><path d="M726.5 472 722.6 471.7 718.7 471.4 722.1 471.4 725.6 471.8 729.5 472 733.4 472.3 730 472 726.5 472Z" fill="#34b679"/><path d="M1065 500 1061.4 500.3 1057.8 500.6 1061.5 501.3 1065.2 501.9 1068.9 501.6 1072.5 501.3 1068.7 500.6 1065 500Z" fill="#22a884"/><path d="M711.8 472 707.9 471.7 703.9 471.4 707.3 471 710.8 470.8 714.7 471.1 718.7 471.4 715.2 471.6 711.8 472Z" fill="#34b679"/><path d="M1050.3 499.4 1046.7 499.7 1043 500 1046.7 500.6 1050.5 501.3 1054.1 501 1057.8 500.6 1054 500 1050.3 499.4Z" fill="#22a884"/><path d="M822.1 484.6 818.3 484.6 814.5 484.6 818 485.4 821.6 486.2 825.4 486.2 829.2 486.2 825.7 485.4 822.1 484.6Z" fill="#2ab07f"/><path d="M1035.6 498.7 1031.9 499 1028.3 499.3 1032 499.9 1035.7 500.6 1039.4 500.3 1043 500 1039.3 499.3 1035.6 498.7Z" fill="#23a983"/><path d="M1020.8 498 1017.2 498.3 1013.5 498.6 1017.2 499.2 1020.9 499.9 1024.6 499.6 1028.3 499.3 1024.6 498.7 1020.8 498Z" fill="#23a983"/><path d="M807.4 482.7 803.5 482.7 799.7 482.6 803.2 483.6 806.8 484.6 810.6 484.6 814.5 484.6 810.9 483.7 807.4 482.7Z" fill="#2cb17e"/><path d="M1006.1 497.3 1002.5 497.6 998.8 497.8 1002.5 498.5 1006.2 499.1 1009.9 498.8 1013.5 498.6 1009.8 497.9 1006.1 497.3Z" fill="#24aa83"/><path d="M1263.9 508 1260.5 508.5 1257 509 1260.9 509.7 1264.4 509.2 1267.8 508.7 1263.9 508Z" fill="#20a486"/><path d="M991.4 496.6 987.7 496.8 984 497.1 987.7 497.7 991.4 498.4 995.1 498.1 998.8 497.8 995.1 497.2 991.4 496.6Z" fill="#24aa83"/><path d="M976.7 495.8 973 496.1 969.3 496.3 973 496.9 976.6 497.6 980.3 497.3 984 497.1 980.4 496.4 976.7 495.8Z" fill="#25ab82"/><path d="M792.6 480.6 788.7 480.5 784.9 480.3 788.4 481.4 791.9 482.5 795.8 482.5 799.7 482.6 796.1 481.6 792.6 480.6Z" fill="#2eb37c"/><path d="M962 495.1 958.2 495.3 954.5 495.5 958.2 496.1 961.9 496.8 965.6 496.5 969.3 496.3 965.6 495.7 962 495.1Z" fill="#25ac82"/><path d="M947.2 494.2 943.5 494.4 939.8 494.6 943.4 495.3 947.1 495.9 950.8 495.7 954.5 495.5 950.9 494.8 947.2 494.2Z" fill="#25ac82"/><path d="M932.5 493.4 928.7 493.6 925 493.7 928.6 494.4 932.3 495 936 494.8 939.8 494.6 936.1 494 932.5 493.4Z" fill="#26ad81"/><path d="M1249.2 507.6 1245.7 508.1 1242.2 508.5 1246.1 509.3 1250 510 1253.5 509.5 1257 509 1253.1 508.3 1249.2 507.6Z" fill="#21a585"/><path d="M777.8 478.3 773.9 478.1 770 478 773.6 479 777.1 480.1 781 480.2 784.9 480.3 781.3 479.3 777.8 478.3Z" fill="#2fb47c"/><path d="M1234.5 507.1 1231 507.6 1227.5 508.1 1231.4 508.8 1235.3 509.5 1238.8 509 1242.2 508.5 1238.4 507.8 1234.5 507.1Z" fill="#21a585"/><path d="M917.7 492.5 914 492.7 910.2 492.8 913.9 493.5 917.5 494.1 921.3 493.9 925 493.7 921.4 493.1 917.7 492.5Z" fill="#27ad81"/><path d="M1219.8 506.7 1216.3 507.1 1212.8 507.6 1216.6 508.3 1220.5 509 1224 508.6 1227.5 508.1 1223.6 507.4 1219.8 506.7Z" fill="#21a585"/><path d="M1205 506.2 1201.5 506.7 1198 507.1 1201.9 507.8 1205.7 508.5 1209.2 508.1 1212.8 507.6 1208.9 506.9 1205 506.2Z" fill="#21a685"/><path d="M903 491.6 899.2 491.7 895.5 491.9 899.1 492.5 902.7 493.2 906.5 493 910.2 492.8 906.6 492.2 903 491.6Z" fill="#27ad81"/><path d="M1190.3 505.7 1186.8 506.2 1183.3 506.6 1187.1 507.3 1191 508 1194.5 507.6 1198 507.1 1194.2 506.4 1190.3 505.7Z" fill="#21a685"/><path d="M1175.6 505.2 1172.1 505.7 1168.5 506.1 1172.4 506.8 1176.2 507.5 1179.7 507.1 1183.3 506.6 1179.4 505.9 1175.6 505.2Z" fill="#22a785"/><path d="M763 476 759.1 475.8 755.2 475.6 758.7 476.6 762.3 477.6 766.2 477.8 770 478 766.5 477 763 476Z" fill="#32b67a"/><path d="M888.3 490.6 884.5 490.7 880.7 490.9 884.3 491.5 887.9 492.2 891.7 492 895.5 491.9 891.9 491.2 888.3 490.6Z" fill="#28ae80"/><path d="M1160.9 504.7 1157.3 505.1 1153.8 505.6 1157.6 506.2 1161.4 507 1165 506.5 1168.5 506.1 1164.7 505.4 1160.9 504.7Z" fill="#22a785"/><path d="M1146.1 504.2 1142.6 504.6 1139 505 1142.8 505.7 1146.6 506.4 1150.2 506 1153.8 505.6 1150 504.9 1146.1 504.2Z" fill="#22a785"/><path d="M873.5 489.6 869.7 489.7 865.9 489.8 869.5 490.5 873.1 491.1 876.9 491 880.7 490.9 877.1 490.2 873.5 489.6Z" fill="#29af7f"/><path d="M1131.4 503.7 1127.8 504 1124.3 504.4 1128.1 505.1 1131.9 505.8 1135.4 505.4 1139 505 1135.2 504.3 1131.4 503.7Z" fill="#22a884"/><path d="M703.9 471.4 700 471.2 703.4 470.7 706.8 470.5 710.8 470.8 707.3 471 703.9 471.4Z" fill="#38b977"/><path d="M1116.7 503.1 1113.1 503.5 1109.5 503.8 1113.3 504.5 1117.1 505.2 1120.7 504.8 1124.3 504.4 1120.5 503.8 1116.7 503.1Z" fill="#22a884"/><path d="M748.2 474 744.3 473.7 740.4 473.5 743.9 474.3 747.4 475.2 751.3 475.4 755.2 475.6 751.7 474.7 748.2 474Z" fill="#35b779"/><path d="M858.8 488.5 855 488.6 851.1 488.7 854.7 489.3 858.3 490 862.1 489.9 865.9 489.8 862.3 489.1 858.8 488.5Z" fill="#2ab07f"/><path d="M1102 502.5 1098.4 502.9 1094.8 503.2 1098.5 503.9 1102.3 504.6 1105.9 504.2 1109.5 503.8 1105.7 503.2 1102 502.5Z" fill="#23a983"/><path d="M1087.2 501.9 1083.6 502.2 1080 502.6 1083.8 503.3 1087.5 504 1091.1 503.6 1094.8 503.2 1091 502.6 1087.2 501.9Z" fill="#23a983"/><path d="M844 487.4 840.2 487.4 836.4 487.5 839.9 488.2 843.5 488.9 847.3 488.8 851.1 488.7 847.6 488 844 487.4Z" fill="#2ab07f"/><path d="M1072.5 501.3 1068.9 501.6 1065.2 501.9 1069 502.6 1072.8 503.3 1076.4 503 1080 502.6 1076.2 501.9 1072.5 501.3Z" fill="#24aa83"/><path d="M733.4 472.3 729.5 472 725.6 471.8 729.1 472.3 732.6 473 736.5 473.2 740.4 473.5 736.9 472.8 733.4 472.3Z" fill="#37b878"/><path d="M829.2 486.2 825.4 486.2 821.6 486.2 825.1 486.9 828.7 487.6 832.5 487.5 836.4 487.5 832.8 486.8 829.2 486.2Z" fill="#2cb17e"/><path d="M1057.8 500.6 1054.1 501 1050.5 501.3 1054.2 501.9 1058 502.6 1061.6 502.3 1065.2 501.9 1061.5 501.3 1057.8 500.6Z" fill="#24aa83"/><path d="M1043 500 1039.4 500.3 1035.7 500.6 1039.4 501.2 1043.2 501.9 1046.8 501.6 1050.5 501.3 1046.7 500.6 1043 500Z" fill="#25ab82"/><path d="M718.7 471.4 714.7 471.1 710.8 470.8 714.2 470.9 717.7 471.2 721.6 471.5 725.6 471.8 722.1 471.4 718.7 471.4Z" fill="#38b977"/><path d="M1028.3 499.3 1024.6 499.6 1020.9 499.9 1024.7 500.5 1028.4 501.2 1032.1 500.9 1035.7 500.6 1032 499.9 1028.3 499.3Z" fill="#25ab82"/><path d="M814.5 484.6 810.6 484.6 806.8 484.6 810.3 485.5 813.9 486.3 817.7 486.3 821.6 486.2 818 485.4 814.5 484.6Z" fill="#2db27d"/><path d="M1013.5 498.6 1009.9 498.8 1006.2 499.1 1009.9 499.8 1013.6 500.5 1017.3 500.2 1020.9 499.9 1017.2 499.2 1013.5 498.6Z" fill="#25ac82"/><path d="M1257 509 1253.5 509.5 1250 510 1253.9 510.7 1257.4 510.2 1260.9 509.7 1257 509Z" fill="#21a685"/><path d="M998.8 497.8 995.1 498.1 991.4 498.4 995.1 499 998.8 499.7 1002.5 499.4 1006.2 499.1 1002.5 498.5 998.8 497.8Z" fill="#25ac82"/><path d="M799.7 482.6 795.8 482.5 791.9 482.5 795.5 483.6 799 484.6 802.9 484.6 806.8 484.6 803.2 483.6 799.7 482.6Z" fill="#2fb47c"/><path d="M984 497.1 980.3 497.3 976.6 497.6 980.3 498.2 984 498.9 987.7 498.6 991.4 498.4 987.7 497.7 984 497.1Z" fill="#26ad81"/><path d="M969.3 496.3 965.6 496.5 961.9 496.8 965.5 497.4 969.2 498.1 972.9 497.8 976.6 497.6 973 496.9 969.3 496.3Z" fill="#26ad81"/><path d="M954.5 495.5 950.8 495.7 947.1 495.9 950.7 496.6 954.4 497.3 958.1 497 961.9 496.8 958.2 496.1 954.5 495.5Z" fill="#27ad81"/><path d="M784.9 480.3 781 480.2 777.1 480.1 780.6 481.3 784.2 482.4 788.1 482.5 791.9 482.5 788.4 481.4 784.9 480.3Z" fill="#31b57b"/><path d="M939.8 494.6 936 494.8 932.3 495 935.9 495.7 939.6 496.4 943.3 496.1 947.1 495.9 943.4 495.3 939.8 494.6Z" fill="#28ae80"/><path d="M1242.2 508.5 1238.8 509 1235.3 509.5 1239.2 510.3 1243.1 511 1246.5 510.5 1250 510 1246.1 509.3 1242.2 508.5Z" fill="#22a785"/><path d="M925 493.7 921.3 493.9 917.5 494.1 921.1 494.8 924.8 495.5 928.5 495.3 932.3 495 928.6 494.4 925 493.7Z" fill="#28ae80"/><path d="M1227.5 508.1 1224 508.6 1220.5 509 1224.4 509.8 1228.3 510.5 1231.8 510 1235.3 509.5 1231.4 508.8 1227.5 508.1Z" fill="#22a785"/><path d="M1212.8 507.6 1209.2 508.1 1205.7 508.5 1209.6 509.3 1213.5 510 1217 509.5 1220.5 509 1216.6 508.3 1212.8 507.6Z" fill="#22a884"/><path d="M770 478 766.2 477.8 762.3 477.6 765.8 478.8 769.3 480 773.2 480 777.1 480.1 773.6 479 770 478Z" fill="#34b679"/><path d="M910.2 492.8 906.5 493 902.7 493.2 906.3 493.8 910 494.5 913.7 494.3 917.5 494.1 913.9 493.5 910.2 492.8Z" fill="#29af7f"/><path d="M1198 507.1 1194.5 507.6 1191 508 1194.8 508.7 1198.7 509.5 1202.2 509 1205.7 508.5 1201.9 507.8 1198 507.1Z" fill="#22a884"/><path d="M1183.3 506.6 1179.7 507.1 1176.2 507.5 1180 508.2 1183.9 509 1187.4 508.5 1191 508 1187.1 507.3 1183.3 506.6Z" fill="#22a884"/><path d="M895.5 491.9 891.7 492 887.9 492.2 891.5 492.9 895.2 493.5 898.9 493.4 902.7 493.2 899.1 492.5 895.5 491.9Z" fill="#2ab07f"/><path d="M1168.5 506.1 1165 506.5 1161.4 507 1165.3 507.7 1169.1 508.4 1172.6 508 1176.2 507.5 1172.4 506.8 1168.5 506.1Z" fill="#23a983"/><path d="M1153.8 505.6 1150.2 506 1146.6 506.4 1150.5 507.1 1154.3 507.8 1157.9 507.4 1161.4 507 1157.6 506.2 1153.8 505.6Z" fill="#23a983"/><path d="M880.7 490.9 876.9 491 873.1 491.1 876.7 491.8 880.3 492.5 884.1 492.3 887.9 492.2 884.3 491.5 880.7 490.9Z" fill="#2cb17e"/><path d="M1139 505 1135.4 505.4 1131.9 505.8 1135.7 506.5 1139.5 507.3 1143.1 506.8 1146.6 506.4 1142.8 505.7 1139 505Z" fill="#24aa83"/><path d="M755.2 475.6 751.3 475.4 747.4 475.2 750.9 476.2 754.4 477.4 758.4 477.5 762.3 477.6 758.7 476.6 755.2 475.6Z" fill="#37b878"/><path d="M1124.3 504.4 1120.7 504.8 1117.1 505.2 1120.9 505.9 1124.7 506.7 1128.3 506.2 1131.9 505.8 1128.1 505.1 1124.3 504.4Z" fill="#24aa83"/><path d="M865.9 489.8 862.1 489.9 858.3 490 861.9 490.7 865.5 491.4 869.3 491.3 873.1 491.1 869.5 490.5 865.9 489.8Z" fill="#2cb17e"/><path d="M1109.5 503.8 1105.9 504.2 1102.3 504.6 1106.1 505.3 1109.9 506 1113.5 505.6 1117.1 505.2 1113.3 504.5 1109.5 503.8Z" fill="#24aa83"/><path d="M1094.8 503.2 1091.1 503.6 1087.5 504 1091.3 504.7 1095.1 505.4 1098.7 505 1102.3 504.6 1098.5 503.9 1094.8 503.2Z" fill="#25ab82"/><path d="M851.1 488.7 847.3 488.8 843.5 488.9 847.1 489.6 850.7 490.3 854.5 490.1 858.3 490 854.7 489.3 851.1 488.7Z" fill="#2db27d"/><path d="M710.8 470.8 706.8 470.5 710.3 470.6 713.8 471 717.7 471.2 714.2 470.9 710.8 470.8Z" fill="#3dbc74"/><path d="M740.4 473.5 736.5 473.2 732.6 473 736.1 473.8 739.6 474.8 743.5 475 747.4 475.2 743.9 474.3 740.4 473.5Z" fill="#3aba76"/><path d="M1080 502.6 1076.4 503 1072.8 503.3 1076.5 504 1080.3 504.7 1083.9 504.3 1087.5 504 1083.8 503.3 1080 502.6Z" fill="#25ab82"/><path d="M836.4 487.5 832.5 487.5 828.7 487.6 832.3 488.3 835.8 489.1 839.7 489 843.5 488.9 839.9 488.2 836.4 487.5Z" fill="#2eb37c"/><path d="M1065.2 501.9 1061.6 502.3 1058 502.6 1061.7 503.3 1065.5 504 1069.1 503.7 1072.8 503.3 1069 502.6 1065.2 501.9Z" fill="#25ac82"/><path d="M1050.5 501.3 1046.8 501.6 1043.2 501.9 1046.9 502.6 1050.7 503.3 1054.3 503 1058 502.6 1054.2 501.9 1050.5 501.3Z" fill="#25ac82"/><path d="M821.6 486.2 817.7 486.3 813.9 486.3 817.4 487 821 487.8 824.9 487.7 828.7 487.6 825.1 486.9 821.6 486.2Z" fill="#2fb47c"/><path d="M725.6 471.8 721.6 471.5 717.7 471.2 721.2 471.8 724.7 472.5 728.6 472.8 732.6 473 729.1 472.3 725.6 471.8Z" fill="#3bbb75"/><path d="M1035.7 500.6 1032.1 500.9 1028.4 501.2 1032.1 501.9 1035.9 502.6 1039.5 502.3 1043.2 501.9 1039.4 501.2 1035.7 500.6Z" fill="#26ad81"/><path d="M1020.9 499.9 1017.3 500.2 1013.6 500.5 1017.3 501.2 1021 501.9 1024.7 501.5 1028.4 501.2 1024.7 500.5 1020.9 499.9Z" fill="#26ad81"/><path d="M806.8 484.6 802.9 484.6 799 484.6 802.6 485.5 806.2 486.4 810 486.3 813.9 486.3 810.3 485.5 806.8 484.6Z" fill="#31b57b"/><path d="M1006.2 499.1 1002.5 499.4 998.8 499.7 1002.5 500.4 1006.2 501.1 1009.9 500.8 1013.6 500.5 1009.9 499.8 1006.2 499.1Z" fill="#27ad81"/><path d="M1250 510 1246.5 510.5 1243.1 511 1247 511.8 1250.4 511.2 1253.9 510.7 1250 510Z" fill="#22a884"/><path d="M991.4 498.4 987.7 498.6 984 498.9 987.7 499.6 991.4 500.3 995.1 500 998.8 499.7 995.1 499 991.4 498.4Z" fill="#28ae80"/><path d="M976.6 497.6 972.9 497.8 969.2 498.1 972.9 498.8 976.6 499.5 980.3 499.2 984 498.9 980.3 498.2 976.6 497.6Z" fill="#28ae80"/><path d="M791.9 482.5 788.1 482.5 784.2 482.4 787.7 483.5 791.3 484.6 795.2 484.6 799 484.6 795.5 483.6 791.9 482.5Z" fill="#34b679"/><path d="M961.9 496.8 958.1 497 954.4 497.3 958.1 497.9 961.8 498.6 965.5 498.4 969.2 498.1 965.5 497.4 961.9 496.8Z" fill="#29af7f"/><path d="M947.1 495.9 943.3 496.1 939.6 496.4 943.3 497.1 946.9 497.8 950.7 497.5 954.4 497.3 950.7 496.6 947.1 495.9Z" fill="#29af7f"/><path d="M777.1 480.1 773.2 480 769.3 480 772.9 481.2 776.4 482.4 780.3 482.4 784.2 482.4 780.6 481.3 777.1 480.1Z" fill="#35b779"/><path d="M1235.3 509.5 1231.8 510 1228.3 510.5 1232.2 511.3 1236.1 512 1239.6 511.5 1243.1 511 1239.2 510.3 1235.3 509.5Z" fill="#23a983"/><path d="M932.3 495 928.5 495.3 924.8 495.5 928.4 496.2 932.1 496.9 935.8 496.6 939.6 496.4 935.9 495.7 932.3 495Z" fill="#2ab07f"/><path d="M1220.5 509 1217 509.5 1213.5 510 1217.4 510.8 1221.2 511.5 1224.8 511 1228.3 510.5 1224.4 509.8 1220.5 509Z" fill="#23a983"/><path d="M917.5 494.1 913.7 494.3 910 494.5 913.6 495.2 917.3 495.9 921 495.7 924.8 495.5 921.1 494.8 917.5 494.1Z" fill="#2cb17e"/><path d="M1205.7 508.5 1202.2 509 1198.7 509.5 1202.6 510.2 1206.4 511 1210 510.5 1213.5 510 1209.6 509.3 1205.7 508.5Z" fill="#24aa83"/><path d="M1191 508 1187.4 508.5 1183.9 509 1187.7 509.7 1191.6 510.5 1195.1 510 1198.7 509.5 1194.8 508.7 1191 508Z" fill="#24aa83"/><path d="M902.7 493.2 898.9 493.4 895.2 493.5 898.8 494.2 902.4 495 906.2 494.7 910 494.5 906.3 493.8 902.7 493.2Z" fill="#2db27d"/><path d="M1176.2 507.5 1172.6 508 1169.1 508.4 1172.9 509.1 1176.8 509.9 1180.3 509.4 1183.9 509 1180 508.2 1176.2 507.5Z" fill="#24aa83"/><path d="M762.3 477.6 758.4 477.5 754.4 477.4 758 478.6 761.5 479.8 765.4 479.9 769.3 480 765.8 478.8 762.3 477.6Z" fill="#38b977"/><path d="M1161.4 507 1157.9 507.4 1154.3 507.8 1158.1 508.6 1162 509.3 1165.5 508.9 1169.1 508.4 1165.3 507.7 1161.4 507Z" fill="#25ab82"/><path d="M887.9 492.2 884.1 492.3 880.3 492.5 884 493.2 887.6 493.9 891.4 493.7 895.2 493.5 891.5 492.9 887.9 492.2Z" fill="#2db27d"/><path d="M1146.6 506.4 1143.1 506.8 1139.5 507.3 1143.3 508 1147.2 508.7 1150.7 508.3 1154.3 507.8 1150.5 507.1 1146.6 506.4Z" fill="#25ab82"/><path d="M1131.9 505.8 1128.3 506.2 1124.7 506.7 1128.5 507.4 1132.3 508.1 1135.9 507.7 1139.5 507.3 1135.7 506.5 1131.9 505.8Z" fill="#25ac82"/><path d="M873.1 491.1 869.3 491.3 865.5 491.4 869.1 492.1 872.7 492.9 876.5 492.7 880.3 492.5 876.7 491.8 873.1 491.1Z" fill="#2eb37c"/><path d="M1117.1 505.2 1113.5 505.6 1109.9 506 1113.7 506.8 1117.5 507.5 1121.1 507.1 1124.7 506.7 1120.9 505.9 1117.1 505.2Z" fill="#25ac82"/><path d="M747.4 475.2 743.5 475 739.6 474.8 743.1 475.9 746.6 477.1 750.5 477.2 754.4 477.4 750.9 476.2 747.4 475.2Z" fill="#3bbb75"/><path d="M1102.3 504.6 1098.7 505 1095.1 505.4 1098.9 506.1 1102.7 506.9 1106.3 506.5 1109.9 506 1106.1 505.3 1102.3 504.6Z" fill="#26ad81"/><path d="M858.3 490 854.5 490.1 850.7 490.3 854.3 491 857.9 491.7 861.7 491.6 865.5 491.4 861.9 490.7 858.3 490Z" fill="#2fb47c"/><path d="M1087.5 504 1083.9 504.3 1080.3 504.7 1084.1 505.5 1087.8 506.2 1091.5 505.8 1095.1 505.4 1091.3 504.7 1087.5 504Z" fill="#26ad81"/><path d="M717.7 471.2 713.8 471 717.2 471.6 720.7 472.3 724.7 472.5 721.2 471.8 717.7 471.2Z" fill="#40bd72"/><path d="M843.5 488.9 839.7 489 835.8 489.1 839.4 489.8 843 490.6 846.9 490.4 850.7 490.3 847.1 489.6 843.5 488.9Z" fill="#31b57b"/><path d="M1072.8 503.3 1069.1 503.7 1065.5 504 1069.2 504.8 1073 505.5 1076.7 505.1 1080.3 504.7 1076.5 504 1072.8 503.3Z" fill="#27ad81"/><path d="M1058 502.6 1054.3 503 1050.7 503.3 1054.4 504.1 1058.2 504.8 1061.8 504.4 1065.5 504 1061.7 503.3 1058 502.6Z" fill="#27ad81"/><path d="M732.6 473 728.6 472.8 724.7 472.5 728.2 473.4 731.7 474.5 735.6 474.7 739.6 474.8 736.1 473.8 732.6 473Z" fill="#3fbc73"/><path d="M828.7 487.6 824.9 487.7 821 487.8 824.6 488.5 828.2 489.3 832 489.2 835.8 489.1 832.3 488.3 828.7 487.6Z" fill="#32b67a"/><path d="M1043.2 501.9 1039.5 502.3 1035.9 502.6 1039.6 503.3 1043.3 504.1 1047 503.7 1050.7 503.3 1046.9 502.6 1043.2 501.9Z" fill="#28ae80"/><path d="M1028.4 501.2 1024.7 501.5 1021 501.9 1024.8 502.6 1028.5 503.3 1032.2 503 1035.9 502.6 1032.1 501.9 1028.4 501.2Z" fill="#28ae80"/><path d="M813.9 486.3 810 486.3 806.2 486.4 809.7 487.2 813.3 488 817.1 487.9 821 487.8 817.4 487 813.9 486.3Z" fill="#34b679"/><path d="M1013.6 500.5 1009.9 500.8 1006.2 501.1 1009.9 501.8 1013.7 502.5 1017.4 502.2 1021 501.9 1017.3 501.2 1013.6 500.5Z" fill="#29af7f"/><path d="M1243.1 511 1239.6 511.5 1236.1 512 1240 512.8 1243.5 512.3 1247 511.8 1243.1 511Z" fill="#24aa83"/><path d="M998.8 499.7 995.1 500 991.4 500.3 995.1 501 998.8 501.7 1002.5 501.4 1006.2 501.1 1002.5 500.4 998.8 499.7Z" fill="#29af7f"/><path d="M799 484.6 795.2 484.6 791.3 484.6 794.8 485.6 798.4 486.5 802.3 486.5 806.2 486.4 802.6 485.5 799 484.6Z" fill="#35b779"/><path d="M984 498.9 980.3 499.2 976.6 499.5 980.3 500.2 984 500.9 987.7 500.6 991.4 500.3 987.7 499.6 984 498.9Z" fill="#2ab07f"/><path d="M969.2 498.1 965.5 498.4 961.8 498.6 965.4 499.3 969.1 500.1 972.9 499.8 976.6 499.5 972.9 498.8 969.2 498.1Z" fill="#2cb17e"/><path d="M784.2 482.4 780.3 482.4 776.4 482.4 780 483.6 783.5 484.7 787.4 484.7 791.3 484.6 787.7 483.5 784.2 482.4Z" fill="#37b878"/><path d="M954.4 497.3 950.7 497.5 946.9 497.8 950.6 498.5 954.3 499.2 958 498.9 961.8 498.6 958.1 497.9 954.4 497.3Z" fill="#2cb17e"/><path d="M939.6 496.4 935.8 496.6 932.1 496.9 935.8 497.6 939.4 498.3 943.2 498 946.9 497.8 943.3 497.1 939.6 496.4Z" fill="#2db27d"/><path d="M1228.3 510.5 1224.8 511 1221.2 511.5 1225.1 512.3 1229 513.1 1232.5 512.5 1236.1 512 1232.2 511.3 1228.3 510.5Z" fill="#25ab82"/><path d="M1213.5 510 1210 510.5 1206.4 511 1210.3 511.8 1214.2 512.5 1217.7 512 1221.2 511.5 1217.4 510.8 1213.5 510Z" fill="#25ab82"/><path d="M924.8 495.5 921 495.7 917.3 495.9 920.9 496.6 924.6 497.4 928.3 497.1 932.1 496.9 928.4 496.2 924.8 495.5Z" fill="#2eb37c"/><path d="M769.3 480 765.4 479.9 761.5 479.8 765.1 481.1 768.6 482.4 772.5 482.4 776.4 482.4 772.9 481.2 769.3 480Z" fill="#3aba76"/><path d="M1198.7 509.5 1195.1 510 1191.6 510.5 1195.5 511.2 1199.4 512 1202.9 511.5 1206.4 511 1202.6 510.2 1198.7 509.5Z" fill="#25ac82"/><path d="M910 494.5 906.2 494.7 902.4 495 906.1 495.7 909.7 496.4 913.5 496.2 917.3 495.9 913.6 495.2 910 494.5Z" fill="#2eb37c"/><path d="M1183.9 509 1180.3 509.4 1176.8 509.9 1180.6 510.7 1184.5 511.4 1188.1 510.9 1191.6 510.5 1187.7 509.7 1183.9 509Z" fill="#25ac82"/><path d="M1169.1 508.4 1165.5 508.9 1162 509.3 1165.8 510.1 1169.7 510.9 1173.2 510.4 1176.8 509.9 1172.9 509.1 1169.1 508.4Z" fill="#25ac82"/><path d="M895.2 493.5 891.4 493.7 887.6 493.9 891.2 494.7 894.8 495.4 898.6 495.2 902.4 495 898.8 494.2 895.2 493.5Z" fill="#2fb47c"/><path d="M1154.3 507.8 1150.7 508.3 1147.2 508.7 1151 509.5 1154.8 510.3 1158.4 509.8 1162 509.3 1158.1 508.6 1154.3 507.8Z" fill="#26ad81"/><path d="M1139.5 507.3 1135.9 507.7 1132.3 508.1 1136.2 508.9 1140 509.7 1143.6 509.2 1147.2 508.7 1143.3 508 1139.5 507.3Z" fill="#26ad81"/><path d="M880.3 492.5 876.5 492.7 872.7 492.9 876.3 493.6 880 494.4 883.8 494.1 887.6 493.9 884 493.2 880.3 492.5Z" fill="#31b57b"/><path d="M754.4 477.4 750.5 477.2 746.6 477.1 750.1 478.4 753.7 479.7 757.6 479.8 761.5 479.8 758 478.6 754.4 477.4Z" fill="#3dbc74"/><path d="M1124.7 506.7 1121.1 507.1 1117.5 507.5 1121.3 508.3 1125.1 509 1128.7 508.6 1132.3 508.1 1128.5 507.4 1124.7 506.7Z" fill="#27ad81"/><path d="M1109.9 506 1106.3 506.5 1102.7 506.9 1106.5 507.6 1110.3 508.4 1113.9 508 1117.5 507.5 1113.7 506.8 1109.9 506Z" fill="#27ad81"/><path d="M865.5 491.4 861.7 491.6 857.9 491.7 861.5 492.5 865.1 493.3 868.9 493.1 872.7 492.9 869.1 492.1 865.5 491.4Z" fill="#32b67a"/><path d="M724.7 472.5 720.7 472.3 724.2 473.3 727.7 474.3 731.7 474.5 728.2 473.4 724.7 472.5Z" fill="#42be71"/><path d="M1095.1 505.4 1091.5 505.8 1087.8 506.2 1091.6 507 1095.4 507.7 1099.1 507.3 1102.7 506.9 1098.9 506.1 1095.1 505.4Z" fill="#28ae80"/><path d="M850.7 490.3 846.9 490.4 843 490.6 846.6 491.3 850.2 492.1 854 491.9 857.9 491.7 854.3 491 850.7 490.3Z" fill="#32b67a"/><path d="M1080.3 504.7 1076.7 505.1 1073 505.5 1076.8 506.3 1080.6 507 1084.2 506.6 1087.8 506.2 1084.1 505.5 1080.3 504.7Z" fill="#28ae80"/><path d="M739.6 474.8 735.6 474.7 731.7 474.5 735.2 475.7 738.7 476.9 742.7 477 746.6 477.1 743.1 475.9 739.6 474.8Z" fill="#40bd72"/><path d="M1065.5 504 1061.8 504.4 1058.2 504.8 1062 505.6 1065.7 506.3 1069.4 505.9 1073 505.5 1069.2 504.8 1065.5 504Z" fill="#29af7f"/><path d="M835.8 489.1 832 489.2 828.2 489.3 831.7 490.1 835.3 490.9 839.2 490.7 843 490.6 839.4 489.8 835.8 489.1Z" fill="#34b679"/><path d="M1050.7 503.3 1047 503.7 1043.3 504.1 1047.1 504.8 1050.9 505.6 1054.5 505.2 1058.2 504.8 1054.4 504.1 1050.7 503.3Z" fill="#29af7f"/><path d="M1035.9 502.6 1032.2 503 1028.5 503.3 1032.3 504.1 1036 504.8 1039.7 504.4 1043.3 504.1 1039.6 503.3 1035.9 502.6Z" fill="#2ab07f"/><path d="M821 487.8 817.1 487.9 813.3 488 816.9 488.8 820.4 489.6 824.3 489.4 828.2 489.3 824.6 488.5 821 487.8Z" fill="#35b779"/><path d="M1021 501.9 1017.4 502.2 1013.7 502.5 1017.4 503.3 1021.1 504 1024.8 503.7 1028.5 503.3 1024.8 502.6 1021 501.9Z" fill="#2ab07f"/><path d="M1006.2 501.1 1002.5 501.4 998.8 501.7 1002.5 502.5 1006.3 503.2 1010 502.9 1013.7 502.5 1009.9 501.8 1006.2 501.1Z" fill="#2cb17e"/><path d="M806.2 486.4 802.3 486.5 798.4 486.5 802 487.4 805.5 488.2 809.4 488.1 813.3 488 809.7 487.2 806.2 486.4Z" fill="#37b878"/><path d="M1236.1 512 1232.5 512.5 1229 513.1 1232.9 513.8 1236.4 513.3 1240 512.8 1236.1 512Z" fill="#25ac82"/><path d="M991.4 500.3 987.7 500.6 984 500.9 987.7 501.6 991.4 502.4 995.1 502.1 998.8 501.7 995.1 501 991.4 500.3Z" fill="#2db27d"/><path d="M791.3 484.6 787.4 484.7 783.5 484.7 787.1 485.7 790.6 486.7 794.5 486.6 798.4 486.5 794.8 485.6 791.3 484.6Z" fill="#38b977"/><path d="M976.6 499.5 972.9 499.8 969.1 500.1 972.8 500.8 976.5 501.5 980.3 501.2 984 500.9 980.3 500.2 976.6 499.5Z" fill="#2db27d"/><path d="M961.8 498.6 958 498.9 954.3 499.2 958 499.9 961.7 500.7 965.4 500.4 969.1 500.1 965.4 499.3 961.8 498.6Z" fill="#2eb37c"/><path d="M946.9 497.8 943.2 498 939.4 498.3 943.1 499 946.8 499.8 950.5 499.5 954.3 499.2 950.6 498.5 946.9 497.8Z" fill="#2fb47c"/><path d="M776.4 482.4 772.5 482.4 768.6 482.4 772.2 483.6 775.7 484.8 779.6 484.7 783.5 484.7 780 483.6 776.4 482.4Z" fill="#3bbb75"/><path d="M1221.2 511.5 1217.7 512 1214.2 512.5 1218.1 513.3 1222 514.1 1225.5 513.6 1229 513.1 1225.1 512.3 1221.2 511.5Z" fill="#26ad81"/><path d="M932.1 496.9 928.3 497.1 924.6 497.4 928.2 498.1 931.9 498.9 935.7 498.6 939.4 498.3 935.8 497.6 932.1 496.9Z" fill="#2fb47c"/><path d="M1206.4 511 1202.9 511.5 1199.4 512 1203.2 512.8 1207.1 513.6 1210.7 513.1 1214.2 512.5 1210.3 511.8 1206.4 511Z" fill="#26ad81"/><path d="M917.3 495.9 913.5 496.2 909.7 496.4 913.4 497.2 917 497.9 920.8 497.6 924.6 497.4 920.9 496.6 917.3 495.9Z" fill="#31b57b"/><path d="M1191.6 510.5 1188.1 510.9 1184.5 511.4 1188.4 512.2 1192.3 513 1195.8 512.5 1199.4 512 1195.5 511.2 1191.6 510.5Z" fill="#27ad81"/><path d="M1176.8 509.9 1173.2 510.4 1169.7 510.9 1173.5 511.7 1177.4 512.4 1181 511.9 1184.5 511.4 1180.6 510.7 1176.8 509.9Z" fill="#27ad81"/><path d="M902.4 495 898.6 495.2 894.8 495.4 898.5 496.2 902.1 496.9 905.9 496.7 909.7 496.4 906.1 495.7 902.4 495Z" fill="#32b67a"/><path d="M761.5 479.8 757.6 479.8 753.7 479.7 757.2 481 760.8 482.4 764.7 482.4 768.6 482.4 765.1 481.1 761.5 479.8Z" fill="#3fbc73"/><path d="M1162 509.3 1158.4 509.8 1154.8 510.3 1158.7 511.1 1162.5 511.9 1166.1 511.4 1169.7 510.9 1165.8 510.1 1162 509.3Z" fill="#28ae80"/><path d="M1147.2 508.7 1143.6 509.2 1140 509.7 1143.8 510.5 1147.7 511.2 1151.2 510.8 1154.8 510.3 1151 509.5 1147.2 508.7Z" fill="#28ae80"/><path d="M887.6 493.9 883.8 494.1 880 494.4 883.6 495.1 887.2 495.9 891 495.6 894.8 495.4 891.2 494.7 887.6 493.9Z" fill="#32b67a"/><path d="M1132.3 508.1 1128.7 508.6 1125.1 509 1129 509.8 1132.8 510.6 1136.4 510.1 1140 509.7 1136.2 508.9 1132.3 508.1Z" fill="#28ae80"/><path d="M731.7 474.5 727.7 474.3 731.3 475.5 734.8 476.8 738.7 476.9 735.2 475.7 731.7 474.5Z" fill="#44bf70"/><path d="M1117.5 507.5 1113.9 508 1110.3 508.4 1114.1 509.2 1117.9 510 1121.5 509.5 1125.1 509 1121.3 508.3 1117.5 507.5Z" fill="#29af7f"/><path d="M872.7 492.9 868.9 493.1 865.1 493.3 868.7 494 872.3 494.8 876.2 494.6 880 494.4 876.3 493.6 872.7 492.9Z" fill="#34b679"/><path d="M1102.7 506.9 1099.1 507.3 1095.4 507.7 1099.2 508.5 1103 509.3 1106.7 508.8 1110.3 508.4 1106.5 507.6 1102.7 506.9Z" fill="#29af7f"/><path d="M746.6 477.1 742.7 477 738.7 476.9 742.3 478.2 745.8 479.6 749.8 479.7 753.7 479.7 750.1 478.4 746.6 477.1Z" fill="#42be71"/><path d="M857.9 491.7 854 491.9 850.2 492.1 853.8 492.9 857.4 493.7 861.3 493.5 865.1 493.3 861.5 492.5 857.9 491.7Z" fill="#35b779"/><path d="M1087.8 506.2 1084.2 506.6 1080.6 507 1084.4 507.8 1088.2 508.6 1091.8 508.2 1095.4 507.7 1091.6 507 1087.8 506.2Z" fill="#2ab07f"/><path d="M1073 505.5 1069.4 505.9 1065.7 506.3 1069.5 507.1 1073.3 507.9 1076.9 507.4 1080.6 507 1076.8 506.3 1073 505.5Z" fill="#2ab07f"/><path d="M843 490.6 839.2 490.7 835.3 490.9 838.9 491.7 842.5 492.5 846.4 492.3 850.2 492.1 846.6 491.3 843 490.6Z" fill="#37b878"/><path d="M1058.2 504.8 1054.5 505.2 1050.9 505.6 1054.6 506.3 1058.4 507.1 1062.1 506.7 1065.7 506.3 1062 505.6 1058.2 504.8Z" fill="#2cb17e"/><path d="M1043.3 504.1 1039.7 504.4 1036 504.8 1039.8 505.6 1043.5 506.4 1047.2 506 1050.9 505.6 1047.1 504.8 1043.3 504.1Z" fill="#2db27d"/><path d="M828.2 489.3 824.3 489.4 820.4 489.6 824 490.4 827.6 491.2 831.5 491 835.3 490.9 831.7 490.1 828.2 489.3Z" fill="#38b977"/><path d="M1028.5 503.3 1024.8 503.7 1021.1 504 1024.9 504.8 1028.6 505.6 1032.3 505.2 1036 504.8 1032.3 504.1 1028.5 503.3Z" fill="#2db27d"/><path d="M813.3 488 809.4 488.1 805.5 488.2 809.1 489 812.7 489.8 816.6 489.7 820.4 489.6 816.9 488.8 813.3 488Z" fill="#3aba76"/><path d="M1013.7 502.5 1010 502.9 1006.3 503.2 1010 504 1013.7 504.8 1017.4 504.4 1021.1 504 1017.4 503.3 1013.7 502.5Z" fill="#2eb37c"/><path d="M1229 513.1 1225.5 513.6 1222 514.1 1225.9 514.9 1229.4 514.4 1232.9 513.8 1229 513.1Z" fill="#27ad81"/><path d="M998.8 501.7 995.1 502.1 991.4 502.4 995.1 503.2 998.9 503.9 1002.6 503.6 1006.3 503.2 1002.5 502.5 998.8 501.7Z" fill="#2eb37c"/><path d="M798.4 486.5 794.5 486.6 790.6 486.7 794.2 487.6 797.8 488.4 801.7 488.3 805.5 488.2 802 487.4 798.4 486.5Z" fill="#3bbb75"/><path d="M984 500.9 980.3 501.2 976.5 501.5 980.2 502.3 984 503.1 987.7 502.7 991.4 502.4 987.7 501.6 984 500.9Z" fill="#2fb47c"/><path d="M969.1 500.1 965.4 500.4 961.7 500.7 965.4 501.4 969.1 502.2 972.8 501.9 976.5 501.5 972.8 500.8 969.1 500.1Z" fill="#31b57b"/><path d="M783.5 484.7 779.6 484.7 775.7 484.8 779.3 485.9 782.8 486.9 786.7 486.8 790.6 486.7 787.1 485.7 783.5 484.7Z" fill="#3dbc74"/><path d="M954.3 499.2 950.5 499.5 946.8 499.8 950.5 500.5 954.2 501.3 957.9 501 961.7 500.7 958 499.9 954.3 499.2Z" fill="#31b57b"/><path d="M939.4 498.3 935.7 498.6 931.9 498.9 935.6 499.6 939.3 500.4 943 500.1 946.8 499.8 943.1 499 939.4 498.3Z" fill="#32b67a"/><path d="M1214.2 512.5 1210.7 513.1 1207.1 513.6 1211 514.4 1214.9 515.2 1218.4 514.7 1222 514.1 1218.1 513.3 1214.2 512.5Z" fill="#28ae80"/><path d="M768.6 482.4 764.7 482.4 760.8 482.4 764.3 483.7 767.9 484.9 771.8 484.8 775.7 484.8 772.2 483.6 768.6 482.4Z" fill="#40bd72"/><path d="M1199.4 512 1195.8 512.5 1192.3 513 1196.1 513.8 1200 514.6 1203.6 514.1 1207.1 513.6 1203.2 512.8 1199.4 512Z" fill="#28ae80"/><path d="M924.6 497.4 920.8 497.6 917 497.9 920.7 498.7 924.3 499.4 928.1 499.2 931.9 498.9 928.2 498.1 924.6 497.4Z" fill="#34b679"/><path d="M1184.5 511.4 1181 511.9 1177.4 512.4 1181.3 513.2 1185.1 514.1 1188.7 513.5 1192.3 513 1188.4 512.2 1184.5 511.4Z" fill="#29af7f"/><path d="M909.7 496.4 905.9 496.7 902.1 496.9 905.8 497.7 909.4 498.5 913.2 498.2 917 497.9 913.4 497.2 909.7 496.4Z" fill="#34b679"/><path d="M1169.7 510.9 1166.1 511.4 1162.5 511.9 1166.4 512.7 1170.2 513.5 1173.8 513 1177.4 512.4 1173.5 511.7 1169.7 510.9Z" fill="#29af7f"/><path d="M738.7 476.9 734.8 476.8 738.3 478.2 741.9 479.6 745.8 479.6 742.3 478.2 738.7 476.9Z" fill="#46c06f"/><path d="M1154.8 510.3 1151.2 510.8 1147.7 511.2 1151.5 512 1155.4 512.9 1158.9 512.4 1162.5 511.9 1158.7 511.1 1154.8 510.3Z" fill="#2ab07f"/><path d="M894.8 495.4 891 495.6 887.2 495.9 890.9 496.7 894.5 497.4 898.3 497.2 902.1 496.9 898.5 496.2 894.8 495.4Z" fill="#35b779"/><path d="M1140 509.7 1136.4 510.1 1132.8 510.6 1136.6 511.4 1140.5 512.2 1144.1 511.7 1147.7 511.2 1143.8 510.5 1140 509.7Z" fill="#2ab07f"/><path d="M753.7 479.7 749.8 479.7 745.8 479.6 749.4 481 752.9 482.4 756.8 482.4 760.8 482.4 757.2 481 753.7 479.7Z" fill="#44bf70"/><path d="M1125.1 509 1121.5 509.5 1117.9 510 1121.7 510.8 1125.6 511.6 1129.2 511.1 1132.8 510.6 1129 509.8 1125.1 509Z" fill="#2ab07f"/><path d="M880 494.4 876.2 494.6 872.3 494.8 876 495.6 879.6 496.4 883.4 496.1 887.2 495.9 883.6 495.1 880 494.4Z" fill="#37b878"/><path d="M1110.3 508.4 1106.7 508.8 1103 509.3 1106.9 510.1 1110.7 510.9 1114.3 510.4 1117.9 510 1114.1 509.2 1110.3 508.4Z" fill="#2cb17e"/><path d="M865.1 493.3 861.3 493.5 857.4 493.7 861.1 494.5 864.7 495.3 868.5 495 872.3 494.8 868.7 494 865.1 493.3Z" fill="#38b977"/><path d="M1095.4 507.7 1091.8 508.2 1088.2 508.6 1092 509.4 1095.8 510.2 1099.4 509.7 1103 509.3 1099.2 508.5 1095.4 507.7Z" fill="#2cb17e"/><path d="M1080.6 507 1076.9 507.4 1073.3 507.9 1077.1 508.7 1080.9 509.5 1084.5 509 1088.2 508.6 1084.4 507.8 1080.6 507Z" fill="#2db27d"/><path d="M850.2 492.1 846.4 492.3 842.5 492.5 846.1 493.3 849.7 494.1 853.6 493.9 857.4 493.7 853.8 492.9 850.2 492.1Z" fill="#38b977"/><path d="M1065.7 506.3 1062.1 506.7 1058.4 507.1 1062.2 507.9 1066 508.7 1069.6 508.3 1073.3 507.9 1069.5 507.1 1065.7 506.3Z" fill="#2eb37c"/><path d="M1050.9 505.6 1047.2 506 1043.5 506.4 1047.3 507.2 1051.1 508 1054.7 507.6 1058.4 507.1 1054.6 506.3 1050.9 505.6Z" fill="#2eb37c"/><path d="M835.3 490.9 831.5 491 827.6 491.2 831.2 492 834.8 492.9 838.7 492.7 842.5 492.5 838.9 491.7 835.3 490.9Z" fill="#3aba76"/><path d="M1036 504.8 1032.3 505.2 1028.6 505.6 1032.4 506.4 1036.1 507.2 1039.8 506.8 1043.5 506.4 1039.8 505.6 1036 504.8Z" fill="#2fb47c"/><path d="M820.4 489.6 816.6 489.7 812.7 489.8 816.3 490.7 819.9 491.5 823.7 491.4 827.6 491.2 824 490.4 820.4 489.6Z" fill="#3bbb75"/><path d="M1021.1 504 1017.4 504.4 1013.7 504.8 1017.5 505.6 1021.2 506.4 1024.9 506 1028.6 505.6 1024.9 504.8 1021.1 504Z" fill="#2fb47c"/><path d="M1006.3 503.2 1002.6 503.6 998.9 503.9 1002.6 504.7 1006.3 505.5 1010 505.1 1013.7 504.8 1010 504 1006.3 503.2Z" fill="#31b57b"/><path d="M805.5 488.2 801.7 488.3 797.8 488.4 801.3 489.3 804.9 490.2 808.8 490 812.7 489.8 809.1 489 805.5 488.2Z" fill="#3dbc74"/><path d="M1222 514.1 1218.4 514.7 1214.9 515.2 1218.8 516 1222.4 515.5 1225.9 514.9 1222 514.1Z" fill="#29af7f"/><path d="M991.4 502.4 987.7 502.7 984 503.1 987.7 503.9 991.4 504.7 995.1 504.3 998.9 503.9 995.1 503.2 991.4 502.4Z" fill="#32b67a"/><path d="M976.5 501.5 972.8 501.9 969.1 502.2 972.8 503 976.5 503.8 980.2 503.4 984 503.1 980.2 502.3 976.5 501.5Z" fill="#32b67a"/><path d="M790.6 486.7 786.7 486.8 782.8 486.9 786.4 487.8 790 488.7 793.9 488.5 797.8 488.4 794.2 487.6 790.6 486.7Z" fill="#3fbc73"/><path d="M961.7 500.7 957.9 501 954.2 501.3 957.9 502.1 961.6 502.9 965.3 502.5 969.1 502.2 965.4 501.4 961.7 500.7Z" fill="#34b679"/><path d="M946.8 499.8 943 500.1 939.3 500.4 942.9 501.2 946.6 502 950.4 501.6 954.2 501.3 950.5 500.5 946.8 499.8Z" fill="#34b679"/><path d="M775.7 484.8 771.8 484.8 767.9 484.9 771.5 486.1 775 487.1 778.9 487 782.8 486.9 779.3 485.9 775.7 484.8Z" fill="#42be71"/><path d="M1207.1 513.6 1203.6 514.1 1200 514.6 1203.9 515.5 1207.8 516.3 1211.4 515.7 1214.9 515.2 1211 514.4 1207.1 513.6Z" fill="#2ab07f"/><path d="M931.9 498.9 928.1 499.2 924.3 499.4 928 500.2 931.7 501 935.5 500.7 939.3 500.4 935.6 499.6 931.9 498.9Z" fill="#35b779"/><path d="M745.8 479.6 741.9 479.6 745.4 481 749 482.4 752.9 482.4 749.4 481 745.8 479.6Z" fill="#48c16e"/><path d="M1192.3 513 1188.7 513.5 1185.1 514.1 1189 514.9 1192.9 515.7 1196.5 515.2 1200 514.6 1196.1 513.8 1192.3 513Z" fill="#2ab07f"/><path d="M917 497.9 913.2 498.2 909.4 498.5 913.1 499.2 916.8 500 920.6 499.7 924.3 499.4 920.7 498.7 917 497.9Z" fill="#37b878"/><path d="M1177.4 512.4 1173.8 513 1170.2 513.5 1174.1 514.3 1178 515.1 1181.6 514.6 1185.1 514.1 1181.3 513.2 1177.4 512.4Z" fill="#2cb17e"/><path d="M760.8 482.4 756.8 482.4 752.9 482.4 756.5 483.8 760 485.1 764 485 767.9 484.9 764.3 483.7 760.8 482.4Z" fill="#44bf70"/><path d="M1162.5 511.9 1158.9 512.4 1155.4 512.9 1159.2 513.7 1163.1 514.5 1166.7 514 1170.2 513.5 1166.4 512.7 1162.5 511.9Z" fill="#2cb17e"/><path d="M902.1 496.9 898.3 497.2 894.5 497.4 898.2 498.2 901.8 499 905.6 498.7 909.4 498.5 905.8 497.7 902.1 496.9Z" fill="#38b977"/><path d="M1147.7 511.2 1144.1 511.7 1140.5 512.2 1144.3 513 1148.2 513.9 1151.8 513.4 1155.4 512.9 1151.5 512 1147.7 511.2Z" fill="#2db27d"/><path d="M1132.8 510.6 1129.2 511.1 1125.6 511.6 1129.4 512.4 1133.2 513.2 1136.9 512.7 1140.5 512.2 1136.6 511.4 1132.8 510.6Z" fill="#2db27d"/><path d="M887.2 495.9 883.4 496.1 879.6 496.4 883.2 497.2 886.9 498 890.7 497.7 894.5 497.4 890.9 496.7 887.2 495.9Z" fill="#38b977"/><path d="M1117.9 510 1114.3 510.4 1110.7 510.9 1114.5 511.7 1118.3 512.5 1121.9 512.1 1125.6 511.6 1121.7 510.8 1117.9 510Z" fill="#2eb37c"/><path d="M872.3 494.8 868.5 495 864.7 495.3 868.3 496.1 871.9 496.9 875.8 496.6 879.6 496.4 876 495.6 872.3 494.8Z" fill="#3aba76"/><path d="M1103 509.3 1099.4 509.7 1095.8 510.2 1099.6 511 1103.4 511.9 1107 511.4 1110.7 510.9 1106.9 510.1 1103 509.3Z" fill="#2eb37c"/><path d="M1088.2 508.6 1084.5 509 1080.9 509.5 1084.7 510.3 1088.5 511.1 1092.1 510.7 1095.8 510.2 1092 509.4 1088.2 508.6Z" fill="#2fb47c"/><path d="M857.4 493.7 853.6 493.9 849.7 494.1 853.4 494.9 857 495.7 860.8 495.5 864.7 495.3 861.1 494.5 857.4 493.7Z" fill="#3bbb75"/><path d="M1073.3 507.9 1069.6 508.3 1066 508.7 1069.8 509.6 1073.5 510.4 1077.2 509.9 1080.9 509.5 1077.1 508.7 1073.3 507.9Z" fill="#2fb47c"/><path d="M842.5 492.5 838.7 492.7 834.8 492.9 838.4 493.7 842 494.5 845.9 494.3 849.7 494.1 846.1 493.3 842.5 492.5Z" fill="#3dbc74"/><path d="M1058.4 507.1 1054.7 507.6 1051.1 508 1054.8 508.8 1058.6 509.6 1062.3 509.2 1066 508.7 1062.2 507.9 1058.4 507.1Z" fill="#31b57b"/><path d="M1043.5 506.4 1039.8 506.8 1036.1 507.2 1039.9 508 1043.7 508.8 1047.4 508.4 1051.1 508 1047.3 507.2 1043.5 506.4Z" fill="#31b57b"/><path d="M827.6 491.2 823.7 491.4 819.9 491.5 823.5 492.4 827.1 493.3 830.9 493.1 834.8 492.9 831.2 492 827.6 491.2Z" fill="#3fbc73"/><path d="M1028.6 505.6 1024.9 506 1021.2 506.4 1025 507.2 1028.8 508 1032.5 507.6 1036.1 507.2 1032.4 506.4 1028.6 505.6Z" fill="#32b67a"/><path d="M1013.7 504.8 1010 505.1 1006.3 505.5 1010.1 506.3 1013.8 507.2 1017.5 506.8 1021.2 506.4 1017.5 505.6 1013.7 504.8Z" fill="#32b67a"/><path d="M812.7 489.8 808.8 490 804.9 490.2 808.5 491 812.1 491.9 816 491.7 819.9 491.5 816.3 490.7 812.7 489.8Z" fill="#40bd72"/><path d="M998.9 503.9 995.1 504.3 991.4 504.7 995.1 505.5 998.9 506.3 1002.6 505.9 1006.3 505.5 1002.6 504.7 998.9 503.9Z" fill="#34b679"/><path d="M1214.9 515.2 1211.4 515.7 1207.8 516.3 1211.7 517.1 1215.3 516.6 1218.8 516 1214.9 515.2Z" fill="#2cb17e"/><path d="M797.8 488.4 793.9 488.5 790 488.7 793.6 489.6 797.1 490.5 801 490.3 804.9 490.2 801.3 489.3 797.8 488.4Z" fill="#42be71"/><path d="M984 503.1 980.2 503.4 976.5 503.8 980.2 504.6 983.9 505.4 987.7 505 991.4 504.7 987.7 503.9 984 503.1Z" fill="#35b779"/><path d="M969.1 502.2 965.3 502.5 961.6 502.9 965.3 503.7 969 504.5 972.7 504.2 976.5 503.8 972.8 503 969.1 502.2Z" fill="#35b779"/><path d="M782.8 486.9 778.9 487 775 487.1 778.6 488 782.2 489 786.1 488.8 790 488.7 786.4 487.8 782.8 486.9Z" fill="#44bf70"/><path d="M954.2 501.3 950.4 501.6 946.6 502 950.3 502.8 954 503.6 957.8 503.2 961.6 502.9 957.9 502.1 954.2 501.3Z" fill="#37b878"/><path d="M752.9 482.4 749 482.4 752.5 483.8 756.1 485.1 760 485.1 756.5 483.8 752.9 482.4Z" fill="#48c16e"/><path d="M939.3 500.4 935.5 500.7 931.7 501 935.4 501.8 939.1 502.6 942.9 502.3 946.6 502 942.9 501.2 939.3 500.4Z" fill="#38b977"/><path d="M1200 514.6 1196.5 515.2 1192.9 515.7 1196.8 516.5 1200.7 517.4 1204.3 516.8 1207.8 516.3 1203.9 515.5 1200 514.6Z" fill="#2db27d"/><path d="M767.9 484.9 764 485 760 485.1 763.6 486.3 767.2 487.3 771.1 487.2 775 487.1 771.5 486.1 767.9 484.9Z" fill="#46c06f"/><path d="M924.3 499.4 920.6 499.7 916.8 500 920.4 500.9 924.1 501.7 927.9 501.3 931.7 501 928 500.2 924.3 499.4Z" fill="#38b977"/><path d="M1185.1 514.1 1181.6 514.6 1178 515.1 1181.9 516 1185.8 516.8 1189.3 516.2 1192.9 515.7 1189 514.9 1185.1 514.1Z" fill="#2db27d"/><path d="M1170.2 513.5 1166.7 514 1163.1 514.5 1166.9 515.3 1170.8 516.2 1174.4 515.6 1178 515.1 1174.1 514.3 1170.2 513.5Z" fill="#2eb37c"/><path d="M909.4 498.5 905.6 498.7 901.8 499 905.5 499.8 909.2 500.7 913 500.4 916.8 500 913.1 499.2 909.4 498.5Z" fill="#3aba76"/><path d="M1155.4 512.9 1151.8 513.4 1148.2 513.9 1152 514.7 1155.9 515.6 1159.5 515 1163.1 514.5 1159.2 513.7 1155.4 512.9Z" fill="#2eb37c"/><path d="M1140.5 512.2 1136.9 512.7 1133.2 513.2 1137.1 514.1 1140.9 514.9 1144.6 514.4 1148.2 513.9 1144.3 513 1140.5 512.2Z" fill="#2fb47c"/><path d="M894.5 497.4 890.7 497.7 886.9 498 890.5 498.8 894.2 499.6 898 499.3 901.8 499 898.2 498.2 894.5 497.4Z" fill="#3bbb75"/><path d="M1125.6 511.6 1121.9 512.1 1118.3 512.5 1122.2 513.4 1126 514.2 1129.6 513.7 1133.2 513.2 1129.4 512.4 1125.6 511.6Z" fill="#2fb47c"/><path d="M879.6 496.4 875.8 496.6 871.9 496.9 875.6 497.7 879.2 498.6 883.1 498.3 886.9 498 883.2 497.2 879.6 496.4Z" fill="#3dbc74"/><path d="M1110.7 510.9 1107 511.4 1103.4 511.9 1107.2 512.7 1111.1 513.5 1114.7 513 1118.3 512.5 1114.5 511.7 1110.7 510.9Z" fill="#31b57b"/><path d="M1095.8 510.2 1092.1 510.7 1088.5 511.1 1092.3 512 1096.1 512.8 1099.8 512.3 1103.4 511.9 1099.6 511 1095.8 510.2Z" fill="#31b57b"/><path d="M864.7 495.3 860.8 495.5 857 495.7 860.6 496.6 864.3 497.4 868.1 497.2 871.9 496.9 868.3 496.1 864.7 495.3Z" fill="#3fbc73"/><path d="M1080.9 509.5 1077.2 509.9 1073.5 510.4 1077.4 511.2 1081.2 512.1 1084.8 511.6 1088.5 511.1 1084.7 510.3 1080.9 509.5Z" fill="#32b67a"/><path d="M849.7 494.1 845.9 494.3 842 494.5 845.7 495.4 849.3 496.3 853.1 496 857 495.7 853.4 494.9 849.7 494.1Z" fill="#3fbc73"/><path d="M1066 508.7 1062.3 509.2 1058.6 509.6 1062.4 510.5 1066.2 511.3 1069.9 510.9 1073.5 510.4 1069.8 509.6 1066 508.7Z" fill="#32b67a"/><path d="M1051.1 508 1047.4 508.4 1043.7 508.8 1047.5 509.7 1051.3 510.5 1054.9 510.1 1058.6 509.6 1054.8 508.8 1051.1 508Z" fill="#34b679"/><path d="M834.8 492.9 830.9 493.1 827.1 493.3 830.7 494.1 834.3 495 838.2 494.8 842 494.5 838.4 493.7 834.8 492.9Z" fill="#40bd72"/><path d="M1036.1 507.2 1032.5 507.6 1028.8 508 1032.5 508.9 1036.3 509.7 1040 509.3 1043.7 508.8 1039.9 508 1036.1 507.2Z" fill="#34b679"/><path d="M1021.2 506.4 1017.5 506.8 1013.8 507.2 1017.6 508 1021.3 508.9 1025 508.4 1028.8 508 1025 507.2 1021.2 506.4Z" fill="#35b779"/><path d="M819.9 491.5 816 491.7 812.1 491.9 815.7 492.8 819.3 493.7 823.2 493.5 827.1 493.3 823.5 492.4 819.9 491.5Z" fill="#42be71"/><path d="M1006.3 505.5 1002.6 505.9 998.9 506.3 1002.6 507.2 1006.4 508 1010.1 507.6 1013.8 507.2 1010.1 506.3 1006.3 505.5Z" fill="#37b878"/><path d="M804.9 490.2 801 490.3 797.1 490.5 800.7 491.4 804.3 492.3 808.2 492.1 812.1 491.9 808.5 491 804.9 490.2Z" fill="#44bf70"/><path d="M1207.8 516.3 1204.3 516.8 1200.7 517.4 1204.6 518.2 1208.2 517.7 1211.7 517.1 1207.8 516.3Z" fill="#2eb37c"/><path d="M991.4 504.7 987.7 505 983.9 505.4 987.7 506.3 991.4 507.1 995.1 506.7 998.9 506.3 995.1 505.5 991.4 504.7Z" fill="#37b878"/><path d="M976.5 503.8 972.7 504.2 969 504.5 972.7 505.4 976.4 506.2 980.2 505.8 983.9 505.4 980.2 504.6 976.5 503.8Z" fill="#38b977"/><path d="M760 485.1 756.1 485.1 759.7 486.4 763.2 487.5 767.2 487.3 763.6 486.3 760 485.1Z" fill="#4ac16d"/><path d="M790 488.7 786.1 488.8 782.2 489 785.7 489.9 789.3 490.8 793.2 490.7 797.1 490.5 793.6 489.6 790 488.7Z" fill="#46c06f"/><path d="M961.6 502.9 957.8 503.2 954 503.6 957.7 504.4 961.5 505.3 965.2 504.9 969 504.5 965.3 503.7 961.6 502.9Z" fill="#3aba76"/><path d="M775 487.1 771.1 487.2 767.2 487.3 770.7 488.3 774.3 489.3 778.2 489.1 782.2 489 778.6 488 775 487.1Z" fill="#4ac16d"/><path d="M946.6 502 942.9 502.3 939.1 502.6 942.8 503.5 946.5 504.3 950.3 503.9 954 503.6 950.3 502.8 946.6 502Z" fill="#3aba76"/><path d="M931.7 501 927.9 501.3 924.1 501.7 927.8 502.5 931.5 503.3 935.3 503 939.1 502.6 935.4 501.8 931.7 501Z" fill="#3bbb75"/><path d="M1192.9 515.7 1189.3 516.2 1185.8 516.8 1189.7 517.6 1193.6 518.5 1197.1 517.9 1200.7 517.4 1196.8 516.5 1192.9 515.7Z" fill="#2fb47c"/><path d="M1178 515.1 1174.4 515.6 1170.8 516.2 1174.7 517 1178.6 517.9 1182.2 517.3 1185.8 516.8 1181.9 516 1178 515.1Z" fill="#2fb47c"/><path d="M916.8 500 913 500.4 909.2 500.7 912.8 501.5 916.5 502.3 920.3 502 924.1 501.7 920.4 500.9 916.8 500Z" fill="#3dbc74"/><path d="M1163.1 514.5 1159.5 515 1155.9 515.6 1159.8 516.4 1163.6 517.3 1167.2 516.7 1170.8 516.2 1166.9 515.3 1163.1 514.5Z" fill="#31b57b"/><path d="M1148.2 513.9 1144.6 514.4 1140.9 514.9 1144.8 515.8 1148.7 516.6 1152.3 516.1 1155.9 515.6 1152 514.7 1148.2 513.9Z" fill="#31b57b"/><path d="M901.8 499 898 499.3 894.2 499.6 897.9 500.5 901.5 501.3 905.4 501 909.2 500.7 905.5 499.8 901.8 499Z" fill="#3fbc73"/><path d="M1133.2 513.2 1129.6 513.7 1126 514.2 1129.8 515.1 1133.7 516 1137.3 515.4 1140.9 514.9 1137.1 514.1 1133.2 513.2Z" fill="#32b67a"/><path d="M886.9 498 883.1 498.3 879.2 498.6 882.9 499.4 886.5 500.3 890.4 499.9 894.2 499.6 890.5 498.8 886.9 498Z" fill="#3fbc73"/><path d="M1118.3 512.5 1114.7 513 1111.1 513.5 1114.9 514.4 1118.7 515.3 1122.4 514.8 1126 514.2 1122.2 513.4 1118.3 512.5Z" fill="#32b67a"/><path d="M1103.4 511.9 1099.8 512.3 1096.1 512.8 1099.9 513.7 1103.8 514.6 1107.4 514.1 1111.1 513.5 1107.2 512.7 1103.4 511.9Z" fill="#34b679"/><path d="M871.9 496.9 868.1 497.2 864.3 497.4 867.9 498.3 871.6 499.1 875.4 498.9 879.2 498.6 875.6 497.7 871.9 496.9Z" fill="#40bd72"/><path d="M1088.5 511.1 1084.8 511.6 1081.2 512.1 1085 512.9 1088.8 513.8 1092.5 513.3 1096.1 512.8 1092.3 512 1088.5 511.1Z" fill="#34b679"/><path d="M857 495.7 853.1 496 849.3 496.3 852.9 497.1 856.6 498 860.4 497.7 864.3 497.4 860.6 496.6 857 495.7Z" fill="#42be71"/><path d="M1073.5 510.4 1069.9 510.9 1066.2 511.3 1070 512.2 1073.8 513.1 1077.5 512.6 1081.2 512.1 1077.4 511.2 1073.5 510.4Z" fill="#35b779"/><path d="M1058.6 509.6 1054.9 510.1 1051.3 510.5 1055 511.4 1058.8 512.3 1062.5 511.8 1066.2 511.3 1062.4 510.5 1058.6 509.6Z" fill="#35b779"/><path d="M842 494.5 838.2 494.8 834.3 495 837.9 495.9 841.5 496.8 845.4 496.5 849.3 496.3 845.7 495.4 842 494.5Z" fill="#44bf70"/><path d="M1043.7 508.8 1040 509.3 1036.3 509.7 1040.1 510.6 1043.9 511.4 1047.6 511 1051.3 510.5 1047.5 509.7 1043.7 508.8Z" fill="#37b878"/><path d="M827.1 493.3 823.2 493.5 819.3 493.7 822.9 494.6 826.5 495.5 830.4 495.3 834.3 495 830.7 494.1 827.1 493.3Z" fill="#46c06f"/><path d="M1028.8 508 1025 508.4 1021.3 508.9 1025.1 509.7 1028.9 510.6 1032.6 510.2 1036.3 509.7 1032.5 508.9 1028.8 508Z" fill="#38b977"/><path d="M1013.8 507.2 1010.1 507.6 1006.4 508 1010.1 508.9 1013.9 509.7 1017.6 509.3 1021.3 508.9 1017.6 508 1013.8 507.2Z" fill="#38b977"/><path d="M812.1 491.9 808.2 492.1 804.3 492.3 807.9 493.2 811.5 494.2 815.4 493.9 819.3 493.7 815.7 492.8 812.1 491.9Z" fill="#48c16e"/><path d="M998.9 506.3 995.1 506.7 991.4 507.1 995.2 508 998.9 508.8 1002.6 508.4 1006.4 508 1002.6 507.2 998.9 506.3Z" fill="#3aba76"/><path d="M1200.7 517.4 1197.1 517.9 1193.6 518.5 1197.5 519.4 1201 518.8 1204.6 518.2 1200.7 517.4Z" fill="#31b57b"/><path d="M767.2 487.3 763.2 487.5 766.8 488.5 770.4 489.4 774.3 489.3 770.7 488.3 767.2 487.3Z" fill="#4cc26c"/><path d="M983.9 505.4 980.2 505.8 976.4 506.2 980.2 507.1 983.9 507.9 987.7 507.5 991.4 507.1 987.7 506.3 983.9 505.4Z" fill="#3aba76"/><path d="M797.1 490.5 793.2 490.7 789.3 490.8 792.9 491.8 796.5 492.7 800.4 492.5 804.3 492.3 800.7 491.4 797.1 490.5Z" fill="#4ac16d"/><path d="M969 504.5 965.2 504.9 961.5 505.3 965.2 506.1 968.9 507 972.7 506.6 976.4 506.2 972.7 505.4 969 504.5Z" fill="#3bbb75"/><path d="M782.2 489 778.2 489.1 774.3 489.3 777.9 490.3 781.5 491.2 785.4 491 789.3 490.8 785.7 489.9 782.2 489Z" fill="#4cc26c"/><path d="M954 503.6 950.3 503.9 946.5 504.3 950.2 505.2 953.9 506 957.7 505.6 961.5 505.3 957.7 504.4 954 503.6Z" fill="#3dbc74"/><path d="M939.1 502.6 935.3 503 931.5 503.3 935.2 504.2 938.9 505.1 942.7 504.7 946.5 504.3 942.8 503.5 939.1 502.6Z" fill="#3fbc73"/><path d="M1185.8 516.8 1182.2 517.3 1178.6 517.9 1182.5 518.8 1186.4 519.7 1190 519.1 1193.6 518.5 1189.7 517.6 1185.8 516.8Z" fill="#32b67a"/><path d="M924.1 501.7 920.3 502 916.5 502.3 920.2 503.2 923.9 504.1 927.7 503.7 931.5 503.3 927.8 502.5 924.1 501.7Z" fill="#3fbc73"/><path d="M1170.8 516.2 1167.2 516.7 1163.6 517.3 1167.5 518.2 1171.4 519 1175 518.5 1178.6 517.9 1174.7 517 1170.8 516.2Z" fill="#32b67a"/><path d="M1155.9 515.6 1152.3 516.1 1148.7 516.6 1152.5 517.5 1156.4 518.4 1160 517.8 1163.6 517.3 1159.8 516.4 1155.9 515.6Z" fill="#34b679"/><path d="M909.2 500.7 905.4 501 901.5 501.3 905.2 502.2 908.9 503 912.7 502.7 916.5 502.3 912.8 501.5 909.2 500.7Z" fill="#40bd72"/><path d="M1140.9 514.9 1137.3 515.4 1133.7 516 1137.6 516.8 1141.4 517.7 1145 517.2 1148.7 516.6 1144.8 515.8 1140.9 514.9Z" fill="#34b679"/><path d="M894.2 499.6 890.4 499.9 886.5 500.3 890.2 501.1 893.9 502 897.7 501.6 901.5 501.3 897.9 500.5 894.2 499.6Z" fill="#42be71"/><path d="M1126 514.2 1122.4 514.8 1118.7 515.3 1122.6 516.2 1126.4 517 1130.1 516.5 1133.7 516 1129.8 515.1 1126 514.2Z" fill="#35b779"/><path d="M1111.1 513.5 1107.4 514.1 1103.8 514.6 1107.6 515.4 1111.4 516.3 1115.1 515.8 1118.7 515.3 1114.9 514.4 1111.1 513.5Z" fill="#35b779"/><path d="M879.2 498.6 875.4 498.9 871.6 499.1 875.2 500 878.9 500.9 882.7 500.6 886.5 500.3 882.9 499.4 879.2 498.6Z" fill="#44bf70"/><path d="M1096.1 512.8 1092.5 513.3 1088.8 513.8 1092.6 514.7 1096.4 515.6 1100.1 515.1 1103.8 514.6 1099.9 513.7 1096.1 512.8Z" fill="#37b878"/><path d="M864.3 497.4 860.4 497.7 856.6 498 860.2 498.9 863.8 499.8 867.7 499.5 871.6 499.1 867.9 498.3 864.3 497.4Z" fill="#44bf70"/><path d="M1081.2 512.1 1077.5 512.6 1073.8 513.1 1077.6 513.9 1081.4 514.8 1085.1 514.3 1088.8 513.8 1085 512.9 1081.2 512.1Z" fill="#37b878"/><path d="M1066.2 511.3 1062.5 511.8 1058.8 512.3 1062.6 513.1 1066.4 514 1070.1 513.5 1073.8 513.1 1070 512.2 1066.2 511.3Z" fill="#38b977"/><path d="M849.3 496.3 845.4 496.5 841.5 496.8 845.2 497.7 848.8 498.6 852.7 498.3 856.6 498 852.9 497.1 849.3 496.3Z" fill="#46c06f"/><path d="M1051.3 510.5 1047.6 511 1043.9 511.4 1047.6 512.3 1051.4 513.2 1055.1 512.7 1058.8 512.3 1055 511.4 1051.3 510.5Z" fill="#38b977"/><path d="M834.3 495 830.4 495.3 826.5 495.5 830.2 496.4 833.8 497.3 837.7 497.1 841.5 496.8 837.9 495.9 834.3 495Z" fill="#48c16e"/><path d="M1036.3 509.7 1032.6 510.2 1028.9 510.6 1032.7 511.5 1036.4 512.4 1040.2 511.9 1043.9 511.4 1040.1 510.6 1036.3 509.7Z" fill="#3aba76"/><path d="M1021.3 508.9 1017.6 509.3 1013.9 509.7 1017.7 510.6 1021.4 511.5 1025.2 511.1 1028.9 510.6 1025.1 509.7 1021.3 508.9Z" fill="#3bbb75"/><path d="M819.3 493.7 815.4 493.9 811.5 494.2 815.1 495.1 818.7 496 822.6 495.8 826.5 495.5 822.9 494.6 819.3 493.7Z" fill="#4ac16d"/><path d="M1006.4 508 1002.6 508.4 998.9 508.8 1002.7 509.7 1006.4 510.6 1010.2 510.2 1013.9 509.7 1010.1 508.9 1006.4 508Z" fill="#3bbb75"/><path d="M774.3 489.3 770.4 489.4 773.9 490.4 777.5 491.4 781.5 491.2 777.9 490.3 774.3 489.3Z" fill="#50c46a"/><path d="M804.3 492.3 800.4 492.5 796.5 492.7 800.1 493.7 803.7 494.7 807.6 494.4 811.5 494.2 807.9 493.2 804.3 492.3Z" fill="#4cc26c"/><path d="M991.4 507.1 987.7 507.5 983.9 507.9 987.7 508.8 991.4 509.7 995.2 509.3 998.9 508.8 995.2 508 991.4 507.1Z" fill="#3dbc74"/><path d="M1193.6 518.5 1190 519.1 1186.4 519.7 1190.3 520.5 1193.9 520 1197.5 519.4 1193.6 518.5Z" fill="#34b679"/><path d="M976.4 506.2 972.7 506.6 968.9 507 972.6 507.9 976.4 508.8 980.2 508.4 983.9 507.9 980.2 507.1 976.4 506.2Z" fill="#3fbc73"/><path d="M789.3 490.8 785.4 491 781.5 491.2 785.1 492.2 788.7 493.2 792.6 493 796.5 492.7 792.9 491.8 789.3 490.8Z" fill="#4ec36b"/><path d="M961.5 505.3 957.7 505.6 953.9 506 957.6 506.9 961.4 507.8 965.1 507.4 968.9 507 965.2 506.1 961.5 505.3Z" fill="#3fbc73"/><path d="M946.5 504.3 942.7 504.7 938.9 505.1 942.6 505.9 946.3 506.8 950.1 506.4 953.9 506 950.2 505.2 946.5 504.3Z" fill="#40bd72"/><path d="M931.5 503.3 927.7 503.7 923.9 504.1 927.6 504.9 931.3 505.8 935.1 505.4 938.9 505.1 935.2 504.2 931.5 503.3Z" fill="#42be71"/><path d="M1178.6 517.9 1175 518.5 1171.4 519 1175.3 519.9 1179.2 520.8 1182.8 520.2 1186.4 519.7 1182.5 518.8 1178.6 517.9Z" fill="#35b779"/><path d="M1163.6 517.3 1160 517.8 1156.4 518.4 1160.3 519.3 1164.2 520.2 1167.8 519.6 1171.4 519 1167.5 518.2 1163.6 517.3Z" fill="#35b779"/><path d="M916.5 502.3 912.7 502.7 908.9 503 912.6 503.9 916.3 504.8 920.1 504.4 923.9 504.1 920.2 503.2 916.5 502.3Z" fill="#44bf70"/><path d="M1148.7 516.6 1145 517.2 1141.4 517.7 1145.3 518.6 1149.2 519.5 1152.8 519 1156.4 518.4 1152.5 517.5 1148.7 516.6Z" fill="#37b878"/><path d="M901.5 501.3 897.7 501.6 893.9 502 897.6 502.9 901.2 503.7 905.1 503.4 908.9 503 905.2 502.2 901.5 501.3Z" fill="#44bf70"/><path d="M1133.7 516 1130.1 516.5 1126.4 517 1130.3 517.9 1134.2 518.8 1137.8 518.3 1141.4 517.7 1137.6 516.8 1133.7 516Z" fill="#37b878"/><path d="M1118.7 515.3 1115.1 515.8 1111.4 516.3 1115.3 517.2 1119.1 518.1 1122.8 517.6 1126.4 517 1122.6 516.2 1118.7 515.3Z" fill="#38b977"/><path d="M886.5 500.3 882.7 500.6 878.9 500.9 882.5 501.8 886.2 502.7 890 502.3 893.9 502 890.2 501.1 886.5 500.3Z" fill="#46c06f"/><path d="M1103.8 514.6 1100.1 515.1 1096.4 515.6 1100.3 516.5 1104.1 517.4 1107.8 516.9 1111.4 516.3 1107.6 515.4 1103.8 514.6Z" fill="#38b977"/><path d="M871.6 499.1 867.7 499.5 863.8 499.8 867.5 500.7 871.2 501.6 875 501.2 878.9 500.9 875.2 500 871.6 499.1Z" fill="#48c16e"/><path d="M1088.8 513.8 1085.1 514.3 1081.4 514.8 1085.3 515.7 1089.1 516.6 1092.8 516.1 1096.4 515.6 1092.6 514.7 1088.8 513.8Z" fill="#3aba76"/><path d="M1073.8 513.1 1070.1 513.5 1066.4 514 1070.3 514.9 1074.1 515.9 1077.8 515.3 1081.4 514.8 1077.6 513.9 1073.8 513.1Z" fill="#3aba76"/><path d="M856.6 498 852.7 498.3 848.8 498.6 852.5 499.5 856.1 500.4 860 500.1 863.8 499.8 860.2 498.9 856.6 498Z" fill="#4ac16d"/><path d="M1058.8 512.3 1055.1 512.7 1051.4 513.2 1055.2 514.1 1059.1 515.1 1062.8 514.5 1066.4 514 1062.6 513.1 1058.8 512.3Z" fill="#3bbb75"/><path d="M841.5 496.8 837.7 497.1 833.8 497.3 837.4 498.3 841.1 499.2 844.9 498.9 848.8 498.6 845.2 497.7 841.5 496.8Z" fill="#4cc26c"/><path d="M1043.9 511.4 1040.2 511.9 1036.4 512.4 1040.2 513.3 1044 514.2 1047.7 513.7 1051.4 513.2 1047.6 512.3 1043.9 511.4Z" fill="#3dbc74"/><path d="M1028.9 510.6 1025.2 511.1 1021.4 511.5 1025.2 512.4 1029 513.3 1032.7 512.9 1036.4 512.4 1032.7 511.5 1028.9 510.6Z" fill="#3dbc74"/><path d="M826.5 495.5 822.6 495.8 818.7 496 822.4 497 826 497.9 829.9 497.6 833.8 497.3 830.2 496.4 826.5 495.5Z" fill="#4ec36b"/><path d="M1013.9 509.7 1010.2 510.2 1006.4 510.6 1010.2 511.5 1014 512.5 1017.7 512 1021.4 511.5 1017.7 510.6 1013.9 509.7Z" fill="#3fbc73"/><path d="M781.5 491.2 777.5 491.4 781.1 492.4 784.7 493.4 788.7 493.2 785.1 492.2 781.5 491.2Z" fill="#52c569"/><path d="M811.5 494.2 807.6 494.4 803.7 494.7 807.3 495.6 810.9 496.6 814.8 496.3 818.7 496 815.1 495.1 811.5 494.2Z" fill="#50c46a"/><path d="M998.9 508.8 995.2 509.3 991.4 509.7 995.2 510.6 998.9 511.5 1002.7 511.1 1006.4 510.6 1002.7 509.7 998.9 508.8Z" fill="#3fbc73"/><path d="M1186.4 519.7 1182.8 520.2 1179.2 520.8 1183.1 521.7 1186.7 521.1 1190.3 520.5 1186.4 519.7Z" fill="#37b878"/><path d="M983.9 507.9 980.2 508.4 976.4 508.8 980.1 509.7 983.9 510.6 987.6 510.2 991.4 509.7 987.7 508.8 983.9 507.9Z" fill="#40bd72"/><path d="M796.5 492.7 792.6 493 788.7 493.2 792.3 494.2 795.9 495.2 799.8 494.9 803.7 494.7 800.1 493.7 796.5 492.7Z" fill="#52c569"/><path d="M968.9 507 965.1 507.4 961.4 507.8 965.1 508.7 968.8 509.6 972.6 509.2 976.4 508.8 972.6 507.9 968.9 507Z" fill="#42be71"/><path d="M953.9 506 950.1 506.4 946.3 506.8 950.1 507.7 953.8 508.6 957.6 508.2 961.4 507.8 957.6 506.9 953.9 506Z" fill="#44bf70"/><path d="M938.9 505.1 935.1 505.4 931.3 505.8 935 506.7 938.7 507.6 942.5 507.2 946.3 506.8 942.6 505.9 938.9 505.1Z" fill="#44bf70"/><path d="M1171.4 519 1167.8 519.6 1164.2 520.2 1168.1 521.1 1172 522 1175.6 521.4 1179.2 520.8 1175.3 519.9 1171.4 519Z" fill="#38b977"/><path d="M923.9 504.1 920.1 504.4 916.3 504.8 920 505.7 923.7 506.6 927.5 506.2 931.3 505.8 927.6 504.9 923.9 504.1Z" fill="#46c06f"/><path d="M1156.4 518.4 1152.8 519 1149.2 519.5 1153.1 520.4 1156.9 521.3 1160.6 520.8 1164.2 520.2 1160.3 519.3 1156.4 518.4Z" fill="#38b977"/><path d="M908.9 503 905.1 503.4 901.2 503.7 904.9 504.6 908.6 505.6 912.5 505.2 916.3 504.8 912.6 503.9 908.9 503Z" fill="#48c16e"/><path d="M1141.4 517.7 1137.8 518.3 1134.2 518.8 1138 519.7 1141.9 520.7 1145.5 520.1 1149.2 519.5 1145.3 518.6 1141.4 517.7Z" fill="#3aba76"/><path d="M1126.4 517 1122.8 517.6 1119.1 518.1 1123 519 1126.9 520 1130.5 519.4 1134.2 518.8 1130.3 517.9 1126.4 517Z" fill="#3aba76"/><path d="M893.9 502 890 502.3 886.2 502.7 889.9 503.6 893.6 504.5 897.4 504.1 901.2 503.7 897.6 502.9 893.9 502Z" fill="#4ac16d"/><path d="M1111.4 516.3 1107.8 516.9 1104.1 517.4 1108 518.3 1111.8 519.2 1115.5 518.7 1119.1 518.1 1115.3 517.2 1111.4 516.3Z" fill="#3bbb75"/><path d="M878.9 500.9 875 501.2 871.2 501.6 874.8 502.5 878.5 503.4 882.4 503 886.2 502.7 882.5 501.8 878.9 500.9Z" fill="#4ac16d"/><path d="M1096.4 515.6 1092.8 516.1 1089.1 516.6 1092.9 517.6 1096.8 518.5 1100.5 517.9 1104.1 517.4 1100.3 516.5 1096.4 515.6Z" fill="#3bbb75"/><path d="M1081.4 514.8 1077.8 515.3 1074.1 515.9 1077.9 516.8 1081.7 517.7 1085.4 517.2 1089.1 516.6 1085.3 515.7 1081.4 514.8Z" fill="#3dbc74"/><path d="M863.8 499.8 860 500.1 856.1 500.4 859.8 501.3 863.4 502.2 867.3 501.9 871.2 501.6 867.5 500.7 863.8 499.8Z" fill="#4cc26c"/><path d="M1066.4 514 1062.8 514.5 1059.1 515.1 1062.9 516 1066.7 516.9 1070.4 516.4 1074.1 515.9 1070.3 514.9 1066.4 514Z" fill="#3dbc74"/><path d="M848.8 498.6 844.9 498.9 841.1 499.2 844.7 500.1 848.3 501.1 852.2 500.7 856.1 500.4 852.5 499.5 848.8 498.6Z" fill="#4ec36b"/><path d="M1051.4 513.2 1047.7 513.7 1044 514.2 1047.8 515.1 1051.6 516.1 1055.4 515.6 1059.1 515.1 1055.2 514.1 1051.4 513.2Z" fill="#3fbc73"/><path d="M1036.4 512.4 1032.7 512.9 1029 513.3 1032.8 514.3 1036.6 515.2 1040.3 514.7 1044 514.2 1040.2 513.3 1036.4 512.4Z" fill="#40bd72"/><path d="M833.8 497.3 829.9 497.6 826 497.9 829.6 498.9 833.3 499.8 837.2 499.5 841.1 499.2 837.4 498.3 833.8 497.3Z" fill="#50c46a"/><path d="M788.7 493.2 784.7 493.4 788.3 494.4 791.9 495.4 795.9 495.2 792.3 494.2 788.7 493.2Z" fill="#54c568"/><path d="M1021.4 511.5 1017.7 512 1014 512.5 1017.7 513.4 1021.5 514.3 1025.3 513.8 1029 513.3 1025.2 512.4 1021.4 511.5Z" fill="#40bd72"/><path d="M818.7 496 814.8 496.3 810.9 496.6 814.6 497.5 818.2 498.5 822.1 498.2 826 497.9 822.4 497 818.7 496Z" fill="#52c569"/><path d="M1006.4 510.6 1002.7 511.1 998.9 511.5 1002.7 512.5 1006.5 513.4 1010.2 512.9 1014 512.5 1010.2 511.5 1006.4 510.6Z" fill="#42be71"/><path d="M991.4 509.7 987.6 510.2 983.9 510.6 987.6 511.5 991.4 512.5 995.2 512 998.9 511.5 995.2 510.6 991.4 509.7Z" fill="#44bf70"/><path d="M803.7 494.7 799.8 494.9 795.9 495.2 799.5 496.1 803.1 497.1 807 496.9 810.9 496.6 807.3 495.6 803.7 494.7Z" fill="#54c568"/><path d="M1179.2 520.8 1175.6 521.4 1172 522 1175.9 522.9 1179.5 522.3 1183.1 521.7 1179.2 520.8Z" fill="#3aba76"/><path d="M976.4 508.8 972.6 509.2 968.8 509.6 972.6 510.6 976.3 511.5 980.1 511.1 983.9 510.6 980.1 509.7 976.4 508.8Z" fill="#44bf70"/><path d="M961.4 507.8 957.6 508.2 953.8 508.6 957.5 509.6 961.3 510.5 965.1 510.1 968.8 509.6 965.1 508.7 961.4 507.8Z" fill="#46c06f"/><path d="M946.3 506.8 942.5 507.2 938.7 507.6 942.5 508.6 946.2 509.5 950 509.1 953.8 508.6 950.1 507.7 946.3 506.8Z" fill="#48c16e"/><path d="M931.3 505.8 927.5 506.2 923.7 506.6 927.4 507.5 931.1 508.5 934.9 508 938.7 507.6 935 506.7 931.3 505.8Z" fill="#48c16e"/><path d="M1164.2 520.2 1160.6 520.8 1156.9 521.3 1160.8 522.3 1164.7 523.2 1168.4 522.6 1172 522 1168.1 521.1 1164.2 520.2Z" fill="#3bbb75"/><path d="M916.3 504.8 912.5 505.2 908.6 505.6 912.3 506.5 916 507.4 919.9 507 923.7 506.6 920 505.7 916.3 504.8Z" fill="#4ac16d"/><path d="M1149.2 519.5 1145.5 520.1 1141.9 520.7 1145.8 521.6 1149.7 522.5 1153.3 521.9 1156.9 521.3 1153.1 520.4 1149.2 519.5Z" fill="#3bbb75"/><path d="M1134.2 518.8 1130.5 519.4 1126.9 520 1130.7 520.9 1134.6 521.8 1138.3 521.2 1141.9 520.7 1138 519.7 1134.2 518.8Z" fill="#3dbc74"/><path d="M901.2 503.7 897.4 504.1 893.6 504.5 897.3 505.4 900.9 506.3 904.8 505.9 908.6 505.6 904.9 504.6 901.2 503.7Z" fill="#4cc26c"/><path d="M1119.1 518.1 1115.5 518.7 1111.8 519.2 1115.7 520.2 1119.6 521.1 1123.2 520.5 1126.9 520 1123 519 1119.1 518.1Z" fill="#3dbc74"/><path d="M886.2 502.7 882.4 503 878.5 503.4 882.2 504.3 885.9 505.2 889.7 504.9 893.6 504.5 889.9 503.6 886.2 502.7Z" fill="#4ec36b"/><path d="M1104.1 517.4 1100.5 517.9 1096.8 518.5 1100.6 519.4 1104.5 520.4 1108.2 519.8 1111.8 519.2 1108 518.3 1104.1 517.4Z" fill="#3fbc73"/><path d="M1089.1 516.6 1085.4 517.2 1081.7 517.7 1085.6 518.7 1089.4 519.6 1093.1 519 1096.8 518.5 1092.9 517.6 1089.1 516.6Z" fill="#3fbc73"/><path d="M871.2 501.6 867.3 501.9 863.4 502.2 867.1 503.2 870.8 504.1 874.6 503.7 878.5 503.4 874.8 502.5 871.2 501.6Z" fill="#50c46a"/><path d="M1074.1 515.9 1070.4 516.4 1066.7 516.9 1070.5 517.9 1074.3 518.8 1078 518.3 1081.7 517.7 1077.9 516.8 1074.1 515.9Z" fill="#40bd72"/><path d="M856.1 500.4 852.2 500.7 848.3 501.1 852 502 855.7 502.9 859.5 502.6 863.4 502.2 859.8 501.3 856.1 500.4Z" fill="#50c46a"/><path d="M1059.1 515.1 1055.4 515.6 1051.6 516.1 1055.5 517 1059.3 518 1063 517.4 1066.7 516.9 1062.9 516 1059.1 515.1Z" fill="#40bd72"/><path d="M1044 514.2 1040.3 514.7 1036.6 515.2 1040.4 516.2 1044.2 517.1 1047.9 516.6 1051.6 516.1 1047.8 515.1 1044 514.2Z" fill="#42be71"/><path d="M841.1 499.2 837.2 499.5 833.3 499.8 836.9 500.8 840.6 501.7 844.5 501.4 848.3 501.1 844.7 500.1 841.1 499.2Z" fill="#52c569"/><path d="M795.9 495.2 791.9 495.4 795.5 496.4 799.2 497.4 803.1 497.1 799.5 496.1 795.9 495.2Z" fill="#58c765"/><path d="M1029 513.3 1025.3 513.8 1021.5 514.3 1025.3 515.3 1029.1 516.2 1032.9 515.7 1036.6 515.2 1032.8 514.3 1029 513.3Z" fill="#44bf70"/><path d="M826 497.9 822.1 498.2 818.2 498.5 821.8 499.5 825.5 500.5 829.4 500.1 833.3 499.8 829.6 498.9 826 497.9Z" fill="#54c568"/><path d="M1014 512.5 1010.2 512.9 1006.5 513.4 1010.2 514.4 1014 515.3 1017.8 514.8 1021.5 514.3 1017.7 513.4 1014 512.5Z" fill="#44bf70"/><path d="M998.9 511.5 995.2 512 991.4 512.5 995.2 513.4 998.9 514.4 1002.7 513.9 1006.5 513.4 1002.7 512.5 998.9 511.5Z" fill="#46c06f"/><path d="M810.9 496.6 807 496.9 803.1 497.1 806.7 498.1 810.3 499.1 814.3 498.8 818.2 498.5 814.6 497.5 810.9 496.6Z" fill="#56c667"/><path d="M983.9 510.6 980.1 511.1 976.3 511.5 980.1 512.5 983.9 513.4 987.6 512.9 991.4 512.5 987.6 511.5 983.9 510.6Z" fill="#48c16e"/><path d="M1172 522 1168.4 522.6 1164.7 523.2 1168.7 524.1 1172.3 523.5 1175.9 522.9 1172 522Z" fill="#3dbc74"/><path d="M968.8 509.6 965.1 510.1 961.3 510.5 965 511.5 968.8 512.4 972.6 512 976.3 511.5 972.6 510.6 968.8 509.6Z" fill="#48c16e"/><path d="M953.8 508.6 950 509.1 946.2 509.5 949.9 510.5 953.7 511.4 957.5 511 961.3 510.5 957.5 509.6 953.8 508.6Z" fill="#4ac16d"/><path d="M938.7 507.6 934.9 508 931.1 508.5 934.8 509.4 938.6 510.4 942.4 509.9 946.2 509.5 942.5 508.6 938.7 507.6Z" fill="#4cc26c"/><path d="M923.7 506.6 919.9 507 916 507.4 919.7 508.3 923.5 509.3 927.3 508.9 931.1 508.5 927.4 507.5 923.7 506.6Z" fill="#4ec36b"/><path d="M1156.9 521.3 1153.3 521.9 1149.7 522.5 1153.6 523.5 1157.5 524.4 1161.1 523.8 1164.7 523.2 1160.8 522.3 1156.9 521.3Z" fill="#3dbc74"/><path d="M1141.9 520.7 1138.3 521.2 1134.6 521.8 1138.5 522.8 1142.4 523.7 1146 523.1 1149.7 522.5 1145.8 521.6 1141.9 520.7Z" fill="#3fbc73"/><path d="M908.6 505.6 904.8 505.9 900.9 506.3 904.7 507.3 908.4 508.2 912.2 507.8 916 507.4 912.3 506.5 908.6 505.6Z" fill="#4ec36b"/><path d="M1126.9 520 1123.2 520.5 1119.6 521.1 1123.4 522.1 1127.3 523 1131 522.4 1134.6 521.8 1130.7 520.9 1126.9 520Z" fill="#3fbc73"/><path d="M893.6 504.5 889.7 504.9 885.9 505.2 889.5 506.2 893.2 507.1 897.1 506.7 900.9 506.3 897.3 505.4 893.6 504.5Z" fill="#50c46a"/><path d="M1111.8 519.2 1108.2 519.8 1104.5 520.4 1108.4 521.3 1112.2 522.3 1115.9 521.7 1119.6 521.1 1115.7 520.2 1111.8 519.2Z" fill="#40bd72"/><path d="M1096.8 518.5 1093.1 519 1089.4 519.6 1093.3 520.6 1097.1 521.5 1100.8 520.9 1104.5 520.4 1100.6 519.4 1096.8 518.5Z" fill="#42be71"/><path d="M878.5 503.4 874.6 503.7 870.8 504.1 874.4 505.1 878.1 506 882 505.6 885.9 505.2 882.2 504.3 878.5 503.4Z" fill="#52c569"/><path d="M1081.7 517.7 1078 518.3 1074.3 518.8 1078.2 519.8 1082 520.7 1085.7 520.2 1089.4 519.6 1085.6 518.7 1081.7 517.7Z" fill="#42be71"/><path d="M863.4 502.2 859.5 502.6 855.7 502.9 859.3 503.9 863 504.9 866.9 504.5 870.8 504.1 867.1 503.2 863.4 502.2Z" fill="#54c568"/><path d="M1066.7 516.9 1063 517.4 1059.3 518 1063.1 518.9 1066.9 519.9 1070.6 519.4 1074.3 518.8 1070.5 517.9 1066.7 516.9Z" fill="#44bf70"/><path d="M1051.6 516.1 1047.9 516.6 1044.2 517.1 1048 518.1 1051.8 519.1 1055.6 518.5 1059.3 518 1055.5 517 1051.6 516.1Z" fill="#44bf70"/><path d="M848.3 501.1 844.5 501.4 840.6 501.7 844.2 502.7 847.9 503.7 851.8 503.3 855.7 502.9 852 502 848.3 501.1Z" fill="#56c667"/><path d="M803.1 497.1 799.2 497.4 802.8 498.4 806.4 499.4 810.3 499.1 806.7 498.1 803.1 497.1Z" fill="#5ac864"/><path d="M1036.6 515.2 1032.9 515.7 1029.1 516.2 1032.9 517.2 1036.7 518.2 1040.5 517.6 1044.2 517.1 1040.4 516.2 1036.6 515.2Z" fill="#46c06f"/><path d="M833.3 499.8 829.4 500.1 825.5 500.5 829.1 501.4 832.8 502.4 836.7 502.1 840.6 501.7 836.9 500.8 833.3 499.8Z" fill="#58c765"/><path d="M1021.5 514.3 1017.8 514.8 1014 515.3 1017.8 516.3 1021.6 517.3 1025.4 516.8 1029.1 516.2 1025.3 515.3 1021.5 514.3Z" fill="#48c16e"/><path d="M818.2 498.5 814.3 498.8 810.3 499.1 814 500.1 817.6 501.1 821.5 500.8 825.5 500.5 821.8 499.5 818.2 498.5Z" fill="#5ac864"/><path d="M1006.5 513.4 1002.7 513.9 998.9 514.4 1002.7 515.4 1006.5 516.3 1010.3 515.8 1014 515.3 1010.2 514.4 1006.5 513.4Z" fill="#48c16e"/><path d="M991.4 512.5 987.6 512.9 983.9 513.4 987.6 514.4 991.4 515.4 995.2 514.9 998.9 514.4 995.2 513.4 991.4 512.5Z" fill="#4ac16d"/><path d="M1164.7 523.2 1161.1 523.8 1157.5 524.4 1161.4 525.3 1165 524.7 1168.7 524.1 1164.7 523.2Z" fill="#40bd72"/><path d="M976.3 511.5 972.6 512 968.8 512.4 972.5 513.4 976.3 514.4 980.1 513.9 983.9 513.4 980.1 512.5 976.3 511.5Z" fill="#4cc26c"/><path d="M961.3 510.5 957.5 511 953.7 511.4 957.4 512.4 961.2 513.4 965 512.9 968.8 512.4 965 511.5 961.3 510.5Z" fill="#4cc26c"/><path d="M946.2 509.5 942.4 509.9 938.6 510.4 942.3 511.3 946 512.3 949.9 511.9 953.7 511.4 949.9 510.5 946.2 509.5Z" fill="#4ec36b"/><path d="M931.1 508.5 927.3 508.9 923.5 509.3 927.2 510.3 930.9 511.3 934.7 510.8 938.6 510.4 934.8 509.4 931.1 508.5Z" fill="#50c46a"/><path d="M1149.7 522.5 1146 523.1 1142.4 523.7 1146.3 524.7 1150.2 525.6 1153.8 525 1157.5 524.4 1153.6 523.5 1149.7 522.5Z" fill="#40bd72"/><path d="M916 507.4 912.2 507.8 908.4 508.2 912.1 509.2 915.8 510.2 919.6 509.7 923.5 509.3 919.7 508.3 916 507.4Z" fill="#52c569"/><path d="M1134.6 521.8 1131 522.4 1127.3 523 1131.2 524 1135.1 524.9 1138.7 524.3 1142.4 523.7 1138.5 522.8 1134.6 521.8Z" fill="#42be71"/><path d="M900.9 506.3 897.1 506.7 893.2 507.1 896.9 508.1 900.7 509.1 904.5 508.6 908.4 508.2 904.7 507.3 900.9 506.3Z" fill="#54c568"/><path d="M1119.6 521.1 1115.9 521.7 1112.2 522.3 1116.1 523.2 1120 524.2 1123.6 523.6 1127.3 523 1123.4 522.1 1119.6 521.1Z" fill="#42be71"/><path d="M1104.5 520.4 1100.8 520.9 1097.1 521.5 1101 522.5 1104.9 523.5 1108.5 522.9 1112.2 522.3 1108.4 521.3 1104.5 520.4Z" fill="#44bf70"/><path d="M885.9 505.2 882 505.6 878.1 506 881.8 507 885.5 507.9 889.4 507.5 893.2 507.1 889.5 506.2 885.9 505.2Z" fill="#54c568"/><path d="M1089.4 519.6 1085.7 520.2 1082 520.7 1085.9 521.7 1089.7 522.7 1093.4 522.1 1097.1 521.5 1093.3 520.6 1089.4 519.6Z" fill="#46c06f"/><path d="M870.8 504.1 866.9 504.5 863 504.9 866.7 505.8 870.4 506.8 874.3 506.4 878.1 506 874.4 505.1 870.8 504.1Z" fill="#56c667"/><path d="M1074.3 518.8 1070.6 519.4 1066.9 519.9 1070.8 520.9 1074.6 521.9 1078.3 521.3 1082 520.7 1078.2 519.8 1074.3 518.8Z" fill="#46c06f"/><path d="M1059.3 518 1055.6 518.5 1051.8 519.1 1055.7 520 1059.5 521 1063.2 520.5 1066.9 519.9 1063.1 518.9 1059.3 518Z" fill="#48c16e"/><path d="M855.7 502.9 851.8 503.3 847.9 503.7 851.5 504.6 855.2 505.6 859.1 505.2 863 504.9 859.3 503.9 855.7 502.9Z" fill="#58c765"/><path d="M810.3 499.1 806.4 499.4 810 500.5 813.7 501.5 817.6 501.1 814 500.1 810.3 499.1Z" fill="#5cc863"/><path d="M1044.2 517.1 1040.5 517.6 1036.7 518.2 1040.5 519.2 1044.4 520.2 1048.1 519.6 1051.8 519.1 1048 518.1 1044.2 517.1Z" fill="#48c16e"/><path d="M840.6 501.7 836.7 502.1 832.8 502.4 836.4 503.4 840.1 504.4 844 504 847.9 503.7 844.2 502.7 840.6 501.7Z" fill="#5ac864"/><path d="M1029.1 516.2 1025.4 516.8 1021.6 517.3 1025.4 518.3 1029.2 519.3 1033 518.7 1036.7 518.2 1032.9 517.2 1029.1 516.2Z" fill="#4ac16d"/><path d="M825.5 500.5 821.5 500.8 817.6 501.1 821.3 502.1 824.9 503.1 828.8 502.8 832.8 502.4 829.1 501.4 825.5 500.5Z" fill="#5cc863"/><path d="M1014 515.3 1010.3 515.8 1006.5 516.3 1010.3 517.3 1014.1 518.3 1017.9 517.8 1021.6 517.3 1017.8 516.3 1014 515.3Z" fill="#4cc26c"/><path d="M998.9 514.4 995.2 514.9 991.4 515.4 995.2 516.4 999 517.4 1002.7 516.9 1006.5 516.3 1002.7 515.4 998.9 514.4Z" fill="#4cc26c"/><path d="M983.9 513.4 980.1 513.9 976.3 514.4 980.1 515.4 983.8 516.4 987.6 515.9 991.4 515.4 987.6 514.4 983.9 513.4Z" fill="#4ec36b"/><path d="M1157.5 524.4 1153.8 525 1150.2 525.6 1154.1 526.6 1157.7 526 1161.4 525.3 1157.5 524.4Z" fill="#42be71"/><path d="M968.8 512.4 965 512.9 961.2 513.4 964.9 514.4 968.7 515.4 972.5 514.9 976.3 514.4 972.5 513.4 968.8 512.4Z" fill="#50c46a"/><path d="M953.7 511.4 949.9 511.9 946 512.3 949.8 513.3 953.5 514.3 957.4 513.9 961.2 513.4 957.4 512.4 953.7 511.4Z" fill="#52c569"/><path d="M938.6 510.4 934.7 510.8 930.9 511.3 934.7 512.3 938.4 513.3 942.2 512.8 946 512.3 942.3 511.3 938.6 510.4Z" fill="#52c569"/><path d="M923.5 509.3 919.6 509.7 915.8 510.2 919.5 511.2 923.2 512.2 927.1 511.7 930.9 511.3 927.2 510.3 923.5 509.3Z" fill="#54c568"/><path d="M1142.4 523.7 1138.7 524.3 1135.1 524.9 1139 525.9 1142.9 526.9 1146.5 526.2 1150.2 525.6 1146.3 524.7 1142.4 523.7Z" fill="#44bf70"/><path d="M908.4 508.2 904.5 508.6 900.7 509.1 904.4 510.1 908.1 511.1 911.9 510.6 915.8 510.2 912.1 509.2 908.4 508.2Z" fill="#56c667"/><path d="M1127.3 523 1123.6 523.6 1120 524.2 1123.9 525.2 1127.7 526.2 1131.4 525.5 1135.1 524.9 1131.2 524 1127.3 523Z" fill="#46c06f"/><path d="M1112.2 522.3 1108.5 522.9 1104.9 523.5 1108.7 524.4 1112.6 525.4 1116.3 524.8 1120 524.2 1116.1 523.2 1112.2 522.3Z" fill="#46c06f"/><path d="M893.2 507.1 889.4 507.5 885.5 507.9 889.2 508.9 892.9 509.9 896.8 509.5 900.7 509.1 896.9 508.1 893.2 507.1Z" fill="#58c765"/><path d="M1097.1 521.5 1093.4 522.1 1089.7 522.7 1093.6 523.7 1097.5 524.7 1101.2 524.1 1104.9 523.5 1101 522.5 1097.1 521.5Z" fill="#48c16e"/><path d="M878.1 506 874.3 506.4 870.4 506.8 874.1 507.8 877.8 508.8 881.6 508.4 885.5 507.9 881.8 507 878.1 506Z" fill="#5ac864"/><path d="M1082 520.7 1078.3 521.3 1074.6 521.9 1078.5 522.9 1082.3 523.9 1086 523.3 1089.7 522.7 1085.9 521.7 1082 520.7Z" fill="#48c16e"/><path d="M1066.9 519.9 1063.2 520.5 1059.5 521 1063.3 522 1067.2 523 1070.9 522.4 1074.6 521.9 1070.8 520.9 1066.9 519.9Z" fill="#4ac16d"/><path d="M863 504.9 859.1 505.2 855.2 505.6 858.9 506.6 862.6 507.6 866.5 507.2 870.4 506.8 866.7 505.8 863 504.9Z" fill="#5ac864"/><path d="M817.6 501.1 813.7 501.5 817.3 502.5 821 503.5 824.9 503.1 821.3 502.1 817.6 501.1Z" fill="#60ca60"/><path d="M1051.8 519.1 1048.1 519.6 1044.4 520.2 1048.2 521.2 1052 522.2 1055.8 521.6 1059.5 521 1055.7 520 1051.8 519.1Z" fill="#4cc26c"/><path d="M847.9 503.7 844 504 840.1 504.4 843.7 505.4 847.4 506.4 851.3 506 855.2 505.6 851.5 504.6 847.9 503.7Z" fill="#5cc863"/><path d="M1036.7 518.2 1033 518.7 1029.2 519.3 1033.1 520.3 1036.9 521.3 1040.6 520.7 1044.4 520.2 1040.5 519.2 1036.7 518.2Z" fill="#4cc26c"/><path d="M832.8 502.4 828.8 502.8 824.9 503.1 828.6 504.2 832.2 505.2 836.2 504.8 840.1 504.4 836.4 503.4 832.8 502.4Z" fill="#5ec962"/><path d="M1021.6 517.3 1017.9 517.8 1014.1 518.3 1017.9 519.3 1021.7 520.4 1025.5 519.8 1029.2 519.3 1025.4 518.3 1021.6 517.3Z" fill="#4ec36b"/><path d="M1006.5 516.3 1002.7 516.9 999 517.4 1002.8 518.4 1006.6 519.4 1010.3 518.9 1014.1 518.3 1010.3 517.3 1006.5 516.3Z" fill="#50c46a"/><path d="M991.4 515.4 987.6 515.9 983.8 516.4 987.6 517.4 991.4 518.4 995.2 517.9 999 517.4 995.2 516.4 991.4 515.4Z" fill="#50c46a"/><path d="M976.3 514.4 972.5 514.9 968.7 515.4 972.5 516.4 976.2 517.4 980 516.9 983.8 516.4 980.1 515.4 976.3 514.4Z" fill="#52c569"/><path d="M1150.2 525.6 1146.5 526.2 1142.9 526.9 1146.8 527.8 1150.4 527.2 1154.1 526.6 1150.2 525.6Z" fill="#46c06f"/><path d="M961.2 513.4 957.4 513.9 953.5 514.3 957.3 515.4 961.1 516.4 964.9 515.9 968.7 515.4 964.9 514.4 961.2 513.4Z" fill="#54c568"/><path d="M946 512.3 942.2 512.8 938.4 513.3 942.1 514.3 945.9 515.3 949.7 514.8 953.5 514.3 949.8 513.3 946 512.3Z" fill="#56c667"/><path d="M930.9 511.3 927.1 511.7 923.2 512.2 927 513.2 930.7 514.2 934.6 513.7 938.4 513.3 934.7 512.3 930.9 511.3Z" fill="#56c667"/><path d="M915.8 510.2 911.9 510.6 908.1 511.1 911.8 512.1 915.5 513.1 919.4 512.6 923.2 512.2 919.5 511.2 915.8 510.2Z" fill="#58c765"/><path d="M1135.1 524.9 1131.4 525.5 1127.7 526.2 1131.6 527.1 1135.5 528.1 1139.2 527.5 1142.9 526.9 1139 525.9 1135.1 524.9Z" fill="#48c16e"/><path d="M1120 524.2 1116.3 524.8 1112.6 525.4 1116.5 526.4 1120.4 527.4 1124.1 526.8 1127.7 526.2 1123.9 525.2 1120 524.2Z" fill="#4ac16d"/><path d="M900.7 509.1 896.8 509.5 892.9 509.9 896.6 510.9 900.4 512 904.2 511.5 908.1 511.1 904.4 510.1 900.7 509.1Z" fill="#5ac864"/><path d="M1104.9 523.5 1101.2 524.1 1097.5 524.7 1101.3 525.7 1105.2 526.7 1108.9 526 1112.6 525.4 1108.7 524.4 1104.9 523.5Z" fill="#4ac16d"/><path d="M885.5 507.9 881.6 508.4 877.8 508.8 881.5 509.8 885.2 510.8 889.1 510.4 892.9 509.9 889.2 508.9 885.5 507.9Z" fill="#5cc863"/><path d="M1089.7 522.7 1086 523.3 1082.3 523.9 1086.2 524.9 1090.1 525.9 1093.8 525.3 1097.5 524.7 1093.6 523.7 1089.7 522.7Z" fill="#4cc26c"/><path d="M1074.6 521.9 1070.9 522.4 1067.2 523 1071 524 1074.9 525.1 1078.6 524.5 1082.3 523.9 1078.5 522.9 1074.6 521.9Z" fill="#4cc26c"/><path d="M870.4 506.8 866.5 507.2 862.6 507.6 866.3 508.6 870 509.6 873.9 509.2 877.8 508.8 874.1 507.8 870.4 506.8Z" fill="#5ec962"/><path d="M824.9 503.1 821 503.5 824.6 504.5 828.3 505.6 832.2 505.2 828.6 504.2 824.9 503.1Z" fill="#63cb5f"/><path d="M1059.5 521 1055.8 521.6 1052 522.2 1055.9 523.2 1059.7 524.2 1063.4 523.6 1067.2 523 1063.3 522 1059.5 521Z" fill="#4ec36b"/><path d="M855.2 505.6 851.3 506 847.4 506.4 851.1 507.4 854.8 508.5 858.7 508 862.6 507.6 858.9 506.6 855.2 505.6Z" fill="#60ca60"/><path d="M1044.4 520.2 1040.6 520.7 1036.9 521.3 1040.7 522.3 1044.5 523.3 1048.3 522.8 1052 522.2 1048.2 521.2 1044.4 520.2Z" fill="#50c46a"/><path d="M840.1 504.4 836.2 504.8 832.2 505.2 835.9 506.2 839.6 507.2 843.5 506.8 847.4 506.4 843.7 505.4 840.1 504.4Z" fill="#60ca60"/><path d="M1029.2 519.3 1025.5 519.8 1021.7 520.4 1025.5 521.4 1029.4 522.4 1033.1 521.9 1036.9 521.3 1033.1 520.3 1029.2 519.3Z" fill="#50c46a"/><path d="M1014.1 518.3 1010.3 518.9 1006.6 519.4 1010.4 520.4 1014.2 521.5 1018 520.9 1021.7 520.4 1017.9 519.3 1014.1 518.3Z" fill="#52c569"/><path d="M999 517.4 995.2 517.9 991.4 518.4 995.2 519.5 999 520.5 1002.8 520 1006.6 519.4 1002.8 518.4 999 517.4Z" fill="#54c568"/><path d="M983.8 516.4 980 516.9 976.2 517.4 980 518.5 983.8 519.5 987.6 519 991.4 518.4 987.6 517.4 983.8 516.4Z" fill="#54c568"/><path d="M968.7 515.4 964.9 515.9 961.1 516.4 964.8 517.4 968.6 518.5 972.4 517.9 976.2 517.4 972.5 516.4 968.7 515.4Z" fill="#56c667"/><path d="M1142.9 526.9 1139.2 527.5 1135.5 528.1 1139.5 529.1 1143.1 528.5 1146.8 527.8 1142.9 526.9Z" fill="#4ac16d"/><path d="M953.5 514.3 949.7 514.8 945.9 515.3 949.7 516.4 953.4 517.4 957.3 516.9 961.1 516.4 957.3 515.4 953.5 514.3Z" fill="#58c765"/><path d="M938.4 513.3 934.6 513.7 930.7 514.2 934.5 515.3 938.2 516.3 942.1 515.8 945.9 515.3 942.1 514.3 938.4 513.3Z" fill="#5ac864"/><path d="M923.2 512.2 919.4 512.6 915.5 513.1 919.3 514.2 923 515.2 926.9 514.7 930.7 514.2 927 513.2 923.2 512.2Z" fill="#5cc863"/><path d="M1127.7 526.2 1124.1 526.8 1120.4 527.4 1124.3 528.4 1128.2 529.4 1131.9 528.8 1135.5 528.1 1131.6 527.1 1127.7 526.2Z" fill="#4cc26c"/><path d="M908.1 511.1 904.2 511.5 900.4 512 904.1 513 907.8 514.1 911.7 513.6 915.5 513.1 911.8 512.1 908.1 511.1Z" fill="#5cc863"/><path d="M1112.6 525.4 1108.9 526 1105.2 526.7 1109.1 527.7 1113 528.7 1116.7 528 1120.4 527.4 1116.5 526.4 1112.6 525.4Z" fill="#4ec36b"/><path d="M892.9 509.9 889.1 510.4 885.2 510.8 888.9 511.9 892.6 512.9 896.5 512.4 900.4 512 896.6 510.9 892.9 509.9Z" fill="#5ec962"/><path d="M1097.5 524.7 1093.8 525.3 1090.1 525.9 1093.9 526.9 1097.8 527.9 1101.5 527.3 1105.2 526.7 1101.3 525.7 1097.5 524.7Z" fill="#4ec36b"/><path d="M1082.3 523.9 1078.6 524.5 1074.9 525.1 1078.7 526.1 1082.6 527.1 1086.3 526.5 1090.1 525.9 1086.2 524.9 1082.3 523.9Z" fill="#50c46a"/><path d="M877.8 508.8 873.9 509.2 870 509.6 873.7 510.7 877.4 511.7 881.3 511.3 885.2 510.8 881.5 509.8 877.8 508.8Z" fill="#60ca60"/><path d="M832.2 505.2 828.3 505.6 832 506.6 835.6 507.6 839.6 507.2 835.9 506.2 832.2 505.2Z" fill="#65cb5e"/><path d="M1067.2 523 1063.4 523.6 1059.7 524.2 1063.6 525.2 1067.4 526.3 1071.2 525.7 1074.9 525.1 1071 524 1067.2 523Z" fill="#50c46a"/><path d="M862.6 507.6 858.7 508 854.8 508.5 858.5 509.5 862.2 510.5 866.1 510.1 870 509.6 866.3 508.6 862.6 507.6Z" fill="#63cb5f"/><path d="M1052 522.2 1048.3 522.8 1044.5 523.3 1048.4 524.4 1052.2 525.4 1056 524.8 1059.7 524.2 1055.9 523.2 1052 522.2Z" fill="#52c569"/><path d="M847.4 506.4 843.5 506.8 839.6 507.2 843.3 508.3 846.9 509.3 850.9 508.9 854.8 508.5 851.1 507.4 847.4 506.4Z" fill="#65cb5e"/><path d="M1036.9 521.3 1033.1 521.9 1029.4 522.4 1033.2 523.5 1037 524.5 1040.8 523.9 1044.5 523.3 1040.7 522.3 1036.9 521.3Z" fill="#54c568"/><path d="M1021.7 520.4 1018 520.9 1014.2 521.5 1018 522.5 1021.8 523.6 1025.6 523 1029.4 522.4 1025.5 521.4 1021.7 520.4Z" fill="#54c568"/><path d="M1006.6 519.4 1002.8 520 999 520.5 1002.8 521.6 1006.6 522.6 1010.4 522 1014.2 521.5 1010.4 520.4 1006.6 519.4Z" fill="#56c667"/><path d="M991.4 518.4 987.6 519 983.8 519.5 987.6 520.6 991.4 521.6 995.2 521.1 999 520.5 995.2 519.5 991.4 518.4Z" fill="#58c765"/><path d="M976.2 517.4 972.4 517.9 968.6 518.5 972.4 519.5 976.2 520.6 980 520 983.8 519.5 980 518.5 976.2 517.4Z" fill="#58c765"/><path d="M961.1 516.4 957.3 516.9 953.4 517.4 957.2 518.5 961 519.5 964.8 519 968.6 518.5 964.8 517.4 961.1 516.4Z" fill="#5ac864"/><path d="M1135.5 528.1 1131.9 528.8 1128.2 529.4 1132.1 530.4 1135.8 529.8 1139.5 529.1 1135.5 528.1Z" fill="#4ec36b"/><path d="M945.9 515.3 942.1 515.8 938.2 516.3 942 517.4 945.8 518.5 949.6 517.9 953.4 517.4 949.7 516.4 945.9 515.3Z" fill="#5cc863"/><path d="M930.7 514.2 926.9 514.7 923 515.2 926.8 516.3 930.5 517.3 934.4 516.8 938.2 516.3 934.5 515.3 930.7 514.2Z" fill="#5ec962"/><path d="M915.5 513.1 911.7 513.6 907.8 514.1 911.6 515.1 915.3 516.2 919.2 515.7 923 515.2 919.3 514.2 915.5 513.1Z" fill="#60ca60"/><path d="M1120.4 527.4 1116.7 528 1113 528.7 1116.9 529.7 1120.8 530.7 1124.5 530.1 1128.2 529.4 1124.3 528.4 1120.4 527.4Z" fill="#50c46a"/><path d="M900.4 512 896.5 512.4 892.6 512.9 896.3 514 900.1 515 903.9 514.6 907.8 514.1 904.1 513 900.4 512Z" fill="#60ca60"/><path d="M1105.2 526.7 1101.5 527.3 1097.8 527.9 1101.7 528.9 1105.6 530 1109.3 529.3 1113 528.7 1109.1 527.7 1105.2 526.7Z" fill="#50c46a"/><path d="M885.2 510.8 881.3 511.3 877.4 511.7 881.1 512.8 884.8 513.9 888.7 513.4 892.6 512.9 888.9 511.9 885.2 510.8Z" fill="#63cb5f"/><path d="M1090.1 525.9 1086.3 526.5 1082.6 527.1 1086.5 528.1 1090.4 529.2 1094.1 528.5 1097.8 527.9 1093.9 526.9 1090.1 525.9Z" fill="#52c569"/><path d="M839.6 507.2 835.6 507.6 839.3 508.7 843 509.7 846.9 509.3 843.3 508.3 839.6 507.2Z" fill="#67cc5c"/><path d="M1074.9 525.1 1071.2 525.7 1067.4 526.3 1071.3 527.3 1075.2 528.4 1078.9 527.7 1082.6 527.1 1078.7 526.1 1074.9 525.1Z" fill="#54c568"/><path d="M870 509.6 866.1 510.1 862.2 510.5 865.9 511.6 869.6 512.6 873.5 512.2 877.4 511.7 873.7 510.7 870 509.6Z" fill="#65cb5e"/><path d="M1059.7 524.2 1056 524.8 1052.2 525.4 1056.1 526.5 1059.9 527.5 1063.7 526.9 1067.4 526.3 1063.6 525.2 1059.7 524.2Z" fill="#54c568"/><path d="M854.8 508.5 850.9 508.9 846.9 509.3 850.6 510.4 854.3 511.4 858.3 511 862.2 510.5 858.5 509.5 854.8 508.5Z" fill="#67cc5c"/><path d="M1044.5 523.3 1040.8 523.9 1037 524.5 1040.9 525.6 1044.7 526.6 1048.5 526 1052.2 525.4 1048.4 524.4 1044.5 523.3Z" fill="#56c667"/><path d="M1029.4 522.4 1025.6 523 1021.8 523.6 1025.7 524.6 1029.5 525.7 1033.3 525.1 1037 524.5 1033.2 523.5 1029.4 522.4Z" fill="#58c765"/><path d="M1014.2 521.5 1010.4 522 1006.6 522.6 1010.4 523.7 1014.3 524.8 1018 524.2 1021.8 523.6 1018 522.5 1014.2 521.5Z" fill="#58c765"/><path d="M999 520.5 995.2 521.1 991.4 521.6 995.2 522.7 999 523.8 1002.8 523.2 1006.6 522.6 1002.8 521.6 999 520.5Z" fill="#5ac864"/><path d="M983.8 519.5 980 520 976.2 520.6 980 521.7 983.8 522.8 987.6 522.2 991.4 521.6 987.6 520.6 983.8 519.5Z" fill="#5cc863"/><path d="M968.6 518.5 964.8 519 961 519.5 964.8 520.6 968.5 521.7 972.4 521.1 976.2 520.6 972.4 519.5 968.6 518.5Z" fill="#5cc863"/><path d="M1128.2 529.4 1124.5 530.1 1120.8 530.7 1124.7 531.7 1128.4 531.1 1132.1 530.4 1128.2 529.4Z" fill="#52c569"/><path d="M953.4 517.4 949.6 517.9 945.8 518.5 949.5 519.5 953.3 520.6 957.1 520.1 961 519.5 957.2 518.5 953.4 517.4Z" fill="#5ec962"/><path d="M938.2 516.3 934.4 516.8 930.5 517.3 934.3 518.4 938.1 519.5 941.9 519 945.8 518.5 942 517.4 938.2 516.3Z" fill="#60ca60"/><path d="M923 515.2 919.2 515.7 915.3 516.2 919 517.3 922.8 518.4 926.7 517.9 930.5 517.3 926.8 516.3 923 515.2Z" fill="#63cb5f"/><path d="M907.8 514.1 903.9 514.6 900.1 515 903.8 516.1 907.5 517.2 911.4 516.7 915.3 516.2 911.6 515.1 907.8 514.1Z" fill="#65cb5e"/><path d="M1113 528.7 1109.3 529.3 1105.6 530 1109.5 531 1113.4 532 1117.1 531.4 1120.8 530.7 1116.9 529.7 1113 528.7Z" fill="#54c568"/><path d="M892.6 512.9 888.7 513.4 884.8 513.9 888.6 514.9 892.3 516 896.2 515.5 900.1 515 896.3 514 892.6 512.9Z" fill="#67cc5c"/><path d="M846.9 509.3 843 509.7 846.7 510.8 850.4 511.9 854.3 511.4 850.6 510.4 846.9 509.3Z" fill="#6ccd5a"/><path d="M1097.8 527.9 1094.1 528.5 1090.4 529.2 1094.3 530.2 1098.2 531.3 1101.9 530.6 1105.6 530 1101.7 528.9 1097.8 527.9Z" fill="#54c568"/><path d="M1082.6 527.1 1078.9 527.7 1075.2 528.4 1079 529.4 1082.9 530.5 1086.6 529.8 1090.4 529.2 1086.5 528.1 1082.6 527.1Z" fill="#56c667"/><path d="M877.4 511.7 873.5 512.2 869.6 512.6 873.3 513.7 877 514.8 880.9 514.3 884.8 513.9 881.1 512.8 877.4 511.7Z" fill="#67cc5c"/><path d="M1067.4 526.3 1063.7 526.9 1059.9 527.5 1063.8 528.6 1067.7 529.6 1071.4 529 1075.2 528.4 1071.3 527.3 1067.4 526.3Z" fill="#58c765"/><path d="M862.2 510.5 858.3 511 854.3 511.4 858 512.5 861.7 513.6 865.7 513.1 869.6 512.6 865.9 511.6 862.2 510.5Z" fill="#69cd5b"/><path d="M1052.2 525.4 1048.5 526 1044.7 526.6 1048.6 527.7 1052.4 528.8 1056.2 528.1 1059.9 527.5 1056.1 526.5 1052.2 525.4Z" fill="#58c765"/><path d="M1037 524.5 1033.3 525.1 1029.5 525.7 1033.3 526.8 1037.2 527.9 1040.9 527.2 1044.7 526.6 1040.9 525.6 1037 524.5Z" fill="#5ac864"/><path d="M1021.8 523.6 1018 524.2 1014.3 524.8 1018.1 525.8 1021.9 526.9 1025.7 526.3 1029.5 525.7 1025.7 524.6 1021.8 523.6Z" fill="#5ac864"/><path d="M1006.6 522.6 1002.8 523.2 999 523.8 1002.8 524.9 1006.7 525.9 1010.5 525.4 1014.3 524.8 1010.4 523.7 1006.6 522.6Z" fill="#5cc863"/><path d="M991.4 521.6 987.6 522.2 983.8 522.8 987.6 523.8 991.4 524.9 995.2 524.4 999 523.8 995.2 522.7 991.4 521.6Z" fill="#5ec962"/><path d="M976.2 520.6 972.4 521.1 968.5 521.7 972.3 522.8 976.1 523.9 980 523.3 983.8 522.8 980 521.7 976.2 520.6Z" fill="#60ca60"/><path d="M961 519.5 957.1 520.1 953.3 520.6 957.1 521.7 960.9 522.8 964.7 522.3 968.5 521.7 964.8 520.6 961 519.5Z" fill="#60ca60"/><path d="M1120.8 530.7 1117.1 531.4 1113.4 532 1117.3 533.1 1121 532.4 1124.7 531.7 1120.8 530.7Z" fill="#56c667"/><path d="M945.8 518.5 941.9 519 938.1 519.5 941.8 520.6 945.6 521.7 949.5 521.2 953.3 520.6 949.5 519.5 945.8 518.5Z" fill="#63cb5f"/><path d="M930.5 517.3 926.7 517.9 922.8 518.4 926.6 519.5 930.3 520.6 934.2 520.1 938.1 519.5 934.3 518.4 930.5 517.3Z" fill="#65cb5e"/><path d="M915.3 516.2 911.4 516.7 907.5 517.2 911.3 518.3 915 519.4 918.9 518.9 922.8 518.4 919 517.3 915.3 516.2Z" fill="#67cc5c"/><path d="M900.1 515 896.2 515.5 892.3 516 896 517.1 899.8 518.3 903.7 517.7 907.5 517.2 903.8 516.1 900.1 515Z" fill="#69cd5b"/><path d="M854.3 511.4 850.4 511.9 854.1 513 857.8 514.1 861.7 513.6 858 512.5 854.3 511.4Z" fill="#6ece58"/><path d="M1105.6 530 1101.9 530.6 1098.2 531.3 1102.1 532.3 1106 533.4 1109.7 532.7 1113.4 532 1109.5 531 1105.6 530Z" fill="#58c765"/><path d="M1090.4 529.2 1086.6 529.8 1082.9 530.5 1086.8 531.5 1090.7 532.6 1094.4 531.9 1098.2 531.3 1094.3 530.2 1090.4 529.2Z" fill="#58c765"/><path d="M884.8 513.9 880.9 514.3 877 514.8 880.7 515.9 884.5 517 888.4 516.5 892.3 516 888.6 514.9 884.8 513.9Z" fill="#6ccd5a"/><path d="M1075.2 528.4 1071.4 529 1067.7 529.6 1071.5 530.7 1075.4 531.8 1079.2 531.1 1082.9 530.5 1079 529.4 1075.2 528.4Z" fill="#5ac864"/><path d="M869.6 512.6 865.7 513.1 861.7 513.6 865.5 514.7 869.2 515.8 873.1 515.3 877 514.8 873.3 513.7 869.6 512.6Z" fill="#6ccd5a"/><path d="M1059.9 527.5 1056.2 528.1 1052.4 528.8 1056.3 529.8 1060.2 530.9 1063.9 530.3 1067.7 529.6 1063.8 528.6 1059.9 527.5Z" fill="#5ac864"/><path d="M1044.7 526.6 1040.9 527.2 1037.2 527.9 1041 528.9 1044.9 530 1048.7 529.4 1052.4 528.8 1048.6 527.7 1044.7 526.6Z" fill="#5cc863"/><path d="M1029.5 525.7 1025.7 526.3 1021.9 526.9 1025.8 528 1029.6 529.1 1033.4 528.5 1037.2 527.9 1033.3 526.8 1029.5 525.7Z" fill="#5ec962"/><path d="M1014.3 524.8 1010.5 525.4 1006.7 525.9 1010.5 527 1014.3 528.2 1018.1 527.5 1021.9 526.9 1018.1 525.8 1014.3 524.8Z" fill="#5ec962"/><path d="M999 523.8 995.2 524.4 991.4 524.9 995.2 526 999 527.2 1002.9 526.6 1006.7 525.9 1002.8 524.9 999 523.8Z" fill="#60ca60"/><path d="M983.8 522.8 980 523.3 976.1 523.9 979.9 525 983.8 526.1 987.6 525.5 991.4 524.9 987.6 523.8 983.8 522.8Z" fill="#63cb5f"/><path d="M968.5 521.7 964.7 522.3 960.9 522.8 964.7 523.9 968.5 525.1 972.3 524.5 976.1 523.9 972.3 522.8 968.5 521.7Z" fill="#65cb5e"/><path d="M953.3 520.6 949.5 521.2 945.6 521.7 949.4 522.9 953.2 524 957 523.4 960.9 522.8 957.1 521.7 953.3 520.6Z" fill="#65cb5e"/><path d="M1113.4 532 1109.7 532.7 1106 533.4 1109.9 534.4 1113.6 533.7 1117.3 533.1 1113.4 532Z" fill="#5ac864"/><path d="M938.1 519.5 934.2 520.1 930.3 520.6 934.1 521.7 937.9 522.9 941.7 522.3 945.6 521.7 941.8 520.6 938.1 519.5Z" fill="#67cc5c"/><path d="M922.8 518.4 918.9 518.9 915 519.4 918.8 520.6 922.6 521.7 926.5 521.1 930.3 520.6 926.6 519.5 922.8 518.4Z" fill="#69cd5b"/><path d="M907.5 517.2 903.7 517.7 899.8 518.3 903.5 519.4 907.3 520.5 911.2 520 915 519.4 911.3 518.3 907.5 517.2Z" fill="#6ccd5a"/><path d="M861.7 513.6 857.8 514.1 861.5 515.2 865.3 516.3 869.2 515.8 865.5 514.7 861.7 513.6Z" fill="#70cf57"/><path d="M1098.2 531.3 1094.4 531.9 1090.7 532.6 1094.6 533.6 1098.5 534.7 1102.2 534 1106 533.4 1102.1 532.3 1098.2 531.3Z" fill="#5ac864"/><path d="M892.3 516 888.4 516.5 884.5 517 888.2 518.2 892 519.3 895.9 518.8 899.8 518.3 896 517.1 892.3 516Z" fill="#6ece58"/><path d="M1082.9 530.5 1079.2 531.1 1075.4 531.8 1079.3 532.8 1083.2 533.9 1087 533.2 1090.7 532.6 1086.8 531.5 1082.9 530.5Z" fill="#5cc863"/><path d="M877 514.8 873.1 515.3 869.2 515.8 872.9 516.9 876.6 518.1 880.6 517.6 884.5 517 880.7 515.9 877 514.8Z" fill="#70cf57"/><path d="M1067.7 529.6 1063.9 530.3 1060.2 530.9 1064 532 1067.9 533.1 1071.7 532.4 1075.4 531.8 1071.5 530.7 1067.7 529.6Z" fill="#5ec962"/><path d="M1052.4 528.8 1048.7 529.4 1044.9 530 1048.7 531.1 1052.6 532.2 1056.4 531.6 1060.2 530.9 1056.3 529.8 1052.4 528.8Z" fill="#5ec962"/><path d="M1037.2 527.9 1033.4 528.5 1029.6 529.1 1033.5 530.2 1037.3 531.3 1041.1 530.7 1044.9 530 1041 528.9 1037.2 527.9Z" fill="#60ca60"/><path d="M1021.9 526.9 1018.1 527.5 1014.3 528.2 1018.2 529.3 1022 530.4 1025.8 529.7 1029.6 529.1 1025.8 528 1021.9 526.9Z" fill="#63cb5f"/><path d="M1006.7 525.9 1002.9 526.6 999 527.2 1002.9 528.3 1006.7 529.4 1010.5 528.8 1014.3 528.2 1010.5 527 1006.7 525.9Z" fill="#63cb5f"/><path d="M991.4 524.9 987.6 525.5 983.8 526.1 987.6 527.3 991.4 528.4 995.2 527.8 999 527.2 995.2 526 991.4 524.9Z" fill="#65cb5e"/><path d="M976.1 523.9 972.3 524.5 968.5 525.1 972.3 526.2 976.1 527.3 979.9 526.7 983.8 526.1 979.9 525 976.1 523.9Z" fill="#67cc5c"/><path d="M960.9 522.8 957 523.4 953.2 524 957 525.1 960.8 526.3 964.6 525.7 968.5 525.1 964.7 523.9 960.9 522.8Z" fill="#69cd5b"/><path d="M945.6 521.7 941.7 522.3 937.9 522.9 941.7 524 945.5 525.1 949.3 524.6 953.2 524 949.4 522.9 945.6 521.7Z" fill="#69cd5b"/><path d="M1106 533.4 1102.2 534 1098.5 534.7 1102.4 535.8 1106.1 535.1 1109.9 534.4 1106 533.4Z" fill="#5cc863"/><path d="M930.3 520.6 926.5 521.1 922.6 521.7 926.4 522.8 930.1 524 934 523.4 937.9 522.9 934.1 521.7 930.3 520.6Z" fill="#6ccd5a"/><path d="M915 519.4 911.2 520 907.3 520.5 911 521.7 914.8 522.8 918.7 522.3 922.6 521.7 918.8 520.6 915 519.4Z" fill="#6ece58"/><path d="M869.2 515.8 865.3 516.3 869 517.4 872.7 518.6 876.6 518.1 872.9 516.9 869.2 515.8Z" fill="#73d056"/><path d="M899.8 518.3 895.9 518.8 892 519.3 895.7 520.5 899.5 521.6 903.4 521.1 907.3 520.5 903.5 519.4 899.8 518.3Z" fill="#70cf57"/><path d="M1090.7 532.6 1087 533.2 1083.2 533.9 1087.1 535 1091 536.1 1094.8 535.4 1098.5 534.7 1094.6 533.6 1090.7 532.6Z" fill="#5ec962"/><path d="M884.5 517 880.6 517.6 876.6 518.1 880.4 519.2 884.1 520.4 888 519.8 892 519.3 888.2 518.2 884.5 517Z" fill="#73d056"/><path d="M1075.4 531.8 1071.7 532.4 1067.9 533.1 1071.8 534.2 1075.7 535.3 1079.5 534.6 1083.2 533.9 1079.3 532.8 1075.4 531.8Z" fill="#60ca60"/><path d="M1060.2 530.9 1056.4 531.6 1052.6 532.2 1056.5 533.3 1060.4 534.4 1064.1 533.8 1067.9 533.1 1064 532 1060.2 530.9Z" fill="#60ca60"/><path d="M1044.9 530 1041.1 530.7 1037.3 531.3 1041.2 532.4 1045.1 533.5 1048.8 532.9 1052.6 532.2 1048.7 531.1 1044.9 530Z" fill="#63cb5f"/><path d="M1029.6 529.1 1025.8 529.7 1022 530.4 1025.9 531.5 1029.7 532.6 1033.5 532 1037.3 531.3 1033.5 530.2 1029.6 529.1Z" fill="#65cb5e"/><path d="M1014.3 528.2 1010.5 528.8 1006.7 529.4 1010.6 530.5 1014.4 531.7 1018.2 531 1022 530.4 1018.2 529.3 1014.3 528.2Z" fill="#65cb5e"/><path d="M999 527.2 995.2 527.8 991.4 528.4 995.2 529.5 999.1 530.7 1002.9 530 1006.7 529.4 1002.9 528.3 999 527.2Z" fill="#67cc5c"/><path d="M983.8 526.1 979.9 526.7 976.1 527.3 979.9 528.5 983.7 529.6 987.6 529 991.4 528.4 987.6 527.3 983.8 526.1Z" fill="#69cd5b"/><path d="M968.5 525.1 964.6 525.7 960.8 526.3 964.6 527.4 968.4 528.6 972.2 528 976.1 527.3 972.3 526.2 968.5 525.1Z" fill="#6ccd5a"/><path d="M953.2 524 949.3 524.6 945.5 525.1 949.3 526.3 953.1 527.5 956.9 526.9 960.8 526.3 957 525.1 953.2 524Z" fill="#6ece58"/><path d="M937.9 522.9 934 523.4 930.1 524 933.9 525.2 937.7 526.3 941.6 525.7 945.5 525.1 941.7 524 937.9 522.9Z" fill="#6ece58"/><path d="M1098.5 534.7 1094.8 535.4 1091 536.1 1094.9 537.2 1098.7 536.5 1102.4 535.8 1098.5 534.7Z" fill="#60ca60"/><path d="M922.6 521.7 918.7 522.3 914.8 522.8 918.6 524 922.4 525.2 926.2 524.6 930.1 524 926.4 522.8 922.6 521.7Z" fill="#70cf57"/><path d="M876.6 518.1 872.7 518.6 876.5 519.8 880.2 520.9 884.1 520.4 880.4 519.2 876.6 518.1Z" fill="#75d054"/><path d="M907.3 520.5 903.4 521.1 899.5 521.6 903.2 522.8 907 524 910.9 523.4 914.8 522.8 911 521.7 907.3 520.5Z" fill="#73d056"/><path d="M892 519.3 888 519.8 884.1 520.4 887.9 521.5 891.6 522.7 895.6 522.2 899.5 521.6 895.7 520.5 892 519.3Z" fill="#75d054"/><path d="M1083.2 533.9 1079.5 534.6 1075.7 535.3 1079.6 536.4 1083.5 537.5 1087.3 536.8 1091 536.1 1087.1 535 1083.2 533.9Z" fill="#63cb5f"/><path d="M1067.9 533.1 1064.1 533.8 1060.4 534.4 1064.3 535.5 1068.2 536.6 1071.9 535.9 1075.7 535.3 1071.8 534.2 1067.9 533.1Z" fill="#65cb5e"/><path d="M1052.6 532.2 1048.8 532.9 1045.1 533.5 1048.9 534.7 1052.8 535.8 1056.6 535.1 1060.4 534.4 1056.5 533.3 1052.6 532.2Z" fill="#65cb5e"/><path d="M1037.3 531.3 1033.5 532 1029.7 532.6 1033.6 533.7 1037.5 534.9 1041.3 534.2 1045.1 533.5 1041.2 532.4 1037.3 531.3Z" fill="#67cc5c"/><path d="M1022 530.4 1018.2 531 1014.4 531.7 1018.3 532.8 1022.1 533.9 1025.9 533.3 1029.7 532.6 1025.9 531.5 1022 530.4Z" fill="#69cd5b"/><path d="M1006.7 529.4 1002.9 530 999.1 530.7 1002.9 531.8 1006.8 533 1010.6 532.3 1014.4 531.7 1010.6 530.5 1006.7 529.4Z" fill="#69cd5b"/><path d="M991.4 528.4 987.6 529 983.7 529.6 987.6 530.8 991.4 532 995.2 531.3 999.1 530.7 995.2 529.5 991.4 528.4Z" fill="#6ccd5a"/><path d="M976.1 527.3 972.2 528 968.4 528.6 972.2 529.7 976 530.9 979.9 530.3 983.7 529.6 979.9 528.5 976.1 527.3Z" fill="#6ece58"/><path d="M960.8 526.3 956.9 526.9 953.1 527.5 956.9 528.6 960.7 529.8 964.5 529.2 968.4 528.6 964.6 527.4 960.8 526.3Z" fill="#70cf57"/><path d="M945.5 525.1 941.6 525.7 937.7 526.3 941.5 527.5 945.3 528.7 949.2 528.1 953.1 527.5 949.3 526.3 945.5 525.1Z" fill="#70cf57"/><path d="M1091 536.1 1087.3 536.8 1083.5 537.5 1087.4 538.5 1091.2 537.8 1094.9 537.2 1091 536.1Z" fill="#65cb5e"/><path d="M930.1 524 926.2 524.6 922.4 525.2 926.1 526.3 929.9 527.5 933.8 526.9 937.7 526.3 933.9 525.2 930.1 524Z" fill="#73d056"/><path d="M884.1 520.4 880.2 520.9 884 522.1 887.7 523.3 891.6 522.7 887.9 521.5 884.1 520.4Z" fill="#77d153"/><path d="M914.8 522.8 910.9 523.4 907 524 910.8 525.1 914.6 526.3 918.5 525.7 922.4 525.2 918.6 524 914.8 522.8Z" fill="#75d054"/><path d="M899.5 521.6 895.6 522.2 891.6 522.7 895.4 523.9 899.2 525.1 903.1 524.5 907 524 903.2 522.8 899.5 521.6Z" fill="#77d153"/><path d="M1075.7 535.3 1071.9 535.9 1068.2 536.6 1072.1 537.7 1076 538.9 1079.7 538.2 1083.5 537.5 1079.6 536.4 1075.7 535.3Z" fill="#67cc5c"/><path d="M1060.4 534.4 1056.6 535.1 1052.8 535.8 1056.7 536.9 1060.6 538 1064.4 537.3 1068.2 536.6 1064.3 535.5 1060.4 534.4Z" fill="#69cd5b"/><path d="M1045.1 533.5 1041.3 534.2 1037.5 534.9 1041.3 536 1045.2 537.1 1049 536.5 1052.8 535.8 1048.9 534.7 1045.1 533.5Z" fill="#69cd5b"/><path d="M1029.7 532.6 1025.9 533.3 1022.1 533.9 1026 535.1 1029.9 536.2 1033.7 535.6 1037.5 534.9 1033.6 533.7 1029.7 532.6Z" fill="#6ccd5a"/><path d="M1014.4 531.7 1010.6 532.3 1006.8 533 1010.6 534.1 1014.5 535.3 1018.3 534.6 1022.1 533.9 1018.3 532.8 1014.4 531.7Z" fill="#6ece58"/><path d="M999.1 530.7 995.2 531.3 991.4 532 995.2 533.1 999.1 534.3 1002.9 533.6 1006.8 533 1002.9 531.8 999.1 530.7Z" fill="#6ece58"/><path d="M983.7 529.6 979.9 530.3 976 530.9 979.9 532.1 983.7 533.3 987.6 532.6 991.4 532 987.6 530.8 983.7 529.6Z" fill="#70cf57"/><path d="M968.4 528.6 964.5 529.2 960.7 529.8 964.5 531 968.3 532.2 972.2 531.5 976 530.9 972.2 529.7 968.4 528.6Z" fill="#73d056"/><path d="M953.1 527.5 949.2 528.1 945.3 528.7 949.1 529.9 952.9 531.1 956.8 530.4 960.7 529.8 956.9 528.6 953.1 527.5Z" fill="#75d054"/><path d="M937.7 526.3 933.8 526.9 929.9 527.5 933.7 528.7 937.5 529.9 941.4 529.3 945.3 528.7 941.5 527.5 937.7 526.3Z" fill="#75d054"/><path d="M891.6 522.7 887.7 523.3 891.5 524.5 895.2 525.7 899.2 525.1 895.4 523.9 891.6 522.7Z" fill="#7ad151"/><path d="M1083.5 537.5 1079.7 538.2 1076 538.9 1079.9 540 1083.7 539.3 1087.4 538.5 1083.5 537.5Z" fill="#69cd5b"/><path d="M922.4 525.2 918.5 525.7 914.6 526.3 918.3 527.5 922.1 528.7 926 528.1 929.9 527.5 926.1 526.3 922.4 525.2Z" fill="#77d153"/><path d="M907 524 903.1 524.5 899.2 525.1 902.9 526.3 906.7 527.5 910.6 526.9 914.6 526.3 910.8 525.1 907 524Z" fill="#7ad151"/><path d="M1068.2 536.6 1064.4 537.3 1060.6 538 1064.5 539.1 1068.4 540.3 1072.2 539.6 1076 538.9 1072.1 537.7 1068.2 536.6Z" fill="#6ccd5a"/><path d="M1052.8 535.8 1049 536.5 1045.2 537.1 1049.1 538.3 1053 539.4 1056.8 538.7 1060.6 538 1056.7 536.9 1052.8 535.8Z" fill="#6ccd5a"/><path d="M1037.5 534.9 1033.7 535.6 1029.9 536.2 1033.7 537.4 1037.6 538.5 1041.4 537.8 1045.2 537.1 1041.3 536 1037.5 534.9Z" fill="#6ece58"/><path d="M1022.1 533.9 1018.3 534.6 1014.5 535.3 1018.3 536.4 1022.2 537.6 1026 536.9 1029.9 536.2 1026 535.1 1022.1 533.9Z" fill="#70cf57"/><path d="M1006.8 533 1002.9 533.6 999.1 534.3 1003 535.5 1006.8 536.6 1010.6 536 1014.5 535.3 1010.6 534.1 1006.8 533Z" fill="#70cf57"/><path d="M991.4 532 987.6 532.6 983.7 533.3 987.6 534.4 991.4 535.6 995.3 535 999.1 534.3 995.2 533.1 991.4 532Z" fill="#73d056"/><path d="M976 530.9 972.2 531.5 968.3 532.2 972.2 533.4 976 534.6 979.9 533.9 983.7 533.3 979.9 532.1 976 530.9Z" fill="#75d054"/><path d="M960.7 529.8 956.8 530.4 952.9 531.1 956.8 532.3 960.6 533.5 964.5 532.8 968.3 532.2 964.5 531 960.7 529.8Z" fill="#77d153"/><path d="M945.3 528.7 941.4 529.3 937.5 529.9 941.3 531.1 945.2 532.4 949 531.7 952.9 531.1 949.1 529.9 945.3 528.7Z" fill="#77d153"/><path d="M899.2 525.1 895.2 525.7 899 526.9 902.8 528.1 906.7 527.5 902.9 526.3 899.2 525.1Z" fill="#7fd34e"/><path d="M929.9 527.5 926 528.1 922.1 528.7 925.9 530 929.7 531.2 933.6 530.6 937.5 529.9 933.7 528.7 929.9 527.5Z" fill="#7ad151"/><path d="M1076 538.9 1072.2 539.6 1068.4 540.3 1072.3 541.4 1076.1 540.7 1079.9 540 1076 538.9Z" fill="#6ece58"/><path d="M914.6 526.3 910.6 526.9 906.7 527.5 910.5 528.8 914.3 530 918.2 529.4 922.1 528.7 918.3 527.5 914.6 526.3Z" fill="#7cd250"/><path d="M1060.6 538 1056.8 538.7 1053 539.4 1056.9 540.6 1060.8 541.7 1064.6 541 1068.4 540.3 1064.5 539.1 1060.6 538Z" fill="#70cf57"/><path d="M1045.2 537.1 1041.4 537.8 1037.6 538.5 1041.5 539.7 1045.4 540.8 1049.2 540.1 1053 539.4 1049.1 538.3 1045.2 537.1Z" fill="#70cf57"/><path d="M1029.9 536.2 1026 536.9 1022.2 537.6 1026.1 538.8 1030 539.9 1033.8 539.2 1037.6 538.5 1033.7 537.4 1029.9 536.2Z" fill="#73d056"/><path d="M1014.5 535.3 1010.6 536 1006.8 536.6 1010.7 537.8 1014.6 539 1018.4 538.3 1022.2 537.6 1018.3 536.4 1014.5 535.3Z" fill="#73d056"/><path d="M999.1 534.3 995.3 535 991.4 535.6 995.3 536.8 999.1 538 1003 537.3 1006.8 536.6 1003 535.5 999.1 534.3Z" fill="#75d054"/><path d="M983.7 533.3 979.9 533.9 976 534.6 979.8 535.8 983.7 537 987.5 536.3 991.4 535.6 987.6 534.4 983.7 533.3Z" fill="#77d153"/><path d="M968.3 532.2 964.5 532.8 960.6 533.5 964.4 534.7 968.2 535.9 972.1 535.2 976 534.6 972.2 533.4 968.3 532.2Z" fill="#7ad151"/><path d="M952.9 531.1 949 531.7 945.2 532.4 949 533.6 952.8 534.8 956.7 534.1 960.6 533.5 956.8 532.3 952.9 531.1Z" fill="#7cd250"/><path d="M906.7 527.5 902.8 528.1 906.6 529.4 910.4 530.6 914.3 530 910.5 528.8 906.7 527.5Z" fill="#81d34d"/><path d="M937.5 529.9 933.6 530.6 929.7 531.2 933.5 532.4 937.4 533.7 941.3 533 945.2 532.4 941.3 531.1 937.5 529.9Z" fill="#7cd250"/><path d="M922.1 528.7 918.2 529.4 914.3 530 918.1 531.2 921.9 532.5 925.8 531.8 929.7 531.2 925.9 530 922.1 528.7Z" fill="#7fd34e"/><path d="M1068.4 540.3 1064.6 541 1060.8 541.7 1064.7 542.8 1068.5 542.1 1072.3 541.4 1068.4 540.3Z" fill="#70cf57"/><path d="M1053 539.4 1049.2 540.1 1045.4 540.8 1049.3 542 1053.2 543.2 1057 542.4 1060.8 541.7 1056.9 540.6 1053 539.4Z" fill="#73d056"/><path d="M1037.6 538.5 1033.8 539.2 1030 539.9 1033.9 541.1 1037.8 542.3 1041.6 541.6 1045.4 540.8 1041.5 539.7 1037.6 538.5Z" fill="#75d054"/><path d="M1022.2 537.6 1018.4 538.3 1014.6 539 1018.4 540.2 1022.3 541.4 1026.2 540.7 1030 539.9 1026.1 538.8 1022.2 537.6Z" fill="#77d153"/><path d="M1006.8 536.6 1003 537.3 999.1 538 1003 539.2 1006.9 540.4 1010.7 539.7 1014.6 539 1010.7 537.8 1006.8 536.6Z" fill="#77d153"/><path d="M991.4 535.6 987.5 536.3 983.7 537 987.5 538.2 991.4 539.4 995.3 538.7 999.1 538 995.3 536.8 991.4 535.6Z" fill="#7ad151"/><path d="M976 534.6 972.1 535.2 968.2 535.9 972.1 537.1 975.9 538.4 979.8 537.7 983.7 537 979.8 535.8 976 534.6Z" fill="#7cd250"/><path d="M914.3 530 910.4 530.6 914.2 531.9 918 533.1 921.9 532.5 918.1 531.2 914.3 530Z" fill="#84d44b"/><path d="M960.6 533.5 956.7 534.1 952.8 534.8 956.6 536 960.5 537.3 964.4 536.6 968.2 535.9 964.4 534.7 960.6 533.5Z" fill="#7fd34e"/><path d="M945.2 532.4 941.3 533 937.4 533.7 941.2 534.9 945 536.1 948.9 535.5 952.8 534.8 949 533.6 945.2 532.4Z" fill="#7fd34e"/><path d="M929.7 531.2 925.8 531.8 921.9 532.5 925.7 533.7 929.5 535 933.5 534.3 937.4 533.7 933.5 532.4 929.7 531.2Z" fill="#81d34d"/><path d="M1060.8 541.7 1057 542.4 1053.2 543.2 1057.1 544.3 1060.9 543.6 1064.7 542.8 1060.8 541.7Z" fill="#75d054"/><path d="M1045.4 540.8 1041.6 541.6 1037.8 542.3 1041.7 543.5 1045.6 544.6 1049.4 543.9 1053.2 543.2 1049.3 542 1045.4 540.8Z" fill="#77d153"/><path d="M1030 539.9 1026.2 540.7 1022.3 541.4 1026.2 542.6 1030.1 543.7 1033.9 543 1037.8 542.3 1033.9 541.1 1030 539.9Z" fill="#7ad151"/><path d="M1014.6 539 1010.7 539.7 1006.9 540.4 1010.7 541.6 1014.6 542.8 1018.5 542.1 1022.3 541.4 1018.4 540.2 1014.6 539Z" fill="#7ad151"/><path d="M999.1 538 995.3 538.7 991.4 539.4 995.3 540.6 999.1 541.8 1003 541.1 1006.9 540.4 1003 539.2 999.1 538Z" fill="#7cd250"/><path d="M983.7 537 979.8 537.7 975.9 538.4 979.8 539.6 983.7 540.8 987.5 540.1 991.4 539.4 987.5 538.2 983.7 537Z" fill="#7fd34e"/><path d="M921.9 532.5 918 533.1 921.8 534.4 925.6 535.6 929.5 535 925.7 533.7 921.9 532.5Z" fill="#86d549"/><path d="M968.2 535.9 964.4 536.6 960.5 537.3 964.3 538.5 968.2 539.7 972.1 539 975.9 538.4 972.1 537.1 968.2 535.9Z" fill="#81d34d"/><path d="M952.8 534.8 948.9 535.5 945 536.1 948.8 537.4 952.7 538.6 956.6 537.9 960.5 537.3 956.6 536 952.8 534.8Z" fill="#81d34d"/><path d="M937.4 533.7 933.5 534.3 929.5 535 933.4 536.2 937.2 537.5 941.1 536.8 945 536.1 941.2 534.9 937.4 533.7Z" fill="#84d44b"/><path d="M1053.2 543.2 1049.4 543.9 1045.6 544.6 1049.5 545.8 1053.3 545 1057.1 544.3 1053.2 543.2Z" fill="#7ad151"/><path d="M1037.8 542.3 1033.9 543 1030.1 543.7 1034 544.9 1037.9 546.1 1041.8 545.4 1045.6 544.6 1041.7 543.5 1037.8 542.3Z" fill="#7cd250"/><path d="M1022.3 541.4 1018.5 542.1 1014.6 542.8 1018.5 544 1022.4 545.2 1026.3 544.5 1030.1 543.7 1026.2 542.6 1022.3 541.4Z" fill="#7fd34e"/><path d="M1006.9 540.4 1003 541.1 999.1 541.8 1003 543 1006.9 544.3 1010.8 543.5 1014.6 542.8 1010.7 541.6 1006.9 540.4Z" fill="#7fd34e"/><path d="M991.4 539.4 987.5 540.1 983.7 540.8 987.5 542 991.4 543.3 995.3 542.5 999.1 541.8 995.3 540.6 991.4 539.4Z" fill="#81d34d"/><path d="M929.5 535 925.6 535.6 929.4 536.9 933.3 538.2 937.2 537.5 933.4 536.2 929.5 535Z" fill="#89d548"/><path d="M975.9 538.4 972.1 539 968.2 539.7 972 541 975.9 542.2 979.8 541.5 983.7 540.8 979.8 539.6 975.9 538.4Z" fill="#84d44b"/><path d="M960.5 537.3 956.6 537.9 952.7 538.6 956.5 539.9 960.4 541.2 964.3 540.4 968.2 539.7 964.3 538.5 960.5 537.3Z" fill="#84d44b"/><path d="M945 536.1 941.1 536.8 937.2 537.5 941 538.8 944.9 540 948.8 539.3 952.7 538.6 948.8 537.4 945 536.1Z" fill="#86d549"/><path d="M1045.6 544.6 1041.8 545.4 1037.9 546.1 1041.8 547.3 1045.7 546.5 1049.5 545.8 1045.6 544.6Z" fill="#7fd34e"/><path d="M1030.1 543.7 1026.3 544.5 1022.4 545.2 1026.3 546.4 1030.2 547.6 1034.1 546.9 1037.9 546.1 1034 544.9 1030.1 543.7Z" fill="#81d34d"/><path d="M1014.6 542.8 1010.8 543.5 1006.9 544.3 1010.8 545.5 1014.7 546.7 1018.6 545.9 1022.4 545.2 1018.5 544 1014.6 542.8Z" fill="#81d34d"/><path d="M999.1 541.8 995.3 542.5 991.4 543.3 995.3 544.5 999.2 545.7 1003 545 1006.9 544.3 1003 543 999.1 541.8Z" fill="#84d44b"/><path d="M937.2 537.5 933.3 538.2 937.1 539.4 940.9 540.7 944.9 540 941 538.8 937.2 537.5Z" fill="#8bd646"/><path d="M983.7 540.8 979.8 541.5 975.9 542.2 979.8 543.5 983.6 544.7 987.5 544 991.4 543.3 987.5 542 983.7 540.8Z" fill="#86d549"/><path d="M968.2 539.7 964.3 540.4 960.4 541.2 964.2 542.4 968.1 543.7 972 543 975.9 542.2 972 541 968.2 539.7Z" fill="#86d549"/><path d="M952.7 538.6 948.8 539.3 944.9 540 948.7 541.3 952.6 542.6 956.5 541.9 960.4 541.2 956.5 539.9 952.7 538.6Z" fill="#89d548"/><path d="M1037.9 546.1 1034.1 546.9 1030.2 547.6 1034.1 548.8 1038 548 1041.8 547.3 1037.9 546.1Z" fill="#81d34d"/><path d="M1022.4 545.2 1018.6 545.9 1014.7 546.7 1018.6 547.9 1022.5 549.1 1026.4 548.4 1030.2 547.6 1026.3 546.4 1022.4 545.2Z" fill="#84d44b"/><path d="M1006.9 544.3 1003 545 999.2 545.7 1003.1 547 1007 548.2 1010.8 547.4 1014.7 546.7 1010.8 545.5 1006.9 544.3Z" fill="#86d549"/><path d="M944.9 540 940.9 540.7 944.8 542 948.6 543.3 952.6 542.6 948.7 541.3 944.9 540Z" fill="#8ed645"/><path d="M991.4 543.3 987.5 544 983.6 544.7 987.5 546 991.4 547.2 995.3 546.5 999.2 545.7 995.3 544.5 991.4 543.3Z" fill="#89d548"/><path d="M975.9 542.2 972 543 968.1 543.7 972 544.9 975.8 546.2 979.7 545.5 983.6 544.7 979.8 543.5 975.9 542.2Z" fill="#89d548"/><path d="M960.4 541.2 956.5 541.9 952.6 542.6 956.4 543.9 960.3 545.1 964.2 544.4 968.1 543.7 964.2 542.4 960.4 541.2Z" fill="#8bd646"/><path d="M1030.2 547.6 1026.4 548.4 1022.5 549.1 1026.4 550.3 1030.3 549.6 1034.1 548.8 1030.2 547.6Z" fill="#86d549"/><path d="M1014.7 546.7 1010.8 547.4 1007 548.2 1010.9 549.4 1014.8 550.7 1018.7 549.9 1022.5 549.1 1018.6 547.9 1014.7 546.7Z" fill="#89d548"/><path d="M952.6 542.6 948.6 543.3 952.5 544.6 956.4 545.9 960.3 545.1 956.4 543.9 952.6 542.6Z" fill="#90d743"/><path d="M999.2 545.7 995.3 546.5 991.4 547.2 995.3 548.5 999.2 549.7 1003.1 549 1007 548.2 1003.1 547 999.2 545.7Z" fill="#8bd646"/><path d="M983.6 544.7 979.7 545.5 975.8 546.2 979.7 547.5 983.6 548.7 987.5 548 991.4 547.2 987.5 546 983.6 544.7Z" fill="#8ed645"/><path d="M968.1 543.7 964.2 544.4 960.3 545.1 964.1 546.4 968 547.7 971.9 546.9 975.8 546.2 972 544.9 968.1 543.7Z" fill="#8ed645"/><path d="M1022.5 549.1 1018.7 549.9 1014.8 550.7 1018.7 551.9 1022.6 551.1 1026.4 550.3 1022.5 549.1Z" fill="#8bd646"/><path d="M960.3 545.1 956.4 545.9 960.2 547.2 964.1 548.4 968 547.7 964.1 546.4 960.3 545.1Z" fill="#93d741"/><path d="M1007 548.2 1003.1 549 999.2 549.7 1003.1 551 1007 552.2 1010.9 551.4 1014.8 550.7 1010.9 549.4 1007 548.2Z" fill="#8ed645"/><path d="M991.4 547.2 987.5 548 983.6 548.7 987.5 550 991.4 551.3 995.3 550.5 999.2 549.7 995.3 548.5 991.4 547.2Z" fill="#90d743"/><path d="M975.8 546.2 971.9 546.9 968 547.7 971.9 549 975.8 550.3 979.7 549.5 983.6 548.7 979.7 547.5 975.8 546.2Z" fill="#90d743"/><path d="M1014.8 550.7 1010.9 551.4 1007 552.2 1010.9 553.4 1014.8 552.7 1018.7 551.9 1014.8 550.7Z" fill="#90d743"/><path d="M968 547.7 964.1 548.4 968 549.7 971.9 551 975.8 550.3 971.9 549 968 547.7Z" fill="#95d840"/><path d="M999.2 549.7 995.3 550.5 991.4 551.3 995.3 552.5 999.2 553.8 1003.1 553 1007 552.2 1003.1 551 999.2 549.7Z" fill="#93d741"/><path d="M983.6 548.7 979.7 549.5 975.8 550.3 979.7 551.5 983.6 552.8 987.5 552 991.4 551.3 987.5 550 983.6 548.7Z" fill="#93d741"/><path d="M1007 552.2 1003.1 553 999.2 553.8 1003.1 555 1007 554.2 1010.9 553.4 1007 552.2Z" fill="#93d741"/><path d="M975.8 550.3 971.9 551 975.8 552.3 979.7 553.6 983.6 552.8 979.7 551.5 975.8 550.3Z" fill="#98d83e"/><path d="M991.4 551.3 987.5 552 983.6 552.8 987.5 554.1 991.4 555.4 995.3 554.6 999.2 553.8 995.3 552.5 991.4 551.3Z" fill="#95d840"/><path d="M999.2 553.8 995.3 554.6 991.4 555.4 995.3 556.6 999.2 555.8 1003.1 555 999.2 553.8Z" fill="#98d83e"/><path d="M983.6 552.8 979.7 553.6 983.6 554.9 987.5 556.2 991.4 555.4 987.5 554.1 983.6 552.8Z" fill="#9bd93c"/><path d="M991.4 555.4 987.5 556.2 991.4 557.4 995.3 556.6 991.4 555.4Z" fill="#9bd93c"/></g><rect x="1412.6" y="64.5" width="11.1" height="11.1" rx="2.8" fill="#fff" fill-opacity="0.8" stroke="#d2d2d2" stroke-width="1.2"/><defs><linearGradient id="cbg" x1="0" y1="1" x2="0" y2="0"><stop offset="0.0000" stop-color="#693476"/><stop offset="0.0312" stop-color="#6c3d80"/><stop offset="0.0625" stop-color="#6d4688"/><stop offset="0.0938" stop-color="#6d4f8f"/><stop offset="0.1250" stop-color="#6c5796"/><stop offset="0.1562" stop-color="#6a5f9a"/><stop offset="0.1875" stop-color="#68669e"/><stop offset="0.2188" stop-color="#656ea1"/><stop offset="0.2500" stop-color="#6275a2"/><stop offset="0.2812" stop-color="#5f7ca3"/><stop offset="0.3125" stop-color="#5c82a4"/><stop offset="0.3438" stop-color="#5988a5"/><stop offset="0.3750" stop-color="#568fa5"/><stop offset="0.4062" stop-color="#5495a5"/><stop offset="0.4375" stop-color="#519ba5"/><stop offset="0.4688" stop-color="#4fa1a4"/><stop offset="0.5000" stop-color="#4da7a3"/><stop offset="0.5312" stop-color="#4cada2"/><stop offset="0.5625" stop-color="#4cb3a0"/><stop offset="0.5938" stop-color="#4eb99d"/><stop offset="0.6250" stop-color="#53be99"/><stop offset="0.6562" stop-color="#5bc495"/><stop offset="0.6875" stop-color="#65ca8f"/><stop offset="0.7188" stop-color="#71cf89"/><stop offset="0.7500" stop-color="#7ed481"/><stop offset="0.7812" stop-color="#8dd879"/><stop offset="0.8125" stop-color="#9cdd6f"/><stop offset="0.8438" stop-color="#ade065"/><stop offset="0.8750" stop-color="#bde35a"/><stop offset="0.9062" stop-color="#cfe64f"/><stop offset="0.9375" stop-color="#dfe847"/><stop offset="0.9688" stop-color="#f0ea48"/><stop offset="1.0000" stop-color="#feec50"/></linearGradient></defs><rect x="1618.4" y="57.3" width="44.9" height="900.9" fill="url(#cbg)"/><rect x="1618.4" y="57.3" width="44.9" height="900.9" fill="none" stroke="#000" stroke-width="1.11"/><path d="M1663.3,937.50 L1668.2,937.50 M1663.3,814.50 L1668.2,814.50 M1663.3,691.50 L1668.2,691.50 M1663.3,568.50 L1668.2,568.50 M1663.3,444.50 L1668.2,444.50 M1663.3,321.50 L1668.2,321.50 M1663.3,198.50 L1668.2,198.50 M1663.3,75.50 L1668.2,75.50" fill="none" stroke="#000" stroke-width="1.11"/><g font-family="Liberation Sans, sans-serif" text-anchor="middle" fill="#000"><text x="1349.9" y="743.2" font-size="13.89" textLength="21.5" lengthAdjust="spacingAndGlyphs">6.6</text><text x="1282.7" y="782.1" font-size="13.89" textLength="21.5" lengthAdjust="spacingAndGlyphs">6.8</text><text x="1213.8" y="822.0" font-size="13.89" textLength="21.2" lengthAdjust="spacingAndGlyphs">7.0</text><text x="1143.1" y="862.9" font-size="13.89" textLength="21.2" lengthAdjust="spacingAndGlyphs">7.2</text><text x="1070.5" y="904.9" font-size="13.89" textLength="21.2" lengthAdjust="spacingAndGlyphs">7.4</text><text x="1247.3" y="858.7" font-size="16.67" textLength="54.9" lengthAdjust="spacingAndGlyphs" transform="rotate(-29.8 1247.3 858.7)">Strikes</text><text x="593.6" y="720.4" font-size="13.89" textLength="21.2" lengthAdjust="spacingAndGlyphs">0.0</text><text x="649.7" y="752.9" font-size="13.89" textLength="21.2" lengthAdjust="spacingAndGlyphs">0.5</text><text x="707.0" y="786.0" font-size="13.89" textLength="21.3" lengthAdjust="spacingAndGlyphs">1.0</text><text x="765.5" y="819.9" font-size="13.89" textLength="21.3" lengthAdjust="spacingAndGlyphs">1.5</text><text x="825.3" y="854.6" font-size="13.89" textLength="21.2" lengthAdjust="spacingAndGlyphs">2.0</text><text x="886.5" y="890.0" font-size="13.89" textLength="21.2" lengthAdjust="spacingAndGlyphs">2.5</text><text x="949.0" y="926.2" font-size="13.89" textLength="21.2" lengthAdjust="spacingAndGlyphs">3.0</text><text x="735.7" y="858.3" font-size="16.67" textLength="42.6" lengthAdjust="spacingAndGlyphs" transform="rotate(-330.2 735.7 858.3)">Years</text><text x="561.4" y="661.2" font-size="13.89" textLength="38.2" lengthAdjust="spacingAndGlyphs">0.025</text><text x="559.1" y="616.7" font-size="13.89" textLength="38.2" lengthAdjust="spacingAndGlyphs">0.030</text><text x="556.8" y="571.7" font-size="13.89" textLength="38.2" lengthAdjust="spacingAndGlyphs">0.035</text><text x="554.4" y="526.1" font-size="13.89" textLength="38.2" lengthAdjust="spacingAndGlyphs">0.040</text><text x="552.0" y="480.1" font-size="13.89" textLength="38.2" lengthAdjust="spacingAndGlyphs">0.045</text><text x="549.6" y="433.6" font-size="13.89" textLength="38.2" lengthAdjust="spacingAndGlyphs">0.050</text><text x="547.1" y="386.6" font-size="13.89" textLength="38.2" lengthAdjust="spacingAndGlyphs">0.055</text><text x="544.7" y="339.1" font-size="13.89" textLength="38.3" lengthAdjust="spacingAndGlyphs">0.060</text><text x="490.1" y="494.8" font-size="16.67" textLength="71.8" lengthAdjust="spacingAndGlyphs" transform="rotate(-272.8 490.1 494.8)">Volatility</text><text x="1692.7" y="942.1" font-size="13.89" textLength="38.2" lengthAdjust="spacingAndGlyphs">0.025</text><text x="1692.7" y="818.9" font-size="13.89" textLength="38.2" lengthAdjust="spacingAndGlyphs">0.030</text><text x="1692.7" y="695.8" font-size="13.89" textLength="38.2" lengthAdjust="spacingAndGlyphs">0.035</text><text x="1692.7" y="572.7" font-size="13.89" textLength="38.2" lengthAdjust="spacingAndGlyphs">0.040</text><text x="1692.7" y="449.5" font-size="13.89" textLength="38.2" lengthAdjust="spacingAndGlyphs">0.045</text><text x="1692.7" y="326.4" font-size="13.89" textLength="38.2" lengthAdjust="spacingAndGlyphs">0.050</text><text x="1692.7" y="203.2" font-size="13.89" textLength="38.2" lengthAdjust="spacingAndGlyphs">0.055</text><text x="1692.8" y="80.1" font-size="13.89" textLength="38.3" lengthAdjust="spacingAndGlyphs">0.060</text><text x="1729.1" y="506.9" font-size="13.89" textLength="101.2" lengthAdjust="spacingAndGlyphs" transform="rotate(-90.0 1729.1 506.9)">Volatility Level</text><text x="978.8" y="28.1" font-size="22.22" textLength="542.1" lengthAdjust="spacingAndGlyphs">USDCNY FX Option Volatility Surface 2025-08-18</text></g></svg></body></html>
